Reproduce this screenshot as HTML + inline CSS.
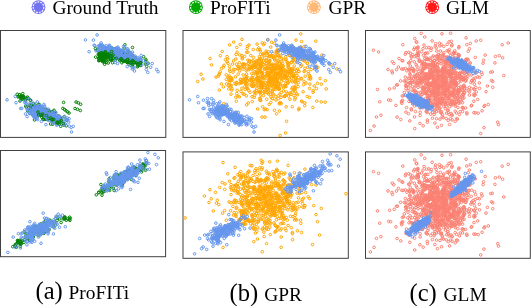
<!DOCTYPE html>
<html><head><meta charset="utf-8"><style>
html,body{margin:0;padding:0;background:#fff;width:532px;height:306px;overflow:hidden}
svg{display:block;will-change:transform}
text{font-family:'Liberation Serif', serif;fill:#000}
.s circle{r:1.3px}
</style></head><body>
<svg width="532" height="306" viewBox="0 0 532 306">
<rect x="0.5" y="30.5" width="165.30" height="106.90" fill="none" stroke="#404040" stroke-width="1"/>
<rect x="183.0" y="30.5" width="165.30" height="106.90" fill="none" stroke="#404040" stroke-width="1"/>
<rect x="365.5" y="30.5" width="164.80" height="106.90" fill="none" stroke="#404040" stroke-width="1"/>
<rect x="0.5" y="150.5" width="165.10" height="106.20" fill="none" stroke="#404040" stroke-width="1"/>
<rect x="183.0" y="151.9" width="165.30" height="106.40" fill="none" stroke="#404040" stroke-width="1"/>
<rect x="365.5" y="151.9" width="164.80" height="106.40" fill="none" stroke="#404040" stroke-width="1"/>
<g fill="none" stroke="#008000" stroke-width="1.0" class="s"><circle cx="110.3" cy="54.7" r="1.3"/><circle cx="104.4" cy="57.2" r="1.3"/><circle cx="111.9" cy="58.1" r="1.3"/><circle cx="100.7" cy="56.5" r="1.3"/><circle cx="103.5" cy="59.0" r="1.3"/><circle cx="99.0" cy="53.5" r="1.3"/><circle cx="103.1" cy="56.3" r="1.3"/><circle cx="106.6" cy="50.0" r="1.3"/><circle cx="110.3" cy="58.2" r="1.3"/><circle cx="101.8" cy="56.0" r="1.3"/><circle cx="104.5" cy="54.0" r="1.3"/><circle cx="103.1" cy="59.6" r="1.3"/><circle cx="101.5" cy="57.9" r="1.3"/><circle cx="99.7" cy="45.6" r="1.3"/><circle cx="104.7" cy="55.6" r="1.3"/><circle cx="97.6" cy="50.4" r="1.3"/><circle cx="104.9" cy="59.2" r="1.3"/><circle cx="104.6" cy="64.2" r="1.3"/><circle cx="101.9" cy="53.7" r="1.3"/><circle cx="100.5" cy="55.8" r="1.3"/><circle cx="99.0" cy="54.6" r="1.3"/><circle cx="112.0" cy="56.7" r="1.3"/><circle cx="99.1" cy="57.8" r="1.3"/><circle cx="110.7" cy="60.0" r="1.3"/><circle cx="106.9" cy="52.0" r="1.3"/><circle cx="103.0" cy="61.0" r="1.3"/><circle cx="99.9" cy="52.2" r="1.3"/><circle cx="108.7" cy="56.5" r="1.3"/><circle cx="111.4" cy="59.6" r="1.3"/><circle cx="100.8" cy="58.0" r="1.3"/><circle cx="103.3" cy="52.2" r="1.3"/><circle cx="108.7" cy="53.0" r="1.3"/><circle cx="105.8" cy="53.9" r="1.3"/><circle cx="112.5" cy="55.3" r="1.3"/><circle cx="102.2" cy="59.5" r="1.3"/><circle cx="106.7" cy="51.0" r="1.3"/><circle cx="99.5" cy="57.1" r="1.3"/><circle cx="112.9" cy="57.6" r="1.3"/><circle cx="101.6" cy="57.5" r="1.3"/><circle cx="95.7" cy="57.1" r="1.3"/><circle cx="104.0" cy="60.8" r="1.3"/><circle cx="103.9" cy="57.2" r="1.3"/><circle cx="112.2" cy="58.5" r="1.3"/><circle cx="103.1" cy="57.5" r="1.3"/><circle cx="104.4" cy="61.8" r="1.3"/><circle cx="106.9" cy="48.9" r="1.3"/><circle cx="110.8" cy="60.0" r="1.3"/><circle cx="104.2" cy="54.6" r="1.3"/><circle cx="108.7" cy="54.5" r="1.3"/><circle cx="106.6" cy="52.1" r="1.3"/><circle cx="103.3" cy="49.0" r="1.3"/><circle cx="104.8" cy="54.2" r="1.3"/><circle cx="104.6" cy="53.1" r="1.3"/><circle cx="100.8" cy="57.2" r="1.3"/><circle cx="109.4" cy="50.3" r="1.3"/><circle cx="99.0" cy="60.5" r="1.3"/><circle cx="109.2" cy="56.5" r="1.3"/><circle cx="108.3" cy="54.6" r="1.3"/><circle cx="104.1" cy="53.0" r="1.3"/><circle cx="101.4" cy="52.7" r="1.3"/><circle cx="110.2" cy="49.7" r="1.3"/><circle cx="115.5" cy="52.5" r="1.3"/><circle cx="121.2" cy="52.8" r="1.3"/><circle cx="118.6" cy="55.1" r="1.3"/><circle cx="106.7" cy="51.8" r="1.3"/><circle cx="117.9" cy="54.4" r="1.3"/><circle cx="112.3" cy="51.1" r="1.3"/><circle cx="124.9" cy="44.8" r="1.3"/><circle cx="138.4" cy="60.1" r="1.3"/><circle cx="128.0" cy="51.1" r="1.3"/><circle cx="117.3" cy="54.9" r="1.3"/><circle cx="103.9" cy="54.1" r="1.3"/><circle cx="106.6" cy="52.1" r="1.3"/><circle cx="104.5" cy="49.5" r="1.3"/><circle cx="127.7" cy="56.4" r="1.3"/><circle cx="113.2" cy="52.6" r="1.3"/><circle cx="121.5" cy="53.6" r="1.3"/><circle cx="114.9" cy="51.7" r="1.3"/><circle cx="122.1" cy="52.6" r="1.3"/><circle cx="133.1" cy="62.1" r="1.3"/><circle cx="113.9" cy="53.2" r="1.3"/><circle cx="116.5" cy="56.9" r="1.3"/><circle cx="112.9" cy="52.2" r="1.3"/><circle cx="128.9" cy="57.5" r="1.3"/><circle cx="110.7" cy="51.9" r="1.3"/><circle cx="109.2" cy="53.4" r="1.3"/><circle cx="106.5" cy="53.8" r="1.3"/><circle cx="106.7" cy="52.0" r="1.3"/><circle cx="125.6" cy="54.3" r="1.3"/><circle cx="145.9" cy="59.4" r="1.3"/><circle cx="109.6" cy="57.2" r="1.3"/><circle cx="129.9" cy="56.7" r="1.3"/><circle cx="123.2" cy="54.8" r="1.3"/><circle cx="108.7" cy="56.4" r="1.3"/><circle cx="117.0" cy="57.4" r="1.3"/><circle cx="117.8" cy="55.9" r="1.3"/><circle cx="114.1" cy="52.1" r="1.3"/><circle cx="137.3" cy="66.8" r="1.3"/><circle cx="101.8" cy="51.2" r="1.3"/><circle cx="123.8" cy="57.6" r="1.3"/><circle cx="123.8" cy="55.4" r="1.3"/><circle cx="116.0" cy="49.4" r="1.3"/><circle cx="123.0" cy="51.5" r="1.3"/><circle cx="128.7" cy="58.5" r="1.3"/><circle cx="121.7" cy="56.5" r="1.3"/><circle cx="124.7" cy="55.4" r="1.3"/><circle cx="128.1" cy="53.4" r="1.3"/><circle cx="102.0" cy="45.6" r="1.3"/><circle cx="135.0" cy="57.9" r="1.3"/><circle cx="143.6" cy="56.7" r="1.3"/><circle cx="129.3" cy="60.1" r="1.3"/><circle cx="129.4" cy="61.0" r="1.3"/><circle cx="104.7" cy="59.6" r="1.3"/><circle cx="118.7" cy="57.2" r="1.3"/><circle cx="113.1" cy="51.2" r="1.3"/><circle cx="115.5" cy="51.0" r="1.3"/><circle cx="132.5" cy="47.5" r="1.3"/><circle cx="113.2" cy="51.2" r="1.3"/><circle cx="119.4" cy="54.2" r="1.3"/><circle cx="101.3" cy="52.9" r="1.3"/><circle cx="118.5" cy="56.4" r="1.3"/><circle cx="120.9" cy="56.9" r="1.3"/><circle cx="113.5" cy="53.8" r="1.3"/><circle cx="113.0" cy="55.1" r="1.3"/><circle cx="137.6" cy="64.1" r="1.3"/><circle cx="109.6" cy="48.8" r="1.3"/><circle cx="110.7" cy="51.0" r="1.3"/><circle cx="113.8" cy="48.9" r="1.3"/><circle cx="130.8" cy="62.8" r="1.3"/><circle cx="139.8" cy="64.2" r="1.3"/><circle cx="123.1" cy="58.0" r="1.3"/><circle cx="114.5" cy="49.7" r="1.3"/><circle cx="116.2" cy="54.4" r="1.3"/><circle cx="131.0" cy="57.1" r="1.3"/><circle cx="111.6" cy="52.9" r="1.3"/><circle cx="134.7" cy="58.2" r="1.3"/><circle cx="133.8" cy="60.2" r="1.3"/><circle cx="121.5" cy="54.0" r="1.3"/><circle cx="126.1" cy="59.1" r="1.3"/><circle cx="127.6" cy="57.6" r="1.3"/><circle cx="135.7" cy="58.2" r="1.3"/><circle cx="110.4" cy="52.0" r="1.3"/><circle cx="132.3" cy="56.8" r="1.3"/><circle cx="116.2" cy="56.4" r="1.3"/><circle cx="113.3" cy="52.2" r="1.3"/><circle cx="121.3" cy="56.1" r="1.3"/><circle cx="118.7" cy="53.3" r="1.3"/><circle cx="112.1" cy="48.1" r="1.3"/><circle cx="104.4" cy="53.5" r="1.3"/><circle cx="112.2" cy="49.5" r="1.3"/><circle cx="134.0" cy="60.7" r="1.3"/><circle cx="139.1" cy="61.3" r="1.3"/><circle cx="128.1" cy="51.9" r="1.3"/><circle cx="132.7" cy="55.3" r="1.3"/><circle cx="115.9" cy="52.2" r="1.3"/><circle cx="120.4" cy="52.4" r="1.3"/><circle cx="124.1" cy="52.3" r="1.3"/><circle cx="109.5" cy="54.3" r="1.3"/><circle cx="111.1" cy="51.7" r="1.3"/><circle cx="121.1" cy="56.4" r="1.3"/><circle cx="117.7" cy="52.9" r="1.3"/><circle cx="110.0" cy="53.1" r="1.3"/><circle cx="124.8" cy="53.8" r="1.3"/><circle cx="118.0" cy="54.2" r="1.3"/><circle cx="129.9" cy="59.3" r="1.3"/><circle cx="120.4" cy="55.1" r="1.3"/><circle cx="118.0" cy="52.9" r="1.3"/><circle cx="122.6" cy="52.2" r="1.3"/><circle cx="118.7" cy="55.0" r="1.3"/><circle cx="113.8" cy="54.3" r="1.3"/><circle cx="116.8" cy="53.2" r="1.3"/><circle cx="128.3" cy="54.7" r="1.3"/><circle cx="126.3" cy="58.2" r="1.3"/><circle cx="131.0" cy="65.5" r="1.3"/><circle cx="104.4" cy="49.7" r="1.3"/><circle cx="116.4" cy="55.0" r="1.3"/><circle cx="116.2" cy="55.0" r="1.3"/><circle cx="124.2" cy="48.0" r="1.3"/><circle cx="116.0" cy="54.2" r="1.3"/><circle cx="116.1" cy="51.6" r="1.3"/><circle cx="127.0" cy="61.0" r="1.3"/><circle cx="122.4" cy="54.7" r="1.3"/><circle cx="109.8" cy="49.7" r="1.3"/><circle cx="133.6" cy="57.8" r="1.3"/><circle cx="130.0" cy="58.1" r="1.3"/><circle cx="115.4" cy="51.9" r="1.3"/><circle cx="128.6" cy="57.0" r="1.3"/><circle cx="114.5" cy="49.2" r="1.3"/><circle cx="131.5" cy="57.3" r="1.3"/><circle cx="117.8" cy="56.7" r="1.3"/><circle cx="148.2" cy="63.4" r="1.3"/><circle cx="136.9" cy="61.8" r="1.3"/><circle cx="132.9" cy="62.0" r="1.3"/><circle cx="141.1" cy="62.5" r="1.3"/><circle cx="139.3" cy="64.5" r="1.3"/><circle cx="145.3" cy="64.0" r="1.3"/><circle cx="140.1" cy="63.2" r="1.3"/><circle cx="129.5" cy="61.3" r="1.3"/><circle cx="132.6" cy="62.9" r="1.3"/><circle cx="132.2" cy="61.1" r="1.3"/><circle cx="132.9" cy="63.6" r="1.3"/><circle cx="132.2" cy="62.5" r="1.3"/><circle cx="123.5" cy="60.5" r="1.3"/><circle cx="111.8" cy="58.3" r="1.3"/><circle cx="124.4" cy="61.2" r="1.3"/><circle cx="112.3" cy="59.8" r="1.3"/><circle cx="130.9" cy="63.0" r="1.3"/><circle cx="130.4" cy="62.1" r="1.3"/><circle cx="115.4" cy="60.2" r="1.3"/><circle cx="136.6" cy="62.8" r="1.3"/><circle cx="137.9" cy="64.7" r="1.3"/><circle cx="131.4" cy="61.6" r="1.3"/><circle cx="145.8" cy="61.0" r="1.3"/><circle cx="146.7" cy="66.4" r="1.3"/><circle cx="119.8" cy="59.8" r="1.3"/><circle cx="140.0" cy="61.4" r="1.3"/><circle cx="134.5" cy="61.9" r="1.3"/><circle cx="134.4" cy="60.8" r="1.3"/><circle cx="138.2" cy="66.1" r="1.3"/><circle cx="124.0" cy="61.1" r="1.3"/><circle cx="125.7" cy="58.3" r="1.3"/><circle cx="123.0" cy="61.0" r="1.3"/><circle cx="123.9" cy="59.7" r="1.3"/><circle cx="129.1" cy="64.2" r="1.3"/><circle cx="117.9" cy="57.7" r="1.3"/><circle cx="121.8" cy="56.5" r="1.3"/><circle cx="135.6" cy="62.5" r="1.3"/><circle cx="130.0" cy="60.9" r="1.3"/><circle cx="134.0" cy="61.5" r="1.3"/><circle cx="114.3" cy="55.4" r="1.3"/><circle cx="46.5" cy="116.7" r="1.3"/><circle cx="58.0" cy="121.5" r="1.3"/><circle cx="25.7" cy="106.0" r="1.3"/><circle cx="52.7" cy="121.0" r="1.3"/><circle cx="37.7" cy="112.1" r="1.3"/><circle cx="63.8" cy="125.1" r="1.3"/><circle cx="49.0" cy="111.5" r="1.3"/><circle cx="41.1" cy="113.7" r="1.3"/><circle cx="50.6" cy="124.0" r="1.3"/><circle cx="49.0" cy="113.7" r="1.3"/><circle cx="38.3" cy="110.1" r="1.3"/><circle cx="48.7" cy="118.6" r="1.3"/><circle cx="37.6" cy="113.6" r="1.3"/><circle cx="26.4" cy="107.3" r="1.3"/><circle cx="64.1" cy="116.9" r="1.3"/><circle cx="39.7" cy="113.0" r="1.3"/><circle cx="39.6" cy="107.0" r="1.3"/><circle cx="47.7" cy="112.0" r="1.3"/><circle cx="28.6" cy="108.0" r="1.3"/><circle cx="31.6" cy="106.4" r="1.3"/><circle cx="37.9" cy="113.2" r="1.3"/><circle cx="34.5" cy="119.9" r="1.3"/><circle cx="43.1" cy="115.6" r="1.3"/><circle cx="52.7" cy="119.8" r="1.3"/><circle cx="40.4" cy="108.4" r="1.3"/><circle cx="48.8" cy="113.2" r="1.3"/><circle cx="50.4" cy="112.5" r="1.3"/><circle cx="34.4" cy="106.9" r="1.3"/><circle cx="47.0" cy="110.8" r="1.3"/><circle cx="35.8" cy="107.1" r="1.3"/><circle cx="53.4" cy="116.9" r="1.3"/><circle cx="49.0" cy="112.0" r="1.3"/><circle cx="45.6" cy="109.0" r="1.3"/><circle cx="33.2" cy="103.4" r="1.3"/><circle cx="43.9" cy="114.8" r="1.3"/><circle cx="36.5" cy="109.9" r="1.3"/><circle cx="48.5" cy="119.0" r="1.3"/><circle cx="41.0" cy="115.5" r="1.3"/><circle cx="36.6" cy="108.6" r="1.3"/><circle cx="51.0" cy="118.9" r="1.3"/><circle cx="52.0" cy="111.9" r="1.3"/><circle cx="35.0" cy="117.1" r="1.3"/><circle cx="52.4" cy="121.4" r="1.3"/><circle cx="41.1" cy="111.1" r="1.3"/><circle cx="42.3" cy="108.3" r="1.3"/><circle cx="44.1" cy="114.6" r="1.3"/><circle cx="39.2" cy="104.4" r="1.3"/><circle cx="40.6" cy="108.9" r="1.3"/><circle cx="41.0" cy="114.5" r="1.3"/><circle cx="57.3" cy="119.7" r="1.3"/><circle cx="57.8" cy="117.9" r="1.3"/><circle cx="39.9" cy="114.7" r="1.3"/><circle cx="59.5" cy="116.8" r="1.3"/><circle cx="42.7" cy="113.6" r="1.3"/><circle cx="47.6" cy="113.2" r="1.3"/><circle cx="52.7" cy="114.3" r="1.3"/><circle cx="45.5" cy="115.6" r="1.3"/><circle cx="66.7" cy="120.3" r="1.3"/><circle cx="43.1" cy="119.5" r="1.3"/><circle cx="33.4" cy="106.2" r="1.3"/><circle cx="52.6" cy="124.3" r="1.3"/><circle cx="41.2" cy="108.1" r="1.3"/><circle cx="39.9" cy="113.5" r="1.3"/><circle cx="18.0" cy="96.9" r="1.3"/><circle cx="54.4" cy="113.3" r="1.3"/><circle cx="50.7" cy="116.9" r="1.3"/><circle cx="49.8" cy="118.3" r="1.3"/><circle cx="54.1" cy="113.4" r="1.3"/><circle cx="57.2" cy="123.6" r="1.3"/><circle cx="44.2" cy="110.5" r="1.3"/><circle cx="51.8" cy="117.3" r="1.3"/><circle cx="36.2" cy="111.0" r="1.3"/><circle cx="39.5" cy="113.2" r="1.3"/><circle cx="55.5" cy="112.3" r="1.3"/><circle cx="44.9" cy="119.3" r="1.3"/><circle cx="30.7" cy="109.0" r="1.3"/><circle cx="47.4" cy="113.3" r="1.3"/><circle cx="43.2" cy="109.3" r="1.3"/><circle cx="38.4" cy="104.6" r="1.3"/><circle cx="49.3" cy="110.9" r="1.3"/><circle cx="39.1" cy="112.9" r="1.3"/><circle cx="29.7" cy="105.4" r="1.3"/><circle cx="35.0" cy="105.0" r="1.3"/><circle cx="60.2" cy="118.9" r="1.3"/><circle cx="27.7" cy="111.1" r="1.3"/><circle cx="46.0" cy="113.0" r="1.3"/><circle cx="49.8" cy="113.9" r="1.3"/><circle cx="47.5" cy="119.6" r="1.3"/><circle cx="31.8" cy="109.2" r="1.3"/><circle cx="40.5" cy="111.8" r="1.3"/><circle cx="45.6" cy="111.8" r="1.3"/><circle cx="52.9" cy="111.9" r="1.3"/><circle cx="39.2" cy="106.9" r="1.3"/><circle cx="33.6" cy="106.7" r="1.3"/><circle cx="52.9" cy="116.6" r="1.3"/><circle cx="53.0" cy="118.7" r="1.3"/><circle cx="46.1" cy="116.2" r="1.3"/><circle cx="37.7" cy="111.1" r="1.3"/><circle cx="46.9" cy="115.4" r="1.3"/><circle cx="45.9" cy="110.5" r="1.3"/><circle cx="54.0" cy="110.3" r="1.3"/><circle cx="32.9" cy="106.2" r="1.3"/><circle cx="45.8" cy="110.7" r="1.3"/><circle cx="42.9" cy="110.4" r="1.3"/><circle cx="33.8" cy="107.5" r="1.3"/><circle cx="47.1" cy="110.3" r="1.3"/><circle cx="45.3" cy="109.9" r="1.3"/><circle cx="39.9" cy="111.0" r="1.3"/><circle cx="46.9" cy="115.0" r="1.3"/><circle cx="31.5" cy="105.1" r="1.3"/><circle cx="42.3" cy="114.2" r="1.3"/><circle cx="47.7" cy="114.2" r="1.3"/><circle cx="47.5" cy="111.2" r="1.3"/><circle cx="53.2" cy="117.7" r="1.3"/><circle cx="30.1" cy="113.4" r="1.3"/><circle cx="30.7" cy="104.7" r="1.3"/><circle cx="44.1" cy="117.4" r="1.3"/><circle cx="45.8" cy="118.9" r="1.3"/><circle cx="60.7" cy="126.3" r="1.3"/><circle cx="50.2" cy="113.2" r="1.3"/><circle cx="32.9" cy="115.2" r="1.3"/><circle cx="50.6" cy="116.7" r="1.3"/><circle cx="36.2" cy="108.7" r="1.3"/><circle cx="30.3" cy="106.1" r="1.3"/><circle cx="66.3" cy="125.8" r="1.3"/><circle cx="46.4" cy="114.5" r="1.3"/><circle cx="50.2" cy="115.5" r="1.3"/><circle cx="46.9" cy="119.1" r="1.3"/><circle cx="60.9" cy="118.6" r="1.3"/><circle cx="47.5" cy="111.2" r="1.3"/><circle cx="53.5" cy="120.4" r="1.3"/><circle cx="33.2" cy="110.7" r="1.3"/><circle cx="29.4" cy="110.3" r="1.3"/><circle cx="57.9" cy="115.9" r="1.3"/><circle cx="55.4" cy="122.4" r="1.3"/><circle cx="47.5" cy="116.6" r="1.3"/><circle cx="43.2" cy="119.1" r="1.3"/><circle cx="46.7" cy="110.1" r="1.3"/><circle cx="37.0" cy="110.7" r="1.3"/><circle cx="57.8" cy="118.7" r="1.3"/><circle cx="19.6" cy="94.7" r="1.3"/><circle cx="22.8" cy="93.6" r="1.3"/><circle cx="27.4" cy="97.1" r="1.3"/><circle cx="22.7" cy="96.1" r="1.3"/><circle cx="21.5" cy="97.1" r="1.3"/><circle cx="25.6" cy="99.8" r="1.3"/><circle cx="26.4" cy="98.8" r="1.3"/><circle cx="26.6" cy="98.0" r="1.3"/><circle cx="21.2" cy="97.4" r="1.3"/><circle cx="23.8" cy="96.6" r="1.3"/><circle cx="26.4" cy="99.0" r="1.3"/><circle cx="22.0" cy="96.4" r="1.3"/><circle cx="20.0" cy="101.0" r="1.3"/><circle cx="25.4" cy="100.0" r="1.3"/><circle cx="28.3" cy="98.4" r="1.3"/><circle cx="63.6" cy="102.4" r="1.3"/><circle cx="76.1" cy="102.0" r="1.3"/><circle cx="78.3" cy="102.8" r="1.3"/><circle cx="80.6" cy="104.3" r="1.3"/><circle cx="62.9" cy="108.4" r="1.3"/><circle cx="64.5" cy="109.5" r="1.3"/><circle cx="66.0" cy="110.7" r="1.3"/><circle cx="67.5" cy="111.8" r="1.3"/><circle cx="69.0" cy="113.0" r="1.3"/><circle cx="75.0" cy="108.5" r="1.3"/><circle cx="77.5" cy="109.3" r="1.3"/><circle cx="80.3" cy="110.5" r="1.3"/></g>
<g fill="none" stroke="#6495ed" stroke-width="1.0" class="s"><circle cx="118.3" cy="54.8" r="1.3"/><circle cx="122.8" cy="50.2" r="1.3"/><circle cx="115.3" cy="55.0" r="1.3"/><circle cx="111.2" cy="47.5" r="1.3"/><circle cx="113.6" cy="54.3" r="1.3"/><circle cx="109.6" cy="49.2" r="1.3"/><circle cx="118.5" cy="55.9" r="1.3"/><circle cx="131.2" cy="58.3" r="1.3"/><circle cx="114.9" cy="49.1" r="1.3"/><circle cx="111.7" cy="54.9" r="1.3"/><circle cx="122.2" cy="58.6" r="1.3"/><circle cx="121.9" cy="54.9" r="1.3"/><circle cx="119.7" cy="53.7" r="1.3"/><circle cx="109.7" cy="50.9" r="1.3"/><circle cx="118.9" cy="51.8" r="1.3"/><circle cx="124.4" cy="58.5" r="1.3"/><circle cx="106.1" cy="48.8" r="1.3"/><circle cx="114.2" cy="52.5" r="1.3"/><circle cx="100.9" cy="46.5" r="1.3"/><circle cx="106.6" cy="48.7" r="1.3"/><circle cx="101.8" cy="45.7" r="1.3"/><circle cx="115.4" cy="56.1" r="1.3"/><circle cx="106.5" cy="49.9" r="1.3"/><circle cx="120.4" cy="56.9" r="1.3"/><circle cx="120.0" cy="54.5" r="1.3"/><circle cx="117.2" cy="51.9" r="1.3"/><circle cx="94.7" cy="45.7" r="1.3"/><circle cx="113.7" cy="51.2" r="1.3"/><circle cx="118.0" cy="53.9" r="1.3"/><circle cx="119.8" cy="53.5" r="1.3"/><circle cx="104.1" cy="48.7" r="1.3"/><circle cx="114.9" cy="49.5" r="1.3"/><circle cx="109.7" cy="49.3" r="1.3"/><circle cx="109.6" cy="55.2" r="1.3"/><circle cx="129.1" cy="55.7" r="1.3"/><circle cx="111.5" cy="49.3" r="1.3"/><circle cx="118.0" cy="54.6" r="1.3"/><circle cx="126.0" cy="59.7" r="1.3"/><circle cx="113.9" cy="49.1" r="1.3"/><circle cx="117.6" cy="53.2" r="1.3"/><circle cx="120.0" cy="52.9" r="1.3"/><circle cx="120.3" cy="50.3" r="1.3"/><circle cx="106.3" cy="51.9" r="1.3"/><circle cx="119.2" cy="54.2" r="1.3"/><circle cx="131.4" cy="58.2" r="1.3"/><circle cx="104.3" cy="47.7" r="1.3"/><circle cx="126.4" cy="57.6" r="1.3"/><circle cx="120.0" cy="53.2" r="1.3"/><circle cx="112.5" cy="51.8" r="1.3"/><circle cx="138.3" cy="57.6" r="1.3"/><circle cx="126.6" cy="53.6" r="1.3"/><circle cx="106.1" cy="53.3" r="1.3"/><circle cx="119.6" cy="53.1" r="1.3"/><circle cx="123.8" cy="56.4" r="1.3"/><circle cx="116.7" cy="53.4" r="1.3"/><circle cx="125.3" cy="55.1" r="1.3"/><circle cx="118.2" cy="52.7" r="1.3"/><circle cx="124.4" cy="57.4" r="1.3"/><circle cx="132.4" cy="57.7" r="1.3"/><circle cx="112.2" cy="51.6" r="1.3"/><circle cx="120.4" cy="54.7" r="1.3"/><circle cx="113.3" cy="55.2" r="1.3"/><circle cx="119.2" cy="55.9" r="1.3"/><circle cx="106.9" cy="51.3" r="1.3"/><circle cx="113.4" cy="51.0" r="1.3"/><circle cx="117.6" cy="50.4" r="1.3"/><circle cx="126.4" cy="58.8" r="1.3"/><circle cx="128.8" cy="59.6" r="1.3"/><circle cx="106.0" cy="49.7" r="1.3"/><circle cx="110.5" cy="52.8" r="1.3"/><circle cx="124.1" cy="57.7" r="1.3"/><circle cx="98.9" cy="49.8" r="1.3"/><circle cx="113.4" cy="54.6" r="1.3"/><circle cx="117.9" cy="52.7" r="1.3"/><circle cx="129.4" cy="61.1" r="1.3"/><circle cx="125.9" cy="53.3" r="1.3"/><circle cx="114.8" cy="54.9" r="1.3"/><circle cx="114.6" cy="54.0" r="1.3"/><circle cx="115.5" cy="55.2" r="1.3"/><circle cx="131.7" cy="62.7" r="1.3"/><circle cx="113.4" cy="56.0" r="1.3"/><circle cx="116.4" cy="50.6" r="1.3"/><circle cx="123.0" cy="51.4" r="1.3"/><circle cx="116.8" cy="55.4" r="1.3"/><circle cx="117.3" cy="51.2" r="1.3"/><circle cx="107.9" cy="50.6" r="1.3"/><circle cx="117.8" cy="55.8" r="1.3"/><circle cx="115.4" cy="49.1" r="1.3"/><circle cx="131.1" cy="52.9" r="1.3"/><circle cx="124.5" cy="56.5" r="1.3"/><circle cx="118.2" cy="54.0" r="1.3"/><circle cx="125.0" cy="55.5" r="1.3"/><circle cx="115.2" cy="53.1" r="1.3"/><circle cx="129.1" cy="55.3" r="1.3"/><circle cx="119.5" cy="50.7" r="1.3"/><circle cx="124.2" cy="55.4" r="1.3"/><circle cx="106.9" cy="48.0" r="1.3"/><circle cx="122.9" cy="51.4" r="1.3"/><circle cx="102.0" cy="50.0" r="1.3"/><circle cx="99.1" cy="47.7" r="1.3"/><circle cx="115.3" cy="54.0" r="1.3"/><circle cx="110.6" cy="49.1" r="1.3"/><circle cx="120.5" cy="53.0" r="1.3"/><circle cx="140.6" cy="58.6" r="1.3"/><circle cx="111.2" cy="49.6" r="1.3"/><circle cx="112.4" cy="52.6" r="1.3"/><circle cx="121.0" cy="52.9" r="1.3"/><circle cx="123.0" cy="56.3" r="1.3"/><circle cx="116.6" cy="54.2" r="1.3"/><circle cx="115.1" cy="57.8" r="1.3"/><circle cx="126.2" cy="53.1" r="1.3"/><circle cx="122.8" cy="57.5" r="1.3"/><circle cx="108.7" cy="50.7" r="1.3"/><circle cx="117.8" cy="53.7" r="1.3"/><circle cx="119.8" cy="50.9" r="1.3"/><circle cx="108.8" cy="49.8" r="1.3"/><circle cx="120.5" cy="56.4" r="1.3"/><circle cx="110.4" cy="51.2" r="1.3"/><circle cx="127.7" cy="57.1" r="1.3"/><circle cx="120.5" cy="53.9" r="1.3"/><circle cx="118.6" cy="56.8" r="1.3"/><circle cx="112.9" cy="52.2" r="1.3"/><circle cx="118.9" cy="48.8" r="1.3"/><circle cx="99.9" cy="46.5" r="1.3"/><circle cx="109.1" cy="46.3" r="1.3"/><circle cx="85.4" cy="39.9" r="1.3"/><circle cx="112.2" cy="54.7" r="1.3"/><circle cx="130.4" cy="65.0" r="1.3"/><circle cx="119.4" cy="52.8" r="1.3"/><circle cx="107.0" cy="47.5" r="1.3"/><circle cx="108.4" cy="51.7" r="1.3"/><circle cx="130.4" cy="57.7" r="1.3"/><circle cx="121.5" cy="50.3" r="1.3"/><circle cx="118.4" cy="56.1" r="1.3"/><circle cx="115.2" cy="62.5" r="1.3"/><circle cx="119.3" cy="53.0" r="1.3"/><circle cx="127.2" cy="55.8" r="1.3"/><circle cx="125.7" cy="51.3" r="1.3"/><circle cx="120.3" cy="56.1" r="1.3"/><circle cx="109.2" cy="45.2" r="1.3"/><circle cx="125.4" cy="50.9" r="1.3"/><circle cx="109.6" cy="57.2" r="1.3"/><circle cx="131.2" cy="53.7" r="1.3"/><circle cx="103.7" cy="54.4" r="1.3"/><circle cx="115.0" cy="60.1" r="1.3"/><circle cx="118.1" cy="55.1" r="1.3"/><circle cx="103.9" cy="52.0" r="1.3"/><circle cx="133.9" cy="68.1" r="1.3"/><circle cx="134.1" cy="58.0" r="1.3"/><circle cx="114.4" cy="49.9" r="1.3"/><circle cx="128.4" cy="50.7" r="1.3"/><circle cx="122.4" cy="55.4" r="1.3"/><circle cx="89.1" cy="51.7" r="1.3"/><circle cx="119.8" cy="58.9" r="1.3"/><circle cx="119.1" cy="49.8" r="1.3"/><circle cx="120.5" cy="50.6" r="1.3"/><circle cx="107.9" cy="48.3" r="1.3"/><circle cx="115.3" cy="54.4" r="1.3"/><circle cx="116.9" cy="52.5" r="1.3"/><circle cx="130.7" cy="58.9" r="1.3"/><circle cx="121.6" cy="56.4" r="1.3"/><circle cx="118.8" cy="52.7" r="1.3"/><circle cx="134.6" cy="58.9" r="1.3"/><circle cx="112.4" cy="53.1" r="1.3"/><circle cx="114.5" cy="52.4" r="1.3"/><circle cx="98.8" cy="50.2" r="1.3"/><circle cx="132.4" cy="67.2" r="1.3"/><circle cx="127.8" cy="59.7" r="1.3"/><circle cx="128.0" cy="57.3" r="1.3"/><circle cx="127.8" cy="49.0" r="1.3"/><circle cx="119.1" cy="56.0" r="1.3"/><circle cx="123.4" cy="46.4" r="1.3"/><circle cx="117.8" cy="47.1" r="1.3"/><circle cx="115.2" cy="57.0" r="1.3"/><circle cx="118.1" cy="57.2" r="1.3"/><circle cx="134.6" cy="58.4" r="1.3"/><circle cx="126.6" cy="48.5" r="1.3"/><circle cx="118.4" cy="52.2" r="1.3"/><circle cx="113.3" cy="49.2" r="1.3"/><circle cx="111.0" cy="54.6" r="1.3"/><circle cx="132.3" cy="69.0" r="1.3"/><circle cx="123.5" cy="56.6" r="1.3"/><circle cx="120.3" cy="50.9" r="1.3"/><circle cx="116.5" cy="47.8" r="1.3"/><circle cx="106.9" cy="50.1" r="1.3"/><circle cx="118.0" cy="53.0" r="1.3"/><circle cx="129.2" cy="51.9" r="1.3"/><circle cx="114.2" cy="53.2" r="1.3"/><circle cx="117.7" cy="48.3" r="1.3"/><circle cx="114.7" cy="58.0" r="1.3"/><circle cx="118.2" cy="58.9" r="1.3"/><circle cx="100.3" cy="53.4" r="1.3"/><circle cx="116.7" cy="51.2" r="1.3"/><circle cx="108.8" cy="53.4" r="1.3"/><circle cx="128.0" cy="56.4" r="1.3"/><circle cx="102.1" cy="51.4" r="1.3"/><circle cx="102.9" cy="49.5" r="1.3"/><circle cx="100.4" cy="44.7" r="1.3"/><circle cx="99.4" cy="46.0" r="1.3"/><circle cx="107.9" cy="48.7" r="1.3"/><circle cx="103.8" cy="48.6" r="1.3"/><circle cx="105.8" cy="47.8" r="1.3"/><circle cx="109.0" cy="48.0" r="1.3"/><circle cx="98.1" cy="46.2" r="1.3"/><circle cx="102.3" cy="45.3" r="1.3"/><circle cx="106.2" cy="45.8" r="1.3"/><circle cx="106.0" cy="49.3" r="1.3"/><circle cx="102.3" cy="50.9" r="1.3"/><circle cx="109.7" cy="46.1" r="1.3"/><circle cx="105.3" cy="49.3" r="1.3"/><circle cx="100.4" cy="45.8" r="1.3"/><circle cx="101.7" cy="45.3" r="1.3"/><circle cx="106.9" cy="52.2" r="1.3"/><circle cx="106.7" cy="48.2" r="1.3"/><circle cx="96.0" cy="50.8" r="1.3"/><circle cx="110.3" cy="48.5" r="1.3"/><circle cx="106.5" cy="50.7" r="1.3"/><circle cx="109.8" cy="50.0" r="1.3"/><circle cx="103.6" cy="46.5" r="1.3"/><circle cx="102.9" cy="50.2" r="1.3"/><circle cx="100.3" cy="47.3" r="1.3"/><circle cx="113.7" cy="53.6" r="1.3"/><circle cx="103.9" cy="48.7" r="1.3"/><circle cx="111.5" cy="47.9" r="1.3"/><circle cx="102.1" cy="48.0" r="1.3"/><circle cx="105.1" cy="49.3" r="1.3"/><circle cx="97.3" cy="49.6" r="1.3"/><circle cx="103.8" cy="46.1" r="1.3"/><circle cx="108.3" cy="50.0" r="1.3"/><circle cx="101.1" cy="42.9" r="1.3"/><circle cx="139.9" cy="63.3" r="1.3"/><circle cx="133.1" cy="56.7" r="1.3"/><circle cx="130.1" cy="54.5" r="1.3"/><circle cx="137.5" cy="59.7" r="1.3"/><circle cx="141.6" cy="65.3" r="1.3"/><circle cx="132.5" cy="52.1" r="1.3"/><circle cx="132.0" cy="59.7" r="1.3"/><circle cx="134.8" cy="57.0" r="1.3"/><circle cx="131.4" cy="60.7" r="1.3"/><circle cx="140.1" cy="58.9" r="1.3"/><circle cx="133.9" cy="58.5" r="1.3"/><circle cx="135.2" cy="56.2" r="1.3"/><circle cx="141.0" cy="59.5" r="1.3"/><circle cx="132.9" cy="62.1" r="1.3"/><circle cx="138.9" cy="62.9" r="1.3"/><circle cx="133.2" cy="58.0" r="1.3"/><circle cx="132.5" cy="56.6" r="1.3"/><circle cx="130.3" cy="53.4" r="1.3"/><circle cx="146.5" cy="62.9" r="1.3"/><circle cx="136.0" cy="59.9" r="1.3"/><circle cx="138.7" cy="60.7" r="1.3"/><circle cx="137.4" cy="60.3" r="1.3"/><circle cx="139.1" cy="58.5" r="1.3"/><circle cx="137.8" cy="60.4" r="1.3"/><circle cx="146.5" cy="63.7" r="1.3"/><circle cx="131.6" cy="61.4" r="1.3"/><circle cx="128.8" cy="61.7" r="1.3"/><circle cx="132.8" cy="58.5" r="1.3"/><circle cx="131.8" cy="56.6" r="1.3"/><circle cx="141.1" cy="61.6" r="1.3"/><circle cx="97.1" cy="34.9" r="1.3"/><circle cx="93.4" cy="40.1" r="1.3"/><circle cx="94.1" cy="45.2" r="1.3"/><circle cx="141.2" cy="55.5" r="1.3"/><circle cx="143.4" cy="60.7" r="1.3"/><circle cx="147.1" cy="63.6" r="1.3"/><circle cx="152.2" cy="63.6" r="1.3"/><circle cx="150.7" cy="67.3" r="1.3"/><circle cx="156.6" cy="69.5" r="1.3"/><circle cx="146.3" cy="69.5" r="1.3"/><circle cx="147.8" cy="72.4" r="1.3"/><circle cx="158.1" cy="71.7" r="1.3"/><circle cx="134.5" cy="71.0" r="1.3"/><circle cx="133.1" cy="66.6" r="1.3"/><circle cx="127.2" cy="66.6" r="1.3"/><circle cx="117.5" cy="63.6" r="1.3"/><circle cx="33.9" cy="110.3" r="1.3"/><circle cx="31.6" cy="113.8" r="1.3"/><circle cx="37.2" cy="110.8" r="1.3"/><circle cx="29.7" cy="113.6" r="1.3"/><circle cx="42.2" cy="109.1" r="1.3"/><circle cx="37.2" cy="110.1" r="1.3"/><circle cx="39.2" cy="110.9" r="1.3"/><circle cx="35.4" cy="113.2" r="1.3"/><circle cx="32.0" cy="112.9" r="1.3"/><circle cx="34.3" cy="103.8" r="1.3"/><circle cx="37.4" cy="107.4" r="1.3"/><circle cx="34.0" cy="110.9" r="1.3"/><circle cx="39.7" cy="109.3" r="1.3"/><circle cx="39.5" cy="105.9" r="1.3"/><circle cx="28.5" cy="111.4" r="1.3"/><circle cx="37.2" cy="112.8" r="1.3"/><circle cx="29.4" cy="109.6" r="1.3"/><circle cx="34.7" cy="108.0" r="1.3"/><circle cx="34.5" cy="113.8" r="1.3"/><circle cx="26.3" cy="105.5" r="1.3"/><circle cx="36.5" cy="114.9" r="1.3"/><circle cx="39.6" cy="108.3" r="1.3"/><circle cx="37.8" cy="107.8" r="1.3"/><circle cx="34.9" cy="110.7" r="1.3"/><circle cx="36.4" cy="107.8" r="1.3"/><circle cx="31.2" cy="111.1" r="1.3"/><circle cx="35.6" cy="111.3" r="1.3"/><circle cx="35.7" cy="106.7" r="1.3"/><circle cx="37.9" cy="111.4" r="1.3"/><circle cx="31.3" cy="107.1" r="1.3"/><circle cx="37.6" cy="114.6" r="1.3"/><circle cx="39.1" cy="109.2" r="1.3"/><circle cx="37.3" cy="109.2" r="1.3"/><circle cx="33.4" cy="114.1" r="1.3"/><circle cx="37.6" cy="119.7" r="1.3"/><circle cx="25.5" cy="113.9" r="1.3"/><circle cx="40.0" cy="112.2" r="1.3"/><circle cx="38.6" cy="112.3" r="1.3"/><circle cx="37.0" cy="116.8" r="1.3"/><circle cx="39.8" cy="111.4" r="1.3"/><circle cx="35.2" cy="106.3" r="1.3"/><circle cx="35.9" cy="110.8" r="1.3"/><circle cx="40.4" cy="113.9" r="1.3"/><circle cx="41.0" cy="109.2" r="1.3"/><circle cx="40.9" cy="106.0" r="1.3"/><circle cx="31.0" cy="102.8" r="1.3"/><circle cx="39.6" cy="114.4" r="1.3"/><circle cx="45.0" cy="111.1" r="1.3"/><circle cx="43.3" cy="112.8" r="1.3"/><circle cx="38.5" cy="112.2" r="1.3"/><circle cx="28.0" cy="109.6" r="1.3"/><circle cx="43.2" cy="112.0" r="1.3"/><circle cx="36.0" cy="112.3" r="1.3"/><circle cx="24.6" cy="102.3" r="1.3"/><circle cx="40.1" cy="110.6" r="1.3"/><circle cx="30.6" cy="104.2" r="1.3"/><circle cx="28.8" cy="111.9" r="1.3"/><circle cx="34.0" cy="109.5" r="1.3"/><circle cx="45.6" cy="111.4" r="1.3"/><circle cx="35.9" cy="109.0" r="1.3"/><circle cx="39.3" cy="110.9" r="1.3"/><circle cx="46.3" cy="117.3" r="1.3"/><circle cx="48.5" cy="109.3" r="1.3"/><circle cx="38.3" cy="107.3" r="1.3"/><circle cx="36.7" cy="109.2" r="1.3"/><circle cx="27.1" cy="116.6" r="1.3"/><circle cx="32.3" cy="112.6" r="1.3"/><circle cx="40.0" cy="111.6" r="1.3"/><circle cx="38.7" cy="114.3" r="1.3"/><circle cx="35.3" cy="118.1" r="1.3"/><circle cx="43.3" cy="112.5" r="1.3"/><circle cx="33.7" cy="108.0" r="1.3"/><circle cx="35.6" cy="114.9" r="1.3"/><circle cx="40.9" cy="114.3" r="1.3"/><circle cx="39.8" cy="114.6" r="1.3"/><circle cx="44.1" cy="111.7" r="1.3"/><circle cx="37.1" cy="118.3" r="1.3"/><circle cx="33.5" cy="116.0" r="1.3"/><circle cx="38.8" cy="113.7" r="1.3"/><circle cx="31.0" cy="111.0" r="1.3"/><circle cx="31.1" cy="100.5" r="1.3"/><circle cx="39.9" cy="114.4" r="1.3"/><circle cx="37.5" cy="110.2" r="1.3"/><circle cx="38.6" cy="113.1" r="1.3"/><circle cx="27.1" cy="109.5" r="1.3"/><circle cx="35.9" cy="109.0" r="1.3"/><circle cx="36.4" cy="104.0" r="1.3"/><circle cx="32.2" cy="110.3" r="1.3"/><circle cx="26.0" cy="103.5" r="1.3"/><circle cx="36.1" cy="109.1" r="1.3"/><circle cx="43.3" cy="111.0" r="1.3"/><circle cx="40.1" cy="110.7" r="1.3"/><circle cx="37.3" cy="101.9" r="1.3"/><circle cx="35.8" cy="115.0" r="1.3"/><circle cx="41.4" cy="113.5" r="1.3"/><circle cx="20.6" cy="108.5" r="1.3"/><circle cx="34.1" cy="117.3" r="1.3"/><circle cx="40.5" cy="112.3" r="1.3"/><circle cx="43.7" cy="106.5" r="1.3"/><circle cx="48.2" cy="111.8" r="1.3"/><circle cx="45.4" cy="109.5" r="1.3"/><circle cx="39.9" cy="110.0" r="1.3"/><circle cx="39.1" cy="111.9" r="1.3"/><circle cx="44.6" cy="106.1" r="1.3"/><circle cx="34.0" cy="110.9" r="1.3"/><circle cx="39.3" cy="105.9" r="1.3"/><circle cx="42.1" cy="114.0" r="1.3"/><circle cx="48.5" cy="115.0" r="1.3"/><circle cx="37.0" cy="109.6" r="1.3"/><circle cx="37.3" cy="110.6" r="1.3"/><circle cx="53.4" cy="113.2" r="1.3"/><circle cx="51.9" cy="115.4" r="1.3"/><circle cx="44.4" cy="113.9" r="1.3"/><circle cx="55.5" cy="117.5" r="1.3"/><circle cx="69.1" cy="118.7" r="1.3"/><circle cx="68.8" cy="122.1" r="1.3"/><circle cx="63.3" cy="123.3" r="1.3"/><circle cx="59.6" cy="121.1" r="1.3"/><circle cx="51.2" cy="116.0" r="1.3"/><circle cx="65.7" cy="119.7" r="1.3"/><circle cx="54.5" cy="119.3" r="1.3"/><circle cx="55.6" cy="116.5" r="1.3"/><circle cx="54.7" cy="114.5" r="1.3"/><circle cx="56.8" cy="116.4" r="1.3"/><circle cx="51.3" cy="120.2" r="1.3"/><circle cx="54.8" cy="118.3" r="1.3"/><circle cx="47.4" cy="117.8" r="1.3"/><circle cx="53.5" cy="115.9" r="1.3"/><circle cx="69.4" cy="126.2" r="1.3"/><circle cx="55.6" cy="116.4" r="1.3"/><circle cx="54.1" cy="117.0" r="1.3"/><circle cx="56.6" cy="125.2" r="1.3"/><circle cx="59.4" cy="121.6" r="1.3"/><circle cx="48.7" cy="113.9" r="1.3"/><circle cx="54.2" cy="117.3" r="1.3"/><circle cx="61.2" cy="121.2" r="1.3"/><circle cx="56.1" cy="121.5" r="1.3"/><circle cx="56.7" cy="117.2" r="1.3"/><circle cx="67.2" cy="118.0" r="1.3"/><circle cx="51.4" cy="115.6" r="1.3"/><circle cx="56.0" cy="118.3" r="1.3"/><circle cx="52.0" cy="116.9" r="1.3"/><circle cx="63.9" cy="125.0" r="1.3"/><circle cx="42.5" cy="113.6" r="1.3"/><circle cx="50.4" cy="118.1" r="1.3"/><circle cx="53.1" cy="114.1" r="1.3"/><circle cx="59.0" cy="121.8" r="1.3"/><circle cx="57.5" cy="124.4" r="1.3"/><circle cx="63.8" cy="123.5" r="1.3"/><circle cx="45.0" cy="114.5" r="1.3"/><circle cx="60.2" cy="120.3" r="1.3"/><circle cx="51.9" cy="121.4" r="1.3"/><circle cx="52.0" cy="114.1" r="1.3"/><circle cx="59.1" cy="119.2" r="1.3"/><circle cx="49.1" cy="116.7" r="1.3"/><circle cx="41.3" cy="114.3" r="1.3"/><circle cx="53.5" cy="116.0" r="1.3"/><circle cx="45.5" cy="114.8" r="1.3"/><circle cx="51.5" cy="115.7" r="1.3"/><circle cx="57.8" cy="119.3" r="1.3"/><circle cx="57.6" cy="118.5" r="1.3"/><circle cx="66.9" cy="119.5" r="1.3"/><circle cx="54.2" cy="117.4" r="1.3"/><circle cx="44.7" cy="116.0" r="1.3"/><circle cx="51.5" cy="113.8" r="1.3"/><circle cx="49.8" cy="115.0" r="1.3"/><circle cx="47.0" cy="116.3" r="1.3"/><circle cx="59.3" cy="116.7" r="1.3"/><circle cx="51.1" cy="116.7" r="1.3"/><circle cx="43.7" cy="110.4" r="1.3"/><circle cx="59.0" cy="122.5" r="1.3"/><circle cx="52.6" cy="123.1" r="1.3"/><circle cx="55.9" cy="123.6" r="1.3"/><circle cx="56.4" cy="117.8" r="1.3"/><circle cx="58.9" cy="121.4" r="1.3"/><circle cx="55.6" cy="118.4" r="1.3"/><circle cx="63.4" cy="121.5" r="1.3"/><circle cx="56.8" cy="122.7" r="1.3"/><circle cx="59.3" cy="116.0" r="1.3"/><circle cx="57.2" cy="121.5" r="1.3"/><circle cx="46.1" cy="114.1" r="1.3"/><circle cx="53.1" cy="120.8" r="1.3"/><circle cx="53.6" cy="117.8" r="1.3"/><circle cx="57.5" cy="117.0" r="1.3"/><circle cx="46.4" cy="115.1" r="1.3"/><circle cx="65.4" cy="124.0" r="1.3"/><circle cx="56.1" cy="118.4" r="1.3"/><circle cx="47.2" cy="116.0" r="1.3"/><circle cx="44.9" cy="112.3" r="1.3"/><circle cx="55.7" cy="112.3" r="1.3"/><circle cx="54.1" cy="119.9" r="1.3"/><circle cx="50.2" cy="117.7" r="1.3"/><circle cx="56.0" cy="118.6" r="1.3"/><circle cx="51.3" cy="116.5" r="1.3"/><circle cx="58.1" cy="121.8" r="1.3"/><circle cx="51.2" cy="115.0" r="1.3"/><circle cx="55.9" cy="116.3" r="1.3"/><circle cx="62.0" cy="120.1" r="1.3"/><circle cx="71.1" cy="127.5" r="1.3"/><circle cx="50.3" cy="112.1" r="1.3"/><circle cx="51.4" cy="119.5" r="1.3"/><circle cx="50.6" cy="114.3" r="1.3"/><circle cx="61.6" cy="117.5" r="1.3"/><circle cx="46.9" cy="117.9" r="1.3"/><circle cx="52.4" cy="116.5" r="1.3"/><circle cx="56.5" cy="114.9" r="1.3"/><circle cx="49.5" cy="114.6" r="1.3"/><circle cx="48.4" cy="117.6" r="1.3"/><circle cx="51.3" cy="119.5" r="1.3"/><circle cx="42.3" cy="111.5" r="1.3"/><circle cx="47.5" cy="119.5" r="1.3"/><circle cx="52.5" cy="115.1" r="1.3"/><circle cx="41.2" cy="107.0" r="1.3"/><circle cx="48.1" cy="116.6" r="1.3"/><circle cx="46.9" cy="109.2" r="1.3"/><circle cx="42.2" cy="107.3" r="1.3"/><circle cx="43.9" cy="104.4" r="1.3"/><circle cx="46.2" cy="113.6" r="1.3"/><circle cx="44.8" cy="115.9" r="1.3"/><circle cx="38.3" cy="116.1" r="1.3"/><circle cx="41.8" cy="111.2" r="1.3"/><circle cx="53.9" cy="122.5" r="1.3"/><circle cx="47.4" cy="114.4" r="1.3"/><circle cx="53.9" cy="116.4" r="1.3"/><circle cx="55.6" cy="120.7" r="1.3"/><circle cx="49.0" cy="120.6" r="1.3"/><circle cx="67.2" cy="120.4" r="1.3"/><circle cx="38.3" cy="109.3" r="1.3"/><circle cx="53.3" cy="115.8" r="1.3"/><circle cx="42.4" cy="112.7" r="1.3"/><circle cx="64.4" cy="116.3" r="1.3"/><circle cx="59.3" cy="124.6" r="1.3"/><circle cx="28.1" cy="104.3" r="1.3"/><circle cx="35.7" cy="112.0" r="1.3"/><circle cx="53.2" cy="112.2" r="1.3"/><circle cx="52.2" cy="118.1" r="1.3"/><circle cx="51.6" cy="118.1" r="1.3"/><circle cx="45.6" cy="111.3" r="1.3"/><circle cx="45.9" cy="124.6" r="1.3"/><circle cx="50.9" cy="117.7" r="1.3"/><circle cx="41.4" cy="121.4" r="1.3"/><circle cx="53.2" cy="121.8" r="1.3"/><circle cx="25.8" cy="102.0" r="1.3"/><circle cx="52.1" cy="114.1" r="1.3"/><circle cx="35.1" cy="111.6" r="1.3"/><circle cx="7.0" cy="99.8" r="1.3"/><circle cx="15.2" cy="96.5" r="1.3"/><circle cx="16.0" cy="102.7" r="1.3"/><circle cx="20.9" cy="100.2" r="1.3"/><circle cx="21.7" cy="108.4" r="1.3"/><circle cx="25.0" cy="98.6" r="1.3"/><circle cx="29.1" cy="98.6" r="1.3"/><circle cx="73.2" cy="126.4" r="1.3"/><circle cx="71.5" cy="132.0" r="1.3"/></g>
<g fill="none" stroke="#008000" stroke-width="1.0" class="s"><circle cx="95.4" cy="48.6" r="1.3"/><circle cx="102.2" cy="57.9" r="1.3"/><circle cx="102.3" cy="57.7" r="1.3"/><circle cx="102.9" cy="54.6" r="1.3"/><circle cx="105.3" cy="51.7" r="1.3"/><circle cx="98.8" cy="60.7" r="1.3"/><circle cx="106.5" cy="56.9" r="1.3"/><circle cx="103.2" cy="59.3" r="1.3"/><circle cx="101.3" cy="60.5" r="1.3"/><circle cx="98.3" cy="54.3" r="1.3"/><circle cx="99.0" cy="58.6" r="1.3"/><circle cx="105.5" cy="55.2" r="1.3"/><circle cx="100.0" cy="55.8" r="1.3"/><circle cx="104.3" cy="55.7" r="1.3"/><circle cx="108.5" cy="56.0" r="1.3"/><circle cx="108.3" cy="59.6" r="1.3"/><circle cx="110.6" cy="56.4" r="1.3"/><circle cx="102.8" cy="55.5" r="1.3"/><circle cx="99.4" cy="55.1" r="1.3"/><circle cx="108.3" cy="57.1" r="1.3"/><circle cx="105.3" cy="53.1" r="1.3"/><circle cx="108.7" cy="54.4" r="1.3"/><circle cx="104.0" cy="55.8" r="1.3"/><circle cx="109.0" cy="54.2" r="1.3"/><circle cx="107.6" cy="55.6" r="1.3"/><circle cx="107.0" cy="54.0" r="1.3"/><circle cx="106.1" cy="62.4" r="1.3"/><circle cx="105.7" cy="60.3" r="1.3"/><circle cx="105.0" cy="57.4" r="1.3"/><circle cx="104.9" cy="55.8" r="1.3"/><circle cx="108.2" cy="63.0" r="1.3"/><circle cx="101.8" cy="57.0" r="1.3"/><circle cx="111.3" cy="55.7" r="1.3"/><circle cx="103.6" cy="57.0" r="1.3"/><circle cx="108.1" cy="57.0" r="1.3"/><circle cx="103.6" cy="60.5" r="1.3"/><circle cx="103.0" cy="55.9" r="1.3"/><circle cx="112.5" cy="62.7" r="1.3"/><circle cx="102.7" cy="53.2" r="1.3"/><circle cx="98.6" cy="58.2" r="1.3"/><circle cx="101.0" cy="52.8" r="1.3"/><circle cx="102.7" cy="61.8" r="1.3"/><circle cx="113.1" cy="54.9" r="1.3"/><circle cx="104.9" cy="55.8" r="1.3"/><circle cx="107.9" cy="59.0" r="1.3"/><circle cx="99.8" cy="60.0" r="1.3"/><circle cx="105.5" cy="52.4" r="1.3"/><circle cx="106.8" cy="54.9" r="1.3"/><circle cx="111.6" cy="51.5" r="1.3"/><circle cx="101.1" cy="56.4" r="1.3"/><circle cx="106.5" cy="55.7" r="1.3"/><circle cx="105.3" cy="54.9" r="1.3"/><circle cx="99.7" cy="53.8" r="1.3"/><circle cx="103.9" cy="54.8" r="1.3"/><circle cx="102.9" cy="53.6" r="1.3"/><circle cx="132.9" cy="60.7" r="1.3"/><circle cx="140.6" cy="62.8" r="1.3"/><circle cx="113.4" cy="58.2" r="1.3"/><circle cx="127.9" cy="59.3" r="1.3"/><circle cx="125.2" cy="61.0" r="1.3"/><circle cx="132.7" cy="60.5" r="1.3"/><circle cx="121.3" cy="58.6" r="1.3"/><circle cx="127.1" cy="62.5" r="1.3"/><circle cx="120.5" cy="59.2" r="1.3"/><circle cx="134.0" cy="62.4" r="1.3"/><circle cx="129.1" cy="62.4" r="1.3"/><circle cx="127.0" cy="62.3" r="1.3"/><circle cx="131.5" cy="61.6" r="1.3"/><circle cx="126.5" cy="61.2" r="1.3"/><circle cx="116.4" cy="58.3" r="1.3"/><circle cx="132.8" cy="64.6" r="1.3"/><circle cx="130.6" cy="62.7" r="1.3"/><circle cx="127.5" cy="59.9" r="1.3"/><circle cx="136.3" cy="62.9" r="1.3"/><circle cx="137.9" cy="64.1" r="1.3"/><circle cx="119.8" cy="60.6" r="1.3"/><circle cx="121.9" cy="62.8" r="1.3"/><circle cx="140.4" cy="65.4" r="1.3"/><circle cx="139.8" cy="62.8" r="1.3"/><circle cx="122.7" cy="60.4" r="1.3"/><circle cx="19.0" cy="96.5" r="1.3"/><circle cx="23.6" cy="97.3" r="1.3"/><circle cx="22.6" cy="99.0" r="1.3"/><circle cx="30.3" cy="100.2" r="1.3"/><circle cx="23.0" cy="97.5" r="1.3"/><circle cx="17.2" cy="94.3" r="1.3"/><circle cx="20.9" cy="96.4" r="1.3"/><circle cx="22.5" cy="98.9" r="1.3"/><circle cx="19.6" cy="94.9" r="1.3"/><circle cx="20.1" cy="97.0" r="1.3"/><circle cx="21.2" cy="98.4" r="1.3"/><circle cx="23.6" cy="97.9" r="1.3"/><circle cx="52.1" cy="119.7" r="1.3"/><circle cx="42.7" cy="114.0" r="1.3"/><circle cx="61.2" cy="120.4" r="1.3"/><circle cx="58.1" cy="123.1" r="1.3"/><circle cx="52.1" cy="119.5" r="1.3"/><circle cx="38.0" cy="112.0" r="1.3"/><circle cx="41.8" cy="117.3" r="1.3"/><circle cx="57.5" cy="122.0" r="1.3"/><circle cx="63.3" cy="123.5" r="1.3"/><circle cx="52.6" cy="119.6" r="1.3"/><circle cx="60.1" cy="121.6" r="1.3"/><circle cx="46.5" cy="115.6" r="1.3"/><circle cx="48.9" cy="118.3" r="1.3"/><circle cx="50.8" cy="117.9" r="1.3"/><circle cx="53.8" cy="119.4" r="1.3"/><circle cx="38.6" cy="115.1" r="1.3"/><circle cx="56.9" cy="122.6" r="1.3"/><circle cx="59.7" cy="123.8" r="1.3"/><circle cx="41.9" cy="115.2" r="1.3"/><circle cx="40.4" cy="114.4" r="1.3"/></g>
<g fill="none" stroke="#ffa500" stroke-width="1.0" class="s"><circle cx="242.4" cy="80.1" r="1.3"/><circle cx="253.2" cy="79.5" r="1.3"/><circle cx="229.3" cy="82.4" r="1.3"/><circle cx="309.8" cy="75.6" r="1.3"/><circle cx="292.4" cy="81.9" r="1.3"/><circle cx="279.1" cy="89.3" r="1.3"/><circle cx="273.8" cy="89.3" r="1.3"/><circle cx="259.8" cy="69.3" r="1.3"/><circle cx="260.2" cy="51.0" r="1.3"/><circle cx="282.5" cy="65.4" r="1.3"/><circle cx="253.3" cy="81.7" r="1.3"/><circle cx="296.0" cy="40.1" r="1.3"/><circle cx="258.2" cy="70.3" r="1.3"/><circle cx="249.8" cy="84.2" r="1.3"/><circle cx="297.6" cy="69.0" r="1.3"/><circle cx="265.8" cy="60.7" r="1.3"/><circle cx="281.2" cy="103.7" r="1.3"/><circle cx="259.9" cy="98.2" r="1.3"/><circle cx="219.5" cy="73.6" r="1.3"/><circle cx="281.0" cy="97.3" r="1.3"/><circle cx="239.4" cy="96.9" r="1.3"/><circle cx="292.8" cy="60.5" r="1.3"/><circle cx="234.9" cy="117.6" r="1.3"/><circle cx="228.0" cy="63.3" r="1.3"/><circle cx="275.8" cy="73.4" r="1.3"/><circle cx="278.4" cy="60.9" r="1.3"/><circle cx="271.3" cy="78.5" r="1.3"/><circle cx="242.3" cy="57.6" r="1.3"/><circle cx="288.5" cy="77.3" r="1.3"/><circle cx="236.8" cy="93.6" r="1.3"/><circle cx="258.8" cy="80.5" r="1.3"/><circle cx="251.7" cy="73.4" r="1.3"/><circle cx="260.7" cy="100.5" r="1.3"/><circle cx="287.8" cy="63.9" r="1.3"/><circle cx="255.1" cy="91.8" r="1.3"/><circle cx="281.4" cy="72.8" r="1.3"/><circle cx="284.3" cy="80.5" r="1.3"/><circle cx="231.4" cy="77.8" r="1.3"/><circle cx="243.3" cy="79.2" r="1.3"/><circle cx="260.6" cy="76.5" r="1.3"/><circle cx="256.0" cy="65.5" r="1.3"/><circle cx="275.8" cy="68.7" r="1.3"/><circle cx="226.5" cy="83.9" r="1.3"/><circle cx="284.9" cy="75.6" r="1.3"/><circle cx="285.4" cy="59.8" r="1.3"/><circle cx="265.3" cy="66.6" r="1.3"/><circle cx="238.6" cy="66.8" r="1.3"/><circle cx="269.1" cy="76.4" r="1.3"/><circle cx="257.2" cy="79.9" r="1.3"/><circle cx="281.5" cy="78.5" r="1.3"/><circle cx="267.1" cy="67.4" r="1.3"/><circle cx="285.0" cy="77.4" r="1.3"/><circle cx="259.5" cy="56.6" r="1.3"/><circle cx="300.7" cy="33.9" r="1.3"/><circle cx="218.3" cy="76.3" r="1.3"/><circle cx="246.6" cy="52.3" r="1.3"/><circle cx="279.8" cy="62.9" r="1.3"/><circle cx="235.8" cy="59.0" r="1.3"/><circle cx="285.2" cy="86.5" r="1.3"/><circle cx="242.2" cy="58.9" r="1.3"/><circle cx="271.1" cy="81.2" r="1.3"/><circle cx="248.9" cy="69.7" r="1.3"/><circle cx="259.3" cy="58.5" r="1.3"/><circle cx="272.8" cy="53.4" r="1.3"/><circle cx="266.7" cy="83.9" r="1.3"/><circle cx="260.6" cy="82.7" r="1.3"/><circle cx="316.4" cy="88.5" r="1.3"/><circle cx="269.2" cy="104.4" r="1.3"/><circle cx="247.7" cy="81.0" r="1.3"/><circle cx="289.4" cy="81.1" r="1.3"/><circle cx="287.1" cy="75.0" r="1.3"/><circle cx="295.9" cy="78.4" r="1.3"/><circle cx="308.3" cy="71.6" r="1.3"/><circle cx="248.3" cy="63.4" r="1.3"/><circle cx="292.3" cy="106.7" r="1.3"/><circle cx="294.1" cy="48.9" r="1.3"/><circle cx="269.0" cy="80.6" r="1.3"/><circle cx="274.4" cy="83.4" r="1.3"/><circle cx="202.9" cy="79.0" r="1.3"/><circle cx="256.4" cy="62.3" r="1.3"/><circle cx="308.3" cy="73.8" r="1.3"/><circle cx="229.7" cy="69.8" r="1.3"/><circle cx="257.2" cy="60.6" r="1.3"/><circle cx="275.3" cy="76.0" r="1.3"/><circle cx="281.7" cy="70.5" r="1.3"/><circle cx="304.9" cy="68.3" r="1.3"/><circle cx="230.2" cy="86.9" r="1.3"/><circle cx="269.9" cy="60.7" r="1.3"/><circle cx="287.9" cy="83.2" r="1.3"/><circle cx="240.1" cy="67.4" r="1.3"/><circle cx="268.1" cy="83.0" r="1.3"/><circle cx="310.5" cy="77.6" r="1.3"/><circle cx="298.0" cy="80.1" r="1.3"/><circle cx="280.9" cy="61.8" r="1.3"/><circle cx="211.5" cy="64.9" r="1.3"/><circle cx="266.1" cy="63.7" r="1.3"/><circle cx="277.5" cy="79.1" r="1.3"/><circle cx="262.2" cy="87.7" r="1.3"/><circle cx="267.6" cy="92.6" r="1.3"/><circle cx="336.8" cy="68.9" r="1.3"/><circle cx="264.3" cy="77.7" r="1.3"/><circle cx="247.7" cy="52.2" r="1.3"/><circle cx="274.3" cy="43.2" r="1.3"/><circle cx="262.1" cy="63.4" r="1.3"/><circle cx="262.2" cy="66.4" r="1.3"/><circle cx="267.1" cy="53.1" r="1.3"/><circle cx="286.0" cy="49.7" r="1.3"/><circle cx="274.2" cy="84.3" r="1.3"/><circle cx="242.6" cy="64.3" r="1.3"/><circle cx="266.1" cy="51.2" r="1.3"/><circle cx="279.4" cy="111.1" r="1.3"/><circle cx="258.7" cy="78.9" r="1.3"/><circle cx="294.3" cy="71.5" r="1.3"/><circle cx="286.1" cy="86.4" r="1.3"/><circle cx="247.2" cy="64.9" r="1.3"/><circle cx="276.0" cy="100.0" r="1.3"/><circle cx="312.6" cy="53.2" r="1.3"/><circle cx="303.3" cy="56.7" r="1.3"/><circle cx="267.8" cy="74.2" r="1.3"/><circle cx="288.7" cy="64.8" r="1.3"/><circle cx="254.2" cy="97.3" r="1.3"/><circle cx="237.1" cy="52.2" r="1.3"/><circle cx="281.2" cy="65.2" r="1.3"/><circle cx="274.4" cy="79.7" r="1.3"/><circle cx="280.3" cy="84.5" r="1.3"/><circle cx="268.5" cy="91.1" r="1.3"/><circle cx="276.2" cy="81.2" r="1.3"/><circle cx="257.7" cy="109.0" r="1.3"/><circle cx="279.4" cy="69.0" r="1.3"/><circle cx="287.3" cy="78.7" r="1.3"/><circle cx="267.7" cy="88.9" r="1.3"/><circle cx="286.9" cy="71.3" r="1.3"/><circle cx="230.0" cy="71.6" r="1.3"/><circle cx="251.7" cy="69.1" r="1.3"/><circle cx="300.8" cy="66.4" r="1.3"/><circle cx="307.8" cy="59.1" r="1.3"/><circle cx="274.5" cy="67.7" r="1.3"/><circle cx="266.7" cy="52.8" r="1.3"/><circle cx="241.1" cy="81.6" r="1.3"/><circle cx="277.0" cy="52.1" r="1.3"/><circle cx="286.1" cy="106.8" r="1.3"/><circle cx="236.4" cy="101.3" r="1.3"/><circle cx="281.3" cy="92.4" r="1.3"/><circle cx="279.8" cy="72.7" r="1.3"/><circle cx="278.7" cy="67.1" r="1.3"/><circle cx="244.2" cy="94.2" r="1.3"/><circle cx="280.9" cy="78.6" r="1.3"/><circle cx="236.0" cy="84.2" r="1.3"/><circle cx="301.7" cy="65.1" r="1.3"/><circle cx="272.0" cy="91.8" r="1.3"/><circle cx="243.4" cy="63.9" r="1.3"/><circle cx="298.6" cy="77.4" r="1.3"/><circle cx="294.4" cy="50.0" r="1.3"/><circle cx="254.7" cy="66.0" r="1.3"/><circle cx="317.5" cy="83.3" r="1.3"/><circle cx="246.9" cy="69.1" r="1.3"/><circle cx="275.9" cy="69.1" r="1.3"/><circle cx="295.0" cy="87.6" r="1.3"/><circle cx="219.0" cy="74.7" r="1.3"/><circle cx="291.0" cy="94.3" r="1.3"/><circle cx="267.6" cy="39.6" r="1.3"/><circle cx="268.7" cy="84.2" r="1.3"/><circle cx="245.3" cy="83.3" r="1.3"/><circle cx="276.3" cy="52.7" r="1.3"/><circle cx="244.6" cy="56.3" r="1.3"/><circle cx="247.7" cy="88.9" r="1.3"/><circle cx="259.1" cy="59.8" r="1.3"/><circle cx="242.0" cy="66.2" r="1.3"/><circle cx="303.6" cy="84.7" r="1.3"/><circle cx="239.8" cy="70.8" r="1.3"/><circle cx="252.4" cy="82.8" r="1.3"/><circle cx="262.0" cy="62.8" r="1.3"/><circle cx="269.1" cy="80.2" r="1.3"/><circle cx="286.4" cy="91.9" r="1.3"/><circle cx="287.0" cy="80.6" r="1.3"/><circle cx="262.3" cy="42.9" r="1.3"/><circle cx="260.6" cy="85.4" r="1.3"/><circle cx="269.8" cy="76.6" r="1.3"/><circle cx="287.1" cy="62.2" r="1.3"/><circle cx="284.3" cy="96.5" r="1.3"/><circle cx="257.6" cy="49.7" r="1.3"/><circle cx="223.7" cy="103.7" r="1.3"/><circle cx="316.1" cy="66.2" r="1.3"/><circle cx="289.9" cy="99.2" r="1.3"/><circle cx="274.8" cy="75.0" r="1.3"/><circle cx="276.5" cy="55.8" r="1.3"/><circle cx="257.5" cy="77.1" r="1.3"/><circle cx="247.0" cy="80.6" r="1.3"/><circle cx="261.7" cy="83.8" r="1.3"/><circle cx="264.1" cy="91.5" r="1.3"/><circle cx="255.2" cy="62.3" r="1.3"/><circle cx="236.9" cy="83.0" r="1.3"/><circle cx="262.1" cy="86.7" r="1.3"/><circle cx="281.7" cy="71.6" r="1.3"/><circle cx="258.1" cy="61.7" r="1.3"/><circle cx="269.5" cy="61.4" r="1.3"/><circle cx="223.4" cy="86.9" r="1.3"/><circle cx="264.4" cy="87.6" r="1.3"/><circle cx="266.3" cy="63.3" r="1.3"/><circle cx="242.0" cy="55.7" r="1.3"/><circle cx="231.0" cy="94.2" r="1.3"/><circle cx="278.1" cy="52.5" r="1.3"/><circle cx="251.2" cy="78.1" r="1.3"/><circle cx="279.7" cy="63.6" r="1.3"/><circle cx="259.8" cy="49.5" r="1.3"/><circle cx="282.7" cy="77.5" r="1.3"/><circle cx="261.5" cy="72.8" r="1.3"/><circle cx="235.9" cy="97.2" r="1.3"/><circle cx="267.1" cy="109.6" r="1.3"/><circle cx="261.8" cy="72.9" r="1.3"/><circle cx="283.5" cy="91.0" r="1.3"/><circle cx="259.1" cy="91.3" r="1.3"/><circle cx="260.4" cy="67.9" r="1.3"/><circle cx="287.9" cy="62.7" r="1.3"/><circle cx="294.7" cy="99.7" r="1.3"/><circle cx="285.7" cy="70.2" r="1.3"/><circle cx="291.8" cy="75.3" r="1.3"/><circle cx="279.0" cy="71.3" r="1.3"/><circle cx="285.9" cy="73.7" r="1.3"/><circle cx="288.3" cy="66.6" r="1.3"/><circle cx="277.9" cy="86.8" r="1.3"/><circle cx="270.4" cy="94.4" r="1.3"/><circle cx="272.1" cy="70.1" r="1.3"/><circle cx="321.9" cy="55.1" r="1.3"/><circle cx="269.3" cy="76.4" r="1.3"/><circle cx="263.8" cy="53.5" r="1.3"/><circle cx="261.0" cy="66.1" r="1.3"/><circle cx="268.3" cy="94.0" r="1.3"/><circle cx="274.4" cy="110.3" r="1.3"/><circle cx="244.1" cy="81.3" r="1.3"/><circle cx="225.4" cy="59.8" r="1.3"/><circle cx="275.5" cy="87.3" r="1.3"/><circle cx="233.7" cy="42.1" r="1.3"/><circle cx="274.7" cy="65.3" r="1.3"/><circle cx="272.1" cy="98.4" r="1.3"/><circle cx="294.4" cy="86.8" r="1.3"/><circle cx="305.7" cy="55.1" r="1.3"/><circle cx="277.1" cy="50.8" r="1.3"/><circle cx="256.8" cy="88.4" r="1.3"/><circle cx="243.2" cy="74.9" r="1.3"/><circle cx="251.6" cy="66.8" r="1.3"/><circle cx="269.9" cy="81.8" r="1.3"/><circle cx="223.5" cy="67.1" r="1.3"/><circle cx="270.7" cy="47.0" r="1.3"/><circle cx="268.7" cy="87.7" r="1.3"/><circle cx="283.2" cy="66.0" r="1.3"/><circle cx="261.6" cy="60.7" r="1.3"/><circle cx="271.2" cy="55.8" r="1.3"/><circle cx="252.8" cy="79.4" r="1.3"/><circle cx="258.8" cy="63.6" r="1.3"/><circle cx="230.0" cy="85.0" r="1.3"/><circle cx="271.7" cy="71.7" r="1.3"/><circle cx="303.1" cy="91.8" r="1.3"/><circle cx="272.6" cy="69.9" r="1.3"/><circle cx="277.0" cy="65.9" r="1.3"/><circle cx="247.4" cy="46.3" r="1.3"/><circle cx="300.5" cy="59.3" r="1.3"/><circle cx="252.1" cy="86.4" r="1.3"/><circle cx="286.6" cy="121.3" r="1.3"/><circle cx="271.4" cy="57.0" r="1.3"/><circle cx="247.9" cy="60.2" r="1.3"/><circle cx="291.6" cy="80.7" r="1.3"/><circle cx="269.3" cy="82.8" r="1.3"/><circle cx="272.9" cy="65.6" r="1.3"/><circle cx="278.9" cy="76.8" r="1.3"/><circle cx="268.5" cy="51.7" r="1.3"/><circle cx="260.7" cy="71.2" r="1.3"/><circle cx="279.3" cy="89.1" r="1.3"/><circle cx="260.1" cy="100.1" r="1.3"/><circle cx="270.4" cy="73.2" r="1.3"/><circle cx="254.3" cy="71.8" r="1.3"/><circle cx="236.2" cy="82.4" r="1.3"/><circle cx="254.2" cy="92.2" r="1.3"/><circle cx="258.1" cy="82.9" r="1.3"/><circle cx="269.3" cy="64.5" r="1.3"/><circle cx="295.1" cy="81.0" r="1.3"/><circle cx="231.8" cy="90.1" r="1.3"/><circle cx="271.8" cy="65.0" r="1.3"/><circle cx="220.3" cy="55.7" r="1.3"/><circle cx="246.0" cy="83.3" r="1.3"/><circle cx="257.8" cy="81.1" r="1.3"/><circle cx="219.4" cy="90.1" r="1.3"/><circle cx="228.1" cy="77.0" r="1.3"/><circle cx="272.4" cy="66.1" r="1.3"/><circle cx="270.7" cy="69.2" r="1.3"/><circle cx="266.5" cy="60.3" r="1.3"/><circle cx="251.3" cy="61.6" r="1.3"/><circle cx="316.4" cy="67.3" r="1.3"/><circle cx="265.5" cy="68.5" r="1.3"/><circle cx="250.0" cy="92.3" r="1.3"/><circle cx="305.9" cy="57.4" r="1.3"/><circle cx="282.5" cy="75.0" r="1.3"/><circle cx="260.8" cy="66.9" r="1.3"/><circle cx="295.2" cy="97.9" r="1.3"/><circle cx="272.4" cy="79.6" r="1.3"/><circle cx="283.1" cy="70.2" r="1.3"/><circle cx="274.2" cy="87.9" r="1.3"/><circle cx="246.4" cy="76.7" r="1.3"/><circle cx="290.4" cy="68.7" r="1.3"/><circle cx="272.5" cy="98.7" r="1.3"/><circle cx="246.8" cy="86.4" r="1.3"/><circle cx="252.2" cy="101.6" r="1.3"/><circle cx="290.0" cy="93.0" r="1.3"/><circle cx="260.9" cy="87.3" r="1.3"/><circle cx="270.0" cy="77.8" r="1.3"/><circle cx="283.4" cy="59.6" r="1.3"/><circle cx="271.8" cy="86.4" r="1.3"/><circle cx="235.4" cy="76.9" r="1.3"/><circle cx="283.0" cy="85.9" r="1.3"/><circle cx="289.6" cy="75.7" r="1.3"/><circle cx="288.1" cy="65.5" r="1.3"/><circle cx="304.6" cy="60.8" r="1.3"/><circle cx="277.0" cy="86.3" r="1.3"/><circle cx="286.1" cy="95.1" r="1.3"/><circle cx="304.0" cy="71.5" r="1.3"/><circle cx="262.6" cy="82.6" r="1.3"/><circle cx="307.2" cy="96.5" r="1.3"/><circle cx="307.2" cy="63.4" r="1.3"/><circle cx="286.2" cy="70.8" r="1.3"/><circle cx="309.5" cy="59.2" r="1.3"/><circle cx="287.7" cy="93.4" r="1.3"/><circle cx="249.6" cy="79.8" r="1.3"/><circle cx="294.0" cy="69.0" r="1.3"/><circle cx="276.2" cy="51.2" r="1.3"/><circle cx="278.1" cy="73.2" r="1.3"/><circle cx="272.4" cy="90.7" r="1.3"/><circle cx="298.9" cy="71.5" r="1.3"/><circle cx="281.2" cy="69.6" r="1.3"/><circle cx="253.7" cy="85.4" r="1.3"/><circle cx="279.7" cy="57.5" r="1.3"/><circle cx="285.0" cy="76.7" r="1.3"/><circle cx="253.0" cy="84.8" r="1.3"/><circle cx="259.4" cy="64.3" r="1.3"/><circle cx="260.6" cy="63.5" r="1.3"/><circle cx="255.6" cy="79.6" r="1.3"/><circle cx="276.7" cy="74.4" r="1.3"/><circle cx="291.4" cy="72.4" r="1.3"/><circle cx="310.6" cy="79.0" r="1.3"/><circle cx="295.3" cy="79.2" r="1.3"/><circle cx="291.5" cy="62.1" r="1.3"/><circle cx="294.2" cy="66.0" r="1.3"/><circle cx="298.4" cy="82.6" r="1.3"/><circle cx="260.7" cy="92.6" r="1.3"/><circle cx="284.3" cy="96.1" r="1.3"/><circle cx="276.1" cy="63.3" r="1.3"/><circle cx="266.2" cy="92.2" r="1.3"/><circle cx="259.0" cy="87.2" r="1.3"/><circle cx="257.9" cy="75.5" r="1.3"/><circle cx="263.1" cy="83.2" r="1.3"/><circle cx="241.8" cy="88.3" r="1.3"/><circle cx="280.5" cy="102.6" r="1.3"/><circle cx="268.5" cy="60.3" r="1.3"/><circle cx="271.3" cy="84.9" r="1.3"/><circle cx="276.5" cy="73.9" r="1.3"/><circle cx="284.9" cy="72.9" r="1.3"/><circle cx="256.0" cy="93.1" r="1.3"/><circle cx="266.7" cy="88.2" r="1.3"/><circle cx="233.6" cy="60.9" r="1.3"/><circle cx="220.2" cy="71.8" r="1.3"/><circle cx="226.3" cy="79.4" r="1.3"/><circle cx="302.8" cy="55.0" r="1.3"/><circle cx="228.8" cy="88.9" r="1.3"/><circle cx="279.4" cy="74.9" r="1.3"/><circle cx="301.5" cy="78.4" r="1.3"/><circle cx="258.9" cy="81.0" r="1.3"/><circle cx="304.9" cy="102.9" r="1.3"/><circle cx="309.6" cy="76.6" r="1.3"/><circle cx="289.8" cy="70.7" r="1.3"/><circle cx="321.2" cy="101.9" r="1.3"/><circle cx="282.7" cy="68.6" r="1.3"/><circle cx="253.0" cy="68.2" r="1.3"/><circle cx="280.5" cy="55.4" r="1.3"/><circle cx="259.3" cy="92.1" r="1.3"/><circle cx="240.4" cy="80.1" r="1.3"/><circle cx="241.0" cy="83.0" r="1.3"/><circle cx="320.0" cy="78.5" r="1.3"/><circle cx="257.2" cy="74.0" r="1.3"/><circle cx="268.6" cy="64.4" r="1.3"/><circle cx="254.5" cy="64.5" r="1.3"/><circle cx="272.2" cy="82.5" r="1.3"/><circle cx="263.9" cy="77.9" r="1.3"/><circle cx="260.2" cy="100.3" r="1.3"/><circle cx="242.6" cy="64.8" r="1.3"/><circle cx="238.1" cy="68.8" r="1.3"/><circle cx="252.9" cy="60.9" r="1.3"/><circle cx="275.7" cy="96.5" r="1.3"/><circle cx="315.0" cy="57.8" r="1.3"/><circle cx="292.5" cy="87.5" r="1.3"/><circle cx="309.4" cy="97.4" r="1.3"/><circle cx="280.0" cy="74.0" r="1.3"/><circle cx="267.4" cy="86.8" r="1.3"/><circle cx="240.2" cy="44.5" r="1.3"/><circle cx="269.4" cy="70.3" r="1.3"/><circle cx="222.2" cy="51.5" r="1.3"/><circle cx="262.8" cy="78.6" r="1.3"/><circle cx="305.2" cy="76.2" r="1.3"/><circle cx="276.6" cy="64.7" r="1.3"/><circle cx="294.2" cy="90.1" r="1.3"/><circle cx="261.0" cy="81.4" r="1.3"/><circle cx="239.2" cy="68.3" r="1.3"/><circle cx="258.9" cy="68.5" r="1.3"/><circle cx="260.7" cy="54.3" r="1.3"/><circle cx="296.0" cy="73.4" r="1.3"/><circle cx="312.9" cy="107.5" r="1.3"/><circle cx="253.2" cy="65.6" r="1.3"/><circle cx="261.6" cy="82.3" r="1.3"/><circle cx="266.3" cy="68.0" r="1.3"/><circle cx="261.8" cy="88.0" r="1.3"/><circle cx="242.1" cy="82.6" r="1.3"/><circle cx="271.6" cy="72.7" r="1.3"/><circle cx="277.5" cy="49.7" r="1.3"/><circle cx="278.0" cy="68.5" r="1.3"/><circle cx="243.0" cy="93.9" r="1.3"/><circle cx="267.0" cy="72.5" r="1.3"/><circle cx="231.3" cy="85.4" r="1.3"/><circle cx="289.7" cy="69.0" r="1.3"/><circle cx="247.1" cy="48.5" r="1.3"/><circle cx="263.5" cy="82.4" r="1.3"/><circle cx="259.7" cy="80.9" r="1.3"/><circle cx="256.8" cy="67.6" r="1.3"/><circle cx="246.3" cy="70.6" r="1.3"/><circle cx="230.7" cy="80.4" r="1.3"/><circle cx="307.7" cy="67.3" r="1.3"/><circle cx="275.3" cy="81.3" r="1.3"/><circle cx="275.5" cy="73.1" r="1.3"/><circle cx="315.8" cy="41.2" r="1.3"/><circle cx="267.4" cy="74.0" r="1.3"/><circle cx="281.8" cy="67.3" r="1.3"/><circle cx="270.1" cy="63.7" r="1.3"/><circle cx="295.8" cy="82.1" r="1.3"/><circle cx="280.7" cy="68.9" r="1.3"/><circle cx="276.6" cy="84.1" r="1.3"/><circle cx="264.1" cy="92.4" r="1.3"/><circle cx="275.8" cy="78.3" r="1.3"/><circle cx="295.3" cy="53.2" r="1.3"/><circle cx="224.0" cy="65.3" r="1.3"/><circle cx="266.9" cy="89.7" r="1.3"/><circle cx="260.5" cy="72.3" r="1.3"/><circle cx="263.1" cy="64.2" r="1.3"/><circle cx="226.2" cy="74.8" r="1.3"/><circle cx="285.8" cy="83.6" r="1.3"/><circle cx="251.1" cy="80.0" r="1.3"/><circle cx="264.7" cy="85.7" r="1.3"/><circle cx="258.6" cy="63.9" r="1.3"/><circle cx="233.0" cy="72.1" r="1.3"/><circle cx="259.9" cy="72.4" r="1.3"/><circle cx="229.2" cy="75.9" r="1.3"/><circle cx="249.0" cy="45.1" r="1.3"/><circle cx="262.8" cy="72.7" r="1.3"/><circle cx="269.6" cy="56.3" r="1.3"/><circle cx="270.9" cy="96.8" r="1.3"/><circle cx="266.7" cy="99.3" r="1.3"/><circle cx="316.8" cy="101.1" r="1.3"/><circle cx="279.3" cy="88.2" r="1.3"/><circle cx="242.9" cy="69.0" r="1.3"/><circle cx="256.3" cy="90.4" r="1.3"/><circle cx="255.3" cy="73.2" r="1.3"/><circle cx="265.8" cy="85.3" r="1.3"/><circle cx="256.5" cy="62.8" r="1.3"/><circle cx="250.9" cy="67.5" r="1.3"/><circle cx="306.0" cy="83.1" r="1.3"/><circle cx="270.7" cy="102.5" r="1.3"/><circle cx="262.3" cy="75.9" r="1.3"/><circle cx="264.2" cy="109.6" r="1.3"/><circle cx="265.0" cy="117.1" r="1.3"/><circle cx="300.4" cy="57.2" r="1.3"/><circle cx="280.3" cy="75.8" r="1.3"/><circle cx="294.5" cy="62.1" r="1.3"/><circle cx="201.1" cy="74.2" r="1.3"/><circle cx="276.9" cy="68.3" r="1.3"/><circle cx="293.1" cy="75.3" r="1.3"/><circle cx="313.2" cy="90.5" r="1.3"/><circle cx="270.4" cy="90.2" r="1.3"/><circle cx="232.0" cy="80.1" r="1.3"/><circle cx="282.7" cy="76.3" r="1.3"/><circle cx="256.6" cy="78.0" r="1.3"/><circle cx="230.3" cy="78.1" r="1.3"/><circle cx="256.2" cy="84.8" r="1.3"/><circle cx="293.0" cy="76.3" r="1.3"/><circle cx="296.2" cy="83.7" r="1.3"/><circle cx="285.7" cy="56.8" r="1.3"/><circle cx="246.7" cy="88.0" r="1.3"/><circle cx="325.2" cy="102.2" r="1.3"/><circle cx="244.1" cy="79.0" r="1.3"/><circle cx="268.1" cy="55.3" r="1.3"/><circle cx="238.0" cy="96.3" r="1.3"/><circle cx="298.8" cy="71.4" r="1.3"/><circle cx="289.4" cy="73.0" r="1.3"/><circle cx="271.8" cy="85.3" r="1.3"/><circle cx="268.3" cy="82.0" r="1.3"/><circle cx="273.7" cy="94.7" r="1.3"/><circle cx="228.3" cy="85.5" r="1.3"/><circle cx="291.7" cy="78.1" r="1.3"/><circle cx="290.0" cy="47.0" r="1.3"/><circle cx="261.2" cy="59.8" r="1.3"/><circle cx="269.6" cy="79.0" r="1.3"/><circle cx="276.5" cy="86.3" r="1.3"/><circle cx="304.4" cy="61.1" r="1.3"/><circle cx="279.4" cy="67.2" r="1.3"/><circle cx="270.8" cy="83.3" r="1.3"/><circle cx="258.7" cy="48.0" r="1.3"/><circle cx="236.8" cy="47.4" r="1.3"/><circle cx="256.8" cy="72.9" r="1.3"/><circle cx="271.5" cy="80.0" r="1.3"/><circle cx="264.4" cy="69.2" r="1.3"/><circle cx="271.6" cy="42.3" r="1.3"/><circle cx="286.4" cy="76.7" r="1.3"/><circle cx="279.5" cy="56.6" r="1.3"/><circle cx="276.0" cy="86.0" r="1.3"/><circle cx="284.4" cy="74.8" r="1.3"/><circle cx="274.1" cy="80.2" r="1.3"/><circle cx="269.3" cy="85.8" r="1.3"/><circle cx="280.3" cy="68.5" r="1.3"/><circle cx="232.0" cy="88.6" r="1.3"/><circle cx="297.6" cy="94.8" r="1.3"/><circle cx="241.7" cy="82.2" r="1.3"/><circle cx="288.4" cy="96.1" r="1.3"/><circle cx="270.3" cy="67.0" r="1.3"/><circle cx="294.4" cy="89.9" r="1.3"/><circle cx="270.8" cy="80.3" r="1.3"/><circle cx="249.3" cy="61.7" r="1.3"/><circle cx="293.7" cy="75.2" r="1.3"/><circle cx="274.1" cy="68.5" r="1.3"/><circle cx="272.7" cy="68.1" r="1.3"/><circle cx="271.9" cy="77.6" r="1.3"/><circle cx="292.1" cy="92.1" r="1.3"/><circle cx="288.1" cy="71.6" r="1.3"/><circle cx="275.2" cy="78.2" r="1.3"/><circle cx="236.0" cy="54.5" r="1.3"/><circle cx="261.2" cy="77.9" r="1.3"/><circle cx="272.5" cy="93.5" r="1.3"/><circle cx="309.6" cy="88.4" r="1.3"/><circle cx="278.6" cy="83.4" r="1.3"/><circle cx="268.1" cy="68.5" r="1.3"/><circle cx="296.5" cy="61.9" r="1.3"/><circle cx="267.7" cy="74.9" r="1.3"/><circle cx="269.6" cy="56.5" r="1.3"/><circle cx="273.6" cy="58.0" r="1.3"/><circle cx="237.2" cy="90.3" r="1.3"/><circle cx="291.2" cy="62.7" r="1.3"/><circle cx="279.6" cy="103.0" r="1.3"/><circle cx="264.0" cy="55.1" r="1.3"/><circle cx="245.1" cy="82.7" r="1.3"/><circle cx="274.9" cy="58.9" r="1.3"/><circle cx="301.0" cy="78.9" r="1.3"/><circle cx="256.1" cy="60.9" r="1.3"/><circle cx="246.9" cy="76.9" r="1.3"/><circle cx="279.5" cy="74.0" r="1.3"/><circle cx="235.1" cy="69.6" r="1.3"/><circle cx="221.4" cy="83.9" r="1.3"/><circle cx="260.4" cy="98.7" r="1.3"/><circle cx="255.0" cy="67.5" r="1.3"/><circle cx="264.1" cy="89.5" r="1.3"/><circle cx="258.1" cy="77.6" r="1.3"/><circle cx="277.6" cy="75.9" r="1.3"/><circle cx="265.4" cy="108.9" r="1.3"/><circle cx="257.1" cy="44.1" r="1.3"/><circle cx="260.2" cy="66.2" r="1.3"/><circle cx="284.2" cy="49.4" r="1.3"/><circle cx="291.4" cy="71.7" r="1.3"/><circle cx="290.2" cy="72.9" r="1.3"/><circle cx="285.6" cy="132.9" r="1.3"/><circle cx="197.7" cy="81.5" r="1.3"/><circle cx="248.2" cy="103.0" r="1.3"/><circle cx="263.4" cy="95.6" r="1.3"/><circle cx="274.8" cy="69.8" r="1.3"/><circle cx="234.7" cy="83.4" r="1.3"/><circle cx="301.6" cy="101.1" r="1.3"/><circle cx="277.0" cy="78.9" r="1.3"/><circle cx="256.6" cy="79.4" r="1.3"/><circle cx="273.9" cy="83.8" r="1.3"/><circle cx="262.7" cy="54.0" r="1.3"/><circle cx="253.6" cy="64.3" r="1.3"/><circle cx="281.4" cy="81.3" r="1.3"/><circle cx="260.3" cy="84.4" r="1.3"/><circle cx="239.3" cy="62.7" r="1.3"/><circle cx="256.4" cy="71.5" r="1.3"/><circle cx="267.8" cy="74.5" r="1.3"/><circle cx="246.6" cy="74.1" r="1.3"/><circle cx="298.1" cy="86.6" r="1.3"/><circle cx="246.4" cy="77.9" r="1.3"/><circle cx="309.0" cy="78.8" r="1.3"/><circle cx="290.0" cy="55.3" r="1.3"/><circle cx="249.6" cy="60.6" r="1.3"/><circle cx="273.2" cy="81.1" r="1.3"/><circle cx="296.4" cy="52.6" r="1.3"/><circle cx="266.2" cy="80.3" r="1.3"/><circle cx="244.1" cy="66.5" r="1.3"/><circle cx="272.9" cy="64.2" r="1.3"/><circle cx="314.2" cy="85.9" r="1.3"/><circle cx="237.6" cy="66.2" r="1.3"/><circle cx="282.6" cy="63.5" r="1.3"/><circle cx="270.6" cy="66.2" r="1.3"/><circle cx="267.8" cy="77.1" r="1.3"/><circle cx="261.9" cy="117.1" r="1.3"/><circle cx="263.4" cy="44.7" r="1.3"/><circle cx="293.3" cy="76.0" r="1.3"/><circle cx="283.6" cy="72.6" r="1.3"/><circle cx="248.5" cy="90.4" r="1.3"/><circle cx="304.8" cy="70.7" r="1.3"/><circle cx="242.0" cy="39.4" r="1.3"/><circle cx="285.1" cy="96.0" r="1.3"/><circle cx="274.6" cy="60.0" r="1.3"/><circle cx="296.9" cy="75.3" r="1.3"/><circle cx="278.4" cy="55.8" r="1.3"/><circle cx="293.8" cy="59.9" r="1.3"/><circle cx="270.0" cy="68.8" r="1.3"/><circle cx="291.9" cy="89.0" r="1.3"/><circle cx="278.1" cy="88.7" r="1.3"/><circle cx="317.8" cy="67.3" r="1.3"/><circle cx="255.3" cy="83.6" r="1.3"/><circle cx="296.8" cy="70.6" r="1.3"/><circle cx="280.8" cy="77.8" r="1.3"/><circle cx="274.5" cy="78.4" r="1.3"/><circle cx="258.1" cy="85.4" r="1.3"/><circle cx="280.4" cy="67.0" r="1.3"/><circle cx="238.2" cy="74.2" r="1.3"/><circle cx="240.5" cy="79.4" r="1.3"/><circle cx="286.3" cy="77.5" r="1.3"/><circle cx="236.4" cy="64.2" r="1.3"/><circle cx="302.2" cy="101.8" r="1.3"/><circle cx="264.6" cy="69.2" r="1.3"/><circle cx="276.1" cy="87.4" r="1.3"/><circle cx="272.3" cy="79.1" r="1.3"/><circle cx="279.9" cy="94.3" r="1.3"/><circle cx="264.5" cy="43.5" r="1.3"/><circle cx="262.6" cy="106.7" r="1.3"/><circle cx="267.9" cy="72.9" r="1.3"/><circle cx="293.7" cy="57.7" r="1.3"/><circle cx="295.6" cy="78.0" r="1.3"/><circle cx="298.7" cy="109.7" r="1.3"/><circle cx="278.7" cy="83.6" r="1.3"/><circle cx="266.2" cy="57.7" r="1.3"/><circle cx="233.7" cy="69.2" r="1.3"/><circle cx="284.8" cy="96.0" r="1.3"/><circle cx="289.2" cy="55.1" r="1.3"/><circle cx="261.8" cy="73.4" r="1.3"/><circle cx="288.4" cy="71.7" r="1.3"/><circle cx="299.0" cy="108.4" r="1.3"/><circle cx="272.8" cy="71.7" r="1.3"/><circle cx="293.9" cy="95.6" r="1.3"/><circle cx="277.4" cy="66.0" r="1.3"/><circle cx="232.5" cy="64.1" r="1.3"/><circle cx="260.3" cy="91.0" r="1.3"/><circle cx="261.7" cy="85.3" r="1.3"/><circle cx="282.3" cy="50.3" r="1.3"/><circle cx="251.7" cy="85.6" r="1.3"/><circle cx="261.0" cy="85.6" r="1.3"/><circle cx="249.5" cy="66.9" r="1.3"/><circle cx="269.8" cy="79.3" r="1.3"/><circle cx="272.2" cy="80.0" r="1.3"/><circle cx="292.1" cy="68.8" r="1.3"/><circle cx="288.2" cy="67.3" r="1.3"/><circle cx="274.3" cy="66.0" r="1.3"/><circle cx="276.0" cy="72.0" r="1.3"/><circle cx="273.1" cy="56.2" r="1.3"/><circle cx="273.2" cy="75.4" r="1.3"/><circle cx="304.7" cy="53.8" r="1.3"/><circle cx="216.0" cy="77.1" r="1.3"/><circle cx="266.8" cy="74.8" r="1.3"/><circle cx="277.6" cy="60.6" r="1.3"/><circle cx="295.6" cy="88.7" r="1.3"/><circle cx="246.6" cy="104.9" r="1.3"/><circle cx="278.3" cy="95.7" r="1.3"/><circle cx="289.7" cy="55.7" r="1.3"/><circle cx="260.9" cy="95.0" r="1.3"/><circle cx="228.7" cy="79.3" r="1.3"/><circle cx="262.8" cy="75.2" r="1.3"/><circle cx="244.3" cy="67.1" r="1.3"/><circle cx="285.0" cy="75.9" r="1.3"/><circle cx="252.0" cy="96.7" r="1.3"/><circle cx="309.9" cy="84.1" r="1.3"/><circle cx="273.8" cy="69.8" r="1.3"/><circle cx="253.0" cy="66.0" r="1.3"/><circle cx="259.6" cy="69.8" r="1.3"/><circle cx="246.7" cy="84.7" r="1.3"/><circle cx="279.3" cy="103.8" r="1.3"/><circle cx="303.5" cy="60.2" r="1.3"/><circle cx="266.0" cy="76.0" r="1.3"/><circle cx="291.0" cy="70.3" r="1.3"/><circle cx="250.0" cy="64.8" r="1.3"/><circle cx="277.5" cy="81.9" r="1.3"/><circle cx="321.4" cy="84.2" r="1.3"/><circle cx="239.8" cy="54.9" r="1.3"/><circle cx="297.8" cy="60.6" r="1.3"/><circle cx="296.5" cy="93.8" r="1.3"/><circle cx="229.3" cy="80.7" r="1.3"/><circle cx="239.1" cy="83.7" r="1.3"/><circle cx="249.2" cy="68.5" r="1.3"/><circle cx="292.0" cy="70.3" r="1.3"/><circle cx="261.3" cy="82.8" r="1.3"/><circle cx="267.0" cy="68.6" r="1.3"/><circle cx="286.3" cy="59.5" r="1.3"/><circle cx="273.3" cy="76.0" r="1.3"/><circle cx="275.7" cy="89.4" r="1.3"/><circle cx="263.6" cy="60.7" r="1.3"/><circle cx="295.4" cy="91.7" r="1.3"/><circle cx="253.6" cy="86.4" r="1.3"/><circle cx="307.5" cy="63.2" r="1.3"/><circle cx="263.2" cy="76.1" r="1.3"/><circle cx="253.1" cy="75.4" r="1.3"/><circle cx="284.9" cy="85.4" r="1.3"/><circle cx="280.6" cy="85.9" r="1.3"/><circle cx="227.1" cy="56.6" r="1.3"/><circle cx="275.5" cy="56.0" r="1.3"/><circle cx="241.0" cy="91.3" r="1.3"/><circle cx="252.4" cy="77.7" r="1.3"/><circle cx="288.0" cy="82.2" r="1.3"/><circle cx="251.7" cy="80.9" r="1.3"/><circle cx="278.4" cy="98.7" r="1.3"/><circle cx="262.3" cy="58.1" r="1.3"/><circle cx="313.1" cy="92.2" r="1.3"/><circle cx="268.5" cy="63.8" r="1.3"/><circle cx="244.8" cy="86.8" r="1.3"/><circle cx="246.3" cy="95.9" r="1.3"/><circle cx="250.7" cy="55.5" r="1.3"/><circle cx="273.4" cy="82.0" r="1.3"/><circle cx="270.5" cy="71.9" r="1.3"/><circle cx="291.9" cy="71.7" r="1.3"/><circle cx="269.3" cy="74.3" r="1.3"/><circle cx="229.5" cy="66.7" r="1.3"/><circle cx="293.7" cy="59.0" r="1.3"/><circle cx="301.1" cy="47.3" r="1.3"/><circle cx="245.2" cy="89.4" r="1.3"/><circle cx="210.1" cy="58.4" r="1.3"/><circle cx="311.1" cy="69.6" r="1.3"/><circle cx="281.9" cy="58.3" r="1.3"/><circle cx="226.9" cy="109.3" r="1.3"/><circle cx="244.6" cy="64.1" r="1.3"/><circle cx="277.2" cy="80.4" r="1.3"/><circle cx="229.7" cy="44.9" r="1.3"/><circle cx="331.0" cy="64.6" r="1.3"/><circle cx="273.0" cy="68.1" r="1.3"/><circle cx="283.2" cy="68.5" r="1.3"/><circle cx="227.0" cy="61.9" r="1.3"/><circle cx="231.8" cy="79.1" r="1.3"/><circle cx="236.5" cy="112.5" r="1.3"/><circle cx="278.5" cy="72.6" r="1.3"/><circle cx="257.2" cy="72.4" r="1.3"/><circle cx="256.2" cy="66.5" r="1.3"/><circle cx="280.1" cy="135.5" r="1.3"/><circle cx="276.5" cy="113.8" r="1.3"/><circle cx="326.2" cy="88.9" r="1.3"/><circle cx="259.9" cy="92.3" r="1.3"/><circle cx="227.7" cy="59.0" r="1.3"/><circle cx="267.2" cy="72.1" r="1.3"/><circle cx="325.4" cy="80.7" r="1.3"/><circle cx="245.8" cy="78.6" r="1.3"/><circle cx="269.6" cy="55.6" r="1.3"/><circle cx="253.5" cy="57.4" r="1.3"/><circle cx="283.6" cy="87.9" r="1.3"/><circle cx="277.8" cy="83.1" r="1.3"/><circle cx="258.7" cy="77.9" r="1.3"/><circle cx="304.7" cy="105.7" r="1.3"/><circle cx="310.8" cy="60.6" r="1.3"/><circle cx="304.0" cy="81.4" r="1.3"/><circle cx="301.6" cy="41.5" r="1.3"/><circle cx="254.6" cy="95.4" r="1.3"/><circle cx="253.3" cy="49.5" r="1.3"/><circle cx="304.2" cy="46.3" r="1.3"/><circle cx="221.5" cy="68.3" r="1.3"/></g>
<g fill="none" stroke="#6495ed" stroke-width="1.0" class="s"><circle cx="300.8" cy="54.8" r="1.3"/><circle cx="305.3" cy="50.2" r="1.3"/><circle cx="297.8" cy="55.0" r="1.3"/><circle cx="293.7" cy="47.5" r="1.3"/><circle cx="296.1" cy="54.3" r="1.3"/><circle cx="292.1" cy="49.2" r="1.3"/><circle cx="301.0" cy="55.9" r="1.3"/><circle cx="313.7" cy="58.3" r="1.3"/><circle cx="297.4" cy="49.1" r="1.3"/><circle cx="294.2" cy="54.9" r="1.3"/><circle cx="304.7" cy="58.6" r="1.3"/><circle cx="304.4" cy="54.9" r="1.3"/><circle cx="302.2" cy="53.7" r="1.3"/><circle cx="292.2" cy="50.9" r="1.3"/><circle cx="301.4" cy="51.8" r="1.3"/><circle cx="306.9" cy="58.5" r="1.3"/><circle cx="288.6" cy="48.8" r="1.3"/><circle cx="296.7" cy="52.5" r="1.3"/><circle cx="283.4" cy="46.5" r="1.3"/><circle cx="289.1" cy="48.7" r="1.3"/><circle cx="284.3" cy="45.7" r="1.3"/><circle cx="297.9" cy="56.1" r="1.3"/><circle cx="289.0" cy="49.9" r="1.3"/><circle cx="302.9" cy="56.9" r="1.3"/><circle cx="302.5" cy="54.5" r="1.3"/><circle cx="299.7" cy="51.9" r="1.3"/><circle cx="277.2" cy="45.7" r="1.3"/><circle cx="296.2" cy="51.2" r="1.3"/><circle cx="300.5" cy="53.9" r="1.3"/><circle cx="302.3" cy="53.5" r="1.3"/><circle cx="286.6" cy="48.7" r="1.3"/><circle cx="297.4" cy="49.5" r="1.3"/><circle cx="292.2" cy="49.3" r="1.3"/><circle cx="292.1" cy="55.2" r="1.3"/><circle cx="311.6" cy="55.7" r="1.3"/><circle cx="294.0" cy="49.3" r="1.3"/><circle cx="300.5" cy="54.6" r="1.3"/><circle cx="308.5" cy="59.7" r="1.3"/><circle cx="296.4" cy="49.1" r="1.3"/><circle cx="300.1" cy="53.2" r="1.3"/><circle cx="302.5" cy="52.9" r="1.3"/><circle cx="302.8" cy="50.3" r="1.3"/><circle cx="288.8" cy="51.9" r="1.3"/><circle cx="301.7" cy="54.2" r="1.3"/><circle cx="313.9" cy="58.2" r="1.3"/><circle cx="286.8" cy="47.7" r="1.3"/><circle cx="308.9" cy="57.6" r="1.3"/><circle cx="302.5" cy="53.2" r="1.3"/><circle cx="295.0" cy="51.8" r="1.3"/><circle cx="320.8" cy="57.6" r="1.3"/><circle cx="309.1" cy="53.6" r="1.3"/><circle cx="288.6" cy="53.3" r="1.3"/><circle cx="302.1" cy="53.1" r="1.3"/><circle cx="306.3" cy="56.4" r="1.3"/><circle cx="299.2" cy="53.4" r="1.3"/><circle cx="307.8" cy="55.1" r="1.3"/><circle cx="300.7" cy="52.7" r="1.3"/><circle cx="306.9" cy="57.4" r="1.3"/><circle cx="314.9" cy="57.7" r="1.3"/><circle cx="294.7" cy="51.6" r="1.3"/><circle cx="302.9" cy="54.7" r="1.3"/><circle cx="295.8" cy="55.2" r="1.3"/><circle cx="301.7" cy="55.9" r="1.3"/><circle cx="289.4" cy="51.3" r="1.3"/><circle cx="295.9" cy="51.0" r="1.3"/><circle cx="300.1" cy="50.4" r="1.3"/><circle cx="308.9" cy="58.8" r="1.3"/><circle cx="311.3" cy="59.6" r="1.3"/><circle cx="288.5" cy="49.7" r="1.3"/><circle cx="293.0" cy="52.8" r="1.3"/><circle cx="306.6" cy="57.7" r="1.3"/><circle cx="281.4" cy="49.8" r="1.3"/><circle cx="295.9" cy="54.6" r="1.3"/><circle cx="300.4" cy="52.7" r="1.3"/><circle cx="311.9" cy="61.1" r="1.3"/><circle cx="308.4" cy="53.3" r="1.3"/><circle cx="297.3" cy="54.9" r="1.3"/><circle cx="297.1" cy="54.0" r="1.3"/><circle cx="298.0" cy="55.2" r="1.3"/><circle cx="314.2" cy="62.7" r="1.3"/><circle cx="295.9" cy="56.0" r="1.3"/><circle cx="298.9" cy="50.6" r="1.3"/><circle cx="305.5" cy="51.4" r="1.3"/><circle cx="299.3" cy="55.4" r="1.3"/><circle cx="299.8" cy="51.2" r="1.3"/><circle cx="290.4" cy="50.6" r="1.3"/><circle cx="300.3" cy="55.8" r="1.3"/><circle cx="297.9" cy="49.1" r="1.3"/><circle cx="313.6" cy="52.9" r="1.3"/><circle cx="307.0" cy="56.5" r="1.3"/><circle cx="300.7" cy="54.0" r="1.3"/><circle cx="307.5" cy="55.5" r="1.3"/><circle cx="297.7" cy="53.1" r="1.3"/><circle cx="311.6" cy="55.3" r="1.3"/><circle cx="302.0" cy="50.7" r="1.3"/><circle cx="306.7" cy="55.4" r="1.3"/><circle cx="289.4" cy="48.0" r="1.3"/><circle cx="305.4" cy="51.4" r="1.3"/><circle cx="284.5" cy="50.0" r="1.3"/><circle cx="281.6" cy="47.7" r="1.3"/><circle cx="297.8" cy="54.0" r="1.3"/><circle cx="293.1" cy="49.1" r="1.3"/><circle cx="303.0" cy="53.0" r="1.3"/><circle cx="323.1" cy="58.6" r="1.3"/><circle cx="293.7" cy="49.6" r="1.3"/><circle cx="294.9" cy="52.6" r="1.3"/><circle cx="303.5" cy="52.9" r="1.3"/><circle cx="305.5" cy="56.3" r="1.3"/><circle cx="299.1" cy="54.2" r="1.3"/><circle cx="297.6" cy="57.8" r="1.3"/><circle cx="308.7" cy="53.1" r="1.3"/><circle cx="305.3" cy="57.5" r="1.3"/><circle cx="291.2" cy="50.7" r="1.3"/><circle cx="300.3" cy="53.7" r="1.3"/><circle cx="302.3" cy="50.9" r="1.3"/><circle cx="291.3" cy="49.8" r="1.3"/><circle cx="303.0" cy="56.4" r="1.3"/><circle cx="292.9" cy="51.2" r="1.3"/><circle cx="310.2" cy="57.1" r="1.3"/><circle cx="303.0" cy="53.9" r="1.3"/><circle cx="301.1" cy="56.8" r="1.3"/><circle cx="295.4" cy="52.2" r="1.3"/><circle cx="301.4" cy="48.8" r="1.3"/><circle cx="282.4" cy="46.5" r="1.3"/><circle cx="291.6" cy="46.3" r="1.3"/><circle cx="267.9" cy="39.9" r="1.3"/><circle cx="294.7" cy="54.7" r="1.3"/><circle cx="312.9" cy="65.0" r="1.3"/><circle cx="301.9" cy="52.8" r="1.3"/><circle cx="289.5" cy="47.5" r="1.3"/><circle cx="290.9" cy="51.7" r="1.3"/><circle cx="312.9" cy="57.7" r="1.3"/><circle cx="304.0" cy="50.3" r="1.3"/><circle cx="300.9" cy="56.1" r="1.3"/><circle cx="297.7" cy="62.5" r="1.3"/><circle cx="301.8" cy="53.0" r="1.3"/><circle cx="309.7" cy="55.8" r="1.3"/><circle cx="308.2" cy="51.3" r="1.3"/><circle cx="302.8" cy="56.1" r="1.3"/><circle cx="291.7" cy="45.2" r="1.3"/><circle cx="307.9" cy="50.9" r="1.3"/><circle cx="292.1" cy="57.2" r="1.3"/><circle cx="313.7" cy="53.7" r="1.3"/><circle cx="286.2" cy="54.4" r="1.3"/><circle cx="297.5" cy="60.1" r="1.3"/><circle cx="300.6" cy="55.1" r="1.3"/><circle cx="286.4" cy="52.0" r="1.3"/><circle cx="316.4" cy="68.1" r="1.3"/><circle cx="316.6" cy="58.0" r="1.3"/><circle cx="296.9" cy="49.9" r="1.3"/><circle cx="310.9" cy="50.7" r="1.3"/><circle cx="304.9" cy="55.4" r="1.3"/><circle cx="271.6" cy="51.7" r="1.3"/><circle cx="302.3" cy="58.9" r="1.3"/><circle cx="301.6" cy="49.8" r="1.3"/><circle cx="303.0" cy="50.6" r="1.3"/><circle cx="290.4" cy="48.3" r="1.3"/><circle cx="297.8" cy="54.4" r="1.3"/><circle cx="299.4" cy="52.5" r="1.3"/><circle cx="313.2" cy="58.9" r="1.3"/><circle cx="304.1" cy="56.4" r="1.3"/><circle cx="301.3" cy="52.7" r="1.3"/><circle cx="317.1" cy="58.9" r="1.3"/><circle cx="294.9" cy="53.1" r="1.3"/><circle cx="297.0" cy="52.4" r="1.3"/><circle cx="281.3" cy="50.2" r="1.3"/><circle cx="314.9" cy="67.2" r="1.3"/><circle cx="310.3" cy="59.7" r="1.3"/><circle cx="310.5" cy="57.3" r="1.3"/><circle cx="310.3" cy="49.0" r="1.3"/><circle cx="301.6" cy="56.0" r="1.3"/><circle cx="305.9" cy="46.4" r="1.3"/><circle cx="300.3" cy="47.1" r="1.3"/><circle cx="297.7" cy="57.0" r="1.3"/><circle cx="300.6" cy="57.2" r="1.3"/><circle cx="317.1" cy="58.4" r="1.3"/><circle cx="309.1" cy="48.5" r="1.3"/><circle cx="300.9" cy="52.2" r="1.3"/><circle cx="295.8" cy="49.2" r="1.3"/><circle cx="293.5" cy="54.6" r="1.3"/><circle cx="314.8" cy="69.0" r="1.3"/><circle cx="306.0" cy="56.6" r="1.3"/><circle cx="302.8" cy="50.9" r="1.3"/><circle cx="299.0" cy="47.8" r="1.3"/><circle cx="289.4" cy="50.1" r="1.3"/><circle cx="300.5" cy="53.0" r="1.3"/><circle cx="311.7" cy="51.9" r="1.3"/><circle cx="296.7" cy="53.2" r="1.3"/><circle cx="300.2" cy="48.3" r="1.3"/><circle cx="297.2" cy="58.0" r="1.3"/><circle cx="300.7" cy="58.9" r="1.3"/><circle cx="282.8" cy="53.4" r="1.3"/><circle cx="299.2" cy="51.2" r="1.3"/><circle cx="291.3" cy="53.4" r="1.3"/><circle cx="310.5" cy="56.4" r="1.3"/><circle cx="284.6" cy="51.4" r="1.3"/><circle cx="285.4" cy="49.5" r="1.3"/><circle cx="282.9" cy="44.7" r="1.3"/><circle cx="281.9" cy="46.0" r="1.3"/><circle cx="290.4" cy="48.7" r="1.3"/><circle cx="286.3" cy="48.6" r="1.3"/><circle cx="288.3" cy="47.8" r="1.3"/><circle cx="291.5" cy="48.0" r="1.3"/><circle cx="280.6" cy="46.2" r="1.3"/><circle cx="284.8" cy="45.3" r="1.3"/><circle cx="288.7" cy="45.8" r="1.3"/><circle cx="288.5" cy="49.3" r="1.3"/><circle cx="284.8" cy="50.9" r="1.3"/><circle cx="292.2" cy="46.1" r="1.3"/><circle cx="287.8" cy="49.3" r="1.3"/><circle cx="282.9" cy="45.8" r="1.3"/><circle cx="284.2" cy="45.3" r="1.3"/><circle cx="289.4" cy="52.2" r="1.3"/><circle cx="289.2" cy="48.2" r="1.3"/><circle cx="278.5" cy="50.8" r="1.3"/><circle cx="292.8" cy="48.5" r="1.3"/><circle cx="289.0" cy="50.7" r="1.3"/><circle cx="292.3" cy="50.0" r="1.3"/><circle cx="286.1" cy="46.5" r="1.3"/><circle cx="285.4" cy="50.2" r="1.3"/><circle cx="282.8" cy="47.3" r="1.3"/><circle cx="296.2" cy="53.6" r="1.3"/><circle cx="286.4" cy="48.7" r="1.3"/><circle cx="294.0" cy="47.9" r="1.3"/><circle cx="284.6" cy="48.0" r="1.3"/><circle cx="287.6" cy="49.3" r="1.3"/><circle cx="279.8" cy="49.6" r="1.3"/><circle cx="286.3" cy="46.1" r="1.3"/><circle cx="290.8" cy="50.0" r="1.3"/><circle cx="283.6" cy="42.9" r="1.3"/><circle cx="322.4" cy="63.3" r="1.3"/><circle cx="315.6" cy="56.7" r="1.3"/><circle cx="312.6" cy="54.5" r="1.3"/><circle cx="320.0" cy="59.7" r="1.3"/><circle cx="324.1" cy="65.3" r="1.3"/><circle cx="315.0" cy="52.1" r="1.3"/><circle cx="314.5" cy="59.7" r="1.3"/><circle cx="317.3" cy="57.0" r="1.3"/><circle cx="313.9" cy="60.7" r="1.3"/><circle cx="322.6" cy="58.9" r="1.3"/><circle cx="316.4" cy="58.5" r="1.3"/><circle cx="317.7" cy="56.2" r="1.3"/><circle cx="323.5" cy="59.5" r="1.3"/><circle cx="315.4" cy="62.1" r="1.3"/><circle cx="321.4" cy="62.9" r="1.3"/><circle cx="315.7" cy="58.0" r="1.3"/><circle cx="315.0" cy="56.6" r="1.3"/><circle cx="312.8" cy="53.4" r="1.3"/><circle cx="329.0" cy="62.9" r="1.3"/><circle cx="318.5" cy="59.9" r="1.3"/><circle cx="321.2" cy="60.7" r="1.3"/><circle cx="319.9" cy="60.3" r="1.3"/><circle cx="321.6" cy="58.5" r="1.3"/><circle cx="320.3" cy="60.4" r="1.3"/><circle cx="329.0" cy="63.7" r="1.3"/><circle cx="314.1" cy="61.4" r="1.3"/><circle cx="311.3" cy="61.7" r="1.3"/><circle cx="315.3" cy="58.5" r="1.3"/><circle cx="314.3" cy="56.6" r="1.3"/><circle cx="323.6" cy="61.6" r="1.3"/><circle cx="279.6" cy="34.9" r="1.3"/><circle cx="275.9" cy="40.1" r="1.3"/><circle cx="276.6" cy="45.2" r="1.3"/><circle cx="323.7" cy="55.5" r="1.3"/><circle cx="325.9" cy="60.7" r="1.3"/><circle cx="329.6" cy="63.6" r="1.3"/><circle cx="334.7" cy="63.6" r="1.3"/><circle cx="333.2" cy="67.3" r="1.3"/><circle cx="339.1" cy="69.5" r="1.3"/><circle cx="328.8" cy="69.5" r="1.3"/><circle cx="330.3" cy="72.4" r="1.3"/><circle cx="340.6" cy="71.7" r="1.3"/><circle cx="317.0" cy="71.0" r="1.3"/><circle cx="315.6" cy="66.6" r="1.3"/><circle cx="309.7" cy="66.6" r="1.3"/><circle cx="300.0" cy="63.6" r="1.3"/><circle cx="216.4" cy="110.3" r="1.3"/><circle cx="214.1" cy="113.8" r="1.3"/><circle cx="219.7" cy="110.8" r="1.3"/><circle cx="212.2" cy="113.6" r="1.3"/><circle cx="224.7" cy="109.1" r="1.3"/><circle cx="219.7" cy="110.1" r="1.3"/><circle cx="221.7" cy="110.9" r="1.3"/><circle cx="217.9" cy="113.2" r="1.3"/><circle cx="214.5" cy="112.9" r="1.3"/><circle cx="216.8" cy="103.8" r="1.3"/><circle cx="219.9" cy="107.4" r="1.3"/><circle cx="216.5" cy="110.9" r="1.3"/><circle cx="222.2" cy="109.3" r="1.3"/><circle cx="222.0" cy="105.9" r="1.3"/><circle cx="211.0" cy="111.4" r="1.3"/><circle cx="219.7" cy="112.8" r="1.3"/><circle cx="211.9" cy="109.6" r="1.3"/><circle cx="217.2" cy="108.0" r="1.3"/><circle cx="217.0" cy="113.8" r="1.3"/><circle cx="208.8" cy="105.5" r="1.3"/><circle cx="219.0" cy="114.9" r="1.3"/><circle cx="222.1" cy="108.3" r="1.3"/><circle cx="220.3" cy="107.8" r="1.3"/><circle cx="217.4" cy="110.7" r="1.3"/><circle cx="218.9" cy="107.8" r="1.3"/><circle cx="213.7" cy="111.1" r="1.3"/><circle cx="218.1" cy="111.3" r="1.3"/><circle cx="218.2" cy="106.7" r="1.3"/><circle cx="220.4" cy="111.4" r="1.3"/><circle cx="213.8" cy="107.1" r="1.3"/><circle cx="220.1" cy="114.6" r="1.3"/><circle cx="221.6" cy="109.2" r="1.3"/><circle cx="219.8" cy="109.2" r="1.3"/><circle cx="215.9" cy="114.1" r="1.3"/><circle cx="220.1" cy="119.7" r="1.3"/><circle cx="208.0" cy="113.9" r="1.3"/><circle cx="222.5" cy="112.2" r="1.3"/><circle cx="221.1" cy="112.3" r="1.3"/><circle cx="219.5" cy="116.8" r="1.3"/><circle cx="222.3" cy="111.4" r="1.3"/><circle cx="217.7" cy="106.3" r="1.3"/><circle cx="218.4" cy="110.8" r="1.3"/><circle cx="222.9" cy="113.9" r="1.3"/><circle cx="223.5" cy="109.2" r="1.3"/><circle cx="223.4" cy="106.0" r="1.3"/><circle cx="213.5" cy="102.8" r="1.3"/><circle cx="222.1" cy="114.4" r="1.3"/><circle cx="227.5" cy="111.1" r="1.3"/><circle cx="225.8" cy="112.8" r="1.3"/><circle cx="221.0" cy="112.2" r="1.3"/><circle cx="210.5" cy="109.6" r="1.3"/><circle cx="225.7" cy="112.0" r="1.3"/><circle cx="218.5" cy="112.3" r="1.3"/><circle cx="207.1" cy="102.3" r="1.3"/><circle cx="222.6" cy="110.6" r="1.3"/><circle cx="213.1" cy="104.2" r="1.3"/><circle cx="211.3" cy="111.9" r="1.3"/><circle cx="216.5" cy="109.5" r="1.3"/><circle cx="228.1" cy="111.4" r="1.3"/><circle cx="218.4" cy="109.0" r="1.3"/><circle cx="221.8" cy="110.9" r="1.3"/><circle cx="228.8" cy="117.3" r="1.3"/><circle cx="231.0" cy="109.3" r="1.3"/><circle cx="220.8" cy="107.3" r="1.3"/><circle cx="219.2" cy="109.2" r="1.3"/><circle cx="209.6" cy="116.6" r="1.3"/><circle cx="214.8" cy="112.6" r="1.3"/><circle cx="222.5" cy="111.6" r="1.3"/><circle cx="221.2" cy="114.3" r="1.3"/><circle cx="217.8" cy="118.1" r="1.3"/><circle cx="225.8" cy="112.5" r="1.3"/><circle cx="216.2" cy="108.0" r="1.3"/><circle cx="218.1" cy="114.9" r="1.3"/><circle cx="223.4" cy="114.3" r="1.3"/><circle cx="222.3" cy="114.6" r="1.3"/><circle cx="226.6" cy="111.7" r="1.3"/><circle cx="219.6" cy="118.3" r="1.3"/><circle cx="216.0" cy="116.0" r="1.3"/><circle cx="221.3" cy="113.7" r="1.3"/><circle cx="213.5" cy="111.0" r="1.3"/><circle cx="213.6" cy="100.5" r="1.3"/><circle cx="222.4" cy="114.4" r="1.3"/><circle cx="220.0" cy="110.2" r="1.3"/><circle cx="221.1" cy="113.1" r="1.3"/><circle cx="209.6" cy="109.5" r="1.3"/><circle cx="218.4" cy="109.0" r="1.3"/><circle cx="218.9" cy="104.0" r="1.3"/><circle cx="214.7" cy="110.3" r="1.3"/><circle cx="208.5" cy="103.5" r="1.3"/><circle cx="218.6" cy="109.1" r="1.3"/><circle cx="225.8" cy="111.0" r="1.3"/><circle cx="222.6" cy="110.7" r="1.3"/><circle cx="219.8" cy="101.9" r="1.3"/><circle cx="218.3" cy="115.0" r="1.3"/><circle cx="223.9" cy="113.5" r="1.3"/><circle cx="203.1" cy="108.5" r="1.3"/><circle cx="216.6" cy="117.3" r="1.3"/><circle cx="223.0" cy="112.3" r="1.3"/><circle cx="226.2" cy="106.5" r="1.3"/><circle cx="230.7" cy="111.8" r="1.3"/><circle cx="227.9" cy="109.5" r="1.3"/><circle cx="222.4" cy="110.0" r="1.3"/><circle cx="221.6" cy="111.9" r="1.3"/><circle cx="227.1" cy="106.1" r="1.3"/><circle cx="216.5" cy="110.9" r="1.3"/><circle cx="221.8" cy="105.9" r="1.3"/><circle cx="224.6" cy="114.0" r="1.3"/><circle cx="231.0" cy="115.0" r="1.3"/><circle cx="219.5" cy="109.6" r="1.3"/><circle cx="219.8" cy="110.6" r="1.3"/><circle cx="235.9" cy="113.2" r="1.3"/><circle cx="234.4" cy="115.4" r="1.3"/><circle cx="226.9" cy="113.9" r="1.3"/><circle cx="238.0" cy="117.5" r="1.3"/><circle cx="251.6" cy="118.7" r="1.3"/><circle cx="251.3" cy="122.1" r="1.3"/><circle cx="245.8" cy="123.3" r="1.3"/><circle cx="242.1" cy="121.1" r="1.3"/><circle cx="233.7" cy="116.0" r="1.3"/><circle cx="248.2" cy="119.7" r="1.3"/><circle cx="237.0" cy="119.3" r="1.3"/><circle cx="238.1" cy="116.5" r="1.3"/><circle cx="237.2" cy="114.5" r="1.3"/><circle cx="239.3" cy="116.4" r="1.3"/><circle cx="233.8" cy="120.2" r="1.3"/><circle cx="237.3" cy="118.3" r="1.3"/><circle cx="229.9" cy="117.8" r="1.3"/><circle cx="236.0" cy="115.9" r="1.3"/><circle cx="251.9" cy="126.2" r="1.3"/><circle cx="238.1" cy="116.4" r="1.3"/><circle cx="236.6" cy="117.0" r="1.3"/><circle cx="239.1" cy="125.2" r="1.3"/><circle cx="241.9" cy="121.6" r="1.3"/><circle cx="231.2" cy="113.9" r="1.3"/><circle cx="236.7" cy="117.3" r="1.3"/><circle cx="243.7" cy="121.2" r="1.3"/><circle cx="238.6" cy="121.5" r="1.3"/><circle cx="239.2" cy="117.2" r="1.3"/><circle cx="249.7" cy="118.0" r="1.3"/><circle cx="233.9" cy="115.6" r="1.3"/><circle cx="238.5" cy="118.3" r="1.3"/><circle cx="234.5" cy="116.9" r="1.3"/><circle cx="246.4" cy="125.0" r="1.3"/><circle cx="225.0" cy="113.6" r="1.3"/><circle cx="232.9" cy="118.1" r="1.3"/><circle cx="235.6" cy="114.1" r="1.3"/><circle cx="241.5" cy="121.8" r="1.3"/><circle cx="240.0" cy="124.4" r="1.3"/><circle cx="246.3" cy="123.5" r="1.3"/><circle cx="227.5" cy="114.5" r="1.3"/><circle cx="242.7" cy="120.3" r="1.3"/><circle cx="234.4" cy="121.4" r="1.3"/><circle cx="234.5" cy="114.1" r="1.3"/><circle cx="241.6" cy="119.2" r="1.3"/><circle cx="231.6" cy="116.7" r="1.3"/><circle cx="223.8" cy="114.3" r="1.3"/><circle cx="236.0" cy="116.0" r="1.3"/><circle cx="228.0" cy="114.8" r="1.3"/><circle cx="234.0" cy="115.7" r="1.3"/><circle cx="240.3" cy="119.3" r="1.3"/><circle cx="240.1" cy="118.5" r="1.3"/><circle cx="249.4" cy="119.5" r="1.3"/><circle cx="236.7" cy="117.4" r="1.3"/><circle cx="227.2" cy="116.0" r="1.3"/><circle cx="234.0" cy="113.8" r="1.3"/><circle cx="232.3" cy="115.0" r="1.3"/><circle cx="229.5" cy="116.3" r="1.3"/><circle cx="241.8" cy="116.7" r="1.3"/><circle cx="233.6" cy="116.7" r="1.3"/><circle cx="226.2" cy="110.4" r="1.3"/><circle cx="241.5" cy="122.5" r="1.3"/><circle cx="235.1" cy="123.1" r="1.3"/><circle cx="238.4" cy="123.6" r="1.3"/><circle cx="238.9" cy="117.8" r="1.3"/><circle cx="241.4" cy="121.4" r="1.3"/><circle cx="238.1" cy="118.4" r="1.3"/><circle cx="245.9" cy="121.5" r="1.3"/><circle cx="239.3" cy="122.7" r="1.3"/><circle cx="241.8" cy="116.0" r="1.3"/><circle cx="239.7" cy="121.5" r="1.3"/><circle cx="228.6" cy="114.1" r="1.3"/><circle cx="235.6" cy="120.8" r="1.3"/><circle cx="236.1" cy="117.8" r="1.3"/><circle cx="240.0" cy="117.0" r="1.3"/><circle cx="228.9" cy="115.1" r="1.3"/><circle cx="247.9" cy="124.0" r="1.3"/><circle cx="238.6" cy="118.4" r="1.3"/><circle cx="229.7" cy="116.0" r="1.3"/><circle cx="227.4" cy="112.3" r="1.3"/><circle cx="238.2" cy="112.3" r="1.3"/><circle cx="236.6" cy="119.9" r="1.3"/><circle cx="232.7" cy="117.7" r="1.3"/><circle cx="238.5" cy="118.6" r="1.3"/><circle cx="233.8" cy="116.5" r="1.3"/><circle cx="240.6" cy="121.8" r="1.3"/><circle cx="233.7" cy="115.0" r="1.3"/><circle cx="238.4" cy="116.3" r="1.3"/><circle cx="244.5" cy="120.1" r="1.3"/><circle cx="253.6" cy="127.5" r="1.3"/><circle cx="232.8" cy="112.1" r="1.3"/><circle cx="233.9" cy="119.5" r="1.3"/><circle cx="233.1" cy="114.3" r="1.3"/><circle cx="244.1" cy="117.5" r="1.3"/><circle cx="229.4" cy="117.9" r="1.3"/><circle cx="234.9" cy="116.5" r="1.3"/><circle cx="239.0" cy="114.9" r="1.3"/><circle cx="232.0" cy="114.6" r="1.3"/><circle cx="230.9" cy="117.6" r="1.3"/><circle cx="233.8" cy="119.5" r="1.3"/><circle cx="224.8" cy="111.5" r="1.3"/><circle cx="230.0" cy="119.5" r="1.3"/><circle cx="235.0" cy="115.1" r="1.3"/><circle cx="223.7" cy="107.0" r="1.3"/><circle cx="230.6" cy="116.6" r="1.3"/><circle cx="229.4" cy="109.2" r="1.3"/><circle cx="224.7" cy="107.3" r="1.3"/><circle cx="226.4" cy="104.4" r="1.3"/><circle cx="228.7" cy="113.6" r="1.3"/><circle cx="227.3" cy="115.9" r="1.3"/><circle cx="220.8" cy="116.1" r="1.3"/><circle cx="224.3" cy="111.2" r="1.3"/><circle cx="236.4" cy="122.5" r="1.3"/><circle cx="229.9" cy="114.4" r="1.3"/><circle cx="236.4" cy="116.4" r="1.3"/><circle cx="238.1" cy="120.7" r="1.3"/><circle cx="231.5" cy="120.6" r="1.3"/><circle cx="249.7" cy="120.4" r="1.3"/><circle cx="220.8" cy="109.3" r="1.3"/><circle cx="235.8" cy="115.8" r="1.3"/><circle cx="224.9" cy="112.7" r="1.3"/><circle cx="246.9" cy="116.3" r="1.3"/><circle cx="241.8" cy="124.6" r="1.3"/><circle cx="210.6" cy="104.3" r="1.3"/><circle cx="218.2" cy="112.0" r="1.3"/><circle cx="235.7" cy="112.2" r="1.3"/><circle cx="234.7" cy="118.1" r="1.3"/><circle cx="234.1" cy="118.1" r="1.3"/><circle cx="228.1" cy="111.3" r="1.3"/><circle cx="228.4" cy="124.6" r="1.3"/><circle cx="233.4" cy="117.7" r="1.3"/><circle cx="223.9" cy="121.4" r="1.3"/><circle cx="235.7" cy="121.8" r="1.3"/><circle cx="208.3" cy="102.0" r="1.3"/><circle cx="234.6" cy="114.1" r="1.3"/><circle cx="217.6" cy="111.6" r="1.3"/><circle cx="189.5" cy="99.8" r="1.3"/><circle cx="197.7" cy="96.5" r="1.3"/><circle cx="198.5" cy="102.7" r="1.3"/><circle cx="203.4" cy="100.2" r="1.3"/><circle cx="204.2" cy="108.4" r="1.3"/><circle cx="207.5" cy="98.6" r="1.3"/><circle cx="211.6" cy="98.6" r="1.3"/><circle cx="255.7" cy="126.4" r="1.3"/><circle cx="254.0" cy="132.0" r="1.3"/></g>
<g fill="none" stroke="#fa8072" stroke-width="1.0" class="s"><circle cx="450.2" cy="75.5" r="1.3"/><circle cx="435.3" cy="92.5" r="1.3"/><circle cx="426.3" cy="59.3" r="1.3"/><circle cx="455.0" cy="62.0" r="1.3"/><circle cx="423.6" cy="84.4" r="1.3"/><circle cx="455.5" cy="77.1" r="1.3"/><circle cx="411.3" cy="108.8" r="1.3"/><circle cx="424.1" cy="87.4" r="1.3"/><circle cx="415.0" cy="91.0" r="1.3"/><circle cx="462.5" cy="111.6" r="1.3"/><circle cx="409.9" cy="73.5" r="1.3"/><circle cx="420.4" cy="81.9" r="1.3"/><circle cx="451.4" cy="65.2" r="1.3"/><circle cx="443.9" cy="86.3" r="1.3"/><circle cx="477.7" cy="99.5" r="1.3"/><circle cx="471.7" cy="105.2" r="1.3"/><circle cx="450.6" cy="81.4" r="1.3"/><circle cx="451.9" cy="69.9" r="1.3"/><circle cx="408.6" cy="69.0" r="1.3"/><circle cx="424.8" cy="58.4" r="1.3"/><circle cx="434.3" cy="84.0" r="1.3"/><circle cx="436.9" cy="105.0" r="1.3"/><circle cx="416.3" cy="41.8" r="1.3"/><circle cx="424.0" cy="45.1" r="1.3"/><circle cx="425.4" cy="105.8" r="1.3"/><circle cx="458.3" cy="54.7" r="1.3"/><circle cx="447.3" cy="87.6" r="1.3"/><circle cx="434.3" cy="60.7" r="1.3"/><circle cx="435.3" cy="95.3" r="1.3"/><circle cx="445.0" cy="95.3" r="1.3"/><circle cx="428.0" cy="84.9" r="1.3"/><circle cx="435.5" cy="96.0" r="1.3"/><circle cx="410.4" cy="82.9" r="1.3"/><circle cx="451.5" cy="91.6" r="1.3"/><circle cx="456.5" cy="113.0" r="1.3"/><circle cx="446.2" cy="100.7" r="1.3"/><circle cx="448.2" cy="70.9" r="1.3"/><circle cx="446.3" cy="68.4" r="1.3"/><circle cx="475.1" cy="78.0" r="1.3"/><circle cx="443.5" cy="78.2" r="1.3"/><circle cx="417.2" cy="83.3" r="1.3"/><circle cx="421.9" cy="71.8" r="1.3"/><circle cx="452.2" cy="93.2" r="1.3"/><circle cx="458.4" cy="82.8" r="1.3"/><circle cx="453.3" cy="88.3" r="1.3"/><circle cx="454.5" cy="82.2" r="1.3"/><circle cx="443.2" cy="92.6" r="1.3"/><circle cx="414.3" cy="61.8" r="1.3"/><circle cx="427.8" cy="109.0" r="1.3"/><circle cx="408.8" cy="88.0" r="1.3"/><circle cx="433.3" cy="89.8" r="1.3"/><circle cx="416.5" cy="92.6" r="1.3"/><circle cx="441.6" cy="100.6" r="1.3"/><circle cx="437.0" cy="94.7" r="1.3"/><circle cx="406.4" cy="86.2" r="1.3"/><circle cx="452.6" cy="79.1" r="1.3"/><circle cx="453.1" cy="54.3" r="1.3"/><circle cx="416.0" cy="85.9" r="1.3"/><circle cx="442.4" cy="76.9" r="1.3"/><circle cx="452.3" cy="76.9" r="1.3"/><circle cx="434.9" cy="123.1" r="1.3"/><circle cx="454.7" cy="50.7" r="1.3"/><circle cx="443.2" cy="83.2" r="1.3"/><circle cx="458.4" cy="102.9" r="1.3"/><circle cx="443.1" cy="98.6" r="1.3"/><circle cx="437.0" cy="103.3" r="1.3"/><circle cx="448.7" cy="60.7" r="1.3"/><circle cx="453.4" cy="66.0" r="1.3"/><circle cx="444.2" cy="92.8" r="1.3"/><circle cx="432.1" cy="77.3" r="1.3"/><circle cx="426.2" cy="111.4" r="1.3"/><circle cx="433.4" cy="86.2" r="1.3"/><circle cx="429.9" cy="85.7" r="1.3"/><circle cx="443.4" cy="89.8" r="1.3"/><circle cx="442.8" cy="77.7" r="1.3"/><circle cx="438.3" cy="84.4" r="1.3"/><circle cx="439.8" cy="70.9" r="1.3"/><circle cx="442.8" cy="81.7" r="1.3"/><circle cx="466.9" cy="74.2" r="1.3"/><circle cx="460.6" cy="86.7" r="1.3"/><circle cx="429.8" cy="58.3" r="1.3"/><circle cx="447.1" cy="57.0" r="1.3"/><circle cx="434.1" cy="90.2" r="1.3"/><circle cx="438.1" cy="86.3" r="1.3"/><circle cx="435.5" cy="66.0" r="1.3"/><circle cx="428.9" cy="78.6" r="1.3"/><circle cx="416.2" cy="64.6" r="1.3"/><circle cx="397.1" cy="117.1" r="1.3"/><circle cx="443.2" cy="55.9" r="1.3"/><circle cx="460.2" cy="111.6" r="1.3"/><circle cx="424.0" cy="68.5" r="1.3"/><circle cx="448.5" cy="89.6" r="1.3"/><circle cx="433.0" cy="78.0" r="1.3"/><circle cx="444.6" cy="76.0" r="1.3"/><circle cx="425.7" cy="98.4" r="1.3"/><circle cx="435.7" cy="96.3" r="1.3"/><circle cx="437.8" cy="77.6" r="1.3"/><circle cx="398.4" cy="67.0" r="1.3"/><circle cx="443.4" cy="117.7" r="1.3"/><circle cx="437.3" cy="106.3" r="1.3"/><circle cx="396.6" cy="84.9" r="1.3"/><circle cx="450.9" cy="77.4" r="1.3"/><circle cx="439.1" cy="87.5" r="1.3"/><circle cx="443.2" cy="83.9" r="1.3"/><circle cx="445.9" cy="102.8" r="1.3"/><circle cx="432.4" cy="66.1" r="1.3"/><circle cx="420.9" cy="82.9" r="1.3"/><circle cx="431.9" cy="69.2" r="1.3"/><circle cx="432.2" cy="104.7" r="1.3"/><circle cx="478.2" cy="113.2" r="1.3"/><circle cx="471.7" cy="81.0" r="1.3"/><circle cx="431.1" cy="91.7" r="1.3"/><circle cx="432.4" cy="106.4" r="1.3"/><circle cx="445.2" cy="77.4" r="1.3"/><circle cx="449.4" cy="66.7" r="1.3"/><circle cx="427.5" cy="100.2" r="1.3"/><circle cx="422.1" cy="91.1" r="1.3"/><circle cx="473.2" cy="79.0" r="1.3"/><circle cx="457.9" cy="107.4" r="1.3"/><circle cx="412.5" cy="86.6" r="1.3"/><circle cx="408.8" cy="52.3" r="1.3"/><circle cx="425.1" cy="88.4" r="1.3"/><circle cx="443.4" cy="81.5" r="1.3"/><circle cx="449.1" cy="114.5" r="1.3"/><circle cx="433.6" cy="82.3" r="1.3"/><circle cx="411.3" cy="79.0" r="1.3"/><circle cx="443.3" cy="90.0" r="1.3"/><circle cx="450.0" cy="86.7" r="1.3"/><circle cx="439.5" cy="58.6" r="1.3"/><circle cx="430.9" cy="84.6" r="1.3"/><circle cx="449.5" cy="77.0" r="1.3"/><circle cx="438.5" cy="106.4" r="1.3"/><circle cx="419.9" cy="123.4" r="1.3"/><circle cx="441.1" cy="63.6" r="1.3"/><circle cx="416.9" cy="66.1" r="1.3"/><circle cx="456.3" cy="68.2" r="1.3"/><circle cx="447.7" cy="71.4" r="1.3"/><circle cx="422.1" cy="70.8" r="1.3"/><circle cx="443.2" cy="83.5" r="1.3"/><circle cx="461.3" cy="101.1" r="1.3"/><circle cx="402.0" cy="60.5" r="1.3"/><circle cx="437.0" cy="56.4" r="1.3"/><circle cx="468.3" cy="51.3" r="1.3"/><circle cx="412.3" cy="101.4" r="1.3"/><circle cx="436.5" cy="105.1" r="1.3"/><circle cx="414.5" cy="56.5" r="1.3"/><circle cx="438.3" cy="54.8" r="1.3"/><circle cx="397.4" cy="84.8" r="1.3"/><circle cx="411.0" cy="101.2" r="1.3"/><circle cx="430.0" cy="99.8" r="1.3"/><circle cx="441.9" cy="85.9" r="1.3"/><circle cx="446.1" cy="94.2" r="1.3"/><circle cx="446.9" cy="88.2" r="1.3"/><circle cx="459.6" cy="73.2" r="1.3"/><circle cx="451.7" cy="115.0" r="1.3"/><circle cx="452.4" cy="82.6" r="1.3"/><circle cx="422.2" cy="63.7" r="1.3"/><circle cx="436.7" cy="74.6" r="1.3"/><circle cx="495.4" cy="56.4" r="1.3"/><circle cx="479.3" cy="82.9" r="1.3"/><circle cx="454.0" cy="101.2" r="1.3"/><circle cx="452.5" cy="61.1" r="1.3"/><circle cx="456.9" cy="101.8" r="1.3"/><circle cx="432.4" cy="118.2" r="1.3"/><circle cx="474.0" cy="89.0" r="1.3"/><circle cx="432.8" cy="62.9" r="1.3"/><circle cx="438.0" cy="68.1" r="1.3"/><circle cx="477.8" cy="76.9" r="1.3"/><circle cx="402.8" cy="60.8" r="1.3"/><circle cx="445.8" cy="61.4" r="1.3"/><circle cx="409.1" cy="78.2" r="1.3"/><circle cx="427.9" cy="79.5" r="1.3"/><circle cx="437.8" cy="92.9" r="1.3"/><circle cx="433.2" cy="62.2" r="1.3"/><circle cx="442.5" cy="114.5" r="1.3"/><circle cx="425.9" cy="100.7" r="1.3"/><circle cx="437.6" cy="97.8" r="1.3"/><circle cx="418.5" cy="71.5" r="1.3"/><circle cx="432.6" cy="112.2" r="1.3"/><circle cx="414.9" cy="76.8" r="1.3"/><circle cx="451.1" cy="113.5" r="1.3"/><circle cx="416.5" cy="100.8" r="1.3"/><circle cx="451.7" cy="67.4" r="1.3"/><circle cx="432.1" cy="74.9" r="1.3"/><circle cx="434.1" cy="114.4" r="1.3"/><circle cx="460.4" cy="99.7" r="1.3"/><circle cx="441.4" cy="80.0" r="1.3"/><circle cx="405.9" cy="86.1" r="1.3"/><circle cx="448.3" cy="86.0" r="1.3"/><circle cx="388.0" cy="69.5" r="1.3"/><circle cx="444.2" cy="79.2" r="1.3"/><circle cx="432.3" cy="71.4" r="1.3"/><circle cx="414.6" cy="75.3" r="1.3"/><circle cx="440.9" cy="90.6" r="1.3"/><circle cx="434.0" cy="66.3" r="1.3"/><circle cx="475.1" cy="95.0" r="1.3"/><circle cx="431.7" cy="84.5" r="1.3"/><circle cx="474.0" cy="95.6" r="1.3"/><circle cx="464.1" cy="97.8" r="1.3"/><circle cx="428.6" cy="103.8" r="1.3"/><circle cx="424.9" cy="93.3" r="1.3"/><circle cx="463.0" cy="94.7" r="1.3"/><circle cx="437.0" cy="79.6" r="1.3"/><circle cx="442.3" cy="92.3" r="1.3"/><circle cx="434.9" cy="67.3" r="1.3"/><circle cx="417.9" cy="78.4" r="1.3"/><circle cx="432.8" cy="95.4" r="1.3"/><circle cx="422.4" cy="81.7" r="1.3"/><circle cx="412.2" cy="90.2" r="1.3"/><circle cx="434.2" cy="64.6" r="1.3"/><circle cx="471.3" cy="105.9" r="1.3"/><circle cx="468.3" cy="72.8" r="1.3"/><circle cx="438.4" cy="89.4" r="1.3"/><circle cx="441.9" cy="82.2" r="1.3"/><circle cx="448.6" cy="98.5" r="1.3"/><circle cx="463.8" cy="76.1" r="1.3"/><circle cx="445.2" cy="65.6" r="1.3"/><circle cx="430.9" cy="50.3" r="1.3"/><circle cx="432.5" cy="77.4" r="1.3"/><circle cx="459.7" cy="62.3" r="1.3"/><circle cx="486.0" cy="91.7" r="1.3"/><circle cx="428.3" cy="107.2" r="1.3"/><circle cx="402.8" cy="44.7" r="1.3"/><circle cx="454.0" cy="60.6" r="1.3"/><circle cx="438.1" cy="87.9" r="1.3"/><circle cx="442.0" cy="103.7" r="1.3"/><circle cx="461.6" cy="87.8" r="1.3"/><circle cx="440.7" cy="88.1" r="1.3"/><circle cx="415.7" cy="91.2" r="1.3"/><circle cx="404.3" cy="92.4" r="1.3"/><circle cx="438.6" cy="110.6" r="1.3"/><circle cx="418.7" cy="93.1" r="1.3"/><circle cx="444.7" cy="61.5" r="1.3"/><circle cx="416.6" cy="74.6" r="1.3"/><circle cx="433.2" cy="86.2" r="1.3"/><circle cx="413.1" cy="68.8" r="1.3"/><circle cx="433.0" cy="78.2" r="1.3"/><circle cx="431.5" cy="73.6" r="1.3"/><circle cx="450.1" cy="70.6" r="1.3"/><circle cx="463.6" cy="94.4" r="1.3"/><circle cx="436.2" cy="76.0" r="1.3"/><circle cx="424.0" cy="64.0" r="1.3"/><circle cx="474.6" cy="70.4" r="1.3"/><circle cx="446.0" cy="83.2" r="1.3"/><circle cx="450.5" cy="118.7" r="1.3"/><circle cx="450.4" cy="87.0" r="1.3"/><circle cx="465.6" cy="108.0" r="1.3"/><circle cx="457.6" cy="91.1" r="1.3"/><circle cx="451.7" cy="45.9" r="1.3"/><circle cx="453.3" cy="89.1" r="1.3"/><circle cx="424.1" cy="68.0" r="1.3"/><circle cx="428.6" cy="59.5" r="1.3"/><circle cx="437.6" cy="64.2" r="1.3"/><circle cx="441.2" cy="113.2" r="1.3"/><circle cx="439.9" cy="55.6" r="1.3"/><circle cx="445.1" cy="72.0" r="1.3"/><circle cx="440.0" cy="102.4" r="1.3"/><circle cx="431.9" cy="94.0" r="1.3"/><circle cx="410.4" cy="53.3" r="1.3"/><circle cx="454.5" cy="80.7" r="1.3"/><circle cx="450.1" cy="73.8" r="1.3"/><circle cx="423.8" cy="79.2" r="1.3"/><circle cx="448.5" cy="95.4" r="1.3"/><circle cx="446.6" cy="72.7" r="1.3"/><circle cx="440.8" cy="77.1" r="1.3"/><circle cx="406.5" cy="107.6" r="1.3"/><circle cx="417.9" cy="51.0" r="1.3"/><circle cx="428.7" cy="76.2" r="1.3"/><circle cx="468.5" cy="90.6" r="1.3"/><circle cx="424.1" cy="61.2" r="1.3"/><circle cx="433.3" cy="71.8" r="1.3"/><circle cx="419.6" cy="60.1" r="1.3"/><circle cx="430.7" cy="85.2" r="1.3"/><circle cx="445.7" cy="71.9" r="1.3"/><circle cx="402.3" cy="96.0" r="1.3"/><circle cx="388.6" cy="100.0" r="1.3"/><circle cx="451.4" cy="83.4" r="1.3"/><circle cx="440.2" cy="76.1" r="1.3"/><circle cx="428.7" cy="87.0" r="1.3"/><circle cx="456.9" cy="83.5" r="1.3"/><circle cx="457.0" cy="61.7" r="1.3"/><circle cx="401.9" cy="100.9" r="1.3"/><circle cx="436.5" cy="86.4" r="1.3"/><circle cx="459.4" cy="96.1" r="1.3"/><circle cx="427.5" cy="59.2" r="1.3"/><circle cx="433.9" cy="97.6" r="1.3"/><circle cx="456.7" cy="118.6" r="1.3"/><circle cx="434.7" cy="93.1" r="1.3"/><circle cx="418.0" cy="57.7" r="1.3"/><circle cx="427.2" cy="83.2" r="1.3"/><circle cx="415.7" cy="81.5" r="1.3"/><circle cx="449.5" cy="86.3" r="1.3"/><circle cx="408.5" cy="78.5" r="1.3"/><circle cx="457.5" cy="91.0" r="1.3"/><circle cx="409.9" cy="74.6" r="1.3"/><circle cx="440.3" cy="86.5" r="1.3"/><circle cx="413.2" cy="70.7" r="1.3"/><circle cx="433.8" cy="84.2" r="1.3"/><circle cx="457.9" cy="99.6" r="1.3"/><circle cx="459.7" cy="74.1" r="1.3"/><circle cx="463.0" cy="93.9" r="1.3"/><circle cx="437.9" cy="67.3" r="1.3"/><circle cx="441.5" cy="76.1" r="1.3"/><circle cx="443.7" cy="78.4" r="1.3"/><circle cx="450.6" cy="103.9" r="1.3"/><circle cx="432.3" cy="69.4" r="1.3"/><circle cx="459.3" cy="103.4" r="1.3"/><circle cx="445.4" cy="57.4" r="1.3"/><circle cx="460.1" cy="79.8" r="1.3"/><circle cx="448.1" cy="98.1" r="1.3"/><circle cx="451.7" cy="94.4" r="1.3"/><circle cx="426.4" cy="65.2" r="1.3"/><circle cx="432.0" cy="61.5" r="1.3"/><circle cx="416.3" cy="97.5" r="1.3"/><circle cx="434.2" cy="60.8" r="1.3"/><circle cx="436.4" cy="92.4" r="1.3"/><circle cx="454.6" cy="73.5" r="1.3"/><circle cx="416.9" cy="82.3" r="1.3"/><circle cx="497.7" cy="122.2" r="1.3"/><circle cx="437.3" cy="109.1" r="1.3"/><circle cx="462.2" cy="96.9" r="1.3"/><circle cx="458.2" cy="58.8" r="1.3"/><circle cx="394.2" cy="87.9" r="1.3"/><circle cx="434.8" cy="83.4" r="1.3"/><circle cx="466.0" cy="80.7" r="1.3"/><circle cx="395.9" cy="105.4" r="1.3"/><circle cx="453.4" cy="52.9" r="1.3"/><circle cx="423.0" cy="87.9" r="1.3"/><circle cx="431.1" cy="84.6" r="1.3"/><circle cx="443.6" cy="69.5" r="1.3"/><circle cx="405.9" cy="112.1" r="1.3"/><circle cx="443.0" cy="60.6" r="1.3"/><circle cx="427.9" cy="82.9" r="1.3"/><circle cx="426.0" cy="83.8" r="1.3"/><circle cx="452.1" cy="44.7" r="1.3"/><circle cx="502.6" cy="57.8" r="1.3"/><circle cx="445.7" cy="65.7" r="1.3"/><circle cx="449.5" cy="95.9" r="1.3"/><circle cx="438.6" cy="98.7" r="1.3"/><circle cx="426.5" cy="92.6" r="1.3"/><circle cx="444.2" cy="86.5" r="1.3"/><circle cx="466.8" cy="44.6" r="1.3"/><circle cx="442.9" cy="86.1" r="1.3"/><circle cx="455.5" cy="73.5" r="1.3"/><circle cx="435.4" cy="102.5" r="1.3"/><circle cx="484.8" cy="105.5" r="1.3"/><circle cx="409.8" cy="120.9" r="1.3"/><circle cx="450.0" cy="94.6" r="1.3"/><circle cx="449.2" cy="96.4" r="1.3"/><circle cx="444.3" cy="64.6" r="1.3"/><circle cx="419.4" cy="83.7" r="1.3"/><circle cx="419.0" cy="61.1" r="1.3"/><circle cx="435.2" cy="97.8" r="1.3"/><circle cx="441.2" cy="61.8" r="1.3"/><circle cx="417.6" cy="78.7" r="1.3"/><circle cx="420.2" cy="68.2" r="1.3"/><circle cx="449.5" cy="74.3" r="1.3"/><circle cx="458.0" cy="90.2" r="1.3"/><circle cx="429.3" cy="72.6" r="1.3"/><circle cx="426.8" cy="86.1" r="1.3"/><circle cx="426.3" cy="65.0" r="1.3"/><circle cx="484.0" cy="106.4" r="1.3"/><circle cx="448.2" cy="71.2" r="1.3"/><circle cx="438.2" cy="99.7" r="1.3"/><circle cx="457.5" cy="119.1" r="1.3"/><circle cx="480.7" cy="40.3" r="1.3"/><circle cx="460.5" cy="65.2" r="1.3"/><circle cx="413.7" cy="78.7" r="1.3"/><circle cx="437.8" cy="102.5" r="1.3"/><circle cx="432.1" cy="73.9" r="1.3"/><circle cx="433.2" cy="88.8" r="1.3"/><circle cx="417.4" cy="69.7" r="1.3"/><circle cx="432.3" cy="92.0" r="1.3"/><circle cx="419.8" cy="61.3" r="1.3"/><circle cx="445.4" cy="96.7" r="1.3"/><circle cx="413.8" cy="49.6" r="1.3"/><circle cx="408.5" cy="113.7" r="1.3"/><circle cx="430.7" cy="85.2" r="1.3"/><circle cx="451.0" cy="66.8" r="1.3"/><circle cx="448.2" cy="120.3" r="1.3"/><circle cx="438.1" cy="100.4" r="1.3"/><circle cx="379.7" cy="101.8" r="1.3"/><circle cx="430.4" cy="74.9" r="1.3"/><circle cx="425.9" cy="93.0" r="1.3"/><circle cx="433.2" cy="91.0" r="1.3"/><circle cx="417.3" cy="53.6" r="1.3"/><circle cx="431.5" cy="92.5" r="1.3"/><circle cx="427.3" cy="79.0" r="1.3"/><circle cx="488.3" cy="104.5" r="1.3"/><circle cx="452.0" cy="104.8" r="1.3"/><circle cx="435.8" cy="71.1" r="1.3"/><circle cx="438.4" cy="71.8" r="1.3"/><circle cx="437.1" cy="85.5" r="1.3"/><circle cx="442.7" cy="93.6" r="1.3"/><circle cx="432.0" cy="75.1" r="1.3"/><circle cx="439.0" cy="80.2" r="1.3"/><circle cx="457.8" cy="92.8" r="1.3"/><circle cx="454.3" cy="89.5" r="1.3"/><circle cx="444.9" cy="102.4" r="1.3"/><circle cx="463.3" cy="86.3" r="1.3"/><circle cx="443.3" cy="66.8" r="1.3"/><circle cx="421.6" cy="51.6" r="1.3"/><circle cx="407.7" cy="96.3" r="1.3"/><circle cx="426.7" cy="76.4" r="1.3"/><circle cx="438.1" cy="76.1" r="1.3"/><circle cx="446.5" cy="77.1" r="1.3"/><circle cx="458.7" cy="54.9" r="1.3"/><circle cx="428.9" cy="75.4" r="1.3"/><circle cx="424.7" cy="37.0" r="1.3"/><circle cx="453.2" cy="75.2" r="1.3"/><circle cx="460.5" cy="66.6" r="1.3"/><circle cx="430.7" cy="114.1" r="1.3"/><circle cx="445.4" cy="89.9" r="1.3"/><circle cx="464.1" cy="78.4" r="1.3"/><circle cx="445.1" cy="85.0" r="1.3"/><circle cx="438.3" cy="94.8" r="1.3"/><circle cx="401.8" cy="69.0" r="1.3"/><circle cx="463.2" cy="78.1" r="1.3"/><circle cx="450.9" cy="76.0" r="1.3"/><circle cx="441.5" cy="125.4" r="1.3"/><circle cx="430.9" cy="83.4" r="1.3"/><circle cx="416.8" cy="47.9" r="1.3"/><circle cx="437.5" cy="96.0" r="1.3"/><circle cx="437.4" cy="127.2" r="1.3"/><circle cx="459.1" cy="65.5" r="1.3"/><circle cx="465.3" cy="81.0" r="1.3"/><circle cx="439.9" cy="99.6" r="1.3"/><circle cx="460.7" cy="72.3" r="1.3"/><circle cx="421.8" cy="77.4" r="1.3"/><circle cx="445.5" cy="60.6" r="1.3"/><circle cx="461.3" cy="63.7" r="1.3"/><circle cx="441.3" cy="44.7" r="1.3"/><circle cx="412.7" cy="102.1" r="1.3"/><circle cx="433.3" cy="62.0" r="1.3"/><circle cx="448.9" cy="88.6" r="1.3"/><circle cx="414.0" cy="87.9" r="1.3"/><circle cx="413.2" cy="70.7" r="1.3"/><circle cx="443.5" cy="82.9" r="1.3"/><circle cx="422.1" cy="80.4" r="1.3"/><circle cx="451.6" cy="73.4" r="1.3"/><circle cx="418.1" cy="82.9" r="1.3"/><circle cx="406.2" cy="83.0" r="1.3"/><circle cx="425.3" cy="64.2" r="1.3"/><circle cx="466.2" cy="59.4" r="1.3"/><circle cx="423.7" cy="67.2" r="1.3"/><circle cx="439.2" cy="84.2" r="1.3"/><circle cx="443.7" cy="106.3" r="1.3"/><circle cx="422.2" cy="107.8" r="1.3"/><circle cx="459.0" cy="87.5" r="1.3"/><circle cx="442.5" cy="98.6" r="1.3"/><circle cx="447.3" cy="84.2" r="1.3"/><circle cx="409.0" cy="101.4" r="1.3"/><circle cx="407.7" cy="84.3" r="1.3"/><circle cx="389.6" cy="88.9" r="1.3"/><circle cx="435.9" cy="77.0" r="1.3"/><circle cx="435.2" cy="81.9" r="1.3"/><circle cx="452.3" cy="115.3" r="1.3"/><circle cx="466.1" cy="61.0" r="1.3"/><circle cx="434.7" cy="82.1" r="1.3"/><circle cx="434.5" cy="71.6" r="1.3"/><circle cx="447.4" cy="98.8" r="1.3"/><circle cx="466.9" cy="113.9" r="1.3"/><circle cx="424.5" cy="76.5" r="1.3"/><circle cx="450.6" cy="33.3" r="1.3"/><circle cx="434.9" cy="92.8" r="1.3"/><circle cx="433.3" cy="92.8" r="1.3"/><circle cx="454.0" cy="52.4" r="1.3"/><circle cx="425.1" cy="77.7" r="1.3"/><circle cx="420.1" cy="80.8" r="1.3"/><circle cx="451.3" cy="41.3" r="1.3"/><circle cx="438.9" cy="93.8" r="1.3"/><circle cx="434.6" cy="89.7" r="1.3"/><circle cx="436.9" cy="86.2" r="1.3"/><circle cx="448.3" cy="63.3" r="1.3"/><circle cx="432.7" cy="69.4" r="1.3"/><circle cx="453.1" cy="70.8" r="1.3"/><circle cx="446.8" cy="90.4" r="1.3"/><circle cx="466.0" cy="64.6" r="1.3"/><circle cx="462.2" cy="107.7" r="1.3"/><circle cx="454.8" cy="88.6" r="1.3"/><circle cx="435.7" cy="43.6" r="1.3"/><circle cx="441.5" cy="111.6" r="1.3"/><circle cx="428.7" cy="84.7" r="1.3"/><circle cx="490.7" cy="72.2" r="1.3"/><circle cx="435.4" cy="83.7" r="1.3"/><circle cx="449.4" cy="49.7" r="1.3"/><circle cx="463.9" cy="85.2" r="1.3"/><circle cx="414.8" cy="38.5" r="1.3"/><circle cx="424.5" cy="63.8" r="1.3"/><circle cx="432.3" cy="105.8" r="1.3"/><circle cx="421.5" cy="104.1" r="1.3"/><circle cx="416.5" cy="75.8" r="1.3"/><circle cx="430.1" cy="64.8" r="1.3"/><circle cx="462.7" cy="98.3" r="1.3"/><circle cx="452.4" cy="81.0" r="1.3"/><circle cx="440.0" cy="85.6" r="1.3"/><circle cx="439.9" cy="92.9" r="1.3"/><circle cx="409.5" cy="62.8" r="1.3"/><circle cx="452.0" cy="95.8" r="1.3"/><circle cx="447.1" cy="44.4" r="1.3"/><circle cx="419.9" cy="107.7" r="1.3"/><circle cx="443.1" cy="54.1" r="1.3"/><circle cx="436.0" cy="70.7" r="1.3"/><circle cx="430.1" cy="70.0" r="1.3"/><circle cx="421.6" cy="94.7" r="1.3"/><circle cx="427.3" cy="95.0" r="1.3"/><circle cx="422.5" cy="88.1" r="1.3"/><circle cx="447.7" cy="91.4" r="1.3"/><circle cx="446.0" cy="90.0" r="1.3"/><circle cx="445.2" cy="80.5" r="1.3"/><circle cx="436.2" cy="47.9" r="1.3"/><circle cx="432.1" cy="40.9" r="1.3"/><circle cx="476.2" cy="41.0" r="1.3"/><circle cx="405.9" cy="80.9" r="1.3"/><circle cx="461.0" cy="77.7" r="1.3"/><circle cx="445.8" cy="79.2" r="1.3"/><circle cx="440.7" cy="85.7" r="1.3"/><circle cx="430.3" cy="77.5" r="1.3"/><circle cx="435.5" cy="64.0" r="1.3"/><circle cx="418.1" cy="55.1" r="1.3"/><circle cx="414.5" cy="48.0" r="1.3"/><circle cx="437.4" cy="103.2" r="1.3"/><circle cx="409.6" cy="97.7" r="1.3"/><circle cx="454.6" cy="57.6" r="1.3"/><circle cx="459.5" cy="76.8" r="1.3"/><circle cx="377.5" cy="89.5" r="1.3"/><circle cx="411.5" cy="109.9" r="1.3"/><circle cx="444.4" cy="70.9" r="1.3"/><circle cx="443.3" cy="84.7" r="1.3"/><circle cx="441.5" cy="102.1" r="1.3"/><circle cx="447.1" cy="50.8" r="1.3"/><circle cx="452.9" cy="68.6" r="1.3"/><circle cx="455.1" cy="80.9" r="1.3"/><circle cx="471.7" cy="68.8" r="1.3"/><circle cx="440.0" cy="119.1" r="1.3"/><circle cx="455.0" cy="97.0" r="1.3"/><circle cx="410.3" cy="85.1" r="1.3"/><circle cx="437.1" cy="64.5" r="1.3"/><circle cx="417.6" cy="97.0" r="1.3"/><circle cx="464.6" cy="92.8" r="1.3"/><circle cx="481.5" cy="72.4" r="1.3"/><circle cx="449.3" cy="73.8" r="1.3"/><circle cx="416.1" cy="55.6" r="1.3"/><circle cx="437.5" cy="80.2" r="1.3"/><circle cx="440.1" cy="96.9" r="1.3"/><circle cx="443.1" cy="99.3" r="1.3"/><circle cx="459.1" cy="91.8" r="1.3"/><circle cx="456.7" cy="96.2" r="1.3"/><circle cx="391.9" cy="71.1" r="1.3"/><circle cx="464.1" cy="73.2" r="1.3"/><circle cx="430.6" cy="102.9" r="1.3"/><circle cx="429.5" cy="89.5" r="1.3"/><circle cx="465.1" cy="67.4" r="1.3"/><circle cx="434.8" cy="90.4" r="1.3"/><circle cx="414.9" cy="96.2" r="1.3"/><circle cx="415.7" cy="94.0" r="1.3"/><circle cx="440.6" cy="83.4" r="1.3"/><circle cx="455.9" cy="72.3" r="1.3"/><circle cx="466.6" cy="88.6" r="1.3"/><circle cx="436.5" cy="111.6" r="1.3"/><circle cx="431.1" cy="84.1" r="1.3"/><circle cx="468.8" cy="69.6" r="1.3"/><circle cx="431.3" cy="87.5" r="1.3"/><circle cx="465.8" cy="59.6" r="1.3"/><circle cx="443.8" cy="85.5" r="1.3"/><circle cx="443.9" cy="76.1" r="1.3"/><circle cx="435.3" cy="98.4" r="1.3"/><circle cx="444.9" cy="83.3" r="1.3"/><circle cx="431.2" cy="100.1" r="1.3"/><circle cx="427.4" cy="122.2" r="1.3"/><circle cx="437.2" cy="77.6" r="1.3"/><circle cx="427.9" cy="66.6" r="1.3"/><circle cx="445.1" cy="89.6" r="1.3"/><circle cx="441.1" cy="79.9" r="1.3"/><circle cx="434.9" cy="83.9" r="1.3"/><circle cx="436.0" cy="70.8" r="1.3"/><circle cx="435.5" cy="91.3" r="1.3"/><circle cx="470.9" cy="82.6" r="1.3"/><circle cx="439.4" cy="43.2" r="1.3"/><circle cx="428.9" cy="77.2" r="1.3"/><circle cx="434.3" cy="87.3" r="1.3"/><circle cx="451.5" cy="102.3" r="1.3"/><circle cx="436.0" cy="71.2" r="1.3"/><circle cx="436.9" cy="67.2" r="1.3"/><circle cx="435.0" cy="101.7" r="1.3"/><circle cx="442.5" cy="70.6" r="1.3"/><circle cx="446.6" cy="83.2" r="1.3"/><circle cx="447.6" cy="89.8" r="1.3"/><circle cx="410.1" cy="94.4" r="1.3"/><circle cx="420.4" cy="81.5" r="1.3"/><circle cx="392.3" cy="61.7" r="1.3"/><circle cx="454.0" cy="99.3" r="1.3"/><circle cx="459.5" cy="73.7" r="1.3"/><circle cx="463.0" cy="72.2" r="1.3"/><circle cx="442.2" cy="116.8" r="1.3"/><circle cx="460.2" cy="96.9" r="1.3"/><circle cx="438.9" cy="62.6" r="1.3"/><circle cx="437.4" cy="72.9" r="1.3"/><circle cx="411.8" cy="77.0" r="1.3"/><circle cx="425.5" cy="68.1" r="1.3"/><circle cx="428.9" cy="47.5" r="1.3"/><circle cx="456.1" cy="95.5" r="1.3"/><circle cx="469.4" cy="95.1" r="1.3"/><circle cx="431.1" cy="85.7" r="1.3"/><circle cx="446.3" cy="74.3" r="1.3"/><circle cx="444.5" cy="85.1" r="1.3"/><circle cx="425.7" cy="92.6" r="1.3"/><circle cx="408.6" cy="62.9" r="1.3"/><circle cx="426.0" cy="75.5" r="1.3"/><circle cx="413.7" cy="71.5" r="1.3"/><circle cx="433.9" cy="93.6" r="1.3"/><circle cx="437.0" cy="86.0" r="1.3"/><circle cx="436.3" cy="58.4" r="1.3"/><circle cx="436.5" cy="70.4" r="1.3"/><circle cx="448.2" cy="112.5" r="1.3"/><circle cx="422.8" cy="64.2" r="1.3"/><circle cx="455.5" cy="84.0" r="1.3"/><circle cx="409.5" cy="70.2" r="1.3"/><circle cx="440.7" cy="103.3" r="1.3"/><circle cx="446.5" cy="80.2" r="1.3"/><circle cx="425.3" cy="73.6" r="1.3"/><circle cx="410.9" cy="60.6" r="1.3"/><circle cx="451.0" cy="77.0" r="1.3"/><circle cx="427.4" cy="95.9" r="1.3"/><circle cx="453.6" cy="93.1" r="1.3"/><circle cx="453.3" cy="58.0" r="1.3"/><circle cx="439.4" cy="108.8" r="1.3"/><circle cx="439.5" cy="76.9" r="1.3"/><circle cx="457.3" cy="62.7" r="1.3"/><circle cx="446.3" cy="83.5" r="1.3"/><circle cx="422.7" cy="70.3" r="1.3"/><circle cx="442.5" cy="71.1" r="1.3"/><circle cx="449.5" cy="70.1" r="1.3"/><circle cx="443.1" cy="79.7" r="1.3"/><circle cx="442.9" cy="72.4" r="1.3"/><circle cx="436.9" cy="51.1" r="1.3"/><circle cx="437.4" cy="90.4" r="1.3"/><circle cx="422.7" cy="72.0" r="1.3"/><circle cx="413.8" cy="102.3" r="1.3"/><circle cx="459.7" cy="90.6" r="1.3"/><circle cx="428.1" cy="92.1" r="1.3"/><circle cx="443.5" cy="84.4" r="1.3"/><circle cx="412.6" cy="104.0" r="1.3"/><circle cx="442.3" cy="75.4" r="1.3"/><circle cx="424.7" cy="63.7" r="1.3"/><circle cx="492.7" cy="87.3" r="1.3"/><circle cx="421.2" cy="33.4" r="1.3"/><circle cx="422.2" cy="74.7" r="1.3"/><circle cx="456.4" cy="85.0" r="1.3"/><circle cx="459.9" cy="73.9" r="1.3"/><circle cx="401.8" cy="103.3" r="1.3"/><circle cx="444.1" cy="93.5" r="1.3"/><circle cx="455.2" cy="83.2" r="1.3"/><circle cx="417.6" cy="74.1" r="1.3"/><circle cx="451.7" cy="100.4" r="1.3"/><circle cx="430.1" cy="69.2" r="1.3"/><circle cx="421.6" cy="73.9" r="1.3"/><circle cx="433.2" cy="94.3" r="1.3"/><circle cx="431.2" cy="91.6" r="1.3"/><circle cx="414.6" cy="116.9" r="1.3"/><circle cx="479.5" cy="77.4" r="1.3"/><circle cx="431.3" cy="48.1" r="1.3"/><circle cx="426.1" cy="92.7" r="1.3"/><circle cx="454.8" cy="103.2" r="1.3"/><circle cx="438.2" cy="78.2" r="1.3"/><circle cx="463.3" cy="108.5" r="1.3"/><circle cx="434.7" cy="112.4" r="1.3"/><circle cx="445.8" cy="69.4" r="1.3"/><circle cx="441.1" cy="72.7" r="1.3"/><circle cx="442.5" cy="59.1" r="1.3"/><circle cx="435.8" cy="90.7" r="1.3"/><circle cx="437.6" cy="93.7" r="1.3"/><circle cx="469.5" cy="91.7" r="1.3"/><circle cx="427.3" cy="59.5" r="1.3"/><circle cx="429.7" cy="67.7" r="1.3"/><circle cx="433.3" cy="56.0" r="1.3"/><circle cx="449.7" cy="52.8" r="1.3"/><circle cx="446.6" cy="57.5" r="1.3"/><circle cx="456.2" cy="53.3" r="1.3"/><circle cx="415.5" cy="77.9" r="1.3"/><circle cx="444.1" cy="88.5" r="1.3"/><circle cx="436.3" cy="92.0" r="1.3"/><circle cx="434.4" cy="80.7" r="1.3"/><circle cx="442.4" cy="69.3" r="1.3"/><circle cx="404.3" cy="80.9" r="1.3"/><circle cx="444.4" cy="91.1" r="1.3"/><circle cx="442.1" cy="75.9" r="1.3"/><circle cx="414.0" cy="82.0" r="1.3"/><circle cx="437.8" cy="75.7" r="1.3"/><circle cx="467.1" cy="71.9" r="1.3"/><circle cx="432.6" cy="81.6" r="1.3"/><circle cx="450.1" cy="61.5" r="1.3"/><circle cx="435.5" cy="99.5" r="1.3"/><circle cx="425.0" cy="53.6" r="1.3"/><circle cx="423.1" cy="89.1" r="1.3"/><circle cx="432.4" cy="57.2" r="1.3"/><circle cx="462.7" cy="107.5" r="1.3"/><circle cx="454.0" cy="96.2" r="1.3"/><circle cx="426.9" cy="66.8" r="1.3"/><circle cx="457.3" cy="73.1" r="1.3"/><circle cx="437.2" cy="61.3" r="1.3"/><circle cx="427.2" cy="80.0" r="1.3"/><circle cx="447.2" cy="88.2" r="1.3"/><circle cx="423.2" cy="125.8" r="1.3"/><circle cx="411.5" cy="57.1" r="1.3"/><circle cx="462.6" cy="102.7" r="1.3"/><circle cx="406.9" cy="70.8" r="1.3"/><circle cx="449.1" cy="85.8" r="1.3"/><circle cx="412.3" cy="96.4" r="1.3"/><circle cx="439.0" cy="90.5" r="1.3"/><circle cx="436.0" cy="88.4" r="1.3"/><circle cx="431.7" cy="77.6" r="1.3"/><circle cx="400.6" cy="80.9" r="1.3"/><circle cx="437.6" cy="83.7" r="1.3"/><circle cx="438.8" cy="102.0" r="1.3"/><circle cx="423.5" cy="55.3" r="1.3"/><circle cx="438.3" cy="72.4" r="1.3"/><circle cx="457.2" cy="59.2" r="1.3"/><circle cx="426.7" cy="64.1" r="1.3"/><circle cx="444.1" cy="67.0" r="1.3"/><circle cx="419.0" cy="100.2" r="1.3"/><circle cx="446.3" cy="118.5" r="1.3"/><circle cx="450.9" cy="104.7" r="1.3"/><circle cx="483.6" cy="60.3" r="1.3"/><circle cx="455.6" cy="82.3" r="1.3"/><circle cx="447.2" cy="61.1" r="1.3"/><circle cx="464.6" cy="88.8" r="1.3"/><circle cx="421.9" cy="103.2" r="1.3"/><circle cx="458.6" cy="91.3" r="1.3"/><circle cx="429.9" cy="96.2" r="1.3"/><circle cx="428.5" cy="78.4" r="1.3"/><circle cx="459.0" cy="46.6" r="1.3"/><circle cx="443.7" cy="46.4" r="1.3"/><circle cx="463.1" cy="79.3" r="1.3"/><circle cx="413.8" cy="91.0" r="1.3"/><circle cx="444.4" cy="103.2" r="1.3"/><circle cx="430.2" cy="74.9" r="1.3"/><circle cx="434.8" cy="82.3" r="1.3"/><circle cx="405.7" cy="85.5" r="1.3"/><circle cx="456.2" cy="99.6" r="1.3"/><circle cx="443.3" cy="79.8" r="1.3"/><circle cx="422.1" cy="61.9" r="1.3"/><circle cx="415.7" cy="99.9" r="1.3"/><circle cx="424.2" cy="88.2" r="1.3"/><circle cx="464.4" cy="87.7" r="1.3"/><circle cx="437.9" cy="58.8" r="1.3"/><circle cx="433.7" cy="80.9" r="1.3"/><circle cx="448.4" cy="51.0" r="1.3"/><circle cx="439.9" cy="45.9" r="1.3"/><circle cx="443.8" cy="76.9" r="1.3"/><circle cx="452.8" cy="73.4" r="1.3"/><circle cx="445.6" cy="90.9" r="1.3"/><circle cx="455.3" cy="106.2" r="1.3"/><circle cx="418.6" cy="80.4" r="1.3"/><circle cx="440.8" cy="112.2" r="1.3"/><circle cx="433.4" cy="70.7" r="1.3"/><circle cx="441.6" cy="94.3" r="1.3"/><circle cx="439.0" cy="58.9" r="1.3"/><circle cx="428.5" cy="83.2" r="1.3"/><circle cx="433.6" cy="75.5" r="1.3"/><circle cx="456.5" cy="77.3" r="1.3"/><circle cx="430.0" cy="91.3" r="1.3"/><circle cx="417.8" cy="48.1" r="1.3"/><circle cx="450.3" cy="83.0" r="1.3"/><circle cx="457.0" cy="66.8" r="1.3"/><circle cx="435.1" cy="83.0" r="1.3"/><circle cx="442.1" cy="87.9" r="1.3"/><circle cx="425.0" cy="74.5" r="1.3"/><circle cx="436.3" cy="74.5" r="1.3"/><circle cx="459.4" cy="60.9" r="1.3"/><circle cx="454.0" cy="90.6" r="1.3"/><circle cx="442.5" cy="69.3" r="1.3"/><circle cx="435.0" cy="88.7" r="1.3"/><circle cx="411.1" cy="56.1" r="1.3"/><circle cx="445.5" cy="104.9" r="1.3"/><circle cx="448.0" cy="63.2" r="1.3"/><circle cx="458.5" cy="101.2" r="1.3"/><circle cx="475.5" cy="73.2" r="1.3"/><circle cx="446.6" cy="90.5" r="1.3"/><circle cx="456.8" cy="78.5" r="1.3"/><circle cx="420.3" cy="92.8" r="1.3"/><circle cx="461.2" cy="81.1" r="1.3"/><circle cx="455.3" cy="103.1" r="1.3"/><circle cx="464.0" cy="92.7" r="1.3"/><circle cx="451.9" cy="92.9" r="1.3"/><circle cx="448.0" cy="110.1" r="1.3"/><circle cx="466.0" cy="68.8" r="1.3"/><circle cx="428.3" cy="103.7" r="1.3"/><circle cx="451.4" cy="82.2" r="1.3"/><circle cx="459.1" cy="55.2" r="1.3"/><circle cx="426.2" cy="89.3" r="1.3"/><circle cx="419.8" cy="77.4" r="1.3"/><circle cx="447.7" cy="110.4" r="1.3"/><circle cx="442.3" cy="72.4" r="1.3"/><circle cx="450.8" cy="81.9" r="1.3"/><circle cx="451.4" cy="85.1" r="1.3"/><circle cx="426.6" cy="47.8" r="1.3"/><circle cx="446.1" cy="89.9" r="1.3"/><circle cx="459.9" cy="63.7" r="1.3"/><circle cx="433.9" cy="105.5" r="1.3"/><circle cx="435.1" cy="110.0" r="1.3"/><circle cx="420.4" cy="80.9" r="1.3"/><circle cx="454.5" cy="53.4" r="1.3"/><circle cx="474.4" cy="84.2" r="1.3"/><circle cx="416.1" cy="84.1" r="1.3"/><circle cx="453.6" cy="93.6" r="1.3"/><circle cx="456.0" cy="75.8" r="1.3"/><circle cx="430.4" cy="60.2" r="1.3"/><circle cx="433.7" cy="78.5" r="1.3"/><circle cx="421.9" cy="64.9" r="1.3"/><circle cx="426.5" cy="111.9" r="1.3"/><circle cx="443.1" cy="68.7" r="1.3"/><circle cx="451.7" cy="69.6" r="1.3"/><circle cx="442.3" cy="80.2" r="1.3"/><circle cx="455.3" cy="59.4" r="1.3"/><circle cx="443.9" cy="73.2" r="1.3"/><circle cx="419.8" cy="78.6" r="1.3"/><circle cx="465.7" cy="72.5" r="1.3"/><circle cx="461.1" cy="76.6" r="1.3"/><circle cx="427.8" cy="102.6" r="1.3"/><circle cx="471.4" cy="88.6" r="1.3"/><circle cx="448.5" cy="57.7" r="1.3"/><circle cx="442.6" cy="73.5" r="1.3"/><circle cx="474.0" cy="94.0" r="1.3"/><circle cx="396.5" cy="69.7" r="1.3"/><circle cx="412.2" cy="82.4" r="1.3"/><circle cx="452.8" cy="80.5" r="1.3"/><circle cx="436.1" cy="90.2" r="1.3"/><circle cx="423.8" cy="77.9" r="1.3"/><circle cx="466.8" cy="78.5" r="1.3"/><circle cx="448.9" cy="66.0" r="1.3"/><circle cx="418.0" cy="87.3" r="1.3"/><circle cx="428.8" cy="64.8" r="1.3"/><circle cx="455.2" cy="111.2" r="1.3"/><circle cx="471.8" cy="80.6" r="1.3"/><circle cx="405.3" cy="77.1" r="1.3"/><circle cx="444.8" cy="94.7" r="1.3"/><circle cx="433.8" cy="79.5" r="1.3"/><circle cx="409.8" cy="82.5" r="1.3"/><circle cx="437.5" cy="80.1" r="1.3"/><circle cx="412.3" cy="68.4" r="1.3"/><circle cx="431.1" cy="64.9" r="1.3"/><circle cx="468.9" cy="68.8" r="1.3"/><circle cx="449.5" cy="100.7" r="1.3"/><circle cx="454.2" cy="70.1" r="1.3"/><circle cx="451.0" cy="73.9" r="1.3"/><circle cx="446.7" cy="73.2" r="1.3"/><circle cx="457.6" cy="93.2" r="1.3"/><circle cx="420.1" cy="115.5" r="1.3"/><circle cx="434.2" cy="64.9" r="1.3"/><circle cx="455.5" cy="90.6" r="1.3"/><circle cx="427.8" cy="83.1" r="1.3"/><circle cx="432.9" cy="75.7" r="1.3"/><circle cx="461.8" cy="89.8" r="1.3"/><circle cx="467.5" cy="58.9" r="1.3"/><circle cx="430.0" cy="95.5" r="1.3"/><circle cx="426.3" cy="84.8" r="1.3"/><circle cx="450.9" cy="63.6" r="1.3"/><circle cx="445.4" cy="108.7" r="1.3"/><circle cx="428.8" cy="95.8" r="1.3"/><circle cx="451.1" cy="101.2" r="1.3"/><circle cx="450.4" cy="55.7" r="1.3"/><circle cx="442.1" cy="76.3" r="1.3"/><circle cx="492.3" cy="71.9" r="1.3"/><circle cx="464.6" cy="91.9" r="1.3"/><circle cx="455.0" cy="104.6" r="1.3"/><circle cx="458.7" cy="47.8" r="1.3"/><circle cx="492.7" cy="81.4" r="1.3"/><circle cx="460.0" cy="78.8" r="1.3"/><circle cx="428.1" cy="98.4" r="1.3"/><circle cx="446.4" cy="80.3" r="1.3"/><circle cx="442.0" cy="58.9" r="1.3"/><circle cx="430.7" cy="77.6" r="1.3"/><circle cx="445.3" cy="63.0" r="1.3"/><circle cx="445.1" cy="67.5" r="1.3"/><circle cx="439.7" cy="81.7" r="1.3"/><circle cx="432.2" cy="72.6" r="1.3"/><circle cx="455.3" cy="85.9" r="1.3"/><circle cx="412.7" cy="54.6" r="1.3"/><circle cx="455.2" cy="121.4" r="1.3"/><circle cx="440.9" cy="102.9" r="1.3"/><circle cx="445.6" cy="93.5" r="1.3"/><circle cx="399.0" cy="58.5" r="1.3"/><circle cx="470.3" cy="43.5" r="1.3"/><circle cx="410.3" cy="66.0" r="1.3"/><circle cx="425.5" cy="77.0" r="1.3"/><circle cx="452.1" cy="119.8" r="1.3"/><circle cx="430.1" cy="103.7" r="1.3"/><circle cx="433.6" cy="71.9" r="1.3"/><circle cx="401.5" cy="102.0" r="1.3"/><circle cx="433.1" cy="102.3" r="1.3"/><circle cx="444.5" cy="81.3" r="1.3"/><circle cx="452.7" cy="102.2" r="1.3"/><circle cx="435.7" cy="86.7" r="1.3"/><circle cx="444.6" cy="69.6" r="1.3"/><circle cx="448.5" cy="60.6" r="1.3"/><circle cx="428.9" cy="78.9" r="1.3"/><circle cx="427.6" cy="98.3" r="1.3"/><circle cx="475.3" cy="57.4" r="1.3"/><circle cx="425.8" cy="53.0" r="1.3"/><circle cx="462.5" cy="90.6" r="1.3"/><circle cx="442.0" cy="33.8" r="1.3"/><circle cx="466.7" cy="112.7" r="1.3"/><circle cx="429.5" cy="73.4" r="1.3"/><circle cx="449.9" cy="93.7" r="1.3"/><circle cx="446.6" cy="113.3" r="1.3"/><circle cx="436.8" cy="55.8" r="1.3"/><circle cx="446.3" cy="62.7" r="1.3"/><circle cx="427.3" cy="120.0" r="1.3"/><circle cx="439.4" cy="76.1" r="1.3"/><circle cx="433.8" cy="78.8" r="1.3"/><circle cx="454.2" cy="84.9" r="1.3"/><circle cx="439.2" cy="99.4" r="1.3"/><circle cx="416.3" cy="104.0" r="1.3"/><circle cx="434.3" cy="82.9" r="1.3"/><circle cx="439.1" cy="75.2" r="1.3"/><circle cx="424.9" cy="80.4" r="1.3"/><circle cx="464.3" cy="86.3" r="1.3"/><circle cx="447.9" cy="103.8" r="1.3"/><circle cx="455.7" cy="83.4" r="1.3"/><circle cx="427.3" cy="112.6" r="1.3"/><circle cx="433.8" cy="66.1" r="1.3"/><circle cx="458.6" cy="90.2" r="1.3"/><circle cx="415.5" cy="111.5" r="1.3"/><circle cx="447.3" cy="103.4" r="1.3"/><circle cx="442.4" cy="86.8" r="1.3"/><circle cx="432.0" cy="65.7" r="1.3"/><circle cx="442.4" cy="68.6" r="1.3"/><circle cx="421.8" cy="78.3" r="1.3"/><circle cx="444.8" cy="86.4" r="1.3"/><circle cx="419.3" cy="76.7" r="1.3"/><circle cx="418.3" cy="55.7" r="1.3"/><circle cx="465.5" cy="68.2" r="1.3"/><circle cx="428.4" cy="90.0" r="1.3"/><circle cx="403.5" cy="95.5" r="1.3"/><circle cx="458.0" cy="56.7" r="1.3"/><circle cx="427.2" cy="74.7" r="1.3"/><circle cx="378.6" cy="51.9" r="1.3"/><circle cx="439.8" cy="71.2" r="1.3"/><circle cx="447.0" cy="82.1" r="1.3"/><circle cx="471.2" cy="75.0" r="1.3"/><circle cx="438.6" cy="70.8" r="1.3"/><circle cx="451.4" cy="60.0" r="1.3"/><circle cx="423.0" cy="48.7" r="1.3"/><circle cx="443.7" cy="80.3" r="1.3"/><circle cx="467.9" cy="76.2" r="1.3"/><circle cx="449.7" cy="106.7" r="1.3"/><circle cx="443.7" cy="52.6" r="1.3"/><circle cx="405.9" cy="88.6" r="1.3"/><circle cx="434.2" cy="104.3" r="1.3"/><circle cx="418.0" cy="47.0" r="1.3"/><circle cx="454.6" cy="92.4" r="1.3"/><circle cx="427.8" cy="53.0" r="1.3"/><circle cx="447.2" cy="90.1" r="1.3"/><circle cx="423.1" cy="106.7" r="1.3"/><circle cx="474.2" cy="80.9" r="1.3"/><circle cx="420.1" cy="86.0" r="1.3"/><circle cx="443.3" cy="68.9" r="1.3"/><circle cx="487.4" cy="86.0" r="1.3"/><circle cx="444.6" cy="100.7" r="1.3"/><circle cx="425.4" cy="77.8" r="1.3"/><circle cx="451.7" cy="78.6" r="1.3"/><circle cx="458.4" cy="87.8" r="1.3"/><circle cx="456.3" cy="95.3" r="1.3"/><circle cx="405.9" cy="52.6" r="1.3"/><circle cx="444.7" cy="82.0" r="1.3"/><circle cx="403.1" cy="69.1" r="1.3"/><circle cx="474.5" cy="89.6" r="1.3"/><circle cx="442.1" cy="99.0" r="1.3"/><circle cx="432.7" cy="86.4" r="1.3"/><circle cx="452.8" cy="103.5" r="1.3"/><circle cx="449.5" cy="63.8" r="1.3"/><circle cx="419.8" cy="73.9" r="1.3"/><circle cx="469.7" cy="63.8" r="1.3"/><circle cx="436.6" cy="82.0" r="1.3"/><circle cx="409.7" cy="82.7" r="1.3"/><circle cx="465.7" cy="77.6" r="1.3"/><circle cx="468.1" cy="59.9" r="1.3"/><circle cx="463.2" cy="79.7" r="1.3"/><circle cx="450.6" cy="73.4" r="1.3"/><circle cx="425.0" cy="91.5" r="1.3"/><circle cx="457.5" cy="76.3" r="1.3"/><circle cx="473.9" cy="101.2" r="1.3"/><circle cx="455.4" cy="85.0" r="1.3"/><circle cx="469.4" cy="48.7" r="1.3"/><circle cx="427.1" cy="78.0" r="1.3"/><circle cx="459.0" cy="56.2" r="1.3"/><circle cx="457.6" cy="97.9" r="1.3"/><circle cx="414.4" cy="106.0" r="1.3"/><circle cx="412.0" cy="80.6" r="1.3"/><circle cx="428.1" cy="88.7" r="1.3"/><circle cx="442.4" cy="55.9" r="1.3"/><circle cx="449.0" cy="41.9" r="1.3"/><circle cx="436.9" cy="71.4" r="1.3"/><circle cx="439.8" cy="76.6" r="1.3"/><circle cx="438.9" cy="54.7" r="1.3"/><circle cx="442.5" cy="82.6" r="1.3"/><circle cx="451.3" cy="86.5" r="1.3"/><circle cx="449.8" cy="92.2" r="1.3"/><circle cx="440.0" cy="108.0" r="1.3"/><circle cx="445.6" cy="95.1" r="1.3"/><circle cx="432.9" cy="74.7" r="1.3"/><circle cx="455.1" cy="82.9" r="1.3"/><circle cx="431.9" cy="91.5" r="1.3"/><circle cx="470.2" cy="62.8" r="1.3"/><circle cx="440.5" cy="104.1" r="1.3"/><circle cx="445.8" cy="96.7" r="1.3"/><circle cx="427.4" cy="77.1" r="1.3"/><circle cx="434.8" cy="69.9" r="1.3"/><circle cx="441.3" cy="95.7" r="1.3"/><circle cx="429.9" cy="97.4" r="1.3"/><circle cx="420.2" cy="112.3" r="1.3"/><circle cx="441.7" cy="98.1" r="1.3"/><circle cx="443.7" cy="84.7" r="1.3"/><circle cx="450.8" cy="93.3" r="1.3"/><circle cx="463.2" cy="65.2" r="1.3"/><circle cx="435.4" cy="93.5" r="1.3"/><circle cx="405.3" cy="54.3" r="1.3"/><circle cx="438.4" cy="88.4" r="1.3"/><circle cx="408.0" cy="90.8" r="1.3"/><circle cx="418.0" cy="54.0" r="1.3"/><circle cx="459.4" cy="114.5" r="1.3"/><circle cx="451.1" cy="61.1" r="1.3"/><circle cx="429.5" cy="99.3" r="1.3"/><circle cx="429.6" cy="71.9" r="1.3"/><circle cx="439.4" cy="86.5" r="1.3"/><circle cx="409.6" cy="69.7" r="1.3"/><circle cx="449.6" cy="124.5" r="1.3"/><circle cx="434.7" cy="99.1" r="1.3"/><circle cx="473.9" cy="112.7" r="1.3"/><circle cx="422.0" cy="94.8" r="1.3"/><circle cx="458.9" cy="93.3" r="1.3"/><circle cx="428.8" cy="83.9" r="1.3"/><circle cx="459.2" cy="77.1" r="1.3"/><circle cx="423.5" cy="91.8" r="1.3"/><circle cx="454.1" cy="84.1" r="1.3"/><circle cx="433.1" cy="78.6" r="1.3"/><circle cx="426.2" cy="57.3" r="1.3"/><circle cx="438.3" cy="76.0" r="1.3"/><circle cx="449.5" cy="91.8" r="1.3"/><circle cx="448.2" cy="73.1" r="1.3"/><circle cx="469.3" cy="87.4" r="1.3"/><circle cx="455.7" cy="78.9" r="1.3"/><circle cx="393.8" cy="63.4" r="1.3"/><circle cx="433.8" cy="65.6" r="1.3"/><circle cx="405.3" cy="68.5" r="1.3"/><circle cx="430.1" cy="83.1" r="1.3"/><circle cx="431.1" cy="103.3" r="1.3"/><circle cx="482.1" cy="74.4" r="1.3"/><circle cx="400.8" cy="119.5" r="1.3"/><circle cx="466.1" cy="37.8" r="1.3"/><circle cx="424.0" cy="81.0" r="1.3"/><circle cx="436.5" cy="118.7" r="1.3"/><circle cx="494.9" cy="62.9" r="1.3"/><circle cx="462.6" cy="71.6" r="1.3"/><circle cx="475.8" cy="87.4" r="1.3"/><circle cx="445.3" cy="76.9" r="1.3"/><circle cx="476.3" cy="91.9" r="1.3"/><circle cx="414.7" cy="128.6" r="1.3"/><circle cx="423.7" cy="100.3" r="1.3"/><circle cx="499.3" cy="55.7" r="1.3"/><circle cx="498.5" cy="124.7" r="1.3"/><circle cx="418.6" cy="96.2" r="1.3"/><circle cx="483.9" cy="127.7" r="1.3"/><circle cx="435.2" cy="46.0" r="1.3"/><circle cx="480.7" cy="133.5" r="1.3"/><circle cx="429.3" cy="83.7" r="1.3"/><circle cx="437.0" cy="105.5" r="1.3"/><circle cx="430.5" cy="73.0" r="1.3"/><circle cx="440.3" cy="51.0" r="1.3"/><circle cx="447.0" cy="75.6" r="1.3"/><circle cx="390.6" cy="100.3" r="1.3"/><circle cx="503.8" cy="75.6" r="1.3"/><circle cx="426.7" cy="73.9" r="1.3"/><circle cx="374.1" cy="126.0" r="1.3"/><circle cx="418.6" cy="52.9" r="1.3"/><circle cx="491.5" cy="80.4" r="1.3"/><circle cx="380.9" cy="115.2" r="1.3"/><circle cx="429.4" cy="64.3" r="1.3"/><circle cx="373.4" cy="50.2" r="1.3"/><circle cx="482.1" cy="110.8" r="1.3"/><circle cx="454.8" cy="84.1" r="1.3"/><circle cx="453.3" cy="81.5" r="1.3"/><circle cx="502.2" cy="44.8" r="1.3"/><circle cx="479.5" cy="88.4" r="1.3"/><circle cx="392.4" cy="73.0" r="1.3"/><circle cx="402.7" cy="100.4" r="1.3"/><circle cx="376.5" cy="117.0" r="1.3"/><circle cx="508.2" cy="43.0" r="1.3"/><circle cx="434.4" cy="108.1" r="1.3"/><circle cx="446.2" cy="106.5" r="1.3"/><circle cx="448.7" cy="78.5" r="1.3"/><circle cx="420.6" cy="82.3" r="1.3"/><circle cx="485.2" cy="55.1" r="1.3"/><circle cx="452.7" cy="95.4" r="1.3"/><circle cx="370.4" cy="130.5" r="1.3"/><circle cx="475.5" cy="112.8" r="1.3"/><circle cx="413.9" cy="69.9" r="1.3"/><circle cx="424.5" cy="101.2" r="1.3"/><circle cx="449.8" cy="98.8" r="1.3"/><circle cx="483.1" cy="63.2" r="1.3"/><circle cx="416.7" cy="42.4" r="1.3"/><circle cx="451.8" cy="73.1" r="1.3"/></g>
<g fill="none" stroke="#6495ed" stroke-width="1.0" class="s"><circle cx="458.8" cy="65.0" r="1.3"/><circle cx="463.0" cy="66.4" r="1.3"/><circle cx="471.3" cy="70.6" r="1.3"/><circle cx="465.2" cy="62.1" r="1.3"/><circle cx="462.0" cy="66.4" r="1.3"/><circle cx="458.3" cy="62.8" r="1.3"/><circle cx="457.4" cy="62.9" r="1.3"/><circle cx="469.6" cy="68.3" r="1.3"/><circle cx="456.4" cy="60.0" r="1.3"/><circle cx="456.9" cy="61.7" r="1.3"/><circle cx="460.5" cy="65.4" r="1.3"/><circle cx="458.3" cy="65.6" r="1.3"/><circle cx="472.5" cy="69.1" r="1.3"/><circle cx="449.3" cy="57.4" r="1.3"/><circle cx="462.5" cy="67.7" r="1.3"/><circle cx="465.9" cy="65.5" r="1.3"/><circle cx="454.1" cy="64.6" r="1.3"/><circle cx="458.0" cy="63.2" r="1.3"/><circle cx="464.4" cy="64.7" r="1.3"/><circle cx="469.6" cy="70.4" r="1.3"/><circle cx="455.4" cy="64.7" r="1.3"/><circle cx="453.9" cy="58.7" r="1.3"/><circle cx="465.7" cy="69.5" r="1.3"/><circle cx="469.9" cy="68.4" r="1.3"/><circle cx="458.7" cy="65.9" r="1.3"/><circle cx="449.8" cy="58.5" r="1.3"/><circle cx="470.4" cy="66.5" r="1.3"/><circle cx="460.1" cy="65.0" r="1.3"/><circle cx="467.0" cy="69.0" r="1.3"/><circle cx="459.9" cy="67.5" r="1.3"/><circle cx="458.3" cy="66.1" r="1.3"/><circle cx="458.6" cy="64.5" r="1.3"/><circle cx="469.6" cy="68.4" r="1.3"/><circle cx="469.6" cy="67.9" r="1.3"/><circle cx="450.2" cy="58.8" r="1.3"/><circle cx="457.0" cy="61.2" r="1.3"/><circle cx="471.3" cy="69.1" r="1.3"/><circle cx="461.2" cy="60.4" r="1.3"/><circle cx="454.0" cy="61.5" r="1.3"/><circle cx="461.5" cy="64.8" r="1.3"/><circle cx="459.2" cy="68.0" r="1.3"/><circle cx="460.5" cy="65.6" r="1.3"/><circle cx="459.2" cy="62.9" r="1.3"/><circle cx="459.5" cy="64.7" r="1.3"/><circle cx="459.8" cy="61.9" r="1.3"/><circle cx="463.7" cy="64.9" r="1.3"/><circle cx="458.3" cy="60.1" r="1.3"/><circle cx="459.0" cy="66.0" r="1.3"/><circle cx="460.3" cy="65.2" r="1.3"/><circle cx="469.3" cy="66.6" r="1.3"/><circle cx="463.6" cy="65.7" r="1.3"/><circle cx="460.3" cy="65.8" r="1.3"/><circle cx="464.1" cy="66.9" r="1.3"/><circle cx="463.4" cy="66.4" r="1.3"/><circle cx="467.9" cy="66.5" r="1.3"/><circle cx="464.7" cy="65.3" r="1.3"/><circle cx="471.1" cy="69.6" r="1.3"/><circle cx="468.1" cy="69.6" r="1.3"/><circle cx="461.8" cy="63.6" r="1.3"/><circle cx="460.0" cy="62.2" r="1.3"/><circle cx="465.5" cy="68.7" r="1.3"/><circle cx="464.9" cy="64.9" r="1.3"/><circle cx="460.3" cy="66.0" r="1.3"/><circle cx="453.4" cy="61.2" r="1.3"/><circle cx="451.0" cy="61.2" r="1.3"/><circle cx="462.2" cy="68.1" r="1.3"/><circle cx="465.2" cy="67.8" r="1.3"/><circle cx="465.3" cy="68.0" r="1.3"/><circle cx="455.2" cy="60.2" r="1.3"/><circle cx="467.6" cy="66.6" r="1.3"/><circle cx="458.2" cy="64.3" r="1.3"/><circle cx="462.6" cy="67.9" r="1.3"/><circle cx="462.8" cy="67.8" r="1.3"/><circle cx="455.6" cy="65.8" r="1.3"/><circle cx="458.1" cy="63.7" r="1.3"/><circle cx="450.2" cy="59.6" r="1.3"/><circle cx="455.9" cy="63.7" r="1.3"/><circle cx="451.8" cy="60.1" r="1.3"/><circle cx="463.9" cy="65.9" r="1.3"/><circle cx="462.5" cy="63.5" r="1.3"/><circle cx="465.8" cy="68.5" r="1.3"/><circle cx="464.1" cy="64.3" r="1.3"/><circle cx="457.7" cy="63.8" r="1.3"/><circle cx="464.3" cy="63.8" r="1.3"/><circle cx="458.7" cy="65.3" r="1.3"/><circle cx="465.5" cy="65.0" r="1.3"/><circle cx="462.6" cy="66.8" r="1.3"/><circle cx="457.2" cy="60.1" r="1.3"/><circle cx="461.8" cy="64.2" r="1.3"/><circle cx="461.0" cy="66.5" r="1.3"/><circle cx="460.4" cy="62.9" r="1.3"/><circle cx="466.3" cy="67.2" r="1.3"/><circle cx="471.1" cy="68.7" r="1.3"/><circle cx="461.0" cy="60.7" r="1.3"/><circle cx="459.4" cy="64.3" r="1.3"/><circle cx="449.1" cy="59.5" r="1.3"/><circle cx="461.5" cy="63.0" r="1.3"/><circle cx="458.8" cy="64.4" r="1.3"/><circle cx="450.4" cy="58.0" r="1.3"/><circle cx="463.7" cy="64.2" r="1.3"/><circle cx="464.7" cy="66.4" r="1.3"/><circle cx="458.0" cy="62.0" r="1.3"/><circle cx="458.0" cy="66.9" r="1.3"/><circle cx="457.3" cy="60.2" r="1.3"/><circle cx="465.1" cy="67.8" r="1.3"/><circle cx="452.7" cy="62.1" r="1.3"/><circle cx="461.1" cy="61.3" r="1.3"/><circle cx="473.2" cy="67.6" r="1.3"/><circle cx="461.4" cy="65.7" r="1.3"/><circle cx="464.3" cy="65.4" r="1.3"/><circle cx="460.5" cy="64.9" r="1.3"/><circle cx="454.4" cy="63.2" r="1.3"/><circle cx="461.6" cy="64.2" r="1.3"/><circle cx="464.4" cy="64.4" r="1.3"/><circle cx="457.8" cy="58.4" r="1.3"/><circle cx="463.2" cy="66.0" r="1.3"/><circle cx="468.8" cy="66.8" r="1.3"/><circle cx="467.1" cy="68.0" r="1.3"/><circle cx="452.8" cy="60.9" r="1.3"/><circle cx="457.2" cy="60.4" r="1.3"/><circle cx="451.7" cy="62.9" r="1.3"/><circle cx="466.6" cy="69.1" r="1.3"/><circle cx="464.2" cy="67.5" r="1.3"/><circle cx="466.1" cy="65.1" r="1.3"/><circle cx="457.0" cy="61.9" r="1.3"/><circle cx="455.6" cy="61.0" r="1.3"/><circle cx="462.2" cy="64.4" r="1.3"/><circle cx="462.8" cy="63.6" r="1.3"/><circle cx="456.6" cy="63.1" r="1.3"/><circle cx="462.1" cy="65.5" r="1.3"/><circle cx="464.7" cy="67.0" r="1.3"/><circle cx="463.1" cy="64.7" r="1.3"/><circle cx="455.0" cy="63.8" r="1.3"/><circle cx="450.0" cy="59.5" r="1.3"/><circle cx="461.9" cy="60.4" r="1.3"/><circle cx="462.8" cy="64.4" r="1.3"/><circle cx="460.1" cy="64.0" r="1.3"/><circle cx="458.6" cy="65.0" r="1.3"/><circle cx="458.0" cy="62.6" r="1.3"/><circle cx="465.5" cy="66.3" r="1.3"/><circle cx="461.7" cy="63.8" r="1.3"/><circle cx="461.7" cy="66.0" r="1.3"/><circle cx="456.6" cy="61.6" r="1.3"/><circle cx="458.6" cy="62.4" r="1.3"/><circle cx="462.9" cy="64.2" r="1.3"/><circle cx="455.7" cy="62.9" r="1.3"/><circle cx="455.1" cy="60.8" r="1.3"/><circle cx="460.8" cy="61.7" r="1.3"/><circle cx="467.6" cy="68.8" r="1.3"/><circle cx="463.0" cy="64.4" r="1.3"/><circle cx="469.1" cy="69.1" r="1.3"/><circle cx="460.5" cy="65.0" r="1.3"/><circle cx="459.0" cy="65.6" r="1.3"/><circle cx="453.3" cy="62.5" r="1.3"/><circle cx="458.8" cy="62.5" r="1.3"/><circle cx="469.3" cy="68.4" r="1.3"/><circle cx="464.1" cy="63.9" r="1.3"/><circle cx="464.4" cy="69.0" r="1.3"/><circle cx="465.0" cy="67.2" r="1.3"/><circle cx="460.5" cy="66.7" r="1.3"/><circle cx="460.6" cy="63.8" r="1.3"/><circle cx="463.5" cy="62.4" r="1.3"/><circle cx="464.1" cy="68.6" r="1.3"/><circle cx="463.9" cy="66.1" r="1.3"/><circle cx="464.1" cy="66.3" r="1.3"/><circle cx="462.3" cy="65.3" r="1.3"/><circle cx="456.9" cy="63.6" r="1.3"/><circle cx="459.7" cy="64.8" r="1.3"/><circle cx="457.5" cy="60.2" r="1.3"/><circle cx="466.2" cy="68.9" r="1.3"/><circle cx="450.5" cy="58.6" r="1.3"/><circle cx="460.6" cy="63.6" r="1.3"/><circle cx="473.2" cy="73.4" r="1.3"/><circle cx="459.1" cy="65.1" r="1.3"/><circle cx="455.6" cy="61.4" r="1.3"/><circle cx="462.6" cy="62.3" r="1.3"/><circle cx="468.3" cy="68.4" r="1.3"/><circle cx="460.3" cy="65.1" r="1.3"/><circle cx="464.9" cy="66.3" r="1.3"/><circle cx="462.9" cy="63.4" r="1.3"/><circle cx="460.0" cy="62.8" r="1.3"/><circle cx="479.3" cy="71.4" r="1.3"/><circle cx="461.7" cy="65.3" r="1.3"/><circle cx="458.1" cy="64.5" r="1.3"/><circle cx="458.2" cy="64.9" r="1.3"/><circle cx="464.0" cy="64.8" r="1.3"/><circle cx="463.6" cy="66.2" r="1.3"/><circle cx="465.3" cy="67.6" r="1.3"/><circle cx="462.6" cy="64.5" r="1.3"/><circle cx="453.9" cy="60.8" r="1.3"/><circle cx="463.0" cy="69.1" r="1.3"/><circle cx="459.7" cy="64.3" r="1.3"/><circle cx="459.4" cy="65.2" r="1.3"/><circle cx="453.8" cy="60.3" r="1.3"/><circle cx="458.4" cy="63.3" r="1.3"/><circle cx="458.7" cy="60.6" r="1.3"/><circle cx="461.3" cy="64.7" r="1.3"/><circle cx="452.9" cy="62.6" r="1.3"/><circle cx="460.4" cy="67.8" r="1.3"/><circle cx="461.4" cy="66.7" r="1.3"/><circle cx="455.0" cy="62.8" r="1.3"/><circle cx="458.1" cy="63.2" r="1.3"/><circle cx="457.3" cy="61.7" r="1.3"/><circle cx="466.5" cy="67.0" r="1.3"/><circle cx="447.5" cy="59.0" r="1.3"/><circle cx="460.2" cy="62.8" r="1.3"/><circle cx="451.9" cy="61.7" r="1.3"/><circle cx="459.8" cy="62.3" r="1.3"/><circle cx="467.2" cy="64.6" r="1.3"/><circle cx="458.8" cy="61.8" r="1.3"/><circle cx="463.3" cy="62.9" r="1.3"/><circle cx="457.8" cy="60.7" r="1.3"/><circle cx="471.2" cy="71.4" r="1.3"/><circle cx="466.6" cy="66.9" r="1.3"/><circle cx="467.4" cy="68.1" r="1.3"/><circle cx="453.6" cy="62.9" r="1.3"/><circle cx="454.7" cy="63.6" r="1.3"/><circle cx="467.7" cy="67.0" r="1.3"/><circle cx="459.6" cy="66.1" r="1.3"/><circle cx="459.9" cy="64.6" r="1.3"/><circle cx="463.3" cy="65.7" r="1.3"/><circle cx="454.4" cy="62.1" r="1.3"/><circle cx="466.6" cy="64.9" r="1.3"/><circle cx="462.1" cy="63.8" r="1.3"/><circle cx="464.2" cy="65.9" r="1.3"/><circle cx="457.5" cy="63.9" r="1.3"/><circle cx="464.5" cy="65.6" r="1.3"/><circle cx="457.8" cy="62.8" r="1.3"/><circle cx="466.0" cy="68.6" r="1.3"/><circle cx="466.7" cy="69.7" r="1.3"/><circle cx="467.2" cy="71.9" r="1.3"/><circle cx="473.7" cy="67.7" r="1.3"/><circle cx="460.8" cy="63.6" r="1.3"/><circle cx="460.4" cy="66.3" r="1.3"/><circle cx="465.1" cy="68.0" r="1.3"/><circle cx="461.0" cy="65.1" r="1.3"/><circle cx="461.7" cy="60.0" r="1.3"/><circle cx="475.0" cy="72.1" r="1.3"/><circle cx="463.2" cy="62.5" r="1.3"/><circle cx="453.7" cy="67.9" r="1.3"/><circle cx="467.2" cy="66.7" r="1.3"/><circle cx="476.5" cy="72.4" r="1.3"/><circle cx="465.3" cy="63.2" r="1.3"/><circle cx="472.9" cy="68.7" r="1.3"/><circle cx="461.8" cy="61.1" r="1.3"/><circle cx="458.9" cy="66.0" r="1.3"/><circle cx="458.8" cy="62.5" r="1.3"/><circle cx="461.9" cy="66.3" r="1.3"/><circle cx="477.5" cy="70.4" r="1.3"/><circle cx="455.7" cy="60.3" r="1.3"/><circle cx="426.3" cy="104.0" r="1.3"/><circle cx="412.6" cy="100.8" r="1.3"/><circle cx="409.6" cy="95.8" r="1.3"/><circle cx="420.5" cy="103.5" r="1.3"/><circle cx="413.1" cy="97.7" r="1.3"/><circle cx="415.9" cy="101.5" r="1.3"/><circle cx="422.7" cy="105.9" r="1.3"/><circle cx="414.8" cy="98.6" r="1.3"/><circle cx="423.4" cy="104.2" r="1.3"/><circle cx="416.5" cy="97.3" r="1.3"/><circle cx="426.4" cy="106.3" r="1.3"/><circle cx="425.1" cy="106.8" r="1.3"/><circle cx="416.8" cy="99.3" r="1.3"/><circle cx="416.7" cy="102.9" r="1.3"/><circle cx="416.2" cy="95.8" r="1.3"/><circle cx="421.5" cy="99.1" r="1.3"/><circle cx="426.1" cy="102.5" r="1.3"/><circle cx="411.6" cy="96.7" r="1.3"/><circle cx="423.6" cy="104.2" r="1.3"/><circle cx="411.9" cy="97.7" r="1.3"/><circle cx="414.3" cy="99.1" r="1.3"/><circle cx="408.7" cy="97.8" r="1.3"/><circle cx="430.4" cy="106.7" r="1.3"/><circle cx="420.2" cy="99.6" r="1.3"/><circle cx="421.2" cy="100.2" r="1.3"/><circle cx="413.3" cy="103.2" r="1.3"/><circle cx="426.6" cy="100.7" r="1.3"/><circle cx="407.8" cy="95.4" r="1.3"/><circle cx="417.6" cy="104.1" r="1.3"/><circle cx="430.1" cy="108.6" r="1.3"/><circle cx="417.5" cy="99.1" r="1.3"/><circle cx="418.9" cy="101.7" r="1.3"/><circle cx="421.6" cy="104.9" r="1.3"/><circle cx="413.4" cy="101.3" r="1.3"/><circle cx="419.7" cy="100.2" r="1.3"/><circle cx="423.2" cy="105.6" r="1.3"/><circle cx="419.6" cy="102.6" r="1.3"/><circle cx="419.8" cy="104.5" r="1.3"/><circle cx="415.7" cy="102.9" r="1.3"/><circle cx="420.8" cy="101.9" r="1.3"/><circle cx="420.4" cy="99.3" r="1.3"/><circle cx="426.2" cy="106.4" r="1.3"/><circle cx="421.1" cy="106.6" r="1.3"/><circle cx="416.9" cy="102.1" r="1.3"/><circle cx="405.6" cy="95.1" r="1.3"/><circle cx="420.4" cy="107.6" r="1.3"/><circle cx="423.7" cy="102.0" r="1.3"/><circle cx="413.1" cy="100.5" r="1.3"/><circle cx="408.7" cy="95.0" r="1.3"/><circle cx="412.7" cy="98.5" r="1.3"/><circle cx="423.6" cy="104.4" r="1.3"/><circle cx="411.8" cy="101.1" r="1.3"/><circle cx="417.2" cy="98.7" r="1.3"/><circle cx="420.4" cy="101.3" r="1.3"/><circle cx="426.7" cy="102.4" r="1.3"/><circle cx="418.3" cy="102.4" r="1.3"/><circle cx="418.7" cy="100.5" r="1.3"/><circle cx="415.5" cy="100.8" r="1.3"/><circle cx="428.4" cy="104.4" r="1.3"/><circle cx="424.8" cy="104.0" r="1.3"/><circle cx="417.4" cy="103.1" r="1.3"/><circle cx="411.6" cy="97.4" r="1.3"/><circle cx="414.1" cy="100.4" r="1.3"/><circle cx="421.4" cy="104.1" r="1.3"/><circle cx="415.3" cy="99.0" r="1.3"/><circle cx="424.9" cy="101.5" r="1.3"/><circle cx="419.8" cy="104.3" r="1.3"/><circle cx="420.2" cy="102.7" r="1.3"/><circle cx="421.4" cy="105.1" r="1.3"/><circle cx="423.2" cy="99.6" r="1.3"/><circle cx="415.7" cy="96.4" r="1.3"/><circle cx="419.0" cy="97.1" r="1.3"/><circle cx="432.0" cy="106.7" r="1.3"/><circle cx="411.5" cy="99.9" r="1.3"/><circle cx="415.8" cy="101.2" r="1.3"/><circle cx="424.5" cy="104.5" r="1.3"/><circle cx="417.8" cy="101.4" r="1.3"/><circle cx="413.8" cy="100.6" r="1.3"/><circle cx="412.1" cy="97.4" r="1.3"/><circle cx="421.3" cy="103.8" r="1.3"/><circle cx="424.1" cy="104.7" r="1.3"/><circle cx="428.2" cy="101.9" r="1.3"/><circle cx="419.4" cy="101.1" r="1.3"/><circle cx="423.1" cy="106.8" r="1.3"/><circle cx="413.7" cy="98.0" r="1.3"/><circle cx="419.8" cy="101.8" r="1.3"/><circle cx="415.8" cy="98.7" r="1.3"/><circle cx="420.2" cy="101.3" r="1.3"/><circle cx="421.8" cy="105.6" r="1.3"/><circle cx="424.7" cy="104.2" r="1.3"/><circle cx="414.5" cy="97.1" r="1.3"/><circle cx="428.3" cy="100.0" r="1.3"/><circle cx="416.8" cy="99.3" r="1.3"/><circle cx="415.1" cy="95.4" r="1.3"/><circle cx="419.5" cy="98.1" r="1.3"/><circle cx="410.3" cy="98.8" r="1.3"/><circle cx="418.2" cy="102.8" r="1.3"/><circle cx="422.0" cy="99.2" r="1.3"/><circle cx="417.0" cy="102.5" r="1.3"/><circle cx="421.2" cy="103.9" r="1.3"/><circle cx="417.8" cy="99.4" r="1.3"/><circle cx="418.2" cy="102.8" r="1.3"/><circle cx="412.6" cy="94.8" r="1.3"/><circle cx="420.1" cy="99.7" r="1.3"/><circle cx="415.6" cy="96.8" r="1.3"/><circle cx="417.4" cy="98.5" r="1.3"/><circle cx="417.5" cy="102.8" r="1.3"/><circle cx="421.0" cy="99.9" r="1.3"/><circle cx="411.1" cy="95.0" r="1.3"/><circle cx="411.4" cy="95.6" r="1.3"/><circle cx="417.0" cy="101.1" r="1.3"/><circle cx="421.6" cy="102.4" r="1.3"/><circle cx="419.9" cy="104.1" r="1.3"/><circle cx="424.2" cy="102.9" r="1.3"/><circle cx="426.8" cy="103.1" r="1.3"/><circle cx="421.9" cy="102.2" r="1.3"/><circle cx="418.7" cy="101.6" r="1.3"/><circle cx="414.2" cy="97.1" r="1.3"/><circle cx="413.5" cy="99.4" r="1.3"/><circle cx="414.7" cy="103.3" r="1.3"/><circle cx="420.7" cy="101.4" r="1.3"/><circle cx="419.9" cy="102.3" r="1.3"/><circle cx="417.6" cy="103.9" r="1.3"/><circle cx="418.6" cy="100.1" r="1.3"/><circle cx="422.9" cy="101.9" r="1.3"/><circle cx="420.9" cy="100.3" r="1.3"/><circle cx="420.0" cy="103.1" r="1.3"/><circle cx="420.0" cy="103.3" r="1.3"/><circle cx="416.1" cy="99.8" r="1.3"/><circle cx="413.3" cy="98.7" r="1.3"/><circle cx="420.3" cy="105.1" r="1.3"/><circle cx="420.2" cy="104.2" r="1.3"/><circle cx="418.9" cy="98.6" r="1.3"/><circle cx="416.6" cy="100.4" r="1.3"/><circle cx="430.8" cy="108.2" r="1.3"/><circle cx="414.2" cy="100.6" r="1.3"/><circle cx="417.9" cy="100.6" r="1.3"/><circle cx="420.8" cy="101.2" r="1.3"/><circle cx="413.1" cy="97.5" r="1.3"/><circle cx="421.0" cy="98.9" r="1.3"/><circle cx="428.4" cy="106.6" r="1.3"/><circle cx="424.3" cy="103.2" r="1.3"/><circle cx="421.8" cy="104.1" r="1.3"/><circle cx="422.9" cy="101.5" r="1.3"/><circle cx="419.8" cy="101.1" r="1.3"/><circle cx="424.8" cy="102.6" r="1.3"/><circle cx="419.0" cy="99.3" r="1.3"/><circle cx="416.0" cy="101.5" r="1.3"/><circle cx="419.8" cy="101.1" r="1.3"/><circle cx="423.2" cy="104.8" r="1.3"/><circle cx="421.6" cy="100.6" r="1.3"/><circle cx="422.3" cy="103.6" r="1.3"/><circle cx="409.6" cy="93.0" r="1.3"/><circle cx="425.6" cy="104.1" r="1.3"/><circle cx="431.7" cy="107.3" r="1.3"/><circle cx="425.4" cy="106.3" r="1.3"/><circle cx="417.0" cy="100.9" r="1.3"/><circle cx="414.5" cy="98.8" r="1.3"/><circle cx="419.6" cy="103.7" r="1.3"/><circle cx="413.4" cy="99.1" r="1.3"/><circle cx="422.2" cy="104.5" r="1.3"/><circle cx="415.4" cy="101.3" r="1.3"/><circle cx="424.0" cy="104.1" r="1.3"/><circle cx="426.3" cy="104.9" r="1.3"/><circle cx="407.8" cy="96.4" r="1.3"/><circle cx="420.8" cy="101.7" r="1.3"/><circle cx="414.8" cy="100.2" r="1.3"/><circle cx="410.4" cy="99.4" r="1.3"/><circle cx="414.8" cy="101.2" r="1.3"/><circle cx="418.0" cy="100.3" r="1.3"/><circle cx="425.5" cy="102.3" r="1.3"/><circle cx="410.8" cy="97.1" r="1.3"/><circle cx="424.5" cy="104.3" r="1.3"/><circle cx="428.5" cy="109.1" r="1.3"/><circle cx="422.3" cy="102.6" r="1.3"/><circle cx="421.9" cy="102.7" r="1.3"/><circle cx="418.1" cy="102.7" r="1.3"/><circle cx="413.0" cy="97.4" r="1.3"/><circle cx="421.8" cy="102.8" r="1.3"/><circle cx="419.3" cy="105.5" r="1.3"/><circle cx="421.4" cy="106.1" r="1.3"/><circle cx="431.9" cy="109.8" r="1.3"/><circle cx="422.5" cy="104.0" r="1.3"/><circle cx="422.0" cy="101.1" r="1.3"/><circle cx="426.6" cy="106.9" r="1.3"/><circle cx="411.7" cy="97.8" r="1.3"/><circle cx="412.6" cy="98.7" r="1.3"/><circle cx="417.3" cy="99.6" r="1.3"/><circle cx="415.4" cy="99.7" r="1.3"/><circle cx="422.7" cy="103.2" r="1.3"/><circle cx="416.9" cy="101.2" r="1.3"/><circle cx="426.8" cy="108.8" r="1.3"/><circle cx="426.6" cy="106.4" r="1.3"/><circle cx="424.4" cy="100.9" r="1.3"/><circle cx="417.7" cy="98.8" r="1.3"/><circle cx="423.5" cy="100.6" r="1.3"/><circle cx="423.8" cy="102.5" r="1.3"/><circle cx="412.7" cy="99.5" r="1.3"/><circle cx="420.3" cy="103.2" r="1.3"/><circle cx="423.1" cy="102.5" r="1.3"/><circle cx="419.8" cy="102.6" r="1.3"/><circle cx="427.8" cy="104.7" r="1.3"/><circle cx="426.5" cy="102.6" r="1.3"/><circle cx="415.7" cy="96.8" r="1.3"/><circle cx="420.3" cy="100.4" r="1.3"/><circle cx="413.2" cy="101.5" r="1.3"/><circle cx="423.1" cy="100.9" r="1.3"/><circle cx="413.1" cy="101.2" r="1.3"/><circle cx="422.6" cy="106.3" r="1.3"/><circle cx="421.1" cy="102.3" r="1.3"/><circle cx="424.0" cy="104.2" r="1.3"/><circle cx="418.6" cy="100.1" r="1.3"/><circle cx="411.2" cy="97.4" r="1.3"/><circle cx="427.6" cy="107.6" r="1.3"/><circle cx="417.9" cy="101.0" r="1.3"/><circle cx="425.3" cy="107.1" r="1.3"/><circle cx="420.1" cy="104.7" r="1.3"/><circle cx="422.1" cy="104.0" r="1.3"/><circle cx="428.2" cy="107.2" r="1.3"/><circle cx="420.7" cy="102.4" r="1.3"/><circle cx="426.0" cy="106.0" r="1.3"/><circle cx="412.0" cy="95.5" r="1.3"/><circle cx="423.1" cy="104.6" r="1.3"/><circle cx="417.4" cy="101.2" r="1.3"/><circle cx="418.9" cy="99.7" r="1.3"/><circle cx="417.0" cy="105.1" r="1.3"/><circle cx="421.5" cy="100.9" r="1.3"/><circle cx="428.4" cy="104.7" r="1.3"/><circle cx="408.8" cy="96.8" r="1.3"/><circle cx="420.8" cy="98.4" r="1.3"/><circle cx="414.0" cy="95.6" r="1.3"/><circle cx="407.3" cy="95.7" r="1.3"/><circle cx="412.2" cy="96.1" r="1.3"/><circle cx="415.7" cy="103.7" r="1.3"/><circle cx="419.8" cy="103.5" r="1.3"/><circle cx="426.9" cy="103.5" r="1.3"/><circle cx="423.9" cy="104.2" r="1.3"/><circle cx="428.0" cy="102.9" r="1.3"/><circle cx="422.3" cy="103.5" r="1.3"/><circle cx="414.2" cy="100.6" r="1.3"/><circle cx="425.7" cy="105.9" r="1.3"/><circle cx="417.0" cy="95.1" r="1.3"/><circle cx="414.2" cy="98.1" r="1.3"/><circle cx="428.4" cy="108.0" r="1.3"/><circle cx="423.4" cy="104.8" r="1.3"/><circle cx="418.4" cy="104.6" r="1.3"/><circle cx="425.0" cy="101.2" r="1.3"/><circle cx="423.8" cy="105.6" r="1.3"/><circle cx="409.3" cy="94.6" r="1.3"/><circle cx="417.3" cy="101.2" r="1.3"/></g>
<g fill="none" stroke="#008000" stroke-width="1.0" class="s"><circle cx="117.5" cy="182.5" r="1.3"/><circle cx="121.7" cy="178.7" r="1.3"/><circle cx="113.4" cy="188.2" r="1.3"/><circle cx="120.5" cy="182.4" r="1.3"/><circle cx="118.1" cy="178.4" r="1.3"/><circle cx="132.2" cy="170.4" r="1.3"/><circle cx="123.7" cy="181.7" r="1.3"/><circle cx="119.1" cy="181.3" r="1.3"/><circle cx="113.7" cy="182.9" r="1.3"/><circle cx="117.0" cy="185.2" r="1.3"/><circle cx="124.4" cy="176.0" r="1.3"/><circle cx="123.3" cy="177.0" r="1.3"/><circle cx="134.6" cy="169.6" r="1.3"/><circle cx="117.5" cy="175.4" r="1.3"/><circle cx="135.7" cy="173.0" r="1.3"/><circle cx="126.1" cy="172.5" r="1.3"/><circle cx="124.7" cy="175.3" r="1.3"/><circle cx="107.3" cy="185.2" r="1.3"/><circle cx="115.4" cy="184.8" r="1.3"/><circle cx="131.8" cy="172.5" r="1.3"/><circle cx="137.5" cy="169.3" r="1.3"/><circle cx="125.0" cy="171.7" r="1.3"/><circle cx="131.9" cy="172.4" r="1.3"/><circle cx="120.0" cy="175.3" r="1.3"/><circle cx="122.7" cy="179.1" r="1.3"/><circle cx="120.3" cy="180.7" r="1.3"/><circle cx="133.8" cy="171.4" r="1.3"/><circle cx="131.2" cy="179.3" r="1.3"/><circle cx="124.2" cy="178.9" r="1.3"/><circle cx="123.5" cy="179.5" r="1.3"/><circle cx="130.5" cy="174.0" r="1.3"/><circle cx="128.0" cy="174.4" r="1.3"/><circle cx="119.7" cy="182.9" r="1.3"/><circle cx="141.7" cy="170.1" r="1.3"/><circle cx="126.0" cy="172.3" r="1.3"/><circle cx="127.0" cy="178.8" r="1.3"/><circle cx="138.9" cy="170.0" r="1.3"/><circle cx="135.6" cy="173.4" r="1.3"/><circle cx="125.4" cy="178.0" r="1.3"/><circle cx="128.4" cy="171.0" r="1.3"/><circle cx="114.8" cy="179.4" r="1.3"/><circle cx="122.5" cy="183.9" r="1.3"/><circle cx="106.5" cy="188.7" r="1.3"/><circle cx="134.1" cy="167.1" r="1.3"/><circle cx="109.7" cy="187.1" r="1.3"/><circle cx="130.9" cy="172.2" r="1.3"/><circle cx="115.9" cy="176.7" r="1.3"/><circle cx="114.0" cy="176.4" r="1.3"/><circle cx="121.7" cy="173.9" r="1.3"/><circle cx="128.1" cy="175.7" r="1.3"/><circle cx="130.7" cy="173.2" r="1.3"/><circle cx="140.4" cy="166.8" r="1.3"/><circle cx="129.0" cy="175.3" r="1.3"/><circle cx="133.9" cy="173.3" r="1.3"/><circle cx="117.6" cy="174.9" r="1.3"/><circle cx="131.2" cy="172.2" r="1.3"/><circle cx="125.7" cy="173.9" r="1.3"/><circle cx="119.9" cy="176.1" r="1.3"/><circle cx="123.9" cy="175.8" r="1.3"/><circle cx="124.8" cy="176.5" r="1.3"/><circle cx="126.8" cy="174.9" r="1.3"/><circle cx="127.0" cy="171.2" r="1.3"/><circle cx="120.5" cy="178.0" r="1.3"/><circle cx="121.8" cy="184.8" r="1.3"/><circle cx="130.5" cy="170.3" r="1.3"/><circle cx="108.7" cy="181.5" r="1.3"/><circle cx="120.6" cy="180.3" r="1.3"/><circle cx="139.6" cy="169.8" r="1.3"/><circle cx="102.9" cy="191.5" r="1.3"/><circle cx="118.1" cy="177.6" r="1.3"/><circle cx="132.7" cy="175.2" r="1.3"/><circle cx="110.3" cy="183.2" r="1.3"/><circle cx="146.3" cy="160.6" r="1.3"/><circle cx="102.5" cy="188.5" r="1.3"/><circle cx="137.7" cy="168.9" r="1.3"/><circle cx="139.8" cy="170.1" r="1.3"/><circle cx="134.2" cy="173.2" r="1.3"/><circle cx="123.6" cy="177.6" r="1.3"/><circle cx="129.8" cy="176.7" r="1.3"/><circle cx="117.9" cy="181.3" r="1.3"/><circle cx="133.6" cy="174.3" r="1.3"/><circle cx="114.0" cy="179.1" r="1.3"/><circle cx="121.0" cy="174.4" r="1.3"/><circle cx="135.1" cy="173.1" r="1.3"/><circle cx="114.1" cy="179.1" r="1.3"/><circle cx="122.0" cy="177.7" r="1.3"/><circle cx="126.8" cy="175.4" r="1.3"/><circle cx="113.3" cy="182.3" r="1.3"/><circle cx="134.9" cy="169.5" r="1.3"/><circle cx="130.3" cy="177.8" r="1.3"/><circle cx="109.1" cy="178.7" r="1.3"/><circle cx="126.3" cy="178.7" r="1.3"/><circle cx="121.9" cy="185.6" r="1.3"/><circle cx="119.9" cy="179.9" r="1.3"/><circle cx="126.1" cy="176.1" r="1.3"/><circle cx="120.4" cy="181.8" r="1.3"/><circle cx="136.2" cy="175.6" r="1.3"/><circle cx="117.9" cy="177.5" r="1.3"/><circle cx="134.0" cy="171.6" r="1.3"/><circle cx="124.9" cy="176.3" r="1.3"/><circle cx="133.6" cy="173.3" r="1.3"/><circle cx="121.1" cy="179.6" r="1.3"/><circle cx="122.1" cy="180.6" r="1.3"/><circle cx="115.1" cy="181.5" r="1.3"/><circle cx="130.5" cy="173.6" r="1.3"/><circle cx="132.6" cy="170.2" r="1.3"/><circle cx="142.8" cy="164.1" r="1.3"/><circle cx="136.4" cy="169.5" r="1.3"/><circle cx="127.5" cy="174.9" r="1.3"/><circle cx="122.1" cy="175.0" r="1.3"/><circle cx="109.3" cy="187.0" r="1.3"/><circle cx="103.2" cy="190.0" r="1.3"/><circle cx="98.9" cy="192.7" r="1.3"/><circle cx="108.7" cy="189.5" r="1.3"/><circle cx="101.8" cy="192.4" r="1.3"/><circle cx="104.2" cy="186.7" r="1.3"/><circle cx="102.8" cy="188.4" r="1.3"/><circle cx="104.7" cy="189.6" r="1.3"/><circle cx="103.4" cy="188.1" r="1.3"/><circle cx="101.1" cy="190.0" r="1.3"/><circle cx="102.7" cy="187.8" r="1.3"/><circle cx="110.2" cy="184.9" r="1.3"/><circle cx="96.3" cy="194.8" r="1.3"/><circle cx="104.8" cy="191.1" r="1.3"/><circle cx="105.0" cy="188.6" r="1.3"/><circle cx="102.0" cy="195.2" r="1.3"/><circle cx="98.7" cy="192.2" r="1.3"/><circle cx="114.2" cy="190.5" r="1.3"/><circle cx="103.3" cy="192.0" r="1.3"/><circle cx="111.1" cy="186.1" r="1.3"/><circle cx="104.8" cy="187.5" r="1.3"/><circle cx="100.9" cy="184.5" r="1.3"/><circle cx="105.0" cy="188.3" r="1.3"/><circle cx="105.9" cy="188.5" r="1.3"/><circle cx="109.5" cy="190.4" r="1.3"/><circle cx="135.9" cy="170.5" r="1.3"/><circle cx="146.6" cy="162.8" r="1.3"/><circle cx="139.7" cy="168.1" r="1.3"/><circle cx="143.0" cy="166.1" r="1.3"/><circle cx="131.4" cy="172.2" r="1.3"/><circle cx="140.3" cy="166.0" r="1.3"/><circle cx="141.6" cy="171.9" r="1.3"/><circle cx="143.1" cy="166.5" r="1.3"/><circle cx="140.2" cy="166.3" r="1.3"/><circle cx="135.2" cy="167.6" r="1.3"/><circle cx="143.0" cy="164.3" r="1.3"/><circle cx="143.6" cy="167.3" r="1.3"/><circle cx="143.3" cy="167.6" r="1.3"/><circle cx="143.7" cy="165.0" r="1.3"/><circle cx="144.3" cy="165.3" r="1.3"/><circle cx="140.1" cy="167.0" r="1.3"/><circle cx="134.7" cy="168.4" r="1.3"/><circle cx="137.1" cy="172.6" r="1.3"/><circle cx="145.5" cy="165.4" r="1.3"/><circle cx="145.5" cy="170.3" r="1.3"/><circle cx="32.6" cy="233.9" r="1.3"/><circle cx="38.9" cy="233.7" r="1.3"/><circle cx="47.1" cy="229.6" r="1.3"/><circle cx="36.9" cy="232.2" r="1.3"/><circle cx="25.9" cy="233.6" r="1.3"/><circle cx="30.1" cy="233.1" r="1.3"/><circle cx="37.9" cy="227.7" r="1.3"/><circle cx="40.9" cy="228.5" r="1.3"/><circle cx="35.1" cy="226.3" r="1.3"/><circle cx="46.5" cy="226.3" r="1.3"/><circle cx="47.2" cy="227.7" r="1.3"/><circle cx="40.8" cy="228.7" r="1.3"/><circle cx="39.4" cy="231.6" r="1.3"/><circle cx="35.1" cy="229.2" r="1.3"/><circle cx="40.6" cy="224.2" r="1.3"/><circle cx="44.7" cy="224.7" r="1.3"/><circle cx="40.7" cy="233.2" r="1.3"/><circle cx="43.6" cy="231.2" r="1.3"/><circle cx="35.3" cy="230.8" r="1.3"/><circle cx="29.3" cy="240.0" r="1.3"/><circle cx="30.2" cy="234.2" r="1.3"/><circle cx="46.7" cy="231.0" r="1.3"/><circle cx="42.7" cy="229.7" r="1.3"/><circle cx="50.2" cy="222.2" r="1.3"/><circle cx="40.1" cy="232.3" r="1.3"/><circle cx="44.1" cy="224.6" r="1.3"/><circle cx="47.4" cy="222.1" r="1.3"/><circle cx="44.1" cy="222.3" r="1.3"/><circle cx="34.1" cy="233.9" r="1.3"/><circle cx="37.0" cy="231.2" r="1.3"/><circle cx="39.4" cy="229.7" r="1.3"/><circle cx="30.2" cy="233.9" r="1.3"/><circle cx="44.4" cy="232.1" r="1.3"/><circle cx="45.8" cy="224.8" r="1.3"/><circle cx="33.7" cy="230.8" r="1.3"/><circle cx="55.7" cy="224.9" r="1.3"/><circle cx="38.4" cy="235.5" r="1.3"/><circle cx="37.4" cy="232.3" r="1.3"/><circle cx="34.0" cy="227.1" r="1.3"/><circle cx="32.1" cy="232.1" r="1.3"/><circle cx="42.7" cy="230.2" r="1.3"/><circle cx="38.7" cy="230.5" r="1.3"/><circle cx="53.8" cy="227.1" r="1.3"/><circle cx="41.2" cy="224.2" r="1.3"/><circle cx="43.7" cy="229.8" r="1.3"/><circle cx="35.8" cy="229.9" r="1.3"/><circle cx="29.5" cy="240.3" r="1.3"/><circle cx="37.7" cy="230.7" r="1.3"/><circle cx="33.4" cy="237.0" r="1.3"/><circle cx="44.9" cy="224.5" r="1.3"/><circle cx="36.1" cy="227.0" r="1.3"/><circle cx="49.8" cy="220.1" r="1.3"/><circle cx="43.3" cy="225.6" r="1.3"/><circle cx="43.5" cy="224.1" r="1.3"/><circle cx="42.1" cy="232.6" r="1.3"/><circle cx="42.1" cy="233.0" r="1.3"/><circle cx="44.0" cy="228.3" r="1.3"/><circle cx="44.1" cy="223.7" r="1.3"/><circle cx="32.8" cy="233.4" r="1.3"/><circle cx="41.3" cy="226.5" r="1.3"/><circle cx="61.1" cy="222.5" r="1.3"/><circle cx="38.3" cy="231.7" r="1.3"/><circle cx="37.2" cy="232.9" r="1.3"/><circle cx="32.5" cy="232.6" r="1.3"/><circle cx="24.2" cy="231.8" r="1.3"/><circle cx="46.6" cy="223.1" r="1.3"/><circle cx="37.3" cy="227.3" r="1.3"/><circle cx="41.4" cy="230.1" r="1.3"/><circle cx="53.0" cy="222.4" r="1.3"/><circle cx="56.9" cy="217.1" r="1.3"/><circle cx="31.0" cy="233.5" r="1.3"/><circle cx="49.1" cy="229.8" r="1.3"/><circle cx="41.9" cy="225.2" r="1.3"/><circle cx="40.2" cy="226.3" r="1.3"/><circle cx="41.9" cy="227.7" r="1.3"/><circle cx="37.3" cy="228.8" r="1.3"/><circle cx="50.3" cy="222.2" r="1.3"/><circle cx="44.1" cy="229.1" r="1.3"/><circle cx="43.8" cy="233.4" r="1.3"/><circle cx="45.6" cy="220.3" r="1.3"/><circle cx="45.5" cy="226.4" r="1.3"/><circle cx="42.2" cy="228.5" r="1.3"/><circle cx="40.9" cy="228.8" r="1.3"/><circle cx="51.9" cy="222.1" r="1.3"/><circle cx="42.0" cy="227.3" r="1.3"/><circle cx="39.3" cy="233.5" r="1.3"/><circle cx="31.1" cy="233.1" r="1.3"/><circle cx="35.6" cy="231.7" r="1.3"/><circle cx="30.3" cy="235.2" r="1.3"/><circle cx="39.5" cy="230.3" r="1.3"/><circle cx="40.3" cy="228.9" r="1.3"/><circle cx="24.0" cy="242.3" r="1.3"/><circle cx="38.7" cy="230.4" r="1.3"/><circle cx="43.8" cy="228.0" r="1.3"/><circle cx="39.7" cy="229.6" r="1.3"/><circle cx="29.6" cy="232.2" r="1.3"/><circle cx="47.2" cy="222.6" r="1.3"/><circle cx="31.5" cy="230.9" r="1.3"/><circle cx="29.2" cy="236.5" r="1.3"/><circle cx="29.0" cy="233.5" r="1.3"/><circle cx="15.3" cy="245.4" r="1.3"/><circle cx="20.5" cy="244.0" r="1.3"/><circle cx="21.3" cy="243.2" r="1.3"/><circle cx="12.8" cy="246.7" r="1.3"/><circle cx="24.7" cy="239.7" r="1.3"/><circle cx="17.5" cy="240.5" r="1.3"/><circle cx="18.0" cy="242.5" r="1.3"/><circle cx="22.4" cy="240.7" r="1.3"/><circle cx="18.3" cy="241.7" r="1.3"/><circle cx="16.5" cy="243.9" r="1.3"/><circle cx="25.3" cy="236.7" r="1.3"/><circle cx="16.3" cy="247.3" r="1.3"/><circle cx="20.3" cy="246.4" r="1.3"/><circle cx="21.0" cy="240.1" r="1.3"/><circle cx="15.2" cy="245.3" r="1.3"/><circle cx="17.9" cy="242.3" r="1.3"/><circle cx="21.1" cy="243.9" r="1.3"/><circle cx="27.3" cy="238.5" r="1.3"/><circle cx="15.5" cy="244.4" r="1.3"/><circle cx="18.1" cy="242.2" r="1.3"/><circle cx="20.9" cy="241.4" r="1.3"/><circle cx="17.8" cy="240.6" r="1.3"/><circle cx="15.0" cy="246.1" r="1.3"/><circle cx="19.2" cy="240.4" r="1.3"/><circle cx="19.4" cy="243.2" r="1.3"/><circle cx="64.6" cy="217.0" r="1.3"/><circle cx="69.6" cy="217.2" r="1.3"/><circle cx="64.0" cy="217.6" r="1.3"/><circle cx="69.9" cy="220.4" r="1.3"/><circle cx="59.7" cy="218.9" r="1.3"/><circle cx="67.5" cy="219.0" r="1.3"/><circle cx="63.3" cy="219.1" r="1.3"/><circle cx="65.0" cy="217.2" r="1.3"/><circle cx="64.8" cy="219.0" r="1.3"/><circle cx="69.2" cy="219.3" r="1.3"/><circle cx="54.6" cy="221.4" r="1.3"/><circle cx="66.3" cy="220.3" r="1.3"/><circle cx="57.1" cy="220.6" r="1.3"/><circle cx="70.4" cy="218.3" r="1.3"/></g>
<g fill="none" stroke="#6495ed" stroke-width="1.0" class="s"><circle cx="126.1" cy="175.7" r="1.3"/><circle cx="126.6" cy="176.9" r="1.3"/><circle cx="122.1" cy="176.2" r="1.3"/><circle cx="108.9" cy="185.2" r="1.3"/><circle cx="121.0" cy="173.2" r="1.3"/><circle cx="104.0" cy="185.4" r="1.3"/><circle cx="131.0" cy="177.6" r="1.3"/><circle cx="116.0" cy="175.0" r="1.3"/><circle cx="118.6" cy="179.1" r="1.3"/><circle cx="123.8" cy="177.7" r="1.3"/><circle cx="127.5" cy="173.7" r="1.3"/><circle cx="111.5" cy="181.9" r="1.3"/><circle cx="109.7" cy="185.3" r="1.3"/><circle cx="115.9" cy="181.8" r="1.3"/><circle cx="107.0" cy="186.9" r="1.3"/><circle cx="114.3" cy="177.0" r="1.3"/><circle cx="139.6" cy="167.1" r="1.3"/><circle cx="114.8" cy="179.8" r="1.3"/><circle cx="130.6" cy="171.3" r="1.3"/><circle cx="113.5" cy="183.9" r="1.3"/><circle cx="129.1" cy="175.8" r="1.3"/><circle cx="123.8" cy="179.7" r="1.3"/><circle cx="124.3" cy="175.2" r="1.3"/><circle cx="131.9" cy="175.0" r="1.3"/><circle cx="142.9" cy="169.1" r="1.3"/><circle cx="128.8" cy="177.5" r="1.3"/><circle cx="128.5" cy="178.4" r="1.3"/><circle cx="116.5" cy="180.9" r="1.3"/><circle cx="130.5" cy="172.5" r="1.3"/><circle cx="124.4" cy="179.2" r="1.3"/><circle cx="131.2" cy="168.5" r="1.3"/><circle cx="125.4" cy="176.7" r="1.3"/><circle cx="140.5" cy="165.4" r="1.3"/><circle cx="107.2" cy="185.9" r="1.3"/><circle cx="120.5" cy="173.7" r="1.3"/><circle cx="132.2" cy="169.2" r="1.3"/><circle cx="122.3" cy="177.9" r="1.3"/><circle cx="119.6" cy="182.3" r="1.3"/><circle cx="124.4" cy="179.6" r="1.3"/><circle cx="113.0" cy="183.3" r="1.3"/><circle cx="126.3" cy="174.9" r="1.3"/><circle cx="146.4" cy="161.0" r="1.3"/><circle cx="136.3" cy="170.7" r="1.3"/><circle cx="115.2" cy="181.4" r="1.3"/><circle cx="118.5" cy="182.1" r="1.3"/><circle cx="124.2" cy="182.1" r="1.3"/><circle cx="134.5" cy="170.5" r="1.3"/><circle cx="116.1" cy="177.1" r="1.3"/><circle cx="118.1" cy="177.8" r="1.3"/><circle cx="131.5" cy="168.0" r="1.3"/><circle cx="131.7" cy="168.7" r="1.3"/><circle cx="123.9" cy="180.9" r="1.3"/><circle cx="115.7" cy="182.5" r="1.3"/><circle cx="109.5" cy="181.0" r="1.3"/><circle cx="120.1" cy="181.2" r="1.3"/><circle cx="107.1" cy="190.9" r="1.3"/><circle cx="131.8" cy="171.1" r="1.3"/><circle cx="118.9" cy="177.9" r="1.3"/><circle cx="129.4" cy="172.6" r="1.3"/><circle cx="142.7" cy="166.5" r="1.3"/><circle cx="136.9" cy="171.1" r="1.3"/><circle cx="116.7" cy="184.9" r="1.3"/><circle cx="134.9" cy="174.0" r="1.3"/><circle cx="137.5" cy="172.4" r="1.3"/><circle cx="120.6" cy="183.1" r="1.3"/><circle cx="117.8" cy="182.6" r="1.3"/><circle cx="122.5" cy="173.2" r="1.3"/><circle cx="110.9" cy="184.4" r="1.3"/><circle cx="139.2" cy="168.7" r="1.3"/><circle cx="103.3" cy="188.2" r="1.3"/><circle cx="116.8" cy="184.0" r="1.3"/><circle cx="122.6" cy="176.7" r="1.3"/><circle cx="122.2" cy="175.2" r="1.3"/><circle cx="128.9" cy="178.3" r="1.3"/><circle cx="128.8" cy="176.0" r="1.3"/><circle cx="123.9" cy="177.6" r="1.3"/><circle cx="137.0" cy="171.9" r="1.3"/><circle cx="107.7" cy="189.9" r="1.3"/><circle cx="126.0" cy="176.8" r="1.3"/><circle cx="115.8" cy="174.4" r="1.3"/><circle cx="125.8" cy="173.8" r="1.3"/><circle cx="126.9" cy="173.8" r="1.3"/><circle cx="116.0" cy="178.7" r="1.3"/><circle cx="120.0" cy="179.9" r="1.3"/><circle cx="134.2" cy="174.4" r="1.3"/><circle cx="128.0" cy="173.0" r="1.3"/><circle cx="117.9" cy="177.1" r="1.3"/><circle cx="146.6" cy="169.5" r="1.3"/><circle cx="145.7" cy="162.5" r="1.3"/><circle cx="110.7" cy="181.2" r="1.3"/><circle cx="128.5" cy="174.9" r="1.3"/><circle cx="148.7" cy="163.4" r="1.3"/><circle cx="131.6" cy="170.2" r="1.3"/><circle cx="128.5" cy="176.6" r="1.3"/><circle cx="123.0" cy="176.0" r="1.3"/><circle cx="119.4" cy="176.9" r="1.3"/><circle cx="123.8" cy="177.5" r="1.3"/><circle cx="121.6" cy="180.7" r="1.3"/><circle cx="131.4" cy="170.6" r="1.3"/><circle cx="122.4" cy="178.9" r="1.3"/><circle cx="121.4" cy="178.2" r="1.3"/><circle cx="118.5" cy="188.8" r="1.3"/><circle cx="124.1" cy="174.7" r="1.3"/><circle cx="119.3" cy="183.9" r="1.3"/><circle cx="123.8" cy="176.9" r="1.3"/><circle cx="134.7" cy="170.1" r="1.3"/><circle cx="129.8" cy="175.6" r="1.3"/><circle cx="131.2" cy="175.3" r="1.3"/><circle cx="130.4" cy="176.9" r="1.3"/><circle cx="126.5" cy="176.4" r="1.3"/><circle cx="123.6" cy="175.4" r="1.3"/><circle cx="122.0" cy="176.5" r="1.3"/><circle cx="133.0" cy="173.0" r="1.3"/><circle cx="116.5" cy="183.2" r="1.3"/><circle cx="139.4" cy="171.9" r="1.3"/><circle cx="126.4" cy="176.7" r="1.3"/><circle cx="120.2" cy="182.4" r="1.3"/><circle cx="123.1" cy="182.0" r="1.3"/><circle cx="119.6" cy="180.0" r="1.3"/><circle cx="125.0" cy="171.8" r="1.3"/><circle cx="117.5" cy="177.3" r="1.3"/><circle cx="133.9" cy="166.6" r="1.3"/><circle cx="120.6" cy="183.8" r="1.3"/><circle cx="103.9" cy="186.4" r="1.3"/><circle cx="120.6" cy="182.7" r="1.3"/><circle cx="108.2" cy="188.2" r="1.3"/><circle cx="127.4" cy="180.0" r="1.3"/><circle cx="136.4" cy="172.5" r="1.3"/><circle cx="131.2" cy="172.3" r="1.3"/><circle cx="113.2" cy="182.8" r="1.3"/><circle cx="118.8" cy="180.3" r="1.3"/><circle cx="141.7" cy="166.8" r="1.3"/><circle cx="127.7" cy="173.1" r="1.3"/><circle cx="125.5" cy="175.9" r="1.3"/><circle cx="137.2" cy="173.9" r="1.3"/><circle cx="145.3" cy="158.9" r="1.3"/><circle cx="137.5" cy="169.6" r="1.3"/><circle cx="125.5" cy="173.2" r="1.3"/><circle cx="128.9" cy="174.5" r="1.3"/><circle cx="132.2" cy="174.5" r="1.3"/><circle cx="119.9" cy="179.2" r="1.3"/><circle cx="117.0" cy="183.4" r="1.3"/><circle cx="123.8" cy="172.2" r="1.3"/><circle cx="118.5" cy="183.6" r="1.3"/><circle cx="124.1" cy="175.0" r="1.3"/><circle cx="127.2" cy="176.9" r="1.3"/><circle cx="146.8" cy="163.7" r="1.3"/><circle cx="114.4" cy="174.8" r="1.3"/><circle cx="123.4" cy="175.0" r="1.3"/><circle cx="124.3" cy="177.4" r="1.3"/><circle cx="131.5" cy="177.1" r="1.3"/><circle cx="135.3" cy="171.0" r="1.3"/><circle cx="121.4" cy="179.2" r="1.3"/><circle cx="116.2" cy="177.3" r="1.3"/><circle cx="112.6" cy="188.1" r="1.3"/><circle cx="119.6" cy="185.0" r="1.3"/><circle cx="130.4" cy="173.2" r="1.3"/><circle cx="125.6" cy="175.3" r="1.3"/><circle cx="114.2" cy="177.9" r="1.3"/><circle cx="123.3" cy="180.0" r="1.3"/><circle cx="156.5" cy="164.6" r="1.3"/><circle cx="135.4" cy="175.8" r="1.3"/><circle cx="138.9" cy="168.8" r="1.3"/><circle cx="128.1" cy="167.7" r="1.3"/><circle cx="117.0" cy="184.8" r="1.3"/><circle cx="137.4" cy="164.7" r="1.3"/><circle cx="106.3" cy="172.8" r="1.3"/><circle cx="130.6" cy="189.4" r="1.3"/><circle cx="130.2" cy="177.3" r="1.3"/><circle cx="139.3" cy="178.3" r="1.3"/><circle cx="127.4" cy="169.5" r="1.3"/><circle cx="133.3" cy="179.9" r="1.3"/><circle cx="121.8" cy="187.5" r="1.3"/><circle cx="116.2" cy="190.6" r="1.3"/><circle cx="126.1" cy="175.5" r="1.3"/><circle cx="115.1" cy="175.2" r="1.3"/><circle cx="111.6" cy="183.3" r="1.3"/><circle cx="106.8" cy="174.4" r="1.3"/><circle cx="116.1" cy="171.7" r="1.3"/><circle cx="106.7" cy="187.8" r="1.3"/><circle cx="109.1" cy="180.1" r="1.3"/><circle cx="108.3" cy="185.4" r="1.3"/><circle cx="127.1" cy="174.4" r="1.3"/><circle cx="134.7" cy="181.8" r="1.3"/><circle cx="149.5" cy="169.2" r="1.3"/><circle cx="110.0" cy="185.1" r="1.3"/><circle cx="121.6" cy="185.4" r="1.3"/><circle cx="132.9" cy="167.0" r="1.3"/><circle cx="122.4" cy="175.9" r="1.3"/><circle cx="124.5" cy="181.9" r="1.3"/><circle cx="139.9" cy="160.1" r="1.3"/><circle cx="121.3" cy="176.9" r="1.3"/><circle cx="110.2" cy="177.5" r="1.3"/><circle cx="112.3" cy="184.6" r="1.3"/><circle cx="133.2" cy="180.9" r="1.3"/><circle cx="126.7" cy="170.9" r="1.3"/><circle cx="112.0" cy="185.4" r="1.3"/><circle cx="113.1" cy="178.2" r="1.3"/><circle cx="128.0" cy="167.8" r="1.3"/><circle cx="128.3" cy="167.1" r="1.3"/><circle cx="122.6" cy="186.2" r="1.3"/><circle cx="138.0" cy="182.3" r="1.3"/><circle cx="132.6" cy="174.5" r="1.3"/><circle cx="105.3" cy="184.0" r="1.3"/><circle cx="124.1" cy="180.9" r="1.3"/><circle cx="128.9" cy="172.0" r="1.3"/><circle cx="121.7" cy="183.0" r="1.3"/><circle cx="104.2" cy="190.5" r="1.3"/><circle cx="123.3" cy="178.9" r="1.3"/><circle cx="134.8" cy="174.0" r="1.3"/><circle cx="140.3" cy="163.7" r="1.3"/><circle cx="101.9" cy="187.8" r="1.3"/><circle cx="147.9" cy="152.5" r="1.3"/><circle cx="112.8" cy="181.1" r="1.3"/><circle cx="131.7" cy="164.0" r="1.3"/><circle cx="36.7" cy="230.1" r="1.3"/><circle cx="31.9" cy="237.3" r="1.3"/><circle cx="40.0" cy="231.3" r="1.3"/><circle cx="40.7" cy="225.8" r="1.3"/><circle cx="26.9" cy="237.5" r="1.3"/><circle cx="31.5" cy="233.9" r="1.3"/><circle cx="27.3" cy="229.0" r="1.3"/><circle cx="44.3" cy="226.4" r="1.3"/><circle cx="52.0" cy="221.5" r="1.3"/><circle cx="44.7" cy="225.1" r="1.3"/><circle cx="32.8" cy="227.2" r="1.3"/><circle cx="49.9" cy="222.5" r="1.3"/><circle cx="26.0" cy="237.6" r="1.3"/><circle cx="51.0" cy="223.7" r="1.3"/><circle cx="31.1" cy="230.2" r="1.3"/><circle cx="16.7" cy="245.6" r="1.3"/><circle cx="58.2" cy="214.2" r="1.3"/><circle cx="51.1" cy="222.3" r="1.3"/><circle cx="32.3" cy="239.4" r="1.3"/><circle cx="38.7" cy="227.6" r="1.3"/><circle cx="35.8" cy="230.0" r="1.3"/><circle cx="41.2" cy="233.3" r="1.3"/><circle cx="25.6" cy="236.4" r="1.3"/><circle cx="32.4" cy="232.8" r="1.3"/><circle cx="42.7" cy="228.9" r="1.3"/><circle cx="42.2" cy="232.6" r="1.3"/><circle cx="44.5" cy="218.1" r="1.3"/><circle cx="37.7" cy="227.6" r="1.3"/><circle cx="56.1" cy="216.3" r="1.3"/><circle cx="30.7" cy="230.6" r="1.3"/><circle cx="39.1" cy="226.7" r="1.3"/><circle cx="21.3" cy="237.1" r="1.3"/><circle cx="28.7" cy="237.4" r="1.3"/><circle cx="47.9" cy="221.5" r="1.3"/><circle cx="31.0" cy="235.3" r="1.3"/><circle cx="43.6" cy="229.2" r="1.3"/><circle cx="36.7" cy="228.6" r="1.3"/><circle cx="30.1" cy="235.9" r="1.3"/><circle cx="38.5" cy="237.1" r="1.3"/><circle cx="34.8" cy="233.9" r="1.3"/><circle cx="33.4" cy="230.9" r="1.3"/><circle cx="44.6" cy="226.7" r="1.3"/><circle cx="42.3" cy="224.6" r="1.3"/><circle cx="34.2" cy="234.1" r="1.3"/><circle cx="32.5" cy="237.4" r="1.3"/><circle cx="39.4" cy="226.7" r="1.3"/><circle cx="37.3" cy="230.3" r="1.3"/><circle cx="48.9" cy="229.0" r="1.3"/><circle cx="59.5" cy="216.4" r="1.3"/><circle cx="45.8" cy="227.1" r="1.3"/><circle cx="36.4" cy="227.6" r="1.3"/><circle cx="35.7" cy="228.9" r="1.3"/><circle cx="30.6" cy="233.0" r="1.3"/><circle cx="34.7" cy="241.2" r="1.3"/><circle cx="29.5" cy="234.1" r="1.3"/><circle cx="34.3" cy="230.8" r="1.3"/><circle cx="34.0" cy="230.9" r="1.3"/><circle cx="44.3" cy="226.5" r="1.3"/><circle cx="36.3" cy="234.3" r="1.3"/><circle cx="37.2" cy="232.0" r="1.3"/><circle cx="32.0" cy="242.3" r="1.3"/><circle cx="52.4" cy="223.3" r="1.3"/><circle cx="45.1" cy="232.4" r="1.3"/><circle cx="53.7" cy="222.8" r="1.3"/><circle cx="46.1" cy="228.5" r="1.3"/><circle cx="48.3" cy="219.2" r="1.3"/><circle cx="36.2" cy="231.3" r="1.3"/><circle cx="44.3" cy="226.9" r="1.3"/><circle cx="60.3" cy="216.9" r="1.3"/><circle cx="24.8" cy="230.0" r="1.3"/><circle cx="49.7" cy="227.5" r="1.3"/><circle cx="51.8" cy="221.3" r="1.3"/><circle cx="41.2" cy="227.2" r="1.3"/><circle cx="44.4" cy="226.1" r="1.3"/><circle cx="48.6" cy="223.8" r="1.3"/><circle cx="33.7" cy="234.9" r="1.3"/><circle cx="39.8" cy="224.8" r="1.3"/><circle cx="29.6" cy="232.0" r="1.3"/><circle cx="33.3" cy="234.6" r="1.3"/><circle cx="33.6" cy="233.9" r="1.3"/><circle cx="36.7" cy="230.1" r="1.3"/><circle cx="38.8" cy="228.1" r="1.3"/><circle cx="40.9" cy="225.8" r="1.3"/><circle cx="26.5" cy="237.2" r="1.3"/><circle cx="57.2" cy="224.3" r="1.3"/><circle cx="46.4" cy="221.8" r="1.3"/><circle cx="47.2" cy="231.5" r="1.3"/><circle cx="36.9" cy="234.7" r="1.3"/><circle cx="37.0" cy="229.6" r="1.3"/><circle cx="44.4" cy="230.1" r="1.3"/><circle cx="39.5" cy="224.2" r="1.3"/><circle cx="21.4" cy="233.6" r="1.3"/><circle cx="42.6" cy="223.1" r="1.3"/><circle cx="62.4" cy="215.1" r="1.3"/><circle cx="22.4" cy="238.5" r="1.3"/><circle cx="46.0" cy="224.1" r="1.3"/><circle cx="41.8" cy="229.0" r="1.3"/><circle cx="33.9" cy="224.8" r="1.3"/><circle cx="50.9" cy="225.3" r="1.3"/><circle cx="26.1" cy="232.1" r="1.3"/><circle cx="38.8" cy="227.8" r="1.3"/><circle cx="50.2" cy="222.2" r="1.3"/><circle cx="34.9" cy="228.1" r="1.3"/><circle cx="32.6" cy="228.5" r="1.3"/><circle cx="37.8" cy="227.0" r="1.3"/><circle cx="34.7" cy="232.6" r="1.3"/><circle cx="52.6" cy="224.7" r="1.3"/><circle cx="31.8" cy="236.6" r="1.3"/><circle cx="44.2" cy="223.3" r="1.3"/><circle cx="26.6" cy="234.3" r="1.3"/><circle cx="42.6" cy="224.5" r="1.3"/><circle cx="38.4" cy="232.3" r="1.3"/><circle cx="13.2" cy="237.1" r="1.3"/><circle cx="40.6" cy="234.2" r="1.3"/><circle cx="28.7" cy="234.3" r="1.3"/><circle cx="33.4" cy="230.4" r="1.3"/><circle cx="52.1" cy="224.0" r="1.3"/><circle cx="30.8" cy="239.0" r="1.3"/><circle cx="30.1" cy="236.7" r="1.3"/><circle cx="52.5" cy="226.6" r="1.3"/><circle cx="39.7" cy="230.3" r="1.3"/><circle cx="53.6" cy="226.6" r="1.3"/><circle cx="43.4" cy="232.6" r="1.3"/><circle cx="30.9" cy="234.5" r="1.3"/><circle cx="40.4" cy="235.1" r="1.3"/><circle cx="49.2" cy="225.0" r="1.3"/><circle cx="46.6" cy="226.2" r="1.3"/><circle cx="36.9" cy="227.8" r="1.3"/><circle cx="38.4" cy="229.4" r="1.3"/><circle cx="38.9" cy="233.3" r="1.3"/><circle cx="31.4" cy="229.5" r="1.3"/><circle cx="55.9" cy="223.0" r="1.3"/><circle cx="39.2" cy="231.5" r="1.3"/><circle cx="29.4" cy="236.8" r="1.3"/><circle cx="30.7" cy="226.3" r="1.3"/><circle cx="44.5" cy="226.6" r="1.3"/><circle cx="45.0" cy="229.3" r="1.3"/><circle cx="36.0" cy="228.9" r="1.3"/><circle cx="33.0" cy="234.0" r="1.3"/><circle cx="34.7" cy="223.4" r="1.3"/><circle cx="25.5" cy="240.7" r="1.3"/><circle cx="26.4" cy="234.9" r="1.3"/><circle cx="46.7" cy="229.2" r="1.3"/><circle cx="31.3" cy="227.4" r="1.3"/><circle cx="42.8" cy="230.7" r="1.3"/><circle cx="48.4" cy="223.9" r="1.3"/><circle cx="45.4" cy="229.7" r="1.3"/><circle cx="37.1" cy="227.7" r="1.3"/><circle cx="55.4" cy="218.3" r="1.3"/><circle cx="48.0" cy="233.8" r="1.3"/><circle cx="33.2" cy="239.5" r="1.3"/><circle cx="28.8" cy="229.3" r="1.3"/><circle cx="29.9" cy="221.7" r="1.3"/><circle cx="31.6" cy="241.0" r="1.3"/><circle cx="47.8" cy="220.5" r="1.3"/><circle cx="54.1" cy="219.6" r="1.3"/><circle cx="27.9" cy="227.7" r="1.3"/><circle cx="18.4" cy="233.7" r="1.3"/><circle cx="46.5" cy="218.5" r="1.3"/><circle cx="48.1" cy="222.7" r="1.3"/><circle cx="47.3" cy="227.7" r="1.3"/><circle cx="43.2" cy="213.2" r="1.3"/><circle cx="32.3" cy="238.9" r="1.3"/><circle cx="33.6" cy="225.8" r="1.3"/><circle cx="22.4" cy="233.0" r="1.3"/><circle cx="26.9" cy="241.5" r="1.3"/><circle cx="47.6" cy="224.7" r="1.3"/><circle cx="27.9" cy="226.9" r="1.3"/><circle cx="65.3" cy="226.7" r="1.3"/><circle cx="36.8" cy="226.0" r="1.3"/><circle cx="33.1" cy="235.2" r="1.3"/><circle cx="46.7" cy="227.1" r="1.3"/><circle cx="59.5" cy="227.3" r="1.3"/><circle cx="41.9" cy="225.7" r="1.3"/><circle cx="29.7" cy="242.0" r="1.3"/><circle cx="40.0" cy="224.9" r="1.3"/><circle cx="54.7" cy="228.3" r="1.3"/><circle cx="31.7" cy="229.6" r="1.3"/><circle cx="30.1" cy="233.0" r="1.3"/><circle cx="53.4" cy="233.9" r="1.3"/><circle cx="40.7" cy="231.2" r="1.3"/><circle cx="28.3" cy="237.1" r="1.3"/><circle cx="41.0" cy="243.3" r="1.3"/><circle cx="32.3" cy="236.4" r="1.3"/><circle cx="39.1" cy="225.0" r="1.3"/><circle cx="41.6" cy="233.4" r="1.3"/><circle cx="46.2" cy="218.5" r="1.3"/><circle cx="48.4" cy="232.0" r="1.3"/><circle cx="26.9" cy="244.8" r="1.3"/><circle cx="40.8" cy="225.5" r="1.3"/><circle cx="45.3" cy="222.6" r="1.3"/><circle cx="43.3" cy="228.8" r="1.3"/><circle cx="48.4" cy="224.9" r="1.3"/><circle cx="30.6" cy="228.9" r="1.3"/><circle cx="31.0" cy="238.4" r="1.3"/><circle cx="7.9" cy="252.4" r="1.3"/><circle cx="15.2" cy="247.2" r="1.3"/><circle cx="20.4" cy="248.0" r="1.3"/><circle cx="158.3" cy="157.8" r="1.3"/><circle cx="154.9" cy="154.4" r="1.3"/></g>
<g fill="none" stroke="#ffa500" stroke-width="1.0" class="s"><circle cx="309.6" cy="198.5" r="1.3"/><circle cx="254.0" cy="188.6" r="1.3"/><circle cx="241.9" cy="205.1" r="1.3"/><circle cx="274.0" cy="222.9" r="1.3"/><circle cx="269.7" cy="222.9" r="1.3"/><circle cx="296.3" cy="202.7" r="1.3"/><circle cx="241.8" cy="215.0" r="1.3"/><circle cx="235.7" cy="223.0" r="1.3"/><circle cx="259.5" cy="199.2" r="1.3"/><circle cx="272.5" cy="202.6" r="1.3"/><circle cx="272.1" cy="211.2" r="1.3"/><circle cx="285.6" cy="198.0" r="1.3"/><circle cx="237.6" cy="191.1" r="1.3"/><circle cx="250.1" cy="187.4" r="1.3"/><circle cx="263.0" cy="198.6" r="1.3"/><circle cx="281.1" cy="189.3" r="1.3"/><circle cx="274.3" cy="210.4" r="1.3"/><circle cx="257.6" cy="193.6" r="1.3"/><circle cx="246.4" cy="220.3" r="1.3"/><circle cx="281.9" cy="216.6" r="1.3"/><circle cx="283.1" cy="180.2" r="1.3"/><circle cx="316.0" cy="214.6" r="1.3"/><circle cx="262.1" cy="192.7" r="1.3"/><circle cx="295.7" cy="218.9" r="1.3"/><circle cx="242.9" cy="206.2" r="1.3"/><circle cx="255.3" cy="198.0" r="1.3"/><circle cx="252.8" cy="208.6" r="1.3"/><circle cx="256.8" cy="190.4" r="1.3"/><circle cx="249.1" cy="203.6" r="1.3"/><circle cx="255.3" cy="204.4" r="1.3"/><circle cx="264.4" cy="196.5" r="1.3"/><circle cx="257.1" cy="204.4" r="1.3"/><circle cx="277.7" cy="183.9" r="1.3"/><circle cx="263.9" cy="207.0" r="1.3"/><circle cx="265.4" cy="180.8" r="1.3"/><circle cx="292.9" cy="208.0" r="1.3"/><circle cx="271.3" cy="205.7" r="1.3"/><circle cx="268.3" cy="209.3" r="1.3"/><circle cx="265.1" cy="190.6" r="1.3"/><circle cx="266.6" cy="243.6" r="1.3"/><circle cx="276.1" cy="195.5" r="1.3"/><circle cx="250.5" cy="201.1" r="1.3"/><circle cx="286.8" cy="187.7" r="1.3"/><circle cx="294.7" cy="220.0" r="1.3"/><circle cx="286.9" cy="191.9" r="1.3"/><circle cx="256.3" cy="213.6" r="1.3"/><circle cx="235.8" cy="185.0" r="1.3"/><circle cx="257.3" cy="203.5" r="1.3"/><circle cx="268.3" cy="193.5" r="1.3"/><circle cx="280.9" cy="212.7" r="1.3"/><circle cx="262.0" cy="194.7" r="1.3"/><circle cx="259.8" cy="186.3" r="1.3"/><circle cx="293.8" cy="205.6" r="1.3"/><circle cx="253.0" cy="181.4" r="1.3"/><circle cx="285.3" cy="184.9" r="1.3"/><circle cx="282.3" cy="210.3" r="1.3"/><circle cx="240.7" cy="171.5" r="1.3"/><circle cx="270.6" cy="210.2" r="1.3"/><circle cx="255.1" cy="193.2" r="1.3"/><circle cx="247.8" cy="185.6" r="1.3"/><circle cx="231.0" cy="202.7" r="1.3"/><circle cx="236.3" cy="208.4" r="1.3"/><circle cx="273.2" cy="190.5" r="1.3"/><circle cx="258.2" cy="196.5" r="1.3"/><circle cx="270.5" cy="210.9" r="1.3"/><circle cx="245.7" cy="210.2" r="1.3"/><circle cx="259.5" cy="198.4" r="1.3"/><circle cx="260.4" cy="187.9" r="1.3"/><circle cx="236.7" cy="185.3" r="1.3"/><circle cx="234.5" cy="190.5" r="1.3"/><circle cx="273.6" cy="209.2" r="1.3"/><circle cx="268.2" cy="207.7" r="1.3"/><circle cx="248.1" cy="203.7" r="1.3"/><circle cx="263.6" cy="219.7" r="1.3"/><circle cx="277.8" cy="194.9" r="1.3"/><circle cx="299.5" cy="193.7" r="1.3"/><circle cx="248.9" cy="193.6" r="1.3"/><circle cx="276.9" cy="227.3" r="1.3"/><circle cx="304.9" cy="169.2" r="1.3"/><circle cx="266.7" cy="203.6" r="1.3"/><circle cx="292.8" cy="205.9" r="1.3"/><circle cx="217.3" cy="200.3" r="1.3"/><circle cx="292.4" cy="233.6" r="1.3"/><circle cx="265.3" cy="216.5" r="1.3"/><circle cx="230.5" cy="210.7" r="1.3"/><circle cx="280.0" cy="186.3" r="1.3"/><circle cx="285.0" cy="206.7" r="1.3"/><circle cx="287.9" cy="194.0" r="1.3"/><circle cx="287.8" cy="200.1" r="1.3"/><circle cx="264.9" cy="202.4" r="1.3"/><circle cx="251.5" cy="192.4" r="1.3"/><circle cx="256.9" cy="208.7" r="1.3"/><circle cx="264.8" cy="223.3" r="1.3"/><circle cx="273.0" cy="214.7" r="1.3"/><circle cx="256.5" cy="202.7" r="1.3"/><circle cx="266.4" cy="171.3" r="1.3"/><circle cx="281.8" cy="215.4" r="1.3"/><circle cx="271.5" cy="215.3" r="1.3"/><circle cx="308.2" cy="196.8" r="1.3"/><circle cx="305.6" cy="192.6" r="1.3"/><circle cx="244.1" cy="209.2" r="1.3"/><circle cx="254.9" cy="187.8" r="1.3"/><circle cx="241.0" cy="211.2" r="1.3"/><circle cx="243.7" cy="183.9" r="1.3"/><circle cx="275.6" cy="186.2" r="1.3"/><circle cx="246.9" cy="199.9" r="1.3"/><circle cx="245.9" cy="178.4" r="1.3"/><circle cx="260.4" cy="199.7" r="1.3"/><circle cx="280.4" cy="207.4" r="1.3"/><circle cx="258.8" cy="180.5" r="1.3"/><circle cx="258.8" cy="213.2" r="1.3"/><circle cx="282.6" cy="191.5" r="1.3"/><circle cx="274.2" cy="207.7" r="1.3"/><circle cx="274.0" cy="202.8" r="1.3"/><circle cx="283.1" cy="193.1" r="1.3"/><circle cx="246.6" cy="192.1" r="1.3"/><circle cx="269.5" cy="174.9" r="1.3"/><circle cx="253.6" cy="189.6" r="1.3"/><circle cx="284.6" cy="188.5" r="1.3"/><circle cx="280.7" cy="223.7" r="1.3"/><circle cx="246.0" cy="214.6" r="1.3"/><circle cx="290.4" cy="179.8" r="1.3"/><circle cx="243.6" cy="211.4" r="1.3"/><circle cx="287.3" cy="203.0" r="1.3"/><circle cx="269.3" cy="194.2" r="1.3"/><circle cx="249.2" cy="206.5" r="1.3"/><circle cx="244.6" cy="211.3" r="1.3"/><circle cx="259.8" cy="191.5" r="1.3"/><circle cx="265.0" cy="195.8" r="1.3"/><circle cx="252.2" cy="202.2" r="1.3"/><circle cx="276.0" cy="185.5" r="1.3"/><circle cx="239.3" cy="202.5" r="1.3"/><circle cx="265.3" cy="198.6" r="1.3"/><circle cx="265.5" cy="189.9" r="1.3"/><circle cx="230.5" cy="187.6" r="1.3"/><circle cx="271.2" cy="204.3" r="1.3"/><circle cx="241.8" cy="212.5" r="1.3"/><circle cx="218.8" cy="204.6" r="1.3"/><circle cx="254.0" cy="187.4" r="1.3"/><circle cx="261.2" cy="210.7" r="1.3"/><circle cx="282.3" cy="202.3" r="1.3"/><circle cx="256.3" cy="208.4" r="1.3"/><circle cx="293.0" cy="216.7" r="1.3"/><circle cx="292.3" cy="186.7" r="1.3"/><circle cx="285.9" cy="197.8" r="1.3"/><circle cx="290.2" cy="191.2" r="1.3"/><circle cx="272.0" cy="187.2" r="1.3"/><circle cx="255.0" cy="228.9" r="1.3"/><circle cx="277.6" cy="213.5" r="1.3"/><circle cx="283.5" cy="174.2" r="1.3"/><circle cx="269.9" cy="206.0" r="1.3"/><circle cx="260.8" cy="191.8" r="1.3"/><circle cx="236.1" cy="216.5" r="1.3"/><circle cx="278.1" cy="201.1" r="1.3"/><circle cx="272.0" cy="197.3" r="1.3"/><circle cx="241.1" cy="201.9" r="1.3"/><circle cx="267.3" cy="205.4" r="1.3"/><circle cx="279.0" cy="200.3" r="1.3"/><circle cx="263.4" cy="196.7" r="1.3"/><circle cx="280.1" cy="197.9" r="1.3"/><circle cx="279.6" cy="207.3" r="1.3"/><circle cx="237.8" cy="183.5" r="1.3"/><circle cx="259.8" cy="199.8" r="1.3"/><circle cx="274.5" cy="198.1" r="1.3"/><circle cx="282.6" cy="192.8" r="1.3"/><circle cx="291.9" cy="210.5" r="1.3"/><circle cx="229.5" cy="181.2" r="1.3"/><circle cx="264.2" cy="194.6" r="1.3"/><circle cx="278.8" cy="187.5" r="1.3"/><circle cx="288.4" cy="207.8" r="1.3"/><circle cx="297.1" cy="193.1" r="1.3"/><circle cx="247.9" cy="200.6" r="1.3"/><circle cx="258.4" cy="205.5" r="1.3"/><circle cx="245.7" cy="176.8" r="1.3"/><circle cx="280.8" cy="206.4" r="1.3"/><circle cx="240.6" cy="189.1" r="1.3"/><circle cx="287.6" cy="196.2" r="1.3"/><circle cx="283.0" cy="198.3" r="1.3"/><circle cx="274.6" cy="211.6" r="1.3"/><circle cx="224.7" cy="210.6" r="1.3"/><circle cx="252.7" cy="225.5" r="1.3"/><circle cx="279.5" cy="202.5" r="1.3"/><circle cx="238.8" cy="193.0" r="1.3"/><circle cx="260.9" cy="192.6" r="1.3"/><circle cx="263.5" cy="209.4" r="1.3"/><circle cx="282.1" cy="223.1" r="1.3"/><circle cx="270.7" cy="204.8" r="1.3"/><circle cx="270.6" cy="191.6" r="1.3"/><circle cx="257.2" cy="203.9" r="1.3"/><circle cx="265.5" cy="203.6" r="1.3"/><circle cx="262.9" cy="200.4" r="1.3"/><circle cx="279.1" cy="189.1" r="1.3"/><circle cx="262.0" cy="163.2" r="1.3"/><circle cx="284.8" cy="192.1" r="1.3"/><circle cx="233.5" cy="215.1" r="1.3"/><circle cx="287.9" cy="203.0" r="1.3"/><circle cx="262.2" cy="167.9" r="1.3"/><circle cx="286.6" cy="200.0" r="1.3"/><circle cx="267.0" cy="173.2" r="1.3"/><circle cx="281.4" cy="228.7" r="1.3"/><circle cx="293.4" cy="202.7" r="1.3"/><circle cx="255.0" cy="182.5" r="1.3"/><circle cx="266.9" cy="211.4" r="1.3"/><circle cx="262.2" cy="188.6" r="1.3"/><circle cx="269.3" cy="208.0" r="1.3"/><circle cx="235.0" cy="200.2" r="1.3"/><circle cx="262.2" cy="182.8" r="1.3"/><circle cx="260.7" cy="209.5" r="1.3"/><circle cx="250.6" cy="180.5" r="1.3"/><circle cx="261.7" cy="219.3" r="1.3"/><circle cx="236.4" cy="200.8" r="1.3"/><circle cx="291.6" cy="185.0" r="1.3"/><circle cx="273.8" cy="173.7" r="1.3"/><circle cx="300.8" cy="223.3" r="1.3"/><circle cx="249.0" cy="220.9" r="1.3"/><circle cx="243.5" cy="181.7" r="1.3"/><circle cx="270.7" cy="223.7" r="1.3"/><circle cx="234.1" cy="202.3" r="1.3"/><circle cx="269.6" cy="196.7" r="1.3"/><circle cx="252.2" cy="198.6" r="1.3"/><circle cx="259.1" cy="196.0" r="1.3"/><circle cx="270.1" cy="220.6" r="1.3"/><circle cx="266.2" cy="202.1" r="1.3"/><circle cx="300.3" cy="173.2" r="1.3"/><circle cx="277.2" cy="230.2" r="1.3"/><circle cx="241.1" cy="212.7" r="1.3"/><circle cx="283.8" cy="184.1" r="1.3"/><circle cx="240.2" cy="194.7" r="1.3"/><circle cx="267.0" cy="186.8" r="1.3"/><circle cx="241.9" cy="200.6" r="1.3"/><circle cx="249.8" cy="205.6" r="1.3"/><circle cx="290.0" cy="203.3" r="1.3"/><circle cx="254.9" cy="191.2" r="1.3"/><circle cx="253.2" cy="188.3" r="1.3"/><circle cx="254.8" cy="212.2" r="1.3"/><circle cx="259.5" cy="198.4" r="1.3"/><circle cx="292.4" cy="232.5" r="1.3"/><circle cx="243.2" cy="188.2" r="1.3"/><circle cx="242.1" cy="211.3" r="1.3"/><circle cx="276.2" cy="200.6" r="1.3"/><circle cx="235.4" cy="188.9" r="1.3"/><circle cx="258.4" cy="219.6" r="1.3"/><circle cx="286.5" cy="201.7" r="1.3"/><circle cx="265.3" cy="187.0" r="1.3"/><circle cx="256.3" cy="195.3" r="1.3"/><circle cx="251.9" cy="214.6" r="1.3"/><circle cx="248.0" cy="182.2" r="1.3"/><circle cx="254.2" cy="219.9" r="1.3"/><circle cx="267.8" cy="209.8" r="1.3"/><circle cx="288.6" cy="195.9" r="1.3"/><circle cx="283.3" cy="219.5" r="1.3"/><circle cx="254.6" cy="225.2" r="1.3"/><circle cx="251.5" cy="208.6" r="1.3"/><circle cx="278.2" cy="202.4" r="1.3"/><circle cx="231.1" cy="226.7" r="1.3"/><circle cx="256.9" cy="221.6" r="1.3"/><circle cx="259.0" cy="186.5" r="1.3"/><circle cx="244.3" cy="196.9" r="1.3"/><circle cx="246.4" cy="196.8" r="1.3"/><circle cx="271.6" cy="193.9" r="1.3"/><circle cx="234.0" cy="178.2" r="1.3"/><circle cx="247.9" cy="213.0" r="1.3"/><circle cx="252.9" cy="201.1" r="1.3"/><circle cx="266.6" cy="201.3" r="1.3"/><circle cx="239.3" cy="220.3" r="1.3"/><circle cx="285.4" cy="191.7" r="1.3"/><circle cx="259.2" cy="199.1" r="1.3"/><circle cx="260.1" cy="203.9" r="1.3"/><circle cx="258.1" cy="193.6" r="1.3"/><circle cx="252.3" cy="198.3" r="1.3"/><circle cx="246.5" cy="211.0" r="1.3"/><circle cx="286.4" cy="199.8" r="1.3"/><circle cx="268.7" cy="219.3" r="1.3"/><circle cx="262.8" cy="189.0" r="1.3"/><circle cx="283.5" cy="202.8" r="1.3"/><circle cx="251.5" cy="179.1" r="1.3"/><circle cx="276.6" cy="198.2" r="1.3"/><circle cx="265.2" cy="189.7" r="1.3"/><circle cx="248.1" cy="219.7" r="1.3"/><circle cx="279.0" cy="210.7" r="1.3"/><circle cx="236.7" cy="207.3" r="1.3"/><circle cx="277.0" cy="226.8" r="1.3"/><circle cx="248.2" cy="220.9" r="1.3"/><circle cx="272.4" cy="210.4" r="1.3"/><circle cx="290.6" cy="189.8" r="1.3"/><circle cx="275.3" cy="178.8" r="1.3"/><circle cx="253.4" cy="199.5" r="1.3"/><circle cx="264.1" cy="194.7" r="1.3"/><circle cx="257.8" cy="190.5" r="1.3"/><circle cx="242.7" cy="195.7" r="1.3"/><circle cx="243.9" cy="175.8" r="1.3"/><circle cx="265.4" cy="221.6" r="1.3"/><circle cx="274.6" cy="183.3" r="1.3"/><circle cx="231.6" cy="190.1" r="1.3"/><circle cx="263.2" cy="208.2" r="1.3"/><circle cx="274.0" cy="176.1" r="1.3"/><circle cx="266.6" cy="213.4" r="1.3"/><circle cx="245.7" cy="213.6" r="1.3"/><circle cx="283.9" cy="195.3" r="1.3"/><circle cx="241.7" cy="184.1" r="1.3"/><circle cx="276.6" cy="193.0" r="1.3"/><circle cx="294.4" cy="172.8" r="1.3"/><circle cx="226.3" cy="220.2" r="1.3"/><circle cx="269.2" cy="200.7" r="1.3"/><circle cx="270.3" cy="189.1" r="1.3"/><circle cx="268.6" cy="186.6" r="1.3"/><circle cx="250.0" cy="208.3" r="1.3"/><circle cx="258.5" cy="221.9" r="1.3"/><circle cx="238.3" cy="181.3" r="1.3"/><circle cx="266.8" cy="191.5" r="1.3"/><circle cx="274.4" cy="174.2" r="1.3"/><circle cx="251.9" cy="209.8" r="1.3"/><circle cx="247.0" cy="202.2" r="1.3"/><circle cx="255.5" cy="233.0" r="1.3"/><circle cx="264.1" cy="198.1" r="1.3"/><circle cx="265.4" cy="193.5" r="1.3"/><circle cx="262.3" cy="189.5" r="1.3"/><circle cx="265.5" cy="212.4" r="1.3"/><circle cx="239.8" cy="176.0" r="1.3"/><circle cx="213.3" cy="210.9" r="1.3"/><circle cx="275.7" cy="203.5" r="1.3"/><circle cx="290.8" cy="192.5" r="1.3"/><circle cx="237.8" cy="186.7" r="1.3"/><circle cx="251.8" cy="215.4" r="1.3"/><circle cx="269.8" cy="227.2" r="1.3"/><circle cx="282.0" cy="193.4" r="1.3"/><circle cx="276.3" cy="207.7" r="1.3"/><circle cx="288.0" cy="225.5" r="1.3"/><circle cx="263.2" cy="190.8" r="1.3"/><circle cx="271.9" cy="196.2" r="1.3"/><circle cx="271.9" cy="182.0" r="1.3"/><circle cx="256.1" cy="197.7" r="1.3"/><circle cx="286.6" cy="198.7" r="1.3"/><circle cx="275.8" cy="193.8" r="1.3"/><circle cx="282.4" cy="189.0" r="1.3"/><circle cx="256.9" cy="176.6" r="1.3"/><circle cx="283.4" cy="180.1" r="1.3"/><circle cx="244.5" cy="185.5" r="1.3"/><circle cx="271.5" cy="209.3" r="1.3"/><circle cx="215.5" cy="192.4" r="1.3"/><circle cx="245.3" cy="187.4" r="1.3"/><circle cx="277.9" cy="209.6" r="1.3"/><circle cx="255.7" cy="208.2" r="1.3"/><circle cx="267.4" cy="188.8" r="1.3"/><circle cx="233.9" cy="190.7" r="1.3"/><circle cx="292.9" cy="209.6" r="1.3"/><circle cx="275.2" cy="205.3" r="1.3"/><circle cx="263.6" cy="187.6" r="1.3"/><circle cx="271.9" cy="203.4" r="1.3"/><circle cx="270.2" cy="199.5" r="1.3"/><circle cx="290.4" cy="216.3" r="1.3"/><circle cx="268.1" cy="187.1" r="1.3"/><circle cx="236.7" cy="212.9" r="1.3"/><circle cx="259.4" cy="206.3" r="1.3"/><circle cx="288.0" cy="185.0" r="1.3"/><circle cx="274.7" cy="215.5" r="1.3"/><circle cx="256.3" cy="213.3" r="1.3"/><circle cx="275.5" cy="180.4" r="1.3"/><circle cx="266.3" cy="229.2" r="1.3"/><circle cx="275.4" cy="183.0" r="1.3"/><circle cx="234.6" cy="186.3" r="1.3"/><circle cx="247.4" cy="195.1" r="1.3"/><circle cx="276.5" cy="211.3" r="1.3"/><circle cx="260.0" cy="208.5" r="1.3"/><circle cx="270.6" cy="198.5" r="1.3"/><circle cx="300.5" cy="220.1" r="1.3"/><circle cx="258.3" cy="205.9" r="1.3"/><circle cx="268.6" cy="220.6" r="1.3"/><circle cx="253.8" cy="241.6" r="1.3"/><circle cx="252.5" cy="202.8" r="1.3"/><circle cx="262.7" cy="161.7" r="1.3"/><circle cx="237.1" cy="193.2" r="1.3"/><circle cx="225.0" cy="183.9" r="1.3"/><circle cx="289.5" cy="201.3" r="1.3"/><circle cx="262.2" cy="201.4" r="1.3"/><circle cx="285.0" cy="181.7" r="1.3"/><circle cx="266.4" cy="182.8" r="1.3"/><circle cx="266.9" cy="196.0" r="1.3"/><circle cx="276.6" cy="197.0" r="1.3"/><circle cx="277.4" cy="161.1" r="1.3"/><circle cx="241.8" cy="214.4" r="1.3"/><circle cx="286.5" cy="200.4" r="1.3"/><circle cx="246.1" cy="199.8" r="1.3"/><circle cx="267.9" cy="204.3" r="1.3"/><circle cx="311.6" cy="184.6" r="1.3"/><circle cx="265.6" cy="199.1" r="1.3"/><circle cx="295.1" cy="215.4" r="1.3"/><circle cx="257.7" cy="216.0" r="1.3"/><circle cx="275.5" cy="206.8" r="1.3"/><circle cx="265.1" cy="195.7" r="1.3"/><circle cx="271.9" cy="187.6" r="1.3"/><circle cx="248.3" cy="219.7" r="1.3"/><circle cx="247.1" cy="207.8" r="1.3"/><circle cx="270.4" cy="193.6" r="1.3"/><circle cx="235.1" cy="167.3" r="1.3"/><circle cx="248.5" cy="186.8" r="1.3"/><circle cx="276.0" cy="170.9" r="1.3"/><circle cx="252.7" cy="218.6" r="1.3"/><circle cx="247.6" cy="202.7" r="1.3"/><circle cx="243.6" cy="188.7" r="1.3"/><circle cx="266.9" cy="195.7" r="1.3"/><circle cx="257.4" cy="239.0" r="1.3"/><circle cx="266.9" cy="218.2" r="1.3"/><circle cx="260.6" cy="179.6" r="1.3"/><circle cx="298.5" cy="197.9" r="1.3"/><circle cx="256.0" cy="181.3" r="1.3"/><circle cx="227.8" cy="173.8" r="1.3"/><circle cx="266.3" cy="202.5" r="1.3"/><circle cx="264.2" cy="236.5" r="1.3"/><circle cx="267.0" cy="223.5" r="1.3"/><circle cx="234.4" cy="200.6" r="1.3"/><circle cx="285.1" cy="194.2" r="1.3"/><circle cx="263.6" cy="203.0" r="1.3"/><circle cx="263.3" cy="215.6" r="1.3"/><circle cx="234.8" cy="177.7" r="1.3"/><circle cx="272.9" cy="171.5" r="1.3"/><circle cx="262.9" cy="228.5" r="1.3"/><circle cx="289.2" cy="204.2" r="1.3"/><circle cx="256.4" cy="224.3" r="1.3"/><circle cx="241.3" cy="203.5" r="1.3"/><circle cx="266.5" cy="222.4" r="1.3"/><circle cx="247.2" cy="190.6" r="1.3"/><circle cx="271.8" cy="207.5" r="1.3"/><circle cx="244.1" cy="223.6" r="1.3"/><circle cx="261.8" cy="215.5" r="1.3"/><circle cx="259.9" cy="192.9" r="1.3"/><circle cx="263.5" cy="213.6" r="1.3"/><circle cx="254.6" cy="189.7" r="1.3"/><circle cx="249.1" cy="178.1" r="1.3"/><circle cx="263.0" cy="207.9" r="1.3"/><circle cx="253.4" cy="221.3" r="1.3"/><circle cx="267.0" cy="212.9" r="1.3"/><circle cx="259.1" cy="180.6" r="1.3"/><circle cx="222.6" cy="213.2" r="1.3"/><circle cx="263.0" cy="210.3" r="1.3"/><circle cx="289.8" cy="192.9" r="1.3"/><circle cx="269.7" cy="161.8" r="1.3"/><circle cx="275.2" cy="215.5" r="1.3"/><circle cx="272.5" cy="213.5" r="1.3"/><circle cx="255.5" cy="207.5" r="1.3"/><circle cx="239.5" cy="173.3" r="1.3"/><circle cx="279.1" cy="177.0" r="1.3"/><circle cx="283.6" cy="215.4" r="1.3"/><circle cx="274.6" cy="212.2" r="1.3"/><circle cx="272.0" cy="207.5" r="1.3"/><circle cx="271.4" cy="196.1" r="1.3"/><circle cx="263.6" cy="206.0" r="1.3"/><circle cx="269.2" cy="191.6" r="1.3"/><circle cx="264.4" cy="195.1" r="1.3"/><circle cx="270.1" cy="186.6" r="1.3"/><circle cx="246.8" cy="203.9" r="1.3"/><circle cx="252.6" cy="193.5" r="1.3"/><circle cx="274.6" cy="214.6" r="1.3"/><circle cx="257.9" cy="211.0" r="1.3"/><circle cx="219.7" cy="187.4" r="1.3"/><circle cx="266.4" cy="228.2" r="1.3"/><circle cx="222.2" cy="182.6" r="1.3"/><circle cx="299.2" cy="206.8" r="1.3"/><circle cx="277.4" cy="216.6" r="1.3"/><circle cx="276.5" cy="219.7" r="1.3"/><circle cx="252.0" cy="165.8" r="1.3"/><circle cx="243.5" cy="215.4" r="1.3"/><circle cx="260.3" cy="218.7" r="1.3"/><circle cx="264.6" cy="222.1" r="1.3"/><circle cx="250.1" cy="165.5" r="1.3"/><circle cx="267.1" cy="189.4" r="1.3"/><circle cx="276.8" cy="198.4" r="1.3"/><circle cx="275.2" cy="193.0" r="1.3"/><circle cx="245.2" cy="220.6" r="1.3"/><circle cx="224.7" cy="189.4" r="1.3"/><circle cx="266.9" cy="199.5" r="1.3"/><circle cx="247.4" cy="172.8" r="1.3"/><circle cx="255.1" cy="215.1" r="1.3"/><circle cx="290.7" cy="196.9" r="1.3"/><circle cx="302.9" cy="207.2" r="1.3"/><circle cx="262.2" cy="229.1" r="1.3"/><circle cx="254.7" cy="217.3" r="1.3"/><circle cx="243.4" cy="174.5" r="1.3"/><circle cx="261.2" cy="196.7" r="1.3"/><circle cx="259.6" cy="173.9" r="1.3"/><circle cx="284.3" cy="181.8" r="1.3"/><circle cx="302.5" cy="203.7" r="1.3"/><circle cx="262.2" cy="198.2" r="1.3"/><circle cx="249.5" cy="210.8" r="1.3"/><circle cx="257.2" cy="178.7" r="1.3"/><circle cx="256.9" cy="198.4" r="1.3"/><circle cx="249.3" cy="221.5" r="1.3"/><circle cx="302.0" cy="201.2" r="1.3"/><circle cx="253.5" cy="229.1" r="1.3"/><circle cx="253.4" cy="204.1" r="1.3"/><circle cx="252.9" cy="220.0" r="1.3"/><circle cx="239.6" cy="222.4" r="1.3"/><circle cx="261.1" cy="192.7" r="1.3"/><circle cx="250.7" cy="223.7" r="1.3"/><circle cx="279.0" cy="185.7" r="1.3"/><circle cx="243.7" cy="224.0" r="1.3"/><circle cx="239.8" cy="210.2" r="1.3"/><circle cx="234.1" cy="212.6" r="1.3"/><circle cx="274.0" cy="195.7" r="1.3"/><circle cx="243.6" cy="184.2" r="1.3"/><circle cx="291.0" cy="195.2" r="1.3"/><circle cx="279.5" cy="200.2" r="1.3"/><circle cx="290.4" cy="194.1" r="1.3"/><circle cx="278.1" cy="226.6" r="1.3"/><circle cx="290.2" cy="184.8" r="1.3"/><circle cx="295.2" cy="206.8" r="1.3"/><circle cx="279.4" cy="186.2" r="1.3"/><circle cx="248.8" cy="182.5" r="1.3"/><circle cx="257.0" cy="179.6" r="1.3"/><circle cx="238.9" cy="219.8" r="1.3"/><circle cx="239.8" cy="219.9" r="1.3"/><circle cx="280.9" cy="218.1" r="1.3"/><circle cx="284.1" cy="218.0" r="1.3"/><circle cx="252.4" cy="187.3" r="1.3"/><circle cx="251.4" cy="220.7" r="1.3"/><circle cx="280.5" cy="202.0" r="1.3"/><circle cx="285.1" cy="228.3" r="1.3"/><circle cx="278.8" cy="218.5" r="1.3"/><circle cx="268.3" cy="202.9" r="1.3"/><circle cx="247.1" cy="205.0" r="1.3"/><circle cx="298.3" cy="182.8" r="1.3"/><circle cx="248.6" cy="190.9" r="1.3"/><circle cx="265.6" cy="179.4" r="1.3"/><circle cx="296.6" cy="220.0" r="1.3"/><circle cx="255.1" cy="172.6" r="1.3"/><circle cx="282.1" cy="185.0" r="1.3"/><circle cx="282.4" cy="199.5" r="1.3"/><circle cx="261.4" cy="179.9" r="1.3"/><circle cx="248.9" cy="187.3" r="1.3"/><circle cx="301.9" cy="192.5" r="1.3"/><circle cx="286.2" cy="217.5" r="1.3"/><circle cx="276.7" cy="169.3" r="1.3"/><circle cx="259.8" cy="167.7" r="1.3"/><circle cx="261.7" cy="169.5" r="1.3"/><circle cx="252.2" cy="216.5" r="1.3"/><circle cx="287.8" cy="209.8" r="1.3"/><circle cx="284.7" cy="218.9" r="1.3"/><circle cx="253.1" cy="175.5" r="1.3"/><circle cx="253.7" cy="228.0" r="1.3"/><circle cx="299.6" cy="190.5" r="1.3"/><circle cx="282.3" cy="212.7" r="1.3"/><circle cx="279.8" cy="173.9" r="1.3"/><circle cx="243.9" cy="202.8" r="1.3"/><circle cx="257.8" cy="227.9" r="1.3"/><circle cx="266.9" cy="203.7" r="1.3"/><circle cx="245.8" cy="224.1" r="1.3"/><circle cx="245.6" cy="220.2" r="1.3"/><circle cx="269.2" cy="212.4" r="1.3"/><circle cx="270.7" cy="216.1" r="1.3"/><circle cx="287.9" cy="196.6" r="1.3"/><circle cx="243.0" cy="211.1" r="1.3"/><circle cx="241.1" cy="178.0" r="1.3"/><circle cx="256.0" cy="168.8" r="1.3"/><circle cx="252.5" cy="222.2" r="1.3"/><circle cx="278.5" cy="195.6" r="1.3"/><circle cx="256.8" cy="231.3" r="1.3"/><circle cx="280.3" cy="230.1" r="1.3"/><circle cx="277.8" cy="202.6" r="1.3"/><circle cx="264.5" cy="226.7" r="1.3"/><circle cx="295.7" cy="210.0" r="1.3"/><circle cx="245.5" cy="180.6" r="1.3"/><circle cx="238.2" cy="187.1" r="1.3"/><circle cx="269.7" cy="200.2" r="1.3"/><circle cx="287.1" cy="194.2" r="1.3"/><circle cx="264.0" cy="180.9" r="1.3"/><circle cx="237.9" cy="191.6" r="1.3"/><circle cx="278.0" cy="196.4" r="1.3"/><circle cx="247.4" cy="196.7" r="1.3"/><circle cx="274.1" cy="212.3" r="1.3"/><circle cx="268.5" cy="192.8" r="1.3"/><circle cx="292.1" cy="193.6" r="1.3"/><circle cx="283.0" cy="205.4" r="1.3"/><circle cx="240.6" cy="199.3" r="1.3"/><circle cx="269.5" cy="214.7" r="1.3"/><circle cx="294.8" cy="183.2" r="1.3"/><circle cx="277.5" cy="206.1" r="1.3"/><circle cx="278.6" cy="172.7" r="1.3"/><circle cx="275.4" cy="225.6" r="1.3"/><circle cx="257.5" cy="189.7" r="1.3"/><circle cx="258.7" cy="180.9" r="1.3"/><circle cx="268.6" cy="179.5" r="1.3"/><circle cx="291.2" cy="207.2" r="1.3"/><circle cx="236.0" cy="202.8" r="1.3"/><circle cx="270.3" cy="202.8" r="1.3"/><circle cx="277.8" cy="209.5" r="1.3"/><circle cx="283.7" cy="223.4" r="1.3"/><circle cx="273.9" cy="208.0" r="1.3"/><circle cx="299.0" cy="187.9" r="1.3"/><circle cx="245.5" cy="192.5" r="1.3"/><circle cx="266.8" cy="206.2" r="1.3"/><circle cx="233.8" cy="202.5" r="1.3"/><circle cx="284.7" cy="205.4" r="1.3"/><circle cx="275.0" cy="232.1" r="1.3"/><circle cx="241.5" cy="177.2" r="1.3"/><circle cx="254.8" cy="170.7" r="1.3"/><circle cx="240.3" cy="179.3" r="1.3"/><circle cx="277.3" cy="199.0" r="1.3"/><circle cx="273.2" cy="199.2" r="1.3"/><circle cx="279.1" cy="181.8" r="1.3"/><circle cx="242.9" cy="204.5" r="1.3"/><circle cx="268.1" cy="178.8" r="1.3"/><circle cx="267.2" cy="225.4" r="1.3"/><circle cx="289.2" cy="178.0" r="1.3"/><circle cx="268.3" cy="229.2" r="1.3"/><circle cx="303.6" cy="198.1" r="1.3"/><circle cx="298.1" cy="202.2" r="1.3"/><circle cx="277.2" cy="170.3" r="1.3"/><circle cx="255.5" cy="199.9" r="1.3"/><circle cx="269.5" cy="195.0" r="1.3"/><circle cx="241.7" cy="197.0" r="1.3"/><circle cx="284.9" cy="173.1" r="1.3"/><circle cx="260.9" cy="180.1" r="1.3"/><circle cx="258.9" cy="191.5" r="1.3"/><circle cx="279.9" cy="196.4" r="1.3"/><circle cx="280.4" cy="210.6" r="1.3"/><circle cx="298.6" cy="186.2" r="1.3"/><circle cx="245.2" cy="197.3" r="1.3"/><circle cx="257.7" cy="170.4" r="1.3"/><circle cx="248.9" cy="172.0" r="1.3"/><circle cx="241.0" cy="218.2" r="1.3"/><circle cx="231.0" cy="194.6" r="1.3"/><circle cx="285.9" cy="197.1" r="1.3"/><circle cx="250.3" cy="201.0" r="1.3"/><circle cx="283.2" cy="191.8" r="1.3"/><circle cx="272.1" cy="200.1" r="1.3"/><circle cx="234.3" cy="185.6" r="1.3"/><circle cx="260.6" cy="186.0" r="1.3"/><circle cx="243.1" cy="215.9" r="1.3"/><circle cx="284.7" cy="208.5" r="1.3"/><circle cx="274.3" cy="176.5" r="1.3"/><circle cx="267.5" cy="178.1" r="1.3"/><circle cx="243.3" cy="218.9" r="1.3"/><circle cx="280.9" cy="208.4" r="1.3"/><circle cx="277.9" cy="184.9" r="1.3"/><circle cx="269.3" cy="187.8" r="1.3"/><circle cx="277.9" cy="183.7" r="1.3"/><circle cx="281.5" cy="172.5" r="1.3"/><circle cx="263.9" cy="232.2" r="1.3"/><circle cx="263.7" cy="197.0" r="1.3"/><circle cx="232.9" cy="206.4" r="1.3"/><circle cx="241.9" cy="217.9" r="1.3"/><circle cx="258.0" cy="204.9" r="1.3"/><circle cx="259.9" cy="188.2" r="1.3"/><circle cx="302.3" cy="199.5" r="1.3"/><circle cx="250.5" cy="202.4" r="1.3"/><circle cx="242.8" cy="223.3" r="1.3"/><circle cx="247.6" cy="182.4" r="1.3"/><circle cx="241.1" cy="176.1" r="1.3"/><circle cx="244.5" cy="212.8" r="1.3"/><circle cx="258.6" cy="190.4" r="1.3"/><circle cx="250.6" cy="178.5" r="1.3"/><circle cx="266.5" cy="177.9" r="1.3"/><circle cx="272.0" cy="207.5" r="1.3"/><circle cx="247.2" cy="175.5" r="1.3"/><circle cx="235.7" cy="215.3" r="1.3"/><circle cx="294.1" cy="177.6" r="1.3"/><circle cx="244.6" cy="182.0" r="1.3"/><circle cx="277.8" cy="176.5" r="1.3"/><circle cx="273.2" cy="186.4" r="1.3"/><circle cx="275.6" cy="231.4" r="1.3"/><circle cx="295.8" cy="213.2" r="1.3"/><circle cx="268.9" cy="173.0" r="1.3"/><circle cx="296.8" cy="209.3" r="1.3"/><circle cx="300.0" cy="190.2" r="1.3"/><circle cx="258.8" cy="181.9" r="1.3"/><circle cx="255.7" cy="205.0" r="1.3"/><circle cx="248.8" cy="171.1" r="1.3"/><circle cx="271.6" cy="204.2" r="1.3"/><circle cx="254.2" cy="186.8" r="1.3"/><circle cx="290.4" cy="188.8" r="1.3"/><circle cx="291.3" cy="227.6" r="1.3"/><circle cx="244.5" cy="200.0" r="1.3"/><circle cx="185.1" cy="217.9" r="1.3"/><circle cx="275.1" cy="225.0" r="1.3"/><circle cx="281.1" cy="247.3" r="1.3"/><circle cx="301.6" cy="232.5" r="1.3"/><circle cx="313.7" cy="205.6" r="1.3"/><circle cx="283.3" cy="204.4" r="1.3"/><circle cx="266.5" cy="206.2" r="1.3"/><circle cx="249.3" cy="207.7" r="1.3"/><circle cx="209.9" cy="189.7" r="1.3"/><circle cx="258.4" cy="221.2" r="1.3"/><circle cx="316.0" cy="184.9" r="1.3"/><circle cx="302.1" cy="182.1" r="1.3"/><circle cx="269.9" cy="187.8" r="1.3"/><circle cx="204.4" cy="196.0" r="1.3"/><circle cx="317.5" cy="221.7" r="1.3"/><circle cx="229.1" cy="201.9" r="1.3"/><circle cx="211.2" cy="198.8" r="1.3"/><circle cx="282.0" cy="213.5" r="1.3"/><circle cx="304.4" cy="207.2" r="1.3"/><circle cx="231.0" cy="184.6" r="1.3"/><circle cx="262.3" cy="251.7" r="1.3"/><circle cx="244.7" cy="190.8" r="1.3"/><circle cx="228.5" cy="226.2" r="1.3"/><circle cx="223.1" cy="247.4" r="1.3"/><circle cx="281.4" cy="186.6" r="1.3"/><circle cx="260.9" cy="204.3" r="1.3"/><circle cx="248.9" cy="181.7" r="1.3"/><circle cx="345.9" cy="193.7" r="1.3"/><circle cx="237.9" cy="174.7" r="1.3"/><circle cx="270.3" cy="234.6" r="1.3"/><circle cx="230.1" cy="224.7" r="1.3"/><circle cx="290.9" cy="179.9" r="1.3"/><circle cx="215.2" cy="231.3" r="1.3"/><circle cx="279.5" cy="206.8" r="1.3"/><circle cx="312.5" cy="244.5" r="1.3"/><circle cx="231.7" cy="188.2" r="1.3"/><circle cx="249.6" cy="195.3" r="1.3"/><circle cx="266.2" cy="180.2" r="1.3"/><circle cx="216.5" cy="203.1" r="1.3"/><circle cx="287.3" cy="220.2" r="1.3"/><circle cx="249.3" cy="204.1" r="1.3"/><circle cx="288.1" cy="165.4" r="1.3"/><circle cx="301.8" cy="181.8" r="1.3"/><circle cx="281.2" cy="237.0" r="1.3"/><circle cx="286.1" cy="230.6" r="1.3"/><circle cx="286.7" cy="197.9" r="1.3"/><circle cx="252.0" cy="198.6" r="1.3"/><circle cx="266.8" cy="197.7" r="1.3"/><circle cx="209.0" cy="202.5" r="1.3"/><circle cx="261.2" cy="160.3" r="1.3"/><circle cx="244.6" cy="224.1" r="1.3"/><circle cx="265.2" cy="185.6" r="1.3"/><circle cx="305.0" cy="205.6" r="1.3"/><circle cx="294.3" cy="207.7" r="1.3"/><circle cx="319.6" cy="235.1" r="1.3"/><circle cx="292.6" cy="239.6" r="1.3"/><circle cx="274.4" cy="213.6" r="1.3"/><circle cx="271.4" cy="183.7" r="1.3"/><circle cx="223.0" cy="162.6" r="1.3"/><circle cx="297.4" cy="230.8" r="1.3"/><circle cx="321.3" cy="208.4" r="1.3"/></g>
<g fill="none" stroke="#6495ed" stroke-width="1.0" class="s"><circle cx="309.0" cy="177.1" r="1.3"/><circle cx="309.5" cy="178.3" r="1.3"/><circle cx="305.2" cy="177.6" r="1.3"/><circle cx="292.4" cy="186.6" r="1.3"/><circle cx="304.1" cy="174.6" r="1.3"/><circle cx="287.6" cy="186.8" r="1.3"/><circle cx="313.8" cy="179.0" r="1.3"/><circle cx="299.3" cy="176.4" r="1.3"/><circle cx="301.8" cy="180.5" r="1.3"/><circle cx="306.8" cy="179.1" r="1.3"/><circle cx="310.4" cy="175.1" r="1.3"/><circle cx="294.9" cy="183.3" r="1.3"/><circle cx="293.1" cy="186.7" r="1.3"/><circle cx="299.2" cy="183.2" r="1.3"/><circle cx="290.6" cy="188.3" r="1.3"/><circle cx="297.6" cy="178.4" r="1.3"/><circle cx="322.1" cy="168.5" r="1.3"/><circle cx="298.1" cy="181.2" r="1.3"/><circle cx="313.4" cy="172.7" r="1.3"/><circle cx="296.8" cy="185.3" r="1.3"/><circle cx="311.9" cy="177.2" r="1.3"/><circle cx="306.8" cy="181.1" r="1.3"/><circle cx="307.3" cy="176.6" r="1.3"/><circle cx="314.6" cy="176.4" r="1.3"/><circle cx="325.3" cy="170.5" r="1.3"/><circle cx="311.6" cy="178.9" r="1.3"/><circle cx="311.3" cy="179.8" r="1.3"/><circle cx="299.8" cy="182.3" r="1.3"/><circle cx="313.3" cy="173.9" r="1.3"/><circle cx="307.4" cy="180.6" r="1.3"/><circle cx="313.9" cy="169.9" r="1.3"/><circle cx="308.4" cy="178.1" r="1.3"/><circle cx="322.9" cy="166.8" r="1.3"/><circle cx="290.7" cy="187.3" r="1.3"/><circle cx="303.6" cy="175.1" r="1.3"/><circle cx="315.0" cy="170.6" r="1.3"/><circle cx="305.4" cy="179.3" r="1.3"/><circle cx="302.7" cy="183.7" r="1.3"/><circle cx="307.4" cy="181.0" r="1.3"/><circle cx="296.3" cy="184.7" r="1.3"/><circle cx="309.3" cy="176.3" r="1.3"/><circle cx="328.7" cy="162.4" r="1.3"/><circle cx="319.0" cy="172.1" r="1.3"/><circle cx="298.5" cy="182.8" r="1.3"/><circle cx="301.6" cy="183.5" r="1.3"/><circle cx="307.2" cy="183.5" r="1.3"/><circle cx="317.2" cy="171.9" r="1.3"/><circle cx="299.4" cy="178.5" r="1.3"/><circle cx="301.3" cy="179.2" r="1.3"/><circle cx="314.3" cy="169.4" r="1.3"/><circle cx="314.4" cy="170.1" r="1.3"/><circle cx="306.9" cy="182.3" r="1.3"/><circle cx="299.0" cy="183.9" r="1.3"/><circle cx="293.0" cy="182.4" r="1.3"/><circle cx="303.2" cy="182.6" r="1.3"/><circle cx="290.7" cy="192.3" r="1.3"/><circle cx="314.5" cy="172.5" r="1.3"/><circle cx="302.1" cy="179.3" r="1.3"/><circle cx="312.2" cy="174.0" r="1.3"/><circle cx="325.1" cy="167.9" r="1.3"/><circle cx="319.5" cy="172.5" r="1.3"/><circle cx="300.0" cy="186.3" r="1.3"/><circle cx="317.6" cy="175.4" r="1.3"/><circle cx="320.1" cy="173.8" r="1.3"/><circle cx="303.7" cy="184.5" r="1.3"/><circle cx="301.0" cy="184.0" r="1.3"/><circle cx="305.5" cy="174.6" r="1.3"/><circle cx="294.3" cy="185.8" r="1.3"/><circle cx="321.7" cy="170.1" r="1.3"/><circle cx="287.0" cy="189.6" r="1.3"/><circle cx="300.0" cy="185.4" r="1.3"/><circle cx="305.6" cy="178.1" r="1.3"/><circle cx="305.3" cy="176.6" r="1.3"/><circle cx="311.8" cy="179.7" r="1.3"/><circle cx="311.7" cy="177.4" r="1.3"/><circle cx="306.9" cy="179.0" r="1.3"/><circle cx="319.6" cy="173.3" r="1.3"/><circle cx="291.2" cy="191.3" r="1.3"/><circle cx="308.9" cy="178.2" r="1.3"/><circle cx="299.0" cy="175.8" r="1.3"/><circle cx="308.7" cy="175.2" r="1.3"/><circle cx="309.8" cy="175.2" r="1.3"/><circle cx="299.2" cy="180.1" r="1.3"/><circle cx="303.1" cy="181.3" r="1.3"/><circle cx="316.9" cy="175.8" r="1.3"/><circle cx="310.9" cy="174.4" r="1.3"/><circle cx="301.1" cy="178.5" r="1.3"/><circle cx="328.9" cy="170.9" r="1.3"/><circle cx="328.0" cy="163.9" r="1.3"/><circle cx="294.1" cy="182.6" r="1.3"/><circle cx="311.4" cy="176.3" r="1.3"/><circle cx="330.9" cy="164.8" r="1.3"/><circle cx="314.4" cy="171.6" r="1.3"/><circle cx="311.4" cy="178.0" r="1.3"/><circle cx="306.0" cy="177.4" r="1.3"/><circle cx="302.5" cy="178.3" r="1.3"/><circle cx="306.8" cy="178.9" r="1.3"/><circle cx="304.7" cy="182.1" r="1.3"/><circle cx="314.1" cy="172.0" r="1.3"/><circle cx="305.4" cy="180.3" r="1.3"/><circle cx="304.5" cy="179.6" r="1.3"/><circle cx="301.6" cy="190.2" r="1.3"/><circle cx="307.1" cy="176.1" r="1.3"/><circle cx="302.5" cy="185.3" r="1.3"/><circle cx="306.8" cy="178.3" r="1.3"/><circle cx="317.4" cy="171.5" r="1.3"/><circle cx="312.6" cy="177.0" r="1.3"/><circle cx="314.0" cy="176.7" r="1.3"/><circle cx="313.2" cy="178.3" r="1.3"/><circle cx="309.4" cy="177.8" r="1.3"/><circle cx="306.6" cy="176.8" r="1.3"/><circle cx="305.1" cy="177.9" r="1.3"/><circle cx="315.7" cy="174.4" r="1.3"/><circle cx="299.8" cy="184.6" r="1.3"/><circle cx="322.0" cy="173.3" r="1.3"/><circle cx="309.3" cy="178.1" r="1.3"/><circle cx="303.3" cy="183.8" r="1.3"/><circle cx="306.2" cy="183.4" r="1.3"/><circle cx="302.8" cy="181.4" r="1.3"/><circle cx="307.9" cy="173.2" r="1.3"/><circle cx="300.7" cy="178.7" r="1.3"/><circle cx="316.6" cy="168.0" r="1.3"/><circle cx="303.7" cy="185.2" r="1.3"/><circle cx="287.6" cy="187.8" r="1.3"/><circle cx="303.7" cy="184.1" r="1.3"/><circle cx="291.7" cy="189.6" r="1.3"/><circle cx="310.3" cy="181.4" r="1.3"/><circle cx="319.0" cy="173.9" r="1.3"/><circle cx="314.0" cy="173.7" r="1.3"/><circle cx="296.5" cy="184.2" r="1.3"/><circle cx="301.9" cy="181.7" r="1.3"/><circle cx="324.2" cy="168.2" r="1.3"/><circle cx="310.6" cy="174.5" r="1.3"/><circle cx="308.5" cy="177.3" r="1.3"/><circle cx="319.8" cy="175.3" r="1.3"/><circle cx="327.6" cy="160.3" r="1.3"/><circle cx="320.1" cy="171.0" r="1.3"/><circle cx="308.5" cy="174.6" r="1.3"/><circle cx="311.8" cy="175.9" r="1.3"/><circle cx="314.9" cy="175.9" r="1.3"/><circle cx="303.0" cy="180.6" r="1.3"/><circle cx="300.2" cy="184.8" r="1.3"/><circle cx="306.9" cy="173.6" r="1.3"/><circle cx="301.6" cy="185.0" r="1.3"/><circle cx="307.1" cy="176.4" r="1.3"/><circle cx="310.1" cy="178.3" r="1.3"/><circle cx="329.1" cy="165.1" r="1.3"/><circle cx="297.7" cy="176.2" r="1.3"/><circle cx="306.4" cy="176.4" r="1.3"/><circle cx="307.3" cy="178.8" r="1.3"/><circle cx="314.3" cy="178.5" r="1.3"/><circle cx="318.0" cy="172.4" r="1.3"/><circle cx="304.5" cy="180.6" r="1.3"/><circle cx="299.5" cy="178.7" r="1.3"/><circle cx="296.0" cy="189.5" r="1.3"/><circle cx="302.7" cy="186.4" r="1.3"/><circle cx="313.2" cy="174.6" r="1.3"/><circle cx="308.6" cy="176.7" r="1.3"/><circle cx="297.5" cy="179.3" r="1.3"/><circle cx="306.4" cy="181.4" r="1.3"/><circle cx="338.5" cy="166.0" r="1.3"/><circle cx="318.1" cy="177.2" r="1.3"/><circle cx="321.4" cy="170.2" r="1.3"/><circle cx="311.0" cy="169.1" r="1.3"/><circle cx="300.2" cy="186.2" r="1.3"/><circle cx="320.0" cy="166.1" r="1.3"/><circle cx="289.9" cy="174.2" r="1.3"/><circle cx="313.4" cy="190.8" r="1.3"/><circle cx="313.0" cy="178.7" r="1.3"/><circle cx="321.8" cy="179.7" r="1.3"/><circle cx="310.3" cy="170.9" r="1.3"/><circle cx="316.0" cy="181.3" r="1.3"/><circle cx="304.8" cy="188.9" r="1.3"/><circle cx="299.5" cy="192.0" r="1.3"/><circle cx="309.0" cy="176.9" r="1.3"/><circle cx="298.4" cy="176.6" r="1.3"/><circle cx="295.0" cy="184.7" r="1.3"/><circle cx="290.4" cy="175.8" r="1.3"/><circle cx="299.3" cy="173.1" r="1.3"/><circle cx="290.2" cy="189.2" r="1.3"/><circle cx="292.6" cy="181.5" r="1.3"/><circle cx="291.8" cy="186.8" r="1.3"/><circle cx="310.0" cy="175.8" r="1.3"/><circle cx="317.3" cy="183.2" r="1.3"/><circle cx="331.7" cy="170.6" r="1.3"/><circle cx="293.4" cy="186.5" r="1.3"/><circle cx="304.7" cy="186.8" r="1.3"/><circle cx="315.6" cy="168.4" r="1.3"/><circle cx="305.5" cy="177.3" r="1.3"/><circle cx="307.5" cy="183.3" r="1.3"/><circle cx="322.4" cy="161.5" r="1.3"/><circle cx="304.4" cy="178.3" r="1.3"/><circle cx="293.7" cy="178.9" r="1.3"/><circle cx="295.6" cy="186.0" r="1.3"/><circle cx="315.9" cy="182.3" r="1.3"/><circle cx="309.6" cy="172.3" r="1.3"/><circle cx="295.4" cy="186.8" r="1.3"/><circle cx="296.4" cy="179.6" r="1.3"/><circle cx="310.9" cy="169.2" r="1.3"/><circle cx="311.1" cy="168.5" r="1.3"/><circle cx="305.7" cy="187.6" r="1.3"/><circle cx="320.6" cy="183.7" r="1.3"/><circle cx="315.4" cy="175.9" r="1.3"/><circle cx="288.9" cy="185.4" r="1.3"/><circle cx="307.1" cy="182.3" r="1.3"/><circle cx="311.8" cy="173.4" r="1.3"/><circle cx="304.8" cy="184.4" r="1.3"/><circle cx="287.9" cy="191.9" r="1.3"/><circle cx="306.3" cy="180.3" r="1.3"/><circle cx="317.5" cy="175.4" r="1.3"/><circle cx="322.8" cy="165.1" r="1.3"/><circle cx="285.6" cy="189.2" r="1.3"/><circle cx="330.2" cy="153.9" r="1.3"/><circle cx="296.1" cy="182.5" r="1.3"/><circle cx="314.4" cy="165.4" r="1.3"/><circle cx="222.5" cy="231.5" r="1.3"/><circle cx="217.8" cy="238.7" r="1.3"/><circle cx="225.7" cy="232.7" r="1.3"/><circle cx="226.4" cy="227.2" r="1.3"/><circle cx="213.0" cy="238.9" r="1.3"/><circle cx="217.4" cy="235.3" r="1.3"/><circle cx="213.4" cy="230.4" r="1.3"/><circle cx="229.9" cy="227.8" r="1.3"/><circle cx="237.3" cy="222.9" r="1.3"/><circle cx="230.2" cy="226.5" r="1.3"/><circle cx="218.6" cy="228.6" r="1.3"/><circle cx="235.3" cy="223.9" r="1.3"/><circle cx="212.1" cy="239.0" r="1.3"/><circle cx="236.3" cy="225.1" r="1.3"/><circle cx="217.1" cy="231.6" r="1.3"/><circle cx="203.1" cy="247.0" r="1.3"/><circle cx="243.3" cy="215.6" r="1.3"/><circle cx="236.4" cy="223.7" r="1.3"/><circle cx="218.2" cy="240.8" r="1.3"/><circle cx="224.4" cy="229.0" r="1.3"/><circle cx="221.6" cy="231.4" r="1.3"/><circle cx="226.8" cy="234.7" r="1.3"/><circle cx="211.7" cy="237.8" r="1.3"/><circle cx="218.3" cy="234.2" r="1.3"/><circle cx="228.3" cy="230.3" r="1.3"/><circle cx="227.8" cy="234.0" r="1.3"/><circle cx="230.0" cy="219.5" r="1.3"/><circle cx="223.4" cy="229.0" r="1.3"/><circle cx="241.2" cy="217.7" r="1.3"/><circle cx="216.7" cy="232.0" r="1.3"/><circle cx="224.8" cy="228.1" r="1.3"/><circle cx="207.5" cy="238.5" r="1.3"/><circle cx="214.7" cy="238.8" r="1.3"/><circle cx="233.3" cy="222.9" r="1.3"/><circle cx="216.9" cy="236.7" r="1.3"/><circle cx="229.1" cy="230.6" r="1.3"/><circle cx="222.5" cy="230.0" r="1.3"/><circle cx="216.1" cy="237.3" r="1.3"/><circle cx="224.2" cy="238.5" r="1.3"/><circle cx="220.6" cy="235.3" r="1.3"/><circle cx="219.2" cy="232.3" r="1.3"/><circle cx="230.1" cy="228.1" r="1.3"/><circle cx="227.9" cy="226.0" r="1.3"/><circle cx="220.1" cy="235.5" r="1.3"/><circle cx="218.4" cy="238.8" r="1.3"/><circle cx="225.1" cy="228.1" r="1.3"/><circle cx="223.1" cy="231.7" r="1.3"/><circle cx="234.3" cy="230.4" r="1.3"/><circle cx="244.5" cy="217.8" r="1.3"/><circle cx="231.2" cy="228.5" r="1.3"/><circle cx="222.2" cy="229.0" r="1.3"/><circle cx="221.5" cy="230.3" r="1.3"/><circle cx="216.5" cy="234.4" r="1.3"/><circle cx="220.6" cy="242.6" r="1.3"/><circle cx="215.5" cy="235.5" r="1.3"/><circle cx="220.2" cy="232.2" r="1.3"/><circle cx="219.9" cy="232.3" r="1.3"/><circle cx="229.9" cy="227.9" r="1.3"/><circle cx="222.1" cy="235.7" r="1.3"/><circle cx="222.9" cy="233.4" r="1.3"/><circle cx="217.9" cy="243.7" r="1.3"/><circle cx="237.7" cy="224.7" r="1.3"/><circle cx="230.6" cy="233.8" r="1.3"/><circle cx="238.9" cy="224.2" r="1.3"/><circle cx="231.5" cy="229.9" r="1.3"/><circle cx="233.7" cy="220.6" r="1.3"/><circle cx="222.0" cy="232.7" r="1.3"/><circle cx="229.8" cy="228.3" r="1.3"/><circle cx="245.4" cy="218.3" r="1.3"/><circle cx="210.9" cy="231.4" r="1.3"/><circle cx="235.0" cy="228.9" r="1.3"/><circle cx="237.1" cy="222.7" r="1.3"/><circle cx="226.8" cy="228.6" r="1.3"/><circle cx="229.9" cy="227.5" r="1.3"/><circle cx="234.0" cy="225.2" r="1.3"/><circle cx="219.5" cy="236.3" r="1.3"/><circle cx="225.4" cy="226.2" r="1.3"/><circle cx="215.6" cy="233.4" r="1.3"/><circle cx="219.2" cy="236.0" r="1.3"/><circle cx="219.4" cy="235.3" r="1.3"/><circle cx="222.4" cy="231.5" r="1.3"/><circle cx="224.5" cy="229.5" r="1.3"/><circle cx="226.5" cy="227.2" r="1.3"/><circle cx="212.5" cy="238.6" r="1.3"/><circle cx="242.3" cy="225.7" r="1.3"/><circle cx="231.9" cy="223.2" r="1.3"/><circle cx="232.6" cy="232.9" r="1.3"/><circle cx="222.7" cy="236.1" r="1.3"/><circle cx="222.7" cy="231.0" r="1.3"/><circle cx="230.0" cy="231.5" r="1.3"/><circle cx="225.1" cy="225.6" r="1.3"/><circle cx="207.6" cy="235.0" r="1.3"/><circle cx="228.1" cy="224.5" r="1.3"/><circle cx="247.3" cy="216.5" r="1.3"/><circle cx="208.6" cy="239.9" r="1.3"/><circle cx="231.5" cy="225.5" r="1.3"/><circle cx="227.4" cy="230.4" r="1.3"/><circle cx="219.8" cy="226.2" r="1.3"/><circle cx="236.2" cy="226.7" r="1.3"/><circle cx="212.2" cy="233.5" r="1.3"/><circle cx="224.4" cy="229.2" r="1.3"/><circle cx="235.5" cy="223.6" r="1.3"/><circle cx="220.7" cy="229.5" r="1.3"/><circle cx="218.5" cy="229.9" r="1.3"/><circle cx="223.5" cy="228.4" r="1.3"/><circle cx="220.5" cy="234.0" r="1.3"/><circle cx="237.8" cy="226.1" r="1.3"/><circle cx="217.7" cy="238.0" r="1.3"/><circle cx="229.7" cy="224.7" r="1.3"/><circle cx="212.6" cy="235.7" r="1.3"/><circle cx="228.2" cy="225.9" r="1.3"/><circle cx="224.1" cy="233.7" r="1.3"/><circle cx="199.7" cy="238.5" r="1.3"/><circle cx="226.2" cy="235.6" r="1.3"/><circle cx="214.7" cy="235.7" r="1.3"/><circle cx="219.3" cy="231.8" r="1.3"/><circle cx="237.4" cy="225.4" r="1.3"/><circle cx="216.8" cy="240.4" r="1.3"/><circle cx="216.1" cy="238.1" r="1.3"/><circle cx="237.7" cy="228.0" r="1.3"/><circle cx="225.4" cy="231.7" r="1.3"/><circle cx="238.9" cy="228.0" r="1.3"/><circle cx="228.9" cy="234.0" r="1.3"/><circle cx="216.8" cy="235.9" r="1.3"/><circle cx="226.0" cy="236.5" r="1.3"/><circle cx="234.5" cy="226.4" r="1.3"/><circle cx="232.1" cy="227.6" r="1.3"/><circle cx="222.7" cy="229.2" r="1.3"/><circle cx="224.1" cy="230.8" r="1.3"/><circle cx="224.6" cy="234.7" r="1.3"/><circle cx="217.3" cy="230.9" r="1.3"/><circle cx="241.1" cy="224.4" r="1.3"/><circle cx="224.8" cy="232.9" r="1.3"/><circle cx="215.4" cy="238.2" r="1.3"/><circle cx="216.7" cy="227.7" r="1.3"/><circle cx="230.0" cy="228.0" r="1.3"/><circle cx="230.5" cy="230.7" r="1.3"/><circle cx="221.8" cy="230.3" r="1.3"/><circle cx="218.9" cy="235.4" r="1.3"/><circle cx="220.5" cy="224.8" r="1.3"/><circle cx="211.6" cy="242.1" r="1.3"/><circle cx="212.4" cy="236.3" r="1.3"/><circle cx="232.2" cy="230.6" r="1.3"/><circle cx="217.2" cy="228.8" r="1.3"/><circle cx="228.4" cy="232.1" r="1.3"/><circle cx="233.8" cy="225.3" r="1.3"/><circle cx="230.9" cy="231.1" r="1.3"/><circle cx="222.8" cy="229.1" r="1.3"/><circle cx="240.6" cy="219.7" r="1.3"/><circle cx="233.4" cy="235.2" r="1.3"/><circle cx="219.0" cy="240.9" r="1.3"/><circle cx="214.9" cy="230.7" r="1.3"/><circle cx="215.9" cy="223.1" r="1.3"/><circle cx="217.5" cy="242.4" r="1.3"/><circle cx="233.3" cy="221.9" r="1.3"/><circle cx="239.3" cy="221.0" r="1.3"/><circle cx="214.0" cy="229.1" r="1.3"/><circle cx="204.7" cy="235.1" r="1.3"/><circle cx="231.9" cy="219.9" r="1.3"/><circle cx="233.5" cy="224.1" r="1.3"/><circle cx="232.8" cy="229.1" r="1.3"/><circle cx="228.8" cy="214.6" r="1.3"/><circle cx="218.2" cy="240.3" r="1.3"/><circle cx="219.5" cy="227.2" r="1.3"/><circle cx="208.6" cy="234.4" r="1.3"/><circle cx="212.9" cy="242.9" r="1.3"/><circle cx="233.1" cy="226.1" r="1.3"/><circle cx="213.9" cy="228.3" r="1.3"/><circle cx="250.1" cy="228.1" r="1.3"/><circle cx="222.6" cy="227.4" r="1.3"/><circle cx="219.0" cy="236.6" r="1.3"/><circle cx="232.1" cy="228.5" r="1.3"/><circle cx="244.6" cy="228.7" r="1.3"/><circle cx="227.5" cy="227.1" r="1.3"/><circle cx="215.7" cy="243.4" r="1.3"/><circle cx="225.7" cy="226.3" r="1.3"/><circle cx="239.9" cy="229.7" r="1.3"/><circle cx="217.6" cy="231.0" r="1.3"/><circle cx="216.1" cy="234.4" r="1.3"/><circle cx="238.6" cy="235.3" r="1.3"/><circle cx="226.3" cy="232.6" r="1.3"/><circle cx="214.3" cy="238.5" r="1.3"/><circle cx="226.7" cy="244.7" r="1.3"/><circle cx="218.2" cy="237.8" r="1.3"/><circle cx="224.8" cy="226.4" r="1.3"/><circle cx="227.2" cy="234.8" r="1.3"/><circle cx="231.7" cy="219.9" r="1.3"/><circle cx="233.8" cy="233.4" r="1.3"/><circle cx="213.0" cy="246.2" r="1.3"/><circle cx="226.4" cy="226.9" r="1.3"/><circle cx="230.8" cy="224.0" r="1.3"/><circle cx="228.9" cy="230.2" r="1.3"/><circle cx="233.7" cy="226.3" r="1.3"/><circle cx="216.5" cy="230.3" r="1.3"/><circle cx="216.9" cy="239.8" r="1.3"/><circle cx="194.6" cy="253.8" r="1.3"/><circle cx="201.6" cy="248.6" r="1.3"/><circle cx="206.7" cy="249.4" r="1.3"/><circle cx="340.2" cy="159.2" r="1.3"/><circle cx="336.9" cy="155.8" r="1.3"/></g>
<g fill="none" stroke="#fa8072" stroke-width="1.0" class="s"><circle cx="450.2" cy="196.9" r="1.3"/><circle cx="435.3" cy="213.9" r="1.3"/><circle cx="426.3" cy="180.7" r="1.3"/><circle cx="455.0" cy="183.4" r="1.3"/><circle cx="423.6" cy="205.8" r="1.3"/><circle cx="455.5" cy="198.5" r="1.3"/><circle cx="411.3" cy="230.2" r="1.3"/><circle cx="424.1" cy="208.8" r="1.3"/><circle cx="415.0" cy="212.4" r="1.3"/><circle cx="462.5" cy="233.0" r="1.3"/><circle cx="409.9" cy="194.9" r="1.3"/><circle cx="420.4" cy="203.3" r="1.3"/><circle cx="451.4" cy="186.6" r="1.3"/><circle cx="443.9" cy="207.7" r="1.3"/><circle cx="477.7" cy="220.9" r="1.3"/><circle cx="471.7" cy="226.6" r="1.3"/><circle cx="450.6" cy="202.8" r="1.3"/><circle cx="451.9" cy="191.3" r="1.3"/><circle cx="408.6" cy="190.4" r="1.3"/><circle cx="424.8" cy="179.8" r="1.3"/><circle cx="434.3" cy="205.4" r="1.3"/><circle cx="436.9" cy="226.4" r="1.3"/><circle cx="416.3" cy="163.2" r="1.3"/><circle cx="424.0" cy="166.5" r="1.3"/><circle cx="425.4" cy="227.2" r="1.3"/><circle cx="458.3" cy="176.1" r="1.3"/><circle cx="447.3" cy="209.0" r="1.3"/><circle cx="434.3" cy="182.1" r="1.3"/><circle cx="435.3" cy="216.7" r="1.3"/><circle cx="445.0" cy="216.7" r="1.3"/><circle cx="428.0" cy="206.3" r="1.3"/><circle cx="435.5" cy="217.4" r="1.3"/><circle cx="410.4" cy="204.3" r="1.3"/><circle cx="451.5" cy="213.0" r="1.3"/><circle cx="456.5" cy="234.4" r="1.3"/><circle cx="446.2" cy="222.1" r="1.3"/><circle cx="448.2" cy="192.3" r="1.3"/><circle cx="446.3" cy="189.8" r="1.3"/><circle cx="475.1" cy="199.4" r="1.3"/><circle cx="443.5" cy="199.6" r="1.3"/><circle cx="417.2" cy="204.7" r="1.3"/><circle cx="421.9" cy="193.2" r="1.3"/><circle cx="452.2" cy="214.6" r="1.3"/><circle cx="458.4" cy="204.2" r="1.3"/><circle cx="453.3" cy="209.7" r="1.3"/><circle cx="454.5" cy="203.6" r="1.3"/><circle cx="443.2" cy="214.0" r="1.3"/><circle cx="414.3" cy="183.2" r="1.3"/><circle cx="427.8" cy="230.4" r="1.3"/><circle cx="408.8" cy="209.4" r="1.3"/><circle cx="433.3" cy="211.2" r="1.3"/><circle cx="416.5" cy="214.0" r="1.3"/><circle cx="441.6" cy="222.0" r="1.3"/><circle cx="437.0" cy="216.1" r="1.3"/><circle cx="406.4" cy="207.6" r="1.3"/><circle cx="452.6" cy="200.5" r="1.3"/><circle cx="453.1" cy="175.7" r="1.3"/><circle cx="416.0" cy="207.3" r="1.3"/><circle cx="442.4" cy="198.3" r="1.3"/><circle cx="452.3" cy="198.3" r="1.3"/><circle cx="434.9" cy="244.5" r="1.3"/><circle cx="454.7" cy="172.1" r="1.3"/><circle cx="443.2" cy="204.6" r="1.3"/><circle cx="458.4" cy="224.3" r="1.3"/><circle cx="443.1" cy="220.0" r="1.3"/><circle cx="437.0" cy="224.7" r="1.3"/><circle cx="448.7" cy="182.1" r="1.3"/><circle cx="453.4" cy="187.4" r="1.3"/><circle cx="444.2" cy="214.2" r="1.3"/><circle cx="432.1" cy="198.7" r="1.3"/><circle cx="426.2" cy="232.8" r="1.3"/><circle cx="433.4" cy="207.6" r="1.3"/><circle cx="429.9" cy="207.1" r="1.3"/><circle cx="443.4" cy="211.2" r="1.3"/><circle cx="442.8" cy="199.1" r="1.3"/><circle cx="438.3" cy="205.8" r="1.3"/><circle cx="439.8" cy="192.3" r="1.3"/><circle cx="442.8" cy="203.1" r="1.3"/><circle cx="466.9" cy="195.6" r="1.3"/><circle cx="460.6" cy="208.1" r="1.3"/><circle cx="429.8" cy="179.7" r="1.3"/><circle cx="447.1" cy="178.4" r="1.3"/><circle cx="434.1" cy="211.6" r="1.3"/><circle cx="438.1" cy="207.7" r="1.3"/><circle cx="435.5" cy="187.4" r="1.3"/><circle cx="428.9" cy="200.0" r="1.3"/><circle cx="416.2" cy="186.0" r="1.3"/><circle cx="397.1" cy="238.5" r="1.3"/><circle cx="443.2" cy="177.3" r="1.3"/><circle cx="460.2" cy="233.0" r="1.3"/><circle cx="424.0" cy="189.9" r="1.3"/><circle cx="448.5" cy="211.0" r="1.3"/><circle cx="433.0" cy="199.4" r="1.3"/><circle cx="444.6" cy="197.4" r="1.3"/><circle cx="425.7" cy="219.8" r="1.3"/><circle cx="435.7" cy="217.7" r="1.3"/><circle cx="437.8" cy="199.0" r="1.3"/><circle cx="398.4" cy="188.4" r="1.3"/><circle cx="443.4" cy="239.1" r="1.3"/><circle cx="437.3" cy="227.7" r="1.3"/><circle cx="396.6" cy="206.3" r="1.3"/><circle cx="450.9" cy="198.8" r="1.3"/><circle cx="439.1" cy="208.9" r="1.3"/><circle cx="443.2" cy="205.3" r="1.3"/><circle cx="445.9" cy="224.2" r="1.3"/><circle cx="432.4" cy="187.5" r="1.3"/><circle cx="420.9" cy="204.3" r="1.3"/><circle cx="431.9" cy="190.6" r="1.3"/><circle cx="432.2" cy="226.1" r="1.3"/><circle cx="478.2" cy="234.6" r="1.3"/><circle cx="471.7" cy="202.4" r="1.3"/><circle cx="431.1" cy="213.1" r="1.3"/><circle cx="432.4" cy="227.8" r="1.3"/><circle cx="445.2" cy="198.8" r="1.3"/><circle cx="449.4" cy="188.1" r="1.3"/><circle cx="427.5" cy="221.6" r="1.3"/><circle cx="422.1" cy="212.5" r="1.3"/><circle cx="473.2" cy="200.4" r="1.3"/><circle cx="457.9" cy="228.8" r="1.3"/><circle cx="412.5" cy="208.0" r="1.3"/><circle cx="408.8" cy="173.7" r="1.3"/><circle cx="425.1" cy="209.8" r="1.3"/><circle cx="443.4" cy="202.9" r="1.3"/><circle cx="449.1" cy="235.9" r="1.3"/><circle cx="433.6" cy="203.7" r="1.3"/><circle cx="411.3" cy="200.4" r="1.3"/><circle cx="443.3" cy="211.4" r="1.3"/><circle cx="450.0" cy="208.1" r="1.3"/><circle cx="439.5" cy="180.0" r="1.3"/><circle cx="430.9" cy="206.0" r="1.3"/><circle cx="449.5" cy="198.4" r="1.3"/><circle cx="438.5" cy="227.8" r="1.3"/><circle cx="419.9" cy="244.8" r="1.3"/><circle cx="441.1" cy="185.0" r="1.3"/><circle cx="416.9" cy="187.5" r="1.3"/><circle cx="456.3" cy="189.6" r="1.3"/><circle cx="447.7" cy="192.8" r="1.3"/><circle cx="422.1" cy="192.2" r="1.3"/><circle cx="443.2" cy="204.9" r="1.3"/><circle cx="461.3" cy="222.5" r="1.3"/><circle cx="402.0" cy="181.9" r="1.3"/><circle cx="437.0" cy="177.8" r="1.3"/><circle cx="468.3" cy="172.7" r="1.3"/><circle cx="412.3" cy="222.8" r="1.3"/><circle cx="436.5" cy="226.5" r="1.3"/><circle cx="414.5" cy="177.9" r="1.3"/><circle cx="438.3" cy="176.2" r="1.3"/><circle cx="397.4" cy="206.2" r="1.3"/><circle cx="411.0" cy="222.6" r="1.3"/><circle cx="430.0" cy="221.2" r="1.3"/><circle cx="441.9" cy="207.3" r="1.3"/><circle cx="446.1" cy="215.6" r="1.3"/><circle cx="446.9" cy="209.6" r="1.3"/><circle cx="459.6" cy="194.6" r="1.3"/><circle cx="451.7" cy="236.4" r="1.3"/><circle cx="452.4" cy="204.0" r="1.3"/><circle cx="422.2" cy="185.1" r="1.3"/><circle cx="436.7" cy="196.0" r="1.3"/><circle cx="495.4" cy="177.8" r="1.3"/><circle cx="479.3" cy="204.3" r="1.3"/><circle cx="454.0" cy="222.6" r="1.3"/><circle cx="452.5" cy="182.5" r="1.3"/><circle cx="456.9" cy="223.2" r="1.3"/><circle cx="432.4" cy="239.6" r="1.3"/><circle cx="474.0" cy="210.4" r="1.3"/><circle cx="432.8" cy="184.3" r="1.3"/><circle cx="438.0" cy="189.5" r="1.3"/><circle cx="477.8" cy="198.3" r="1.3"/><circle cx="402.8" cy="182.2" r="1.3"/><circle cx="445.8" cy="182.8" r="1.3"/><circle cx="409.1" cy="199.6" r="1.3"/><circle cx="427.9" cy="200.9" r="1.3"/><circle cx="437.8" cy="214.3" r="1.3"/><circle cx="433.2" cy="183.6" r="1.3"/><circle cx="442.5" cy="235.9" r="1.3"/><circle cx="425.9" cy="222.1" r="1.3"/><circle cx="437.6" cy="219.2" r="1.3"/><circle cx="418.5" cy="192.9" r="1.3"/><circle cx="432.6" cy="233.6" r="1.3"/><circle cx="414.9" cy="198.2" r="1.3"/><circle cx="451.1" cy="234.9" r="1.3"/><circle cx="416.5" cy="222.2" r="1.3"/><circle cx="451.7" cy="188.8" r="1.3"/><circle cx="432.1" cy="196.3" r="1.3"/><circle cx="434.1" cy="235.8" r="1.3"/><circle cx="460.4" cy="221.1" r="1.3"/><circle cx="441.4" cy="201.4" r="1.3"/><circle cx="405.9" cy="207.5" r="1.3"/><circle cx="448.3" cy="207.4" r="1.3"/><circle cx="388.0" cy="190.9" r="1.3"/><circle cx="444.2" cy="200.6" r="1.3"/><circle cx="432.3" cy="192.8" r="1.3"/><circle cx="414.6" cy="196.7" r="1.3"/><circle cx="440.9" cy="212.0" r="1.3"/><circle cx="434.0" cy="187.7" r="1.3"/><circle cx="475.1" cy="216.4" r="1.3"/><circle cx="431.7" cy="205.9" r="1.3"/><circle cx="474.0" cy="217.0" r="1.3"/><circle cx="464.1" cy="219.2" r="1.3"/><circle cx="428.6" cy="225.2" r="1.3"/><circle cx="424.9" cy="214.7" r="1.3"/><circle cx="463.0" cy="216.1" r="1.3"/><circle cx="437.0" cy="201.0" r="1.3"/><circle cx="442.3" cy="213.7" r="1.3"/><circle cx="434.9" cy="188.7" r="1.3"/><circle cx="417.9" cy="199.8" r="1.3"/><circle cx="432.8" cy="216.8" r="1.3"/><circle cx="422.4" cy="203.1" r="1.3"/><circle cx="412.2" cy="211.6" r="1.3"/><circle cx="434.2" cy="186.0" r="1.3"/><circle cx="471.3" cy="227.3" r="1.3"/><circle cx="468.3" cy="194.2" r="1.3"/><circle cx="438.4" cy="210.8" r="1.3"/><circle cx="441.9" cy="203.6" r="1.3"/><circle cx="448.6" cy="219.9" r="1.3"/><circle cx="463.8" cy="197.5" r="1.3"/><circle cx="445.2" cy="187.0" r="1.3"/><circle cx="430.9" cy="171.7" r="1.3"/><circle cx="432.5" cy="198.8" r="1.3"/><circle cx="459.7" cy="183.7" r="1.3"/><circle cx="486.0" cy="213.1" r="1.3"/><circle cx="428.3" cy="228.6" r="1.3"/><circle cx="402.8" cy="166.1" r="1.3"/><circle cx="454.0" cy="182.0" r="1.3"/><circle cx="438.1" cy="209.3" r="1.3"/><circle cx="442.0" cy="225.1" r="1.3"/><circle cx="461.6" cy="209.2" r="1.3"/><circle cx="440.7" cy="209.5" r="1.3"/><circle cx="415.7" cy="212.6" r="1.3"/><circle cx="404.3" cy="213.8" r="1.3"/><circle cx="438.6" cy="232.0" r="1.3"/><circle cx="418.7" cy="214.5" r="1.3"/><circle cx="444.7" cy="182.9" r="1.3"/><circle cx="416.6" cy="196.0" r="1.3"/><circle cx="433.2" cy="207.6" r="1.3"/><circle cx="413.1" cy="190.2" r="1.3"/><circle cx="433.0" cy="199.6" r="1.3"/><circle cx="431.5" cy="195.0" r="1.3"/><circle cx="450.1" cy="192.0" r="1.3"/><circle cx="463.6" cy="215.8" r="1.3"/><circle cx="436.2" cy="197.4" r="1.3"/><circle cx="424.0" cy="185.4" r="1.3"/><circle cx="474.6" cy="191.8" r="1.3"/><circle cx="446.0" cy="204.6" r="1.3"/><circle cx="450.5" cy="240.1" r="1.3"/><circle cx="450.4" cy="208.4" r="1.3"/><circle cx="465.6" cy="229.4" r="1.3"/><circle cx="457.6" cy="212.5" r="1.3"/><circle cx="451.7" cy="167.3" r="1.3"/><circle cx="453.3" cy="210.5" r="1.3"/><circle cx="424.1" cy="189.4" r="1.3"/><circle cx="428.6" cy="180.9" r="1.3"/><circle cx="437.6" cy="185.6" r="1.3"/><circle cx="441.2" cy="234.6" r="1.3"/><circle cx="439.9" cy="177.0" r="1.3"/><circle cx="445.1" cy="193.4" r="1.3"/><circle cx="440.0" cy="223.8" r="1.3"/><circle cx="431.9" cy="215.4" r="1.3"/><circle cx="410.4" cy="174.7" r="1.3"/><circle cx="454.5" cy="202.1" r="1.3"/><circle cx="450.1" cy="195.2" r="1.3"/><circle cx="423.8" cy="200.6" r="1.3"/><circle cx="448.5" cy="216.8" r="1.3"/><circle cx="446.6" cy="194.1" r="1.3"/><circle cx="440.8" cy="198.5" r="1.3"/><circle cx="406.5" cy="229.0" r="1.3"/><circle cx="417.9" cy="172.4" r="1.3"/><circle cx="428.7" cy="197.6" r="1.3"/><circle cx="468.5" cy="212.0" r="1.3"/><circle cx="424.1" cy="182.6" r="1.3"/><circle cx="433.3" cy="193.2" r="1.3"/><circle cx="419.6" cy="181.5" r="1.3"/><circle cx="430.7" cy="206.6" r="1.3"/><circle cx="445.7" cy="193.3" r="1.3"/><circle cx="402.3" cy="217.4" r="1.3"/><circle cx="388.6" cy="221.4" r="1.3"/><circle cx="451.4" cy="204.8" r="1.3"/><circle cx="440.2" cy="197.5" r="1.3"/><circle cx="428.7" cy="208.4" r="1.3"/><circle cx="456.9" cy="204.9" r="1.3"/><circle cx="457.0" cy="183.1" r="1.3"/><circle cx="401.9" cy="222.3" r="1.3"/><circle cx="436.5" cy="207.8" r="1.3"/><circle cx="459.4" cy="217.5" r="1.3"/><circle cx="427.5" cy="180.6" r="1.3"/><circle cx="433.9" cy="219.0" r="1.3"/><circle cx="456.7" cy="240.0" r="1.3"/><circle cx="434.7" cy="214.5" r="1.3"/><circle cx="418.0" cy="179.1" r="1.3"/><circle cx="427.2" cy="204.6" r="1.3"/><circle cx="415.7" cy="202.9" r="1.3"/><circle cx="449.5" cy="207.7" r="1.3"/><circle cx="408.5" cy="199.9" r="1.3"/><circle cx="457.5" cy="212.4" r="1.3"/><circle cx="409.9" cy="196.0" r="1.3"/><circle cx="440.3" cy="207.9" r="1.3"/><circle cx="413.2" cy="192.1" r="1.3"/><circle cx="433.8" cy="205.6" r="1.3"/><circle cx="457.9" cy="221.0" r="1.3"/><circle cx="459.7" cy="195.5" r="1.3"/><circle cx="463.0" cy="215.3" r="1.3"/><circle cx="437.9" cy="188.7" r="1.3"/><circle cx="441.5" cy="197.5" r="1.3"/><circle cx="443.7" cy="199.8" r="1.3"/><circle cx="450.6" cy="225.3" r="1.3"/><circle cx="432.3" cy="190.8" r="1.3"/><circle cx="459.3" cy="224.8" r="1.3"/><circle cx="445.4" cy="178.8" r="1.3"/><circle cx="460.1" cy="201.2" r="1.3"/><circle cx="448.1" cy="219.5" r="1.3"/><circle cx="451.7" cy="215.8" r="1.3"/><circle cx="426.4" cy="186.6" r="1.3"/><circle cx="432.0" cy="182.9" r="1.3"/><circle cx="416.3" cy="218.9" r="1.3"/><circle cx="434.2" cy="182.2" r="1.3"/><circle cx="436.4" cy="213.8" r="1.3"/><circle cx="454.6" cy="194.9" r="1.3"/><circle cx="416.9" cy="203.7" r="1.3"/><circle cx="497.7" cy="243.6" r="1.3"/><circle cx="437.3" cy="230.5" r="1.3"/><circle cx="462.2" cy="218.3" r="1.3"/><circle cx="458.2" cy="180.2" r="1.3"/><circle cx="394.2" cy="209.3" r="1.3"/><circle cx="434.8" cy="204.8" r="1.3"/><circle cx="466.0" cy="202.1" r="1.3"/><circle cx="395.9" cy="226.8" r="1.3"/><circle cx="453.4" cy="174.3" r="1.3"/><circle cx="423.0" cy="209.3" r="1.3"/><circle cx="431.1" cy="206.0" r="1.3"/><circle cx="443.6" cy="190.9" r="1.3"/><circle cx="405.9" cy="233.5" r="1.3"/><circle cx="443.0" cy="182.0" r="1.3"/><circle cx="427.9" cy="204.3" r="1.3"/><circle cx="426.0" cy="205.2" r="1.3"/><circle cx="452.1" cy="166.1" r="1.3"/><circle cx="502.6" cy="179.2" r="1.3"/><circle cx="445.7" cy="187.1" r="1.3"/><circle cx="449.5" cy="217.3" r="1.3"/><circle cx="438.6" cy="220.1" r="1.3"/><circle cx="426.5" cy="214.0" r="1.3"/><circle cx="444.2" cy="207.9" r="1.3"/><circle cx="466.8" cy="166.0" r="1.3"/><circle cx="442.9" cy="207.5" r="1.3"/><circle cx="455.5" cy="194.9" r="1.3"/><circle cx="435.4" cy="223.9" r="1.3"/><circle cx="484.8" cy="226.9" r="1.3"/><circle cx="409.8" cy="242.3" r="1.3"/><circle cx="450.0" cy="216.0" r="1.3"/><circle cx="449.2" cy="217.8" r="1.3"/><circle cx="444.3" cy="186.0" r="1.3"/><circle cx="419.4" cy="205.1" r="1.3"/><circle cx="419.0" cy="182.5" r="1.3"/><circle cx="435.2" cy="219.2" r="1.3"/><circle cx="441.2" cy="183.2" r="1.3"/><circle cx="417.6" cy="200.1" r="1.3"/><circle cx="420.2" cy="189.6" r="1.3"/><circle cx="449.5" cy="195.7" r="1.3"/><circle cx="458.0" cy="211.6" r="1.3"/><circle cx="429.3" cy="194.0" r="1.3"/><circle cx="426.8" cy="207.5" r="1.3"/><circle cx="426.3" cy="186.4" r="1.3"/><circle cx="484.0" cy="227.8" r="1.3"/><circle cx="448.2" cy="192.6" r="1.3"/><circle cx="438.2" cy="221.1" r="1.3"/><circle cx="457.5" cy="240.5" r="1.3"/><circle cx="480.7" cy="161.7" r="1.3"/><circle cx="460.5" cy="186.6" r="1.3"/><circle cx="413.7" cy="200.1" r="1.3"/><circle cx="437.8" cy="223.9" r="1.3"/><circle cx="432.1" cy="195.3" r="1.3"/><circle cx="433.2" cy="210.2" r="1.3"/><circle cx="417.4" cy="191.1" r="1.3"/><circle cx="432.3" cy="213.4" r="1.3"/><circle cx="419.8" cy="182.7" r="1.3"/><circle cx="445.4" cy="218.1" r="1.3"/><circle cx="413.8" cy="171.0" r="1.3"/><circle cx="408.5" cy="235.1" r="1.3"/><circle cx="430.7" cy="206.6" r="1.3"/><circle cx="451.0" cy="188.2" r="1.3"/><circle cx="448.2" cy="241.7" r="1.3"/><circle cx="438.1" cy="221.8" r="1.3"/><circle cx="379.7" cy="223.2" r="1.3"/><circle cx="430.4" cy="196.3" r="1.3"/><circle cx="425.9" cy="214.4" r="1.3"/><circle cx="433.2" cy="212.4" r="1.3"/><circle cx="417.3" cy="175.0" r="1.3"/><circle cx="431.5" cy="213.9" r="1.3"/><circle cx="427.3" cy="200.4" r="1.3"/><circle cx="488.3" cy="225.9" r="1.3"/><circle cx="452.0" cy="226.2" r="1.3"/><circle cx="435.8" cy="192.5" r="1.3"/><circle cx="438.4" cy="193.2" r="1.3"/><circle cx="437.1" cy="206.9" r="1.3"/><circle cx="442.7" cy="215.0" r="1.3"/><circle cx="432.0" cy="196.5" r="1.3"/><circle cx="439.0" cy="201.6" r="1.3"/><circle cx="457.8" cy="214.2" r="1.3"/><circle cx="454.3" cy="210.9" r="1.3"/><circle cx="444.9" cy="223.8" r="1.3"/><circle cx="463.3" cy="207.7" r="1.3"/><circle cx="443.3" cy="188.2" r="1.3"/><circle cx="421.6" cy="173.0" r="1.3"/><circle cx="407.7" cy="217.7" r="1.3"/><circle cx="426.7" cy="197.8" r="1.3"/><circle cx="438.1" cy="197.5" r="1.3"/><circle cx="446.5" cy="198.5" r="1.3"/><circle cx="458.7" cy="176.3" r="1.3"/><circle cx="428.9" cy="196.8" r="1.3"/><circle cx="424.7" cy="158.4" r="1.3"/><circle cx="453.2" cy="196.6" r="1.3"/><circle cx="460.5" cy="188.0" r="1.3"/><circle cx="430.7" cy="235.5" r="1.3"/><circle cx="445.4" cy="211.3" r="1.3"/><circle cx="464.1" cy="199.8" r="1.3"/><circle cx="445.1" cy="206.4" r="1.3"/><circle cx="438.3" cy="216.2" r="1.3"/><circle cx="401.8" cy="190.4" r="1.3"/><circle cx="463.2" cy="199.5" r="1.3"/><circle cx="450.9" cy="197.4" r="1.3"/><circle cx="441.5" cy="246.8" r="1.3"/><circle cx="430.9" cy="204.8" r="1.3"/><circle cx="416.8" cy="169.3" r="1.3"/><circle cx="437.5" cy="217.4" r="1.3"/><circle cx="437.4" cy="248.6" r="1.3"/><circle cx="459.1" cy="186.9" r="1.3"/><circle cx="465.3" cy="202.4" r="1.3"/><circle cx="439.9" cy="221.0" r="1.3"/><circle cx="460.7" cy="193.7" r="1.3"/><circle cx="421.8" cy="198.8" r="1.3"/><circle cx="445.5" cy="182.0" r="1.3"/><circle cx="461.3" cy="185.1" r="1.3"/><circle cx="441.3" cy="166.1" r="1.3"/><circle cx="412.7" cy="223.5" r="1.3"/><circle cx="433.3" cy="183.4" r="1.3"/><circle cx="448.9" cy="210.0" r="1.3"/><circle cx="414.0" cy="209.3" r="1.3"/><circle cx="413.2" cy="192.1" r="1.3"/><circle cx="443.5" cy="204.3" r="1.3"/><circle cx="422.1" cy="201.8" r="1.3"/><circle cx="451.6" cy="194.8" r="1.3"/><circle cx="418.1" cy="204.3" r="1.3"/><circle cx="406.2" cy="204.4" r="1.3"/><circle cx="425.3" cy="185.6" r="1.3"/><circle cx="466.2" cy="180.8" r="1.3"/><circle cx="423.7" cy="188.6" r="1.3"/><circle cx="439.2" cy="205.6" r="1.3"/><circle cx="443.7" cy="227.7" r="1.3"/><circle cx="422.2" cy="229.2" r="1.3"/><circle cx="459.0" cy="208.9" r="1.3"/><circle cx="442.5" cy="220.0" r="1.3"/><circle cx="447.3" cy="205.6" r="1.3"/><circle cx="409.0" cy="222.8" r="1.3"/><circle cx="407.7" cy="205.7" r="1.3"/><circle cx="389.6" cy="210.3" r="1.3"/><circle cx="435.9" cy="198.4" r="1.3"/><circle cx="435.2" cy="203.3" r="1.3"/><circle cx="452.3" cy="236.7" r="1.3"/><circle cx="466.1" cy="182.4" r="1.3"/><circle cx="434.7" cy="203.5" r="1.3"/><circle cx="434.5" cy="193.0" r="1.3"/><circle cx="447.4" cy="220.2" r="1.3"/><circle cx="466.9" cy="235.3" r="1.3"/><circle cx="424.5" cy="197.9" r="1.3"/><circle cx="450.6" cy="154.7" r="1.3"/><circle cx="434.9" cy="214.2" r="1.3"/><circle cx="433.3" cy="214.2" r="1.3"/><circle cx="454.0" cy="173.8" r="1.3"/><circle cx="425.1" cy="199.1" r="1.3"/><circle cx="420.1" cy="202.2" r="1.3"/><circle cx="451.3" cy="162.7" r="1.3"/><circle cx="438.9" cy="215.2" r="1.3"/><circle cx="434.6" cy="211.1" r="1.3"/><circle cx="436.9" cy="207.6" r="1.3"/><circle cx="448.3" cy="184.7" r="1.3"/><circle cx="432.7" cy="190.8" r="1.3"/><circle cx="453.1" cy="192.2" r="1.3"/><circle cx="446.8" cy="211.8" r="1.3"/><circle cx="466.0" cy="186.0" r="1.3"/><circle cx="462.2" cy="229.1" r="1.3"/><circle cx="454.8" cy="210.0" r="1.3"/><circle cx="435.7" cy="165.0" r="1.3"/><circle cx="441.5" cy="233.0" r="1.3"/><circle cx="428.7" cy="206.1" r="1.3"/><circle cx="490.7" cy="193.6" r="1.3"/><circle cx="435.4" cy="205.1" r="1.3"/><circle cx="449.4" cy="171.1" r="1.3"/><circle cx="463.9" cy="206.6" r="1.3"/><circle cx="414.8" cy="159.9" r="1.3"/><circle cx="424.5" cy="185.2" r="1.3"/><circle cx="432.3" cy="227.2" r="1.3"/><circle cx="421.5" cy="225.5" r="1.3"/><circle cx="416.5" cy="197.2" r="1.3"/><circle cx="430.1" cy="186.2" r="1.3"/><circle cx="462.7" cy="219.7" r="1.3"/><circle cx="452.4" cy="202.4" r="1.3"/><circle cx="440.0" cy="207.0" r="1.3"/><circle cx="439.9" cy="214.3" r="1.3"/><circle cx="409.5" cy="184.2" r="1.3"/><circle cx="452.0" cy="217.2" r="1.3"/><circle cx="447.1" cy="165.8" r="1.3"/><circle cx="419.9" cy="229.1" r="1.3"/><circle cx="443.1" cy="175.5" r="1.3"/><circle cx="436.0" cy="192.1" r="1.3"/><circle cx="430.1" cy="191.4" r="1.3"/><circle cx="421.6" cy="216.1" r="1.3"/><circle cx="427.3" cy="216.4" r="1.3"/><circle cx="422.5" cy="209.5" r="1.3"/><circle cx="447.7" cy="212.8" r="1.3"/><circle cx="446.0" cy="211.4" r="1.3"/><circle cx="445.2" cy="201.9" r="1.3"/><circle cx="436.2" cy="169.3" r="1.3"/><circle cx="432.1" cy="162.3" r="1.3"/><circle cx="476.2" cy="162.4" r="1.3"/><circle cx="405.9" cy="202.3" r="1.3"/><circle cx="461.0" cy="199.1" r="1.3"/><circle cx="445.8" cy="200.6" r="1.3"/><circle cx="440.7" cy="207.1" r="1.3"/><circle cx="430.3" cy="198.9" r="1.3"/><circle cx="435.5" cy="185.4" r="1.3"/><circle cx="418.1" cy="176.5" r="1.3"/><circle cx="414.5" cy="169.4" r="1.3"/><circle cx="437.4" cy="224.6" r="1.3"/><circle cx="409.6" cy="219.1" r="1.3"/><circle cx="454.6" cy="179.0" r="1.3"/><circle cx="459.5" cy="198.2" r="1.3"/><circle cx="377.5" cy="210.9" r="1.3"/><circle cx="411.5" cy="231.3" r="1.3"/><circle cx="444.4" cy="192.3" r="1.3"/><circle cx="443.3" cy="206.1" r="1.3"/><circle cx="441.5" cy="223.5" r="1.3"/><circle cx="447.1" cy="172.2" r="1.3"/><circle cx="452.9" cy="190.0" r="1.3"/><circle cx="455.1" cy="202.3" r="1.3"/><circle cx="471.7" cy="190.2" r="1.3"/><circle cx="440.0" cy="240.5" r="1.3"/><circle cx="455.0" cy="218.4" r="1.3"/><circle cx="410.3" cy="206.5" r="1.3"/><circle cx="437.1" cy="185.9" r="1.3"/><circle cx="417.6" cy="218.4" r="1.3"/><circle cx="464.6" cy="214.2" r="1.3"/><circle cx="481.5" cy="193.8" r="1.3"/><circle cx="449.3" cy="195.2" r="1.3"/><circle cx="416.1" cy="177.0" r="1.3"/><circle cx="437.5" cy="201.6" r="1.3"/><circle cx="440.1" cy="218.3" r="1.3"/><circle cx="443.1" cy="220.7" r="1.3"/><circle cx="459.1" cy="213.2" r="1.3"/><circle cx="456.7" cy="217.6" r="1.3"/><circle cx="391.9" cy="192.5" r="1.3"/><circle cx="464.1" cy="194.6" r="1.3"/><circle cx="430.6" cy="224.3" r="1.3"/><circle cx="429.5" cy="210.9" r="1.3"/><circle cx="465.1" cy="188.8" r="1.3"/><circle cx="434.8" cy="211.8" r="1.3"/><circle cx="414.9" cy="217.6" r="1.3"/><circle cx="415.7" cy="215.4" r="1.3"/><circle cx="440.6" cy="204.8" r="1.3"/><circle cx="455.9" cy="193.7" r="1.3"/><circle cx="466.6" cy="210.0" r="1.3"/><circle cx="436.5" cy="233.0" r="1.3"/><circle cx="431.1" cy="205.5" r="1.3"/><circle cx="468.8" cy="191.0" r="1.3"/><circle cx="431.3" cy="208.9" r="1.3"/><circle cx="465.8" cy="181.0" r="1.3"/><circle cx="443.8" cy="206.9" r="1.3"/><circle cx="443.9" cy="197.5" r="1.3"/><circle cx="435.3" cy="219.8" r="1.3"/><circle cx="444.9" cy="204.7" r="1.3"/><circle cx="431.2" cy="221.5" r="1.3"/><circle cx="427.4" cy="243.6" r="1.3"/><circle cx="437.2" cy="199.0" r="1.3"/><circle cx="427.9" cy="188.0" r="1.3"/><circle cx="445.1" cy="211.0" r="1.3"/><circle cx="441.1" cy="201.3" r="1.3"/><circle cx="434.9" cy="205.3" r="1.3"/><circle cx="436.0" cy="192.2" r="1.3"/><circle cx="435.5" cy="212.7" r="1.3"/><circle cx="470.9" cy="204.0" r="1.3"/><circle cx="439.4" cy="164.6" r="1.3"/><circle cx="428.9" cy="198.6" r="1.3"/><circle cx="434.3" cy="208.7" r="1.3"/><circle cx="451.5" cy="223.7" r="1.3"/><circle cx="436.0" cy="192.6" r="1.3"/><circle cx="436.9" cy="188.6" r="1.3"/><circle cx="435.0" cy="223.1" r="1.3"/><circle cx="442.5" cy="192.0" r="1.3"/><circle cx="446.6" cy="204.6" r="1.3"/><circle cx="447.6" cy="211.2" r="1.3"/><circle cx="410.1" cy="215.8" r="1.3"/><circle cx="420.4" cy="202.9" r="1.3"/><circle cx="392.3" cy="183.1" r="1.3"/><circle cx="454.0" cy="220.7" r="1.3"/><circle cx="459.5" cy="195.1" r="1.3"/><circle cx="463.0" cy="193.6" r="1.3"/><circle cx="442.2" cy="238.2" r="1.3"/><circle cx="460.2" cy="218.3" r="1.3"/><circle cx="438.9" cy="184.0" r="1.3"/><circle cx="437.4" cy="194.3" r="1.3"/><circle cx="411.8" cy="198.4" r="1.3"/><circle cx="425.5" cy="189.5" r="1.3"/><circle cx="428.9" cy="168.9" r="1.3"/><circle cx="456.1" cy="216.9" r="1.3"/><circle cx="469.4" cy="216.5" r="1.3"/><circle cx="431.1" cy="207.1" r="1.3"/><circle cx="446.3" cy="195.7" r="1.3"/><circle cx="444.5" cy="206.5" r="1.3"/><circle cx="425.7" cy="214.0" r="1.3"/><circle cx="408.6" cy="184.3" r="1.3"/><circle cx="426.0" cy="196.9" r="1.3"/><circle cx="413.7" cy="192.9" r="1.3"/><circle cx="433.9" cy="215.0" r="1.3"/><circle cx="437.0" cy="207.4" r="1.3"/><circle cx="436.3" cy="179.8" r="1.3"/><circle cx="436.5" cy="191.8" r="1.3"/><circle cx="448.2" cy="233.9" r="1.3"/><circle cx="422.8" cy="185.6" r="1.3"/><circle cx="455.5" cy="205.4" r="1.3"/><circle cx="409.5" cy="191.6" r="1.3"/><circle cx="440.7" cy="224.7" r="1.3"/><circle cx="446.5" cy="201.6" r="1.3"/><circle cx="425.3" cy="195.0" r="1.3"/><circle cx="410.9" cy="182.0" r="1.3"/><circle cx="451.0" cy="198.4" r="1.3"/><circle cx="427.4" cy="217.3" r="1.3"/><circle cx="453.6" cy="214.5" r="1.3"/><circle cx="453.3" cy="179.4" r="1.3"/><circle cx="439.4" cy="230.2" r="1.3"/><circle cx="439.5" cy="198.3" r="1.3"/><circle cx="457.3" cy="184.1" r="1.3"/><circle cx="446.3" cy="204.9" r="1.3"/><circle cx="422.7" cy="191.7" r="1.3"/><circle cx="442.5" cy="192.5" r="1.3"/><circle cx="449.5" cy="191.5" r="1.3"/><circle cx="443.1" cy="201.1" r="1.3"/><circle cx="442.9" cy="193.8" r="1.3"/><circle cx="436.9" cy="172.5" r="1.3"/><circle cx="437.4" cy="211.8" r="1.3"/><circle cx="422.7" cy="193.4" r="1.3"/><circle cx="413.8" cy="223.7" r="1.3"/><circle cx="459.7" cy="212.0" r="1.3"/><circle cx="428.1" cy="213.5" r="1.3"/><circle cx="443.5" cy="205.8" r="1.3"/><circle cx="412.6" cy="225.4" r="1.3"/><circle cx="442.3" cy="196.8" r="1.3"/><circle cx="424.7" cy="185.1" r="1.3"/><circle cx="492.7" cy="208.7" r="1.3"/><circle cx="421.2" cy="154.8" r="1.3"/><circle cx="422.2" cy="196.1" r="1.3"/><circle cx="456.4" cy="206.4" r="1.3"/><circle cx="459.9" cy="195.3" r="1.3"/><circle cx="401.8" cy="224.7" r="1.3"/><circle cx="444.1" cy="214.9" r="1.3"/><circle cx="455.2" cy="204.6" r="1.3"/><circle cx="417.6" cy="195.5" r="1.3"/><circle cx="451.7" cy="221.8" r="1.3"/><circle cx="430.1" cy="190.6" r="1.3"/><circle cx="421.6" cy="195.3" r="1.3"/><circle cx="433.2" cy="215.7" r="1.3"/><circle cx="431.2" cy="213.0" r="1.3"/><circle cx="414.6" cy="238.3" r="1.3"/><circle cx="479.5" cy="198.8" r="1.3"/><circle cx="431.3" cy="169.5" r="1.3"/><circle cx="426.1" cy="214.1" r="1.3"/><circle cx="454.8" cy="224.6" r="1.3"/><circle cx="438.2" cy="199.6" r="1.3"/><circle cx="463.3" cy="229.9" r="1.3"/><circle cx="434.7" cy="233.8" r="1.3"/><circle cx="445.8" cy="190.8" r="1.3"/><circle cx="441.1" cy="194.1" r="1.3"/><circle cx="442.5" cy="180.5" r="1.3"/><circle cx="435.8" cy="212.1" r="1.3"/><circle cx="437.6" cy="215.1" r="1.3"/><circle cx="469.5" cy="213.1" r="1.3"/><circle cx="427.3" cy="180.9" r="1.3"/><circle cx="429.7" cy="189.1" r="1.3"/><circle cx="433.3" cy="177.4" r="1.3"/><circle cx="449.7" cy="174.2" r="1.3"/><circle cx="446.6" cy="178.9" r="1.3"/><circle cx="456.2" cy="174.7" r="1.3"/><circle cx="415.5" cy="199.3" r="1.3"/><circle cx="444.1" cy="209.9" r="1.3"/><circle cx="436.3" cy="213.4" r="1.3"/><circle cx="434.4" cy="202.1" r="1.3"/><circle cx="442.4" cy="190.7" r="1.3"/><circle cx="404.3" cy="202.3" r="1.3"/><circle cx="444.4" cy="212.5" r="1.3"/><circle cx="442.1" cy="197.3" r="1.3"/><circle cx="414.0" cy="203.4" r="1.3"/><circle cx="437.8" cy="197.1" r="1.3"/><circle cx="467.1" cy="193.3" r="1.3"/><circle cx="432.6" cy="203.0" r="1.3"/><circle cx="450.1" cy="182.9" r="1.3"/><circle cx="435.5" cy="220.9" r="1.3"/><circle cx="425.0" cy="175.0" r="1.3"/><circle cx="423.1" cy="210.5" r="1.3"/><circle cx="432.4" cy="178.6" r="1.3"/><circle cx="462.7" cy="228.9" r="1.3"/><circle cx="454.0" cy="217.6" r="1.3"/><circle cx="426.9" cy="188.2" r="1.3"/><circle cx="457.3" cy="194.5" r="1.3"/><circle cx="437.2" cy="182.7" r="1.3"/><circle cx="427.2" cy="201.4" r="1.3"/><circle cx="447.2" cy="209.6" r="1.3"/><circle cx="423.2" cy="247.2" r="1.3"/><circle cx="411.5" cy="178.5" r="1.3"/><circle cx="462.6" cy="224.1" r="1.3"/><circle cx="406.9" cy="192.2" r="1.3"/><circle cx="449.1" cy="207.2" r="1.3"/><circle cx="412.3" cy="217.8" r="1.3"/><circle cx="439.0" cy="211.9" r="1.3"/><circle cx="436.0" cy="209.8" r="1.3"/><circle cx="431.7" cy="199.0" r="1.3"/><circle cx="400.6" cy="202.3" r="1.3"/><circle cx="437.6" cy="205.1" r="1.3"/><circle cx="438.8" cy="223.4" r="1.3"/><circle cx="423.5" cy="176.7" r="1.3"/><circle cx="438.3" cy="193.8" r="1.3"/><circle cx="457.2" cy="180.6" r="1.3"/><circle cx="426.7" cy="185.5" r="1.3"/><circle cx="444.1" cy="188.4" r="1.3"/><circle cx="419.0" cy="221.6" r="1.3"/><circle cx="446.3" cy="239.9" r="1.3"/><circle cx="450.9" cy="226.1" r="1.3"/><circle cx="483.6" cy="181.7" r="1.3"/><circle cx="455.6" cy="203.7" r="1.3"/><circle cx="447.2" cy="182.5" r="1.3"/><circle cx="464.6" cy="210.2" r="1.3"/><circle cx="421.9" cy="224.6" r="1.3"/><circle cx="458.6" cy="212.7" r="1.3"/><circle cx="429.9" cy="217.6" r="1.3"/><circle cx="428.5" cy="199.8" r="1.3"/><circle cx="459.0" cy="168.0" r="1.3"/><circle cx="443.7" cy="167.8" r="1.3"/><circle cx="463.1" cy="200.7" r="1.3"/><circle cx="413.8" cy="212.4" r="1.3"/><circle cx="444.4" cy="224.6" r="1.3"/><circle cx="430.2" cy="196.3" r="1.3"/><circle cx="434.8" cy="203.7" r="1.3"/><circle cx="405.7" cy="206.9" r="1.3"/><circle cx="456.2" cy="221.0" r="1.3"/><circle cx="443.3" cy="201.2" r="1.3"/><circle cx="422.1" cy="183.3" r="1.3"/><circle cx="415.7" cy="221.3" r="1.3"/><circle cx="424.2" cy="209.6" r="1.3"/><circle cx="464.4" cy="209.1" r="1.3"/><circle cx="437.9" cy="180.2" r="1.3"/><circle cx="433.7" cy="202.3" r="1.3"/><circle cx="448.4" cy="172.4" r="1.3"/><circle cx="439.9" cy="167.3" r="1.3"/><circle cx="443.8" cy="198.3" r="1.3"/><circle cx="452.8" cy="194.8" r="1.3"/><circle cx="445.6" cy="212.3" r="1.3"/><circle cx="455.3" cy="227.6" r="1.3"/><circle cx="418.6" cy="201.8" r="1.3"/><circle cx="440.8" cy="233.6" r="1.3"/><circle cx="433.4" cy="192.1" r="1.3"/><circle cx="441.6" cy="215.7" r="1.3"/><circle cx="439.0" cy="180.3" r="1.3"/><circle cx="428.5" cy="204.6" r="1.3"/><circle cx="433.6" cy="196.9" r="1.3"/><circle cx="456.5" cy="198.7" r="1.3"/><circle cx="430.0" cy="212.7" r="1.3"/><circle cx="417.8" cy="169.5" r="1.3"/><circle cx="450.3" cy="204.4" r="1.3"/><circle cx="457.0" cy="188.2" r="1.3"/><circle cx="435.1" cy="204.4" r="1.3"/><circle cx="442.1" cy="209.3" r="1.3"/><circle cx="425.0" cy="195.9" r="1.3"/><circle cx="436.3" cy="195.9" r="1.3"/><circle cx="459.4" cy="182.3" r="1.3"/><circle cx="454.0" cy="212.0" r="1.3"/><circle cx="442.5" cy="190.7" r="1.3"/><circle cx="435.0" cy="210.1" r="1.3"/><circle cx="411.1" cy="177.5" r="1.3"/><circle cx="445.5" cy="226.3" r="1.3"/><circle cx="448.0" cy="184.6" r="1.3"/><circle cx="458.5" cy="222.6" r="1.3"/><circle cx="475.5" cy="194.6" r="1.3"/><circle cx="446.6" cy="211.9" r="1.3"/><circle cx="456.8" cy="199.9" r="1.3"/><circle cx="420.3" cy="214.2" r="1.3"/><circle cx="461.2" cy="202.5" r="1.3"/><circle cx="455.3" cy="224.5" r="1.3"/><circle cx="464.0" cy="214.1" r="1.3"/><circle cx="451.9" cy="214.3" r="1.3"/><circle cx="448.0" cy="231.5" r="1.3"/><circle cx="466.0" cy="190.2" r="1.3"/><circle cx="428.3" cy="225.1" r="1.3"/><circle cx="451.4" cy="203.6" r="1.3"/><circle cx="459.1" cy="176.6" r="1.3"/><circle cx="426.2" cy="210.7" r="1.3"/><circle cx="419.8" cy="198.8" r="1.3"/><circle cx="447.7" cy="231.8" r="1.3"/><circle cx="442.3" cy="193.8" r="1.3"/><circle cx="450.8" cy="203.3" r="1.3"/><circle cx="451.4" cy="206.5" r="1.3"/><circle cx="426.6" cy="169.2" r="1.3"/><circle cx="446.1" cy="211.3" r="1.3"/><circle cx="459.9" cy="185.1" r="1.3"/><circle cx="433.9" cy="226.9" r="1.3"/><circle cx="435.1" cy="231.4" r="1.3"/><circle cx="420.4" cy="202.3" r="1.3"/><circle cx="454.5" cy="174.8" r="1.3"/><circle cx="474.4" cy="205.6" r="1.3"/><circle cx="416.1" cy="205.5" r="1.3"/><circle cx="453.6" cy="215.0" r="1.3"/><circle cx="456.0" cy="197.2" r="1.3"/><circle cx="430.4" cy="181.6" r="1.3"/><circle cx="433.7" cy="199.9" r="1.3"/><circle cx="421.9" cy="186.3" r="1.3"/><circle cx="426.5" cy="233.3" r="1.3"/><circle cx="443.1" cy="190.1" r="1.3"/><circle cx="451.7" cy="191.0" r="1.3"/><circle cx="442.3" cy="201.6" r="1.3"/><circle cx="455.3" cy="180.8" r="1.3"/><circle cx="443.9" cy="194.6" r="1.3"/><circle cx="419.8" cy="200.0" r="1.3"/><circle cx="465.7" cy="193.9" r="1.3"/><circle cx="461.1" cy="198.0" r="1.3"/><circle cx="427.8" cy="224.0" r="1.3"/><circle cx="471.4" cy="210.0" r="1.3"/><circle cx="448.5" cy="179.1" r="1.3"/><circle cx="442.6" cy="194.9" r="1.3"/><circle cx="474.0" cy="215.4" r="1.3"/><circle cx="396.5" cy="191.1" r="1.3"/><circle cx="412.2" cy="203.8" r="1.3"/><circle cx="452.8" cy="201.9" r="1.3"/><circle cx="436.1" cy="211.6" r="1.3"/><circle cx="423.8" cy="199.3" r="1.3"/><circle cx="466.8" cy="199.9" r="1.3"/><circle cx="448.9" cy="187.4" r="1.3"/><circle cx="418.0" cy="208.7" r="1.3"/><circle cx="428.8" cy="186.2" r="1.3"/><circle cx="455.2" cy="232.6" r="1.3"/><circle cx="471.8" cy="202.0" r="1.3"/><circle cx="405.3" cy="198.5" r="1.3"/><circle cx="444.8" cy="216.1" r="1.3"/><circle cx="433.8" cy="200.9" r="1.3"/><circle cx="409.8" cy="203.9" r="1.3"/><circle cx="437.5" cy="201.5" r="1.3"/><circle cx="412.3" cy="189.8" r="1.3"/><circle cx="431.1" cy="186.3" r="1.3"/><circle cx="468.9" cy="190.2" r="1.3"/><circle cx="449.5" cy="222.1" r="1.3"/><circle cx="454.2" cy="191.5" r="1.3"/><circle cx="451.0" cy="195.3" r="1.3"/><circle cx="446.7" cy="194.6" r="1.3"/><circle cx="457.6" cy="214.6" r="1.3"/><circle cx="420.1" cy="236.9" r="1.3"/><circle cx="434.2" cy="186.3" r="1.3"/><circle cx="455.5" cy="212.0" r="1.3"/><circle cx="427.8" cy="204.5" r="1.3"/><circle cx="432.9" cy="197.1" r="1.3"/><circle cx="461.8" cy="211.2" r="1.3"/><circle cx="467.5" cy="180.3" r="1.3"/><circle cx="430.0" cy="216.9" r="1.3"/><circle cx="426.3" cy="206.2" r="1.3"/><circle cx="450.9" cy="185.0" r="1.3"/><circle cx="445.4" cy="230.1" r="1.3"/><circle cx="428.8" cy="217.2" r="1.3"/><circle cx="451.1" cy="222.6" r="1.3"/><circle cx="450.4" cy="177.1" r="1.3"/><circle cx="442.1" cy="197.7" r="1.3"/><circle cx="492.3" cy="193.3" r="1.3"/><circle cx="464.6" cy="213.3" r="1.3"/><circle cx="455.0" cy="226.0" r="1.3"/><circle cx="458.7" cy="169.2" r="1.3"/><circle cx="492.7" cy="202.8" r="1.3"/><circle cx="460.0" cy="200.2" r="1.3"/><circle cx="428.1" cy="219.8" r="1.3"/><circle cx="446.4" cy="201.7" r="1.3"/><circle cx="442.0" cy="180.3" r="1.3"/><circle cx="430.7" cy="199.0" r="1.3"/><circle cx="445.3" cy="184.4" r="1.3"/><circle cx="445.1" cy="188.9" r="1.3"/><circle cx="439.7" cy="203.1" r="1.3"/><circle cx="432.2" cy="194.0" r="1.3"/><circle cx="455.3" cy="207.3" r="1.3"/><circle cx="412.7" cy="176.0" r="1.3"/><circle cx="455.2" cy="242.8" r="1.3"/><circle cx="440.9" cy="224.3" r="1.3"/><circle cx="445.6" cy="214.9" r="1.3"/><circle cx="399.0" cy="179.9" r="1.3"/><circle cx="470.3" cy="164.9" r="1.3"/><circle cx="410.3" cy="187.4" r="1.3"/><circle cx="425.5" cy="198.4" r="1.3"/><circle cx="452.1" cy="241.2" r="1.3"/><circle cx="430.1" cy="225.1" r="1.3"/><circle cx="433.6" cy="193.3" r="1.3"/><circle cx="401.5" cy="223.4" r="1.3"/><circle cx="433.1" cy="223.7" r="1.3"/><circle cx="444.5" cy="202.7" r="1.3"/><circle cx="452.7" cy="223.6" r="1.3"/><circle cx="435.7" cy="208.1" r="1.3"/><circle cx="444.6" cy="191.0" r="1.3"/><circle cx="448.5" cy="182.0" r="1.3"/><circle cx="428.9" cy="200.3" r="1.3"/><circle cx="427.6" cy="219.7" r="1.3"/><circle cx="475.3" cy="178.8" r="1.3"/><circle cx="425.8" cy="174.4" r="1.3"/><circle cx="462.5" cy="212.0" r="1.3"/><circle cx="442.0" cy="155.2" r="1.3"/><circle cx="466.7" cy="234.1" r="1.3"/><circle cx="429.5" cy="194.8" r="1.3"/><circle cx="449.9" cy="215.1" r="1.3"/><circle cx="446.6" cy="234.7" r="1.3"/><circle cx="436.8" cy="177.2" r="1.3"/><circle cx="446.3" cy="184.1" r="1.3"/><circle cx="427.3" cy="241.4" r="1.3"/><circle cx="439.4" cy="197.5" r="1.3"/><circle cx="433.8" cy="200.2" r="1.3"/><circle cx="454.2" cy="206.3" r="1.3"/><circle cx="439.2" cy="220.8" r="1.3"/><circle cx="416.3" cy="225.4" r="1.3"/><circle cx="434.3" cy="204.3" r="1.3"/><circle cx="439.1" cy="196.6" r="1.3"/><circle cx="424.9" cy="201.8" r="1.3"/><circle cx="464.3" cy="207.7" r="1.3"/><circle cx="447.9" cy="225.2" r="1.3"/><circle cx="455.7" cy="204.8" r="1.3"/><circle cx="427.3" cy="234.0" r="1.3"/><circle cx="433.8" cy="187.5" r="1.3"/><circle cx="458.6" cy="211.6" r="1.3"/><circle cx="415.5" cy="232.9" r="1.3"/><circle cx="447.3" cy="224.8" r="1.3"/><circle cx="442.4" cy="208.2" r="1.3"/><circle cx="432.0" cy="187.1" r="1.3"/><circle cx="442.4" cy="190.0" r="1.3"/><circle cx="421.8" cy="199.7" r="1.3"/><circle cx="444.8" cy="207.8" r="1.3"/><circle cx="419.3" cy="198.1" r="1.3"/><circle cx="418.3" cy="177.1" r="1.3"/><circle cx="465.5" cy="189.6" r="1.3"/><circle cx="428.4" cy="211.4" r="1.3"/><circle cx="403.5" cy="216.9" r="1.3"/><circle cx="458.0" cy="178.1" r="1.3"/><circle cx="427.2" cy="196.1" r="1.3"/><circle cx="378.6" cy="173.3" r="1.3"/><circle cx="439.8" cy="192.6" r="1.3"/><circle cx="447.0" cy="203.5" r="1.3"/><circle cx="471.2" cy="196.4" r="1.3"/><circle cx="438.6" cy="192.2" r="1.3"/><circle cx="451.4" cy="181.4" r="1.3"/><circle cx="423.0" cy="170.1" r="1.3"/><circle cx="443.7" cy="201.7" r="1.3"/><circle cx="467.9" cy="197.6" r="1.3"/><circle cx="449.7" cy="228.1" r="1.3"/><circle cx="443.7" cy="174.0" r="1.3"/><circle cx="405.9" cy="210.0" r="1.3"/><circle cx="434.2" cy="225.7" r="1.3"/><circle cx="418.0" cy="168.4" r="1.3"/><circle cx="454.6" cy="213.8" r="1.3"/><circle cx="427.8" cy="174.4" r="1.3"/><circle cx="447.2" cy="211.5" r="1.3"/><circle cx="423.1" cy="228.1" r="1.3"/><circle cx="474.2" cy="202.3" r="1.3"/><circle cx="420.1" cy="207.4" r="1.3"/><circle cx="443.3" cy="190.3" r="1.3"/><circle cx="487.4" cy="207.4" r="1.3"/><circle cx="444.6" cy="222.1" r="1.3"/><circle cx="425.4" cy="199.2" r="1.3"/><circle cx="451.7" cy="200.0" r="1.3"/><circle cx="458.4" cy="209.2" r="1.3"/><circle cx="456.3" cy="216.7" r="1.3"/><circle cx="405.9" cy="174.0" r="1.3"/><circle cx="444.7" cy="203.4" r="1.3"/><circle cx="403.1" cy="190.5" r="1.3"/><circle cx="474.5" cy="211.0" r="1.3"/><circle cx="442.1" cy="220.4" r="1.3"/><circle cx="432.7" cy="207.8" r="1.3"/><circle cx="452.8" cy="224.9" r="1.3"/><circle cx="449.5" cy="185.2" r="1.3"/><circle cx="419.8" cy="195.3" r="1.3"/><circle cx="469.7" cy="185.2" r="1.3"/><circle cx="436.6" cy="203.4" r="1.3"/><circle cx="409.7" cy="204.1" r="1.3"/><circle cx="465.7" cy="199.0" r="1.3"/><circle cx="468.1" cy="181.3" r="1.3"/><circle cx="463.2" cy="201.1" r="1.3"/><circle cx="450.6" cy="194.8" r="1.3"/><circle cx="425.0" cy="212.9" r="1.3"/><circle cx="457.5" cy="197.7" r="1.3"/><circle cx="473.9" cy="222.6" r="1.3"/><circle cx="455.4" cy="206.4" r="1.3"/><circle cx="469.4" cy="170.1" r="1.3"/><circle cx="427.1" cy="199.4" r="1.3"/><circle cx="459.0" cy="177.6" r="1.3"/><circle cx="457.6" cy="219.3" r="1.3"/><circle cx="414.4" cy="227.4" r="1.3"/><circle cx="412.0" cy="202.0" r="1.3"/><circle cx="428.1" cy="210.1" r="1.3"/><circle cx="442.4" cy="177.3" r="1.3"/><circle cx="449.0" cy="163.3" r="1.3"/><circle cx="436.9" cy="192.8" r="1.3"/><circle cx="439.8" cy="198.0" r="1.3"/><circle cx="438.9" cy="176.1" r="1.3"/><circle cx="442.5" cy="204.0" r="1.3"/><circle cx="451.3" cy="207.9" r="1.3"/><circle cx="449.8" cy="213.6" r="1.3"/><circle cx="440.0" cy="229.4" r="1.3"/><circle cx="445.6" cy="216.5" r="1.3"/><circle cx="432.9" cy="196.1" r="1.3"/><circle cx="455.1" cy="204.3" r="1.3"/><circle cx="431.9" cy="212.9" r="1.3"/><circle cx="470.2" cy="184.2" r="1.3"/><circle cx="440.5" cy="225.5" r="1.3"/><circle cx="445.8" cy="218.1" r="1.3"/><circle cx="427.4" cy="198.5" r="1.3"/><circle cx="434.8" cy="191.3" r="1.3"/><circle cx="441.3" cy="217.1" r="1.3"/><circle cx="429.9" cy="218.8" r="1.3"/><circle cx="420.2" cy="233.7" r="1.3"/><circle cx="441.7" cy="219.5" r="1.3"/><circle cx="443.7" cy="206.1" r="1.3"/><circle cx="450.8" cy="214.7" r="1.3"/><circle cx="463.2" cy="186.6" r="1.3"/><circle cx="435.4" cy="214.9" r="1.3"/><circle cx="405.3" cy="175.7" r="1.3"/><circle cx="438.4" cy="209.8" r="1.3"/><circle cx="408.0" cy="212.2" r="1.3"/><circle cx="418.0" cy="175.4" r="1.3"/><circle cx="459.4" cy="235.9" r="1.3"/><circle cx="451.1" cy="182.5" r="1.3"/><circle cx="429.5" cy="220.7" r="1.3"/><circle cx="429.6" cy="193.3" r="1.3"/><circle cx="439.4" cy="207.9" r="1.3"/><circle cx="409.6" cy="191.1" r="1.3"/><circle cx="449.6" cy="245.9" r="1.3"/><circle cx="434.7" cy="220.5" r="1.3"/><circle cx="473.9" cy="234.1" r="1.3"/><circle cx="422.0" cy="216.2" r="1.3"/><circle cx="458.9" cy="214.7" r="1.3"/><circle cx="428.8" cy="205.3" r="1.3"/><circle cx="459.2" cy="198.5" r="1.3"/><circle cx="423.5" cy="213.2" r="1.3"/><circle cx="454.1" cy="205.5" r="1.3"/><circle cx="433.1" cy="200.0" r="1.3"/><circle cx="426.2" cy="178.7" r="1.3"/><circle cx="438.3" cy="197.4" r="1.3"/><circle cx="449.5" cy="213.2" r="1.3"/><circle cx="448.2" cy="194.5" r="1.3"/><circle cx="469.3" cy="208.8" r="1.3"/><circle cx="455.7" cy="200.3" r="1.3"/><circle cx="393.8" cy="184.8" r="1.3"/><circle cx="433.8" cy="187.0" r="1.3"/><circle cx="405.3" cy="189.9" r="1.3"/><circle cx="430.1" cy="204.5" r="1.3"/><circle cx="431.1" cy="224.7" r="1.3"/><circle cx="482.1" cy="195.8" r="1.3"/><circle cx="400.8" cy="240.9" r="1.3"/><circle cx="466.1" cy="159.2" r="1.3"/><circle cx="424.0" cy="202.4" r="1.3"/><circle cx="436.5" cy="240.1" r="1.3"/><circle cx="494.9" cy="184.3" r="1.3"/><circle cx="462.6" cy="193.0" r="1.3"/><circle cx="475.8" cy="208.8" r="1.3"/><circle cx="445.3" cy="198.3" r="1.3"/><circle cx="476.3" cy="213.3" r="1.3"/><circle cx="414.7" cy="250.0" r="1.3"/><circle cx="423.7" cy="221.7" r="1.3"/><circle cx="499.3" cy="177.1" r="1.3"/><circle cx="498.5" cy="246.1" r="1.3"/><circle cx="418.6" cy="217.6" r="1.3"/><circle cx="483.9" cy="249.1" r="1.3"/><circle cx="435.2" cy="167.4" r="1.3"/><circle cx="480.7" cy="254.9" r="1.3"/><circle cx="429.3" cy="205.1" r="1.3"/><circle cx="437.0" cy="226.9" r="1.3"/><circle cx="430.5" cy="194.4" r="1.3"/><circle cx="440.3" cy="172.4" r="1.3"/><circle cx="447.0" cy="197.0" r="1.3"/><circle cx="390.6" cy="221.7" r="1.3"/><circle cx="503.8" cy="197.0" r="1.3"/><circle cx="426.7" cy="195.3" r="1.3"/><circle cx="374.1" cy="247.4" r="1.3"/><circle cx="418.6" cy="174.3" r="1.3"/><circle cx="491.5" cy="201.8" r="1.3"/><circle cx="380.9" cy="236.6" r="1.3"/><circle cx="429.4" cy="185.7" r="1.3"/><circle cx="373.4" cy="171.6" r="1.3"/><circle cx="482.1" cy="232.2" r="1.3"/><circle cx="454.8" cy="205.5" r="1.3"/><circle cx="453.3" cy="202.9" r="1.3"/><circle cx="502.2" cy="166.2" r="1.3"/><circle cx="479.5" cy="209.8" r="1.3"/><circle cx="392.4" cy="194.4" r="1.3"/><circle cx="402.7" cy="221.8" r="1.3"/><circle cx="376.5" cy="238.4" r="1.3"/><circle cx="508.2" cy="164.4" r="1.3"/><circle cx="434.4" cy="229.5" r="1.3"/><circle cx="446.2" cy="227.9" r="1.3"/><circle cx="448.7" cy="199.9" r="1.3"/><circle cx="420.6" cy="203.7" r="1.3"/><circle cx="485.2" cy="176.5" r="1.3"/><circle cx="452.7" cy="216.8" r="1.3"/><circle cx="370.4" cy="251.9" r="1.3"/><circle cx="475.5" cy="234.2" r="1.3"/><circle cx="413.9" cy="191.3" r="1.3"/><circle cx="424.5" cy="222.6" r="1.3"/><circle cx="449.8" cy="220.2" r="1.3"/><circle cx="483.1" cy="184.6" r="1.3"/><circle cx="416.7" cy="163.8" r="1.3"/><circle cx="451.8" cy="194.5" r="1.3"/></g>
<g fill="none" stroke="#6495ed" stroke-width="1.0" class="s"><circle cx="464.4" cy="183.9" r="1.3"/><circle cx="467.3" cy="184.6" r="1.3"/><circle cx="460.8" cy="189.0" r="1.3"/><circle cx="463.0" cy="184.4" r="1.3"/><circle cx="458.1" cy="191.5" r="1.3"/><circle cx="455.0" cy="190.3" r="1.3"/><circle cx="466.2" cy="184.6" r="1.3"/><circle cx="462.1" cy="185.6" r="1.3"/><circle cx="455.8" cy="193.2" r="1.3"/><circle cx="459.3" cy="189.9" r="1.3"/><circle cx="462.5" cy="185.4" r="1.3"/><circle cx="470.3" cy="179.8" r="1.3"/><circle cx="466.6" cy="180.4" r="1.3"/><circle cx="466.4" cy="182.5" r="1.3"/><circle cx="455.3" cy="194.2" r="1.3"/><circle cx="466.0" cy="190.5" r="1.3"/><circle cx="465.6" cy="184.6" r="1.3"/><circle cx="464.6" cy="184.3" r="1.3"/><circle cx="463.7" cy="183.0" r="1.3"/><circle cx="462.6" cy="187.9" r="1.3"/><circle cx="469.4" cy="176.9" r="1.3"/><circle cx="468.9" cy="178.9" r="1.3"/><circle cx="462.6" cy="186.5" r="1.3"/><circle cx="457.0" cy="188.5" r="1.3"/><circle cx="473.7" cy="179.1" r="1.3"/><circle cx="461.1" cy="189.2" r="1.3"/><circle cx="467.8" cy="180.3" r="1.3"/><circle cx="471.1" cy="177.4" r="1.3"/><circle cx="457.1" cy="188.2" r="1.3"/><circle cx="462.8" cy="183.1" r="1.3"/><circle cx="461.5" cy="187.7" r="1.3"/><circle cx="465.7" cy="184.4" r="1.3"/><circle cx="464.5" cy="184.9" r="1.3"/><circle cx="472.0" cy="178.2" r="1.3"/><circle cx="464.9" cy="182.8" r="1.3"/><circle cx="463.0" cy="186.2" r="1.3"/><circle cx="466.6" cy="179.7" r="1.3"/><circle cx="461.4" cy="186.9" r="1.3"/><circle cx="462.3" cy="188.8" r="1.3"/><circle cx="474.4" cy="178.1" r="1.3"/><circle cx="458.4" cy="188.6" r="1.3"/><circle cx="460.1" cy="187.4" r="1.3"/><circle cx="464.2" cy="187.1" r="1.3"/><circle cx="459.4" cy="192.0" r="1.3"/><circle cx="451.4" cy="192.8" r="1.3"/><circle cx="467.2" cy="181.0" r="1.3"/><circle cx="459.2" cy="189.2" r="1.3"/><circle cx="461.3" cy="189.3" r="1.3"/><circle cx="460.2" cy="186.4" r="1.3"/><circle cx="458.7" cy="190.5" r="1.3"/><circle cx="457.4" cy="189.8" r="1.3"/><circle cx="465.6" cy="187.7" r="1.3"/><circle cx="474.3" cy="176.5" r="1.3"/><circle cx="466.0" cy="182.7" r="1.3"/><circle cx="465.9" cy="182.4" r="1.3"/><circle cx="456.6" cy="193.0" r="1.3"/><circle cx="463.2" cy="186.6" r="1.3"/><circle cx="456.1" cy="189.5" r="1.3"/><circle cx="466.5" cy="182.9" r="1.3"/><circle cx="460.4" cy="185.3" r="1.3"/><circle cx="462.2" cy="184.8" r="1.3"/><circle cx="461.1" cy="184.8" r="1.3"/><circle cx="458.7" cy="186.8" r="1.3"/><circle cx="454.9" cy="191.3" r="1.3"/><circle cx="464.5" cy="182.4" r="1.3"/><circle cx="456.7" cy="192.0" r="1.3"/><circle cx="457.9" cy="191.4" r="1.3"/><circle cx="461.1" cy="186.7" r="1.3"/><circle cx="458.3" cy="187.5" r="1.3"/><circle cx="464.6" cy="185.6" r="1.3"/><circle cx="465.5" cy="179.5" r="1.3"/><circle cx="462.1" cy="182.7" r="1.3"/><circle cx="464.3" cy="185.8" r="1.3"/><circle cx="463.4" cy="186.4" r="1.3"/><circle cx="467.6" cy="183.3" r="1.3"/><circle cx="453.8" cy="193.1" r="1.3"/><circle cx="463.2" cy="183.0" r="1.3"/><circle cx="457.8" cy="189.0" r="1.3"/><circle cx="457.4" cy="191.4" r="1.3"/><circle cx="462.0" cy="185.0" r="1.3"/><circle cx="460.2" cy="186.6" r="1.3"/><circle cx="464.1" cy="181.9" r="1.3"/><circle cx="466.8" cy="180.1" r="1.3"/><circle cx="452.6" cy="196.1" r="1.3"/><circle cx="462.8" cy="186.6" r="1.3"/><circle cx="470.8" cy="176.6" r="1.3"/><circle cx="465.7" cy="181.1" r="1.3"/><circle cx="468.9" cy="179.3" r="1.3"/><circle cx="463.7" cy="186.0" r="1.3"/><circle cx="454.9" cy="190.4" r="1.3"/><circle cx="457.3" cy="190.2" r="1.3"/><circle cx="464.0" cy="180.6" r="1.3"/><circle cx="466.0" cy="180.6" r="1.3"/><circle cx="459.6" cy="189.2" r="1.3"/><circle cx="462.3" cy="187.8" r="1.3"/><circle cx="462.8" cy="183.5" r="1.3"/><circle cx="453.8" cy="192.1" r="1.3"/><circle cx="461.8" cy="188.1" r="1.3"/><circle cx="469.9" cy="178.8" r="1.3"/><circle cx="472.4" cy="176.3" r="1.3"/><circle cx="462.7" cy="186.8" r="1.3"/><circle cx="471.4" cy="178.6" r="1.3"/><circle cx="461.3" cy="189.1" r="1.3"/><circle cx="459.6" cy="189.9" r="1.3"/><circle cx="451.7" cy="194.3" r="1.3"/><circle cx="467.1" cy="181.8" r="1.3"/><circle cx="460.9" cy="187.3" r="1.3"/><circle cx="472.4" cy="174.8" r="1.3"/><circle cx="463.3" cy="183.4" r="1.3"/><circle cx="464.5" cy="186.1" r="1.3"/><circle cx="452.8" cy="191.5" r="1.3"/><circle cx="470.6" cy="180.7" r="1.3"/><circle cx="461.3" cy="187.6" r="1.3"/><circle cx="461.8" cy="186.3" r="1.3"/><circle cx="452.9" cy="195.3" r="1.3"/><circle cx="467.5" cy="182.5" r="1.3"/><circle cx="468.4" cy="183.1" r="1.3"/><circle cx="459.5" cy="187.8" r="1.3"/><circle cx="462.9" cy="185.2" r="1.3"/><circle cx="464.3" cy="183.9" r="1.3"/><circle cx="468.9" cy="183.9" r="1.3"/><circle cx="464.1" cy="186.4" r="1.3"/><circle cx="469.9" cy="177.8" r="1.3"/><circle cx="461.3" cy="186.4" r="1.3"/><circle cx="459.2" cy="187.5" r="1.3"/><circle cx="460.5" cy="187.7" r="1.3"/><circle cx="451.0" cy="196.3" r="1.3"/><circle cx="461.0" cy="191.5" r="1.3"/><circle cx="465.7" cy="179.8" r="1.3"/><circle cx="464.9" cy="185.8" r="1.3"/><circle cx="459.3" cy="189.6" r="1.3"/><circle cx="463.7" cy="183.6" r="1.3"/><circle cx="453.1" cy="193.8" r="1.3"/><circle cx="460.9" cy="186.4" r="1.3"/><circle cx="465.2" cy="183.7" r="1.3"/><circle cx="466.9" cy="184.0" r="1.3"/><circle cx="457.7" cy="187.3" r="1.3"/><circle cx="468.2" cy="183.5" r="1.3"/><circle cx="471.1" cy="177.8" r="1.3"/><circle cx="462.1" cy="189.1" r="1.3"/><circle cx="466.6" cy="183.2" r="1.3"/><circle cx="456.6" cy="193.4" r="1.3"/><circle cx="454.1" cy="194.4" r="1.3"/><circle cx="466.6" cy="184.4" r="1.3"/><circle cx="463.0" cy="185.7" r="1.3"/><circle cx="462.9" cy="184.1" r="1.3"/><circle cx="460.6" cy="188.9" r="1.3"/><circle cx="462.0" cy="187.7" r="1.3"/><circle cx="468.4" cy="184.7" r="1.3"/><circle cx="468.9" cy="176.7" r="1.3"/><circle cx="461.5" cy="186.4" r="1.3"/><circle cx="456.0" cy="193.6" r="1.3"/><circle cx="467.5" cy="179.3" r="1.3"/><circle cx="465.3" cy="183.1" r="1.3"/><circle cx="467.9" cy="185.2" r="1.3"/><circle cx="464.9" cy="186.5" r="1.3"/><circle cx="472.8" cy="175.4" r="1.3"/><circle cx="464.4" cy="187.0" r="1.3"/><circle cx="466.2" cy="184.9" r="1.3"/><circle cx="454.8" cy="194.1" r="1.3"/><circle cx="460.4" cy="188.5" r="1.3"/><circle cx="459.7" cy="188.8" r="1.3"/><circle cx="461.8" cy="185.0" r="1.3"/><circle cx="463.9" cy="183.8" r="1.3"/><circle cx="459.9" cy="189.6" r="1.3"/><circle cx="471.0" cy="178.9" r="1.3"/><circle cx="459.4" cy="192.1" r="1.3"/><circle cx="460.3" cy="187.3" r="1.3"/><circle cx="461.6" cy="182.3" r="1.3"/><circle cx="456.6" cy="190.5" r="1.3"/><circle cx="465.7" cy="183.7" r="1.3"/><circle cx="466.0" cy="183.6" r="1.3"/><circle cx="461.4" cy="187.0" r="1.3"/><circle cx="470.9" cy="177.1" r="1.3"/><circle cx="464.5" cy="187.0" r="1.3"/><circle cx="463.4" cy="183.9" r="1.3"/><circle cx="458.9" cy="190.4" r="1.3"/><circle cx="454.6" cy="192.3" r="1.3"/><circle cx="458.7" cy="187.1" r="1.3"/><circle cx="462.5" cy="188.6" r="1.3"/><circle cx="458.3" cy="185.0" r="1.3"/><circle cx="465.6" cy="181.8" r="1.3"/><circle cx="452.0" cy="196.0" r="1.3"/><circle cx="457.1" cy="190.0" r="1.3"/><circle cx="454.9" cy="194.0" r="1.3"/><circle cx="468.9" cy="180.2" r="1.3"/><circle cx="459.7" cy="187.6" r="1.3"/><circle cx="462.3" cy="190.2" r="1.3"/><circle cx="457.4" cy="190.0" r="1.3"/><circle cx="466.8" cy="182.0" r="1.3"/><circle cx="459.8" cy="186.3" r="1.3"/><circle cx="463.1" cy="184.1" r="1.3"/><circle cx="453.8" cy="194.8" r="1.3"/><circle cx="468.7" cy="181.6" r="1.3"/><circle cx="464.6" cy="184.2" r="1.3"/><circle cx="464.7" cy="182.8" r="1.3"/><circle cx="469.2" cy="181.5" r="1.3"/><circle cx="460.3" cy="184.8" r="1.3"/><circle cx="461.6" cy="186.1" r="1.3"/><circle cx="465.9" cy="182.6" r="1.3"/><circle cx="464.0" cy="183.2" r="1.3"/><circle cx="461.7" cy="186.9" r="1.3"/><circle cx="462.3" cy="184.9" r="1.3"/><circle cx="459.7" cy="187.0" r="1.3"/><circle cx="467.8" cy="184.8" r="1.3"/><circle cx="467.8" cy="182.8" r="1.3"/><circle cx="463.9" cy="187.0" r="1.3"/><circle cx="471.6" cy="178.2" r="1.3"/><circle cx="456.4" cy="193.1" r="1.3"/><circle cx="462.4" cy="187.6" r="1.3"/><circle cx="471.9" cy="180.1" r="1.3"/><circle cx="463.0" cy="190.0" r="1.3"/><circle cx="455.1" cy="192.1" r="1.3"/><circle cx="469.5" cy="180.4" r="1.3"/><circle cx="465.3" cy="183.5" r="1.3"/><circle cx="453.9" cy="186.9" r="1.3"/><circle cx="465.1" cy="181.2" r="1.3"/><circle cx="458.0" cy="190.0" r="1.3"/><circle cx="457.1" cy="191.9" r="1.3"/><circle cx="461.5" cy="185.8" r="1.3"/><circle cx="461.6" cy="188.9" r="1.3"/><circle cx="458.8" cy="191.6" r="1.3"/><circle cx="460.7" cy="186.8" r="1.3"/><circle cx="459.4" cy="191.4" r="1.3"/><circle cx="464.7" cy="187.4" r="1.3"/><circle cx="463.1" cy="186.4" r="1.3"/><circle cx="465.4" cy="181.7" r="1.3"/><circle cx="462.0" cy="189.2" r="1.3"/><circle cx="456.4" cy="191.0" r="1.3"/><circle cx="456.2" cy="190.8" r="1.3"/><circle cx="463.2" cy="184.4" r="1.3"/><circle cx="460.4" cy="189.3" r="1.3"/><circle cx="470.8" cy="181.6" r="1.3"/><circle cx="468.9" cy="183.0" r="1.3"/><circle cx="465.3" cy="173.4" r="1.3"/><circle cx="465.0" cy="180.9" r="1.3"/><circle cx="456.9" cy="188.3" r="1.3"/><circle cx="461.7" cy="186.0" r="1.3"/><circle cx="468.6" cy="181.3" r="1.3"/><circle cx="462.1" cy="189.5" r="1.3"/><circle cx="481.6" cy="171.4" r="1.3"/><circle cx="461.3" cy="186.6" r="1.3"/><circle cx="459.5" cy="188.7" r="1.3"/><circle cx="472.8" cy="182.9" r="1.3"/><circle cx="466.5" cy="180.5" r="1.3"/><circle cx="463.3" cy="186.3" r="1.3"/><circle cx="464.2" cy="189.8" r="1.3"/><circle cx="466.1" cy="184.0" r="1.3"/><circle cx="464.7" cy="177.4" r="1.3"/><circle cx="468.2" cy="182.3" r="1.3"/><circle cx="416.0" cy="225.3" r="1.3"/><circle cx="418.0" cy="225.2" r="1.3"/><circle cx="423.3" cy="220.6" r="1.3"/><circle cx="420.1" cy="222.2" r="1.3"/><circle cx="418.1" cy="226.7" r="1.3"/><circle cx="423.9" cy="223.0" r="1.3"/><circle cx="420.1" cy="222.5" r="1.3"/><circle cx="419.2" cy="224.6" r="1.3"/><circle cx="420.6" cy="224.5" r="1.3"/><circle cx="420.2" cy="224.4" r="1.3"/><circle cx="417.0" cy="226.0" r="1.3"/><circle cx="417.8" cy="228.3" r="1.3"/><circle cx="420.1" cy="226.5" r="1.3"/><circle cx="415.3" cy="229.9" r="1.3"/><circle cx="413.1" cy="230.0" r="1.3"/><circle cx="427.2" cy="223.2" r="1.3"/><circle cx="419.7" cy="228.6" r="1.3"/><circle cx="418.7" cy="225.2" r="1.3"/><circle cx="418.5" cy="226.0" r="1.3"/><circle cx="420.4" cy="226.9" r="1.3"/><circle cx="418.6" cy="224.6" r="1.3"/><circle cx="419.9" cy="225.8" r="1.3"/><circle cx="415.4" cy="228.6" r="1.3"/><circle cx="423.0" cy="221.3" r="1.3"/><circle cx="415.7" cy="227.9" r="1.3"/><circle cx="422.7" cy="219.9" r="1.3"/><circle cx="409.6" cy="232.1" r="1.3"/><circle cx="412.3" cy="227.2" r="1.3"/><circle cx="426.0" cy="224.6" r="1.3"/><circle cx="419.9" cy="227.9" r="1.3"/><circle cx="417.2" cy="229.5" r="1.3"/><circle cx="421.3" cy="224.6" r="1.3"/><circle cx="415.2" cy="230.7" r="1.3"/><circle cx="420.7" cy="226.8" r="1.3"/><circle cx="409.7" cy="235.0" r="1.3"/><circle cx="417.9" cy="228.4" r="1.3"/><circle cx="415.3" cy="226.9" r="1.3"/><circle cx="422.2" cy="224.1" r="1.3"/><circle cx="422.9" cy="221.7" r="1.3"/><circle cx="414.1" cy="227.4" r="1.3"/><circle cx="425.8" cy="218.3" r="1.3"/><circle cx="416.8" cy="228.3" r="1.3"/><circle cx="410.5" cy="234.4" r="1.3"/><circle cx="406.7" cy="232.8" r="1.3"/><circle cx="428.1" cy="222.0" r="1.3"/><circle cx="420.1" cy="227.7" r="1.3"/><circle cx="415.8" cy="227.5" r="1.3"/><circle cx="415.2" cy="227.8" r="1.3"/><circle cx="414.0" cy="229.6" r="1.3"/><circle cx="426.5" cy="221.8" r="1.3"/><circle cx="418.5" cy="225.5" r="1.3"/><circle cx="426.6" cy="217.7" r="1.3"/><circle cx="418.6" cy="226.7" r="1.3"/><circle cx="406.2" cy="231.8" r="1.3"/><circle cx="423.3" cy="222.6" r="1.3"/><circle cx="418.5" cy="228.3" r="1.3"/><circle cx="418.4" cy="226.8" r="1.3"/><circle cx="427.3" cy="220.7" r="1.3"/><circle cx="418.4" cy="227.2" r="1.3"/><circle cx="425.4" cy="222.2" r="1.3"/><circle cx="419.3" cy="225.8" r="1.3"/><circle cx="414.9" cy="227.4" r="1.3"/><circle cx="421.4" cy="223.5" r="1.3"/><circle cx="416.3" cy="227.7" r="1.3"/><circle cx="426.2" cy="222.6" r="1.3"/><circle cx="425.2" cy="224.0" r="1.3"/><circle cx="419.9" cy="225.9" r="1.3"/><circle cx="421.4" cy="222.5" r="1.3"/><circle cx="421.2" cy="222.7" r="1.3"/><circle cx="417.7" cy="226.4" r="1.3"/><circle cx="424.7" cy="223.9" r="1.3"/><circle cx="418.4" cy="226.8" r="1.3"/><circle cx="422.1" cy="223.3" r="1.3"/><circle cx="414.0" cy="228.2" r="1.3"/><circle cx="420.5" cy="226.3" r="1.3"/><circle cx="421.4" cy="224.4" r="1.3"/><circle cx="415.4" cy="228.5" r="1.3"/><circle cx="417.3" cy="227.3" r="1.3"/><circle cx="418.2" cy="229.6" r="1.3"/><circle cx="422.5" cy="222.7" r="1.3"/><circle cx="417.4" cy="230.2" r="1.3"/><circle cx="422.4" cy="225.4" r="1.3"/><circle cx="426.5" cy="220.0" r="1.3"/><circle cx="421.7" cy="225.3" r="1.3"/><circle cx="411.5" cy="231.4" r="1.3"/><circle cx="419.1" cy="224.1" r="1.3"/><circle cx="423.9" cy="221.4" r="1.3"/><circle cx="417.0" cy="225.6" r="1.3"/><circle cx="424.9" cy="222.1" r="1.3"/><circle cx="422.2" cy="223.3" r="1.3"/><circle cx="421.7" cy="224.7" r="1.3"/><circle cx="418.8" cy="227.5" r="1.3"/><circle cx="413.9" cy="223.8" r="1.3"/><circle cx="418.3" cy="226.9" r="1.3"/><circle cx="417.9" cy="223.2" r="1.3"/><circle cx="421.9" cy="223.8" r="1.3"/><circle cx="420.4" cy="223.0" r="1.3"/><circle cx="417.9" cy="226.8" r="1.3"/><circle cx="420.8" cy="226.9" r="1.3"/><circle cx="419.5" cy="222.1" r="1.3"/><circle cx="411.7" cy="231.8" r="1.3"/><circle cx="415.5" cy="228.3" r="1.3"/><circle cx="413.7" cy="226.3" r="1.3"/><circle cx="418.9" cy="227.1" r="1.3"/><circle cx="418.0" cy="226.6" r="1.3"/><circle cx="417.6" cy="225.9" r="1.3"/><circle cx="414.5" cy="227.9" r="1.3"/><circle cx="425.4" cy="226.9" r="1.3"/><circle cx="420.2" cy="224.1" r="1.3"/><circle cx="409.8" cy="229.5" r="1.3"/><circle cx="418.5" cy="224.4" r="1.3"/><circle cx="413.6" cy="229.3" r="1.3"/><circle cx="427.0" cy="218.8" r="1.3"/><circle cx="417.0" cy="227.1" r="1.3"/><circle cx="416.4" cy="225.8" r="1.3"/><circle cx="420.2" cy="225.9" r="1.3"/><circle cx="417.9" cy="225.7" r="1.3"/><circle cx="417.7" cy="224.1" r="1.3"/><circle cx="425.8" cy="218.9" r="1.3"/><circle cx="420.0" cy="224.3" r="1.3"/><circle cx="424.0" cy="223.5" r="1.3"/><circle cx="425.1" cy="221.9" r="1.3"/><circle cx="414.4" cy="228.7" r="1.3"/><circle cx="427.3" cy="219.3" r="1.3"/><circle cx="422.7" cy="223.2" r="1.3"/><circle cx="425.7" cy="224.4" r="1.3"/><circle cx="414.6" cy="228.0" r="1.3"/><circle cx="423.6" cy="223.1" r="1.3"/><circle cx="421.9" cy="224.9" r="1.3"/><circle cx="415.9" cy="226.4" r="1.3"/><circle cx="430.3" cy="217.3" r="1.3"/><circle cx="422.1" cy="223.6" r="1.3"/><circle cx="417.7" cy="225.9" r="1.3"/><circle cx="420.7" cy="225.5" r="1.3"/><circle cx="424.5" cy="223.4" r="1.3"/><circle cx="425.7" cy="222.7" r="1.3"/><circle cx="421.9" cy="223.2" r="1.3"/><circle cx="425.2" cy="221.3" r="1.3"/><circle cx="428.4" cy="222.9" r="1.3"/><circle cx="412.4" cy="228.8" r="1.3"/><circle cx="417.2" cy="227.6" r="1.3"/><circle cx="415.7" cy="230.1" r="1.3"/><circle cx="419.9" cy="225.3" r="1.3"/><circle cx="426.7" cy="221.0" r="1.3"/><circle cx="422.5" cy="223.3" r="1.3"/><circle cx="415.0" cy="230.3" r="1.3"/><circle cx="419.1" cy="228.1" r="1.3"/><circle cx="424.0" cy="221.5" r="1.3"/><circle cx="417.0" cy="227.7" r="1.3"/><circle cx="418.8" cy="225.8" r="1.3"/><circle cx="420.4" cy="223.9" r="1.3"/><circle cx="410.7" cy="232.2" r="1.3"/><circle cx="421.9" cy="221.3" r="1.3"/><circle cx="421.6" cy="225.1" r="1.3"/><circle cx="423.6" cy="225.4" r="1.3"/><circle cx="416.2" cy="231.2" r="1.3"/><circle cx="416.8" cy="229.9" r="1.3"/><circle cx="415.6" cy="226.6" r="1.3"/><circle cx="421.9" cy="226.4" r="1.3"/><circle cx="419.0" cy="224.4" r="1.3"/><circle cx="419.8" cy="225.0" r="1.3"/><circle cx="429.5" cy="221.1" r="1.3"/><circle cx="424.5" cy="219.4" r="1.3"/><circle cx="416.7" cy="229.2" r="1.3"/><circle cx="416.5" cy="228.3" r="1.3"/><circle cx="427.3" cy="219.0" r="1.3"/><circle cx="417.0" cy="225.7" r="1.3"/><circle cx="426.2" cy="220.9" r="1.3"/><circle cx="426.4" cy="219.1" r="1.3"/><circle cx="417.7" cy="228.8" r="1.3"/><circle cx="419.2" cy="228.0" r="1.3"/><circle cx="418.4" cy="223.6" r="1.3"/><circle cx="414.7" cy="228.1" r="1.3"/><circle cx="414.4" cy="228.8" r="1.3"/><circle cx="416.3" cy="225.6" r="1.3"/><circle cx="422.3" cy="221.1" r="1.3"/><circle cx="417.3" cy="227.3" r="1.3"/><circle cx="418.1" cy="226.0" r="1.3"/><circle cx="415.6" cy="225.3" r="1.3"/><circle cx="412.3" cy="229.9" r="1.3"/><circle cx="426.8" cy="220.7" r="1.3"/><circle cx="407.1" cy="232.8" r="1.3"/><circle cx="415.3" cy="226.9" r="1.3"/><circle cx="423.4" cy="225.3" r="1.3"/><circle cx="413.9" cy="232.2" r="1.3"/><circle cx="420.7" cy="221.4" r="1.3"/><circle cx="424.0" cy="219.3" r="1.3"/><circle cx="415.6" cy="229.1" r="1.3"/><circle cx="419.2" cy="223.3" r="1.3"/><circle cx="413.8" cy="229.3" r="1.3"/><circle cx="421.3" cy="223.1" r="1.3"/><circle cx="420.2" cy="225.9" r="1.3"/><circle cx="418.0" cy="221.7" r="1.3"/><circle cx="423.7" cy="217.9" r="1.3"/><circle cx="420.4" cy="222.3" r="1.3"/><circle cx="426.6" cy="221.8" r="1.3"/><circle cx="422.1" cy="223.0" r="1.3"/><circle cx="412.0" cy="227.9" r="1.3"/><circle cx="421.0" cy="225.1" r="1.3"/><circle cx="422.3" cy="224.6" r="1.3"/><circle cx="412.2" cy="230.6" r="1.3"/><circle cx="425.3" cy="220.2" r="1.3"/><circle cx="420.0" cy="225.8" r="1.3"/><circle cx="422.1" cy="225.6" r="1.3"/><circle cx="415.2" cy="229.0" r="1.3"/><circle cx="420.1" cy="225.9" r="1.3"/><circle cx="420.7" cy="224.4" r="1.3"/><circle cx="417.4" cy="226.3" r="1.3"/><circle cx="418.8" cy="224.1" r="1.3"/><circle cx="409.5" cy="233.7" r="1.3"/><circle cx="425.5" cy="220.1" r="1.3"/><circle cx="413.8" cy="229.4" r="1.3"/><circle cx="409.8" cy="234.7" r="1.3"/><circle cx="415.2" cy="229.7" r="1.3"/><circle cx="416.1" cy="229.6" r="1.3"/><circle cx="420.4" cy="221.7" r="1.3"/><circle cx="415.5" cy="229.6" r="1.3"/><circle cx="420.1" cy="223.8" r="1.3"/><circle cx="414.0" cy="228.1" r="1.3"/><circle cx="428.9" cy="216.4" r="1.3"/><circle cx="423.0" cy="224.9" r="1.3"/><circle cx="429.3" cy="219.3" r="1.3"/><circle cx="413.8" cy="228.4" r="1.3"/><circle cx="421.4" cy="221.7" r="1.3"/><circle cx="414.8" cy="229.1" r="1.3"/><circle cx="421.6" cy="222.9" r="1.3"/><circle cx="424.0" cy="225.0" r="1.3"/><circle cx="410.4" cy="229.7" r="1.3"/><circle cx="412.2" cy="227.6" r="1.3"/><circle cx="413.5" cy="229.5" r="1.3"/><circle cx="422.3" cy="229.4" r="1.3"/><circle cx="420.0" cy="224.8" r="1.3"/><circle cx="423.6" cy="221.4" r="1.3"/><circle cx="430.6" cy="213.2" r="1.3"/><circle cx="418.6" cy="229.2" r="1.3"/><circle cx="416.4" cy="229.0" r="1.3"/><circle cx="407.2" cy="233.1" r="1.3"/><circle cx="421.8" cy="225.8" r="1.3"/><circle cx="425.4" cy="222.5" r="1.3"/><circle cx="414.7" cy="223.2" r="1.3"/><circle cx="427.8" cy="221.2" r="1.3"/><circle cx="419.6" cy="225.7" r="1.3"/><circle cx="428.1" cy="217.4" r="1.3"/><circle cx="420.7" cy="223.1" r="1.3"/><circle cx="415.2" cy="234.3" r="1.3"/><circle cx="417.5" cy="231.8" r="1.3"/><circle cx="412.3" cy="236.8" r="1.3"/><circle cx="406.5" cy="231.9" r="1.3"/><circle cx="419.9" cy="223.0" r="1.3"/><circle cx="426.1" cy="223.1" r="1.3"/></g>
<circle cx="38.5" cy="7.2" r="6.9" fill="#7373f2"/>
<circle cx="38.5" cy="7.2" r="5.3" fill="none" stroke="#fff" stroke-width="1.1" stroke-dasharray="1.9 1.0"/>
<text x="52.4" y="14" font-size="19.4">Ground Truth</text>
<circle cx="195.9" cy="7.2" r="6.9" fill="#00a800"/>
<circle cx="195.9" cy="7.2" r="5.3" fill="none" stroke="#fff" stroke-width="1.1" stroke-dasharray="1.9 1.0"/>
<text x="209.9" y="14" font-size="19.4">ProFITi</text>
<circle cx="313.9" cy="7.2" r="6.9" fill="#ffb877"/>
<circle cx="313.9" cy="7.2" r="5.3" fill="none" stroke="#fff" stroke-width="1.1" stroke-dasharray="1.9 1.0"/>
<text x="328.4" y="14" font-size="19.4">GPR</text>
<circle cx="432.2" cy="7.2" r="6.9" fill="#ff1a1a"/>
<circle cx="432.2" cy="7.2" r="5.3" fill="none" stroke="#fff" stroke-width="1.1" stroke-dasharray="1.9 1.0"/>
<text x="446.0" y="14" font-size="19.4">GLM</text>
<text x="35.5" y="298.9" font-size="24.6">(a)</text>
<text x="68.5" y="298.7" font-size="19.4">ProFITi</text>
<text x="229.5" y="301.0" font-size="24.6">(b)</text>
<text x="264.2" y="300.8" font-size="19.4">GPR</text>
<text x="409.5" y="301.0" font-size="24.6">(c)</text>
<text x="443.6" y="300.8" font-size="19.4">GLM</text>
</svg></body></html>
